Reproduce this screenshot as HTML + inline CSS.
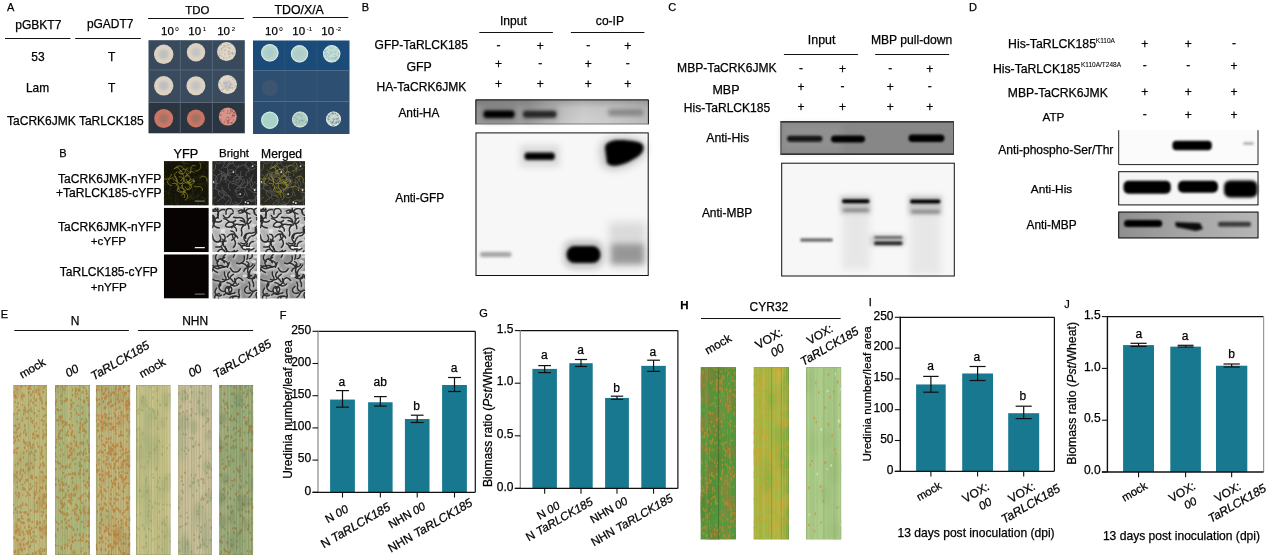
<!DOCTYPE html>
<html><head><meta charset="utf-8"><style>
html,body{margin:0;padding:0;background:#fff;width:1269px;height:557px;overflow:hidden}
svg{display:block;font-family:"Liberation Sans",sans-serif;will-change:transform} text{stroke:#000;stroke-width:0.25px}
</style></head><body>
<svg width="1269" height="557" viewBox="0 0 1269 557">
<defs><filter id="b05" x="-50%" y="-50%" width="200%" height="200%"><feGaussianBlur stdDeviation="0.5"/></filter><filter id="b1" x="-50%" y="-50%" width="200%" height="200%"><feGaussianBlur stdDeviation="1"/></filter><filter id="b15" x="-50%" y="-50%" width="200%" height="200%"><feGaussianBlur stdDeviation="1.5"/></filter><filter id="b2" x="-50%" y="-50%" width="200%" height="200%"><feGaussianBlur stdDeviation="2"/></filter><filter id="b3" x="-50%" y="-50%" width="200%" height="200%"><feGaussianBlur stdDeviation="3"/></filter><filter id="b4" x="-50%" y="-50%" width="200%" height="200%"><feGaussianBlur stdDeviation="4"/></filter><linearGradient id="gHA" x1="0" x2="1" y1="0" y2="0">
<stop offset="0" stop-color="#9a9a9a"/><stop offset="0.3" stop-color="#a2a2a2"/><stop offset="0.42" stop-color="#bcbcbc"/>
<stop offset="0.62" stop-color="#d2d2d2"/><stop offset="0.75" stop-color="#cdcdcd"/><stop offset="1" stop-color="#bababa"/></linearGradient><linearGradient id="gHAv" x1="0" x2="0" y1="0" y2="1">
<stop offset="0" stop-color="#000" stop-opacity="0.22"/><stop offset="0.35" stop-color="#000" stop-opacity="0.05"/><stop offset="1" stop-color="#000" stop-opacity="0"/></linearGradient><clipPath id="c00"><rect x="163.8" y="161.1" width="45.0" height="44.5"/></clipPath><clipPath id="c01"><rect x="212.2" y="161.1" width="45.0" height="44.5"/></clipPath><clipPath id="c02"><rect x="260.1" y="161.1" width="45.0" height="44.5"/></clipPath><clipPath id="c10"><rect x="163.8" y="207.7" width="45.0" height="44.5"/></clipPath><clipPath id="c11"><rect x="212.2" y="207.7" width="45.0" height="44.5"/></clipPath><clipPath id="c12"><rect x="260.1" y="207.7" width="45.0" height="44.5"/></clipPath><clipPath id="c20"><rect x="163.8" y="254.3" width="45.0" height="44.30000000000001"/></clipPath><clipPath id="c21"><rect x="212.2" y="254.3" width="45.0" height="44.30000000000001"/></clipPath><clipPath id="c22"><rect x="260.1" y="254.3" width="45.0" height="44.30000000000001"/></clipPath><linearGradient id="gMBP" x1="0" x2="1" y1="0" y2="0">
<stop offset="0" stop-color="#8e8e8e"/><stop offset="0.45" stop-color="#a4a4a4"/><stop offset="1" stop-color="#b6b6b6"/></linearGradient><clipPath id="lf1"><rect x="13.3" y="385" width="33.7" height="170"/></clipPath><clipPath id="lf2"><rect x="55" y="385" width="34.900000000000006" height="170"/></clipPath><clipPath id="lf3"><rect x="95.9" y="385" width="34.29999999999998" height="170"/></clipPath><clipPath id="lf4"><rect x="136" y="385" width="34.599999999999994" height="170"/></clipPath><clipPath id="lf5"><rect x="177.9" y="385" width="34.0" height="170"/></clipPath><clipPath id="lf6"><rect x="219.2" y="385" width="34.0" height="170"/></clipPath><clipPath id="lf21"><rect x="700.6" y="367.1" width="35.39999999999998" height="172.5"/></clipPath><clipPath id="lf22"><rect x="753.6" y="367.1" width="35.39999999999998" height="172.5"/></clipPath><linearGradient id="lg22" x1="0" x2="1" y1="0" y2="0"><stop offset="0" stop-color="#6a9a38" stop-opacity="0"/><stop offset="0.7" stop-color="#6a9a38" stop-opacity="0"/><stop offset="1" stop-color="#5a9a38" stop-opacity="0.6"/></linearGradient><clipPath id="lf23"><rect x="806" y="367.1" width="35.299999999999955" height="172.5"/></clipPath></defs>
<rect width="1269" height="557" fill="#fff"/>
<text x="7.1" y="10.7" font-size="11" text-anchor="start" fill="#000" id="A">A</text>
<text x="15.19" y="28.73" font-size="12.047" text-anchor="start" fill="#000" id="pGBKT7">pGBKT7</text>
<text x="86.92" y="27.83" font-size="11.982" text-anchor="start" fill="#000" id="pGADT7">pGADT7</text>
<line x1="5" y1="38.5" x2="70.5" y2="38.5" stroke="#111" stroke-width="1"/>
<line x1="75.2" y1="38.5" x2="140.8" y2="38.5" stroke="#111" stroke-width="1"/>
<text x="31.23" y="61.3" font-size="12" text-anchor="start" fill="#000" id="53">53</text>
<text x="107.91" y="61.3" font-size="12" text-anchor="start" fill="#000" id="T1">T</text>
<text x="26.0" y="91.86" font-size="11.898" text-anchor="start" fill="#000" id="Lam">Lam</text>
<text x="107.91" y="91.86" font-size="12" text-anchor="start" fill="#000" id="T2">T</text>
<text x="7.03" y="125.32" font-size="12.035" text-anchor="start" fill="#000" id="A_pair">TaCRK6JMK TaRLCK185</text>
<text x="185.36" y="13.61" font-size="11.454" text-anchor="start" fill="#000" id="TDO">TDO</text>
<line x1="148.1" y1="18.5" x2="243.9" y2="18.5" stroke="#111" stroke-width="1"/>
<text x="274.49" y="14.2" font-size="12.337" text-anchor="start" fill="#000" id="TDOXA">TDO/X/A</text>
<line x1="252.7" y1="17.5" x2="348.3" y2="17.5" stroke="#111" stroke-width="1"/>
<text x="161" y="34.8" font-size="11.5" text-anchor="start" fill="#000">10</text>
<text x="175.3" y="30.699999999999996" font-size="6.2" text-anchor="start" fill="#000" style="stroke-width:0.08px">0</text>
<text x="188.3" y="34.8" font-size="11.5" text-anchor="start" fill="#000">10</text>
<text x="202.8" y="30.699999999999996" font-size="6.2" text-anchor="start" fill="#000" style="stroke-width:0.08px">1</text>
<text x="217.2" y="34.8" font-size="11.5" text-anchor="start" fill="#000">10</text>
<text x="231.7" y="30.699999999999996" font-size="6.2" text-anchor="start" fill="#000" style="stroke-width:0.08px">2</text>
<text x="265" y="34.8" font-size="11.5" text-anchor="start" fill="#000">10</text>
<text x="279.3" y="30.699999999999996" font-size="6.2" text-anchor="start" fill="#000" style="stroke-width:0.08px">0</text>
<text x="292.3" y="34.8" font-size="11.5" text-anchor="start" fill="#000">10</text>
<text x="306.8" y="30.699999999999996" font-size="6.2" text-anchor="start" fill="#000" style="stroke-width:0.08px">-1</text>
<text x="321.3" y="34.8" font-size="11.5" text-anchor="start" fill="#000">10</text>
<text x="335.8" y="30.699999999999996" font-size="6.2" text-anchor="start" fill="#000" style="stroke-width:0.08px">-2</text>
<rect x="148.5" y="40.2" width="96.30000000000001" height="29.799999999999997" fill="#394a5d"/>
<rect x="148.5" y="70" width="96.30000000000001" height="32.3" fill="#3a4b5e"/>
<rect x="148.5" y="102.3" width="96.30000000000001" height="31.000000000000014" fill="#2b3540"/>
<line x1="180.3" y1="40.2" x2="180.3" y2="133.3" stroke="#5b6c80" stroke-width="0.8" opacity="1"/>
<line x1="212.4" y1="40.2" x2="212.4" y2="133.3" stroke="#5b6c80" stroke-width="0.8" opacity="1"/>
<line x1="148.5" y1="70" x2="244.8" y2="70" stroke="#5b6c80" stroke-width="0.8"/>
<line x1="148.5" y1="102.3" x2="244.8" y2="102.3" stroke="#5b6c80" stroke-width="0.8"/>
<circle cx="163.7" cy="54.3" r="9.7" fill="#ddd2c2" filter="url(#b05)"/>
<circle cx="163.7" cy="54.3" r="4.85" fill="#aab4c0" opacity="0.6" filter="url(#b1)"/>
<circle cx="196" cy="52.2" r="9.2" fill="#ddd2c2" filter="url(#b05)"/>
<circle cx="196" cy="52.2" r="4.6" fill="#b4bcc4" opacity="0.6" filter="url(#b1)"/>
<circle cx="226.5" cy="51.6" r="9.5" fill="#e0d6c6" filter="url(#b05)"/>
<circle cx="225.0" cy="54.6" r="0.75" fill="#9a9a98" opacity="0.45"/>
<circle cx="225.2" cy="49.7" r="0.75" fill="#9a9a98" opacity="0.45"/>
<circle cx="221.5" cy="50.4" r="0.75" fill="#9a9a98" opacity="0.45"/>
<circle cx="232.2" cy="53.8" r="0.75" fill="#9a9a98" opacity="0.45"/>
<circle cx="232.0" cy="52.9" r="0.75" fill="#9a9a98" opacity="0.45"/>
<circle cx="228.8" cy="52.7" r="0.75" fill="#9a9a98" opacity="0.45"/>
<circle cx="219.6" cy="55.2" r="0.75" fill="#9a9a98" opacity="0.45"/>
<circle cx="229.4" cy="54.4" r="0.75" fill="#9a9a98" opacity="0.45"/>
<circle cx="220.7" cy="45.6" r="0.75" fill="#9a9a98" opacity="0.45"/>
<circle cx="221.7" cy="49.1" r="0.75" fill="#9a9a98" opacity="0.45"/>
<circle cx="228.3" cy="51.3" r="0.75" fill="#9a9a98" opacity="0.45"/>
<circle cx="229.4" cy="48.0" r="0.75" fill="#9a9a98" opacity="0.45"/>
<circle cx="228.3" cy="53.9" r="0.75" fill="#9a9a98" opacity="0.45"/>
<circle cx="223.7" cy="58.8" r="0.75" fill="#9a9a98" opacity="0.45"/>
<circle cx="229.2" cy="57.5" r="0.75" fill="#9a9a98" opacity="0.45"/>
<circle cx="223.1" cy="47.6" r="0.75" fill="#9a9a98" opacity="0.45"/>
<circle cx="224.5" cy="51.0" r="0.75" fill="#9a9a98" opacity="0.45"/>
<circle cx="230.1" cy="53.0" r="0.75" fill="#9a9a98" opacity="0.45"/>
<circle cx="224.1" cy="46.5" r="0.75" fill="#9a9a98" opacity="0.45"/>
<circle cx="223.9" cy="57.6" r="0.75" fill="#9a9a98" opacity="0.45"/>
<circle cx="222.0" cy="53.0" r="0.75" fill="#9a9a98" opacity="0.45"/>
<circle cx="228.5" cy="44.7" r="0.75" fill="#9a9a98" opacity="0.45"/>
<circle cx="226.7" cy="58.1" r="0.75" fill="#9a9a98" opacity="0.45"/>
<circle cx="218.6" cy="50.3" r="0.75" fill="#9a9a98" opacity="0.45"/>
<circle cx="225.9" cy="47.1" r="0.75" fill="#9a9a98" opacity="0.45"/>
<circle cx="229.4" cy="51.2" r="0.75" fill="#9a9a98" opacity="0.45"/>
<circle cx="220.0" cy="55.3" r="0.75" fill="#9a9a98" opacity="0.45"/>
<circle cx="230.0" cy="56.5" r="0.75" fill="#9a9a98" opacity="0.45"/>
<circle cx="233.3" cy="53.3" r="0.75" fill="#9a9a98" opacity="0.45"/>
<circle cx="227.1" cy="45.2" r="0.75" fill="#9a9a98" opacity="0.45"/>
<circle cx="229.9" cy="48.2" r="0.75" fill="#9a9a98" opacity="0.45"/>
<circle cx="224.3" cy="45.4" r="0.75" fill="#9a9a98" opacity="0.45"/>
<circle cx="221.4" cy="48.8" r="0.75" fill="#9a9a98" opacity="0.45"/>
<circle cx="231.0" cy="44.6" r="0.75" fill="#9a9a98" opacity="0.45"/>
<circle cx="219.6" cy="52.7" r="0.75" fill="#9a9a98" opacity="0.45"/>
<circle cx="233.1" cy="54.3" r="0.75" fill="#9a9a98" opacity="0.45"/>
<circle cx="221.4" cy="44.8" r="0.75" fill="#9a9a98" opacity="0.45"/>
<circle cx="228.5" cy="47.5" r="0.75" fill="#9a9a98" opacity="0.45"/>
<circle cx="221.2" cy="56.2" r="0.75" fill="#9a9a98" opacity="0.45"/>
<circle cx="232.3" cy="52.4" r="0.75" fill="#9a9a98" opacity="0.45"/>
<circle cx="163.7" cy="85.8" r="9.7" fill="#ddd2c2" filter="url(#b05)"/>
<circle cx="163.7" cy="85.8" r="4.85" fill="#aab4c0" opacity="0.6" filter="url(#b1)"/>
<circle cx="195.9" cy="85.8" r="9.5" fill="#ddd2c2" filter="url(#b05)"/>
<circle cx="195.9" cy="85.8" r="4.75" fill="#b4bcc4" opacity="0.6" filter="url(#b1)"/>
<circle cx="227.5" cy="84.6" r="9.5" fill="#e2d8c8" filter="url(#b05)"/>
<circle cx="227.5" cy="84.6" r="4.75" fill="#b8bcc0" opacity="0.6" filter="url(#b1)"/>
<circle cx="228.9" cy="87.1" r="0.75" fill="#a0a0a0" opacity="0.45"/>
<circle cx="234.5" cy="87.3" r="0.75" fill="#a0a0a0" opacity="0.45"/>
<circle cx="230.4" cy="87.7" r="0.75" fill="#a0a0a0" opacity="0.45"/>
<circle cx="221.3" cy="89.7" r="0.75" fill="#a0a0a0" opacity="0.45"/>
<circle cx="232.5" cy="87.4" r="0.75" fill="#a0a0a0" opacity="0.45"/>
<circle cx="219.8" cy="82.1" r="0.75" fill="#a0a0a0" opacity="0.45"/>
<circle cx="230.9" cy="77.4" r="0.75" fill="#a0a0a0" opacity="0.45"/>
<circle cx="226.5" cy="90.0" r="0.75" fill="#a0a0a0" opacity="0.45"/>
<circle cx="222.4" cy="90.8" r="0.75" fill="#a0a0a0" opacity="0.45"/>
<circle cx="230.7" cy="83.7" r="0.75" fill="#a0a0a0" opacity="0.45"/>
<circle cx="229.3" cy="88.3" r="0.75" fill="#a0a0a0" opacity="0.45"/>
<circle cx="228.1" cy="90.5" r="0.75" fill="#a0a0a0" opacity="0.45"/>
<circle cx="223.8" cy="82.3" r="0.75" fill="#a0a0a0" opacity="0.45"/>
<circle cx="233.0" cy="84.7" r="0.75" fill="#a0a0a0" opacity="0.45"/>
<circle cx="223.1" cy="89.3" r="0.75" fill="#a0a0a0" opacity="0.45"/>
<circle cx="234.3" cy="82.5" r="0.75" fill="#a0a0a0" opacity="0.45"/>
<circle cx="220.8" cy="83.9" r="0.75" fill="#a0a0a0" opacity="0.45"/>
<circle cx="226.6" cy="82.8" r="0.75" fill="#a0a0a0" opacity="0.45"/>
<circle cx="233.6" cy="80.1" r="0.75" fill="#a0a0a0" opacity="0.45"/>
<circle cx="232.9" cy="79.2" r="0.75" fill="#a0a0a0" opacity="0.45"/>
<circle cx="223.3" cy="88.0" r="0.75" fill="#a0a0a0" opacity="0.45"/>
<circle cx="232.9" cy="88.7" r="0.75" fill="#a0a0a0" opacity="0.45"/>
<circle cx="229.6" cy="85.4" r="0.75" fill="#a0a0a0" opacity="0.45"/>
<circle cx="228.4" cy="87.9" r="0.75" fill="#a0a0a0" opacity="0.45"/>
<circle cx="226.4" cy="86.3" r="0.75" fill="#a0a0a0" opacity="0.45"/>
<circle cx="230.8" cy="84.6" r="0.75" fill="#a0a0a0" opacity="0.45"/>
<circle cx="231.6" cy="87.7" r="0.75" fill="#a0a0a0" opacity="0.45"/>
<circle cx="235.4" cy="85.9" r="0.75" fill="#a0a0a0" opacity="0.45"/>
<circle cx="225.0" cy="82.4" r="0.75" fill="#a0a0a0" opacity="0.45"/>
<circle cx="227.4" cy="89.6" r="0.75" fill="#a0a0a0" opacity="0.45"/>
<circle cx="225.5" cy="86.9" r="0.75" fill="#a0a0a0" opacity="0.45"/>
<circle cx="232.5" cy="77.7" r="0.75" fill="#a0a0a0" opacity="0.45"/>
<circle cx="221.7" cy="85.9" r="0.75" fill="#a0a0a0" opacity="0.45"/>
<circle cx="229.8" cy="86.0" r="0.75" fill="#a0a0a0" opacity="0.45"/>
<circle cx="225.1" cy="88.3" r="0.75" fill="#a0a0a0" opacity="0.45"/>
<circle cx="229.1" cy="81.6" r="0.75" fill="#a0a0a0" opacity="0.45"/>
<circle cx="235.8" cy="85.8" r="0.75" fill="#a0a0a0" opacity="0.45"/>
<circle cx="224.3" cy="84.0" r="0.75" fill="#a0a0a0" opacity="0.45"/>
<circle cx="226.1" cy="84.2" r="0.75" fill="#a0a0a0" opacity="0.45"/>
<circle cx="219.2" cy="83.1" r="0.75" fill="#a0a0a0" opacity="0.45"/>
<circle cx="163.7" cy="118.5" r="9.5" fill="#cc7666" filter="url(#b05)"/>
<circle cx="163.7" cy="118.5" r="4.75" fill="#8a7068" opacity="0.6" filter="url(#b1)"/>
<circle cx="195.9" cy="118.5" r="9" fill="#c87464" filter="url(#b05)"/>
<circle cx="195.9" cy="118.5" r="4.5" fill="#8a7068" opacity="0.6" filter="url(#b1)"/>
<circle cx="227.8" cy="116.6" r="9" fill="#d8948a" filter="url(#b05)"/>
<circle cx="232.2" cy="111.5" r="0.75" fill="#7a3434" opacity="0.45"/>
<circle cx="227.5" cy="121.5" r="0.75" fill="#7a3434" opacity="0.45"/>
<circle cx="231.3" cy="122.8" r="0.75" fill="#7a3434" opacity="0.45"/>
<circle cx="220.8" cy="115.1" r="0.75" fill="#7a3434" opacity="0.45"/>
<circle cx="226.0" cy="120.0" r="0.75" fill="#7a3434" opacity="0.45"/>
<circle cx="230.8" cy="109.2" r="0.75" fill="#7a3434" opacity="0.45"/>
<circle cx="232.2" cy="110.8" r="0.75" fill="#7a3434" opacity="0.45"/>
<circle cx="230.7" cy="110.3" r="0.75" fill="#7a3434" opacity="0.45"/>
<circle cx="228.6" cy="122.4" r="0.75" fill="#7a3434" opacity="0.45"/>
<circle cx="227.0" cy="117.7" r="0.75" fill="#7a3434" opacity="0.45"/>
<circle cx="232.0" cy="117.3" r="0.75" fill="#7a3434" opacity="0.45"/>
<circle cx="227.4" cy="123.3" r="0.75" fill="#7a3434" opacity="0.45"/>
<circle cx="233.0" cy="115.1" r="0.75" fill="#7a3434" opacity="0.45"/>
<circle cx="235.2" cy="113.5" r="0.75" fill="#7a3434" opacity="0.45"/>
<circle cx="232.5" cy="115.2" r="0.75" fill="#7a3434" opacity="0.45"/>
<circle cx="228.5" cy="120.4" r="0.75" fill="#7a3434" opacity="0.45"/>
<circle cx="229.0" cy="120.1" r="0.75" fill="#7a3434" opacity="0.45"/>
<circle cx="222.3" cy="111.2" r="0.75" fill="#7a3434" opacity="0.45"/>
<circle cx="230.8" cy="111.9" r="0.75" fill="#7a3434" opacity="0.45"/>
<circle cx="223.7" cy="110.7" r="0.75" fill="#7a3434" opacity="0.45"/>
<circle cx="233.5" cy="119.9" r="0.75" fill="#7a3434" opacity="0.45"/>
<circle cx="233.8" cy="112.8" r="0.75" fill="#7a3434" opacity="0.45"/>
<circle cx="227.8" cy="111.0" r="0.75" fill="#7a3434" opacity="0.45"/>
<circle cx="230.9" cy="123.1" r="0.75" fill="#7a3434" opacity="0.45"/>
<circle cx="224.2" cy="122.9" r="0.75" fill="#7a3434" opacity="0.45"/>
<circle cx="232.8" cy="115.7" r="0.75" fill="#7a3434" opacity="0.45"/>
<circle cx="221.4" cy="121.2" r="0.75" fill="#7a3434" opacity="0.45"/>
<circle cx="227.3" cy="113.3" r="0.75" fill="#7a3434" opacity="0.45"/>
<circle cx="230.0" cy="118.9" r="0.75" fill="#7a3434" opacity="0.45"/>
<circle cx="233.8" cy="112.5" r="0.75" fill="#7a3434" opacity="0.45"/>
<circle cx="232.3" cy="122.5" r="0.75" fill="#7a3434" opacity="0.45"/>
<circle cx="234.3" cy="115.8" r="0.75" fill="#7a3434" opacity="0.45"/>
<circle cx="224.3" cy="121.4" r="0.75" fill="#7a3434" opacity="0.45"/>
<circle cx="228.5" cy="117.3" r="0.75" fill="#7a3434" opacity="0.45"/>
<circle cx="234.2" cy="115.4" r="0.75" fill="#7a3434" opacity="0.45"/>
<circle cx="220.1" cy="115.3" r="0.75" fill="#7a3434" opacity="0.45"/>
<circle cx="220.9" cy="119.7" r="0.75" fill="#7a3434" opacity="0.45"/>
<circle cx="229.5" cy="113.3" r="0.75" fill="#7a3434" opacity="0.45"/>
<circle cx="227.7" cy="121.0" r="0.75" fill="#7a3434" opacity="0.45"/>
<circle cx="228.2" cy="122.8" r="0.75" fill="#7a3434" opacity="0.45"/>
<rect x="253" y="40.5" width="96.5" height="30.099999999999994" fill="#1b4b78"/>
<rect x="253" y="70.6" width="96.5" height="31.0" fill="#2d4f71"/>
<rect x="253" y="101.6" width="96.5" height="32.400000000000006" fill="#2c4d6f"/>
<line x1="284.7" y1="40.5" x2="284.7" y2="134" stroke="#4d6784" stroke-width="0.8" opacity="0.35"/>
<line x1="316.8" y1="40.5" x2="316.8" y2="134" stroke="#4d6784" stroke-width="0.8" opacity="0.35"/>
<line x1="253" y1="70.6" x2="349.5" y2="70.6" stroke="#4d6784" stroke-width="0.8"/>
<line x1="253" y1="101.6" x2="349.5" y2="101.6" stroke="#4d6784" stroke-width="0.8"/>
<circle cx="269.8" cy="52.8" r="8.8" fill="#b6d2ca" filter="url(#b05)"/>
<circle cx="269.8" cy="52.8" r="4.4" fill="#9fc9c6" opacity="0.6" filter="url(#b1)"/>
<circle cx="269.8" cy="52.8" r="8.200000000000001" fill="none" stroke="#eef8f6" stroke-width="1" opacity="0.7" filter="url(#b05)"/>
<circle cx="299.5" cy="53.8" r="8.7" fill="#b6d2ca" filter="url(#b05)"/>
<circle cx="299.5" cy="53.8" r="4.35" fill="#a5cbc9" opacity="0.6" filter="url(#b1)"/>
<circle cx="299.5" cy="53.8" r="8.1" fill="none" stroke="#eef8f6" stroke-width="1" opacity="0.7" filter="url(#b05)"/>
<circle cx="331.7" cy="53.8" r="8.7" fill="#c2ddd5" filter="url(#b05)"/>
<circle cx="331.7" cy="53.8" r="8.1" fill="none" stroke="#eef8f6" stroke-width="1" opacity="0.7" filter="url(#b05)"/>
<circle cx="331.4" cy="58.9" r="0.75" fill="#7fa8b0" opacity="0.45"/>
<circle cx="336.8" cy="59.3" r="0.75" fill="#7fa8b0" opacity="0.45"/>
<circle cx="328.5" cy="58.0" r="0.75" fill="#7fa8b0" opacity="0.45"/>
<circle cx="325.3" cy="50.1" r="0.75" fill="#7fa8b0" opacity="0.45"/>
<circle cx="325.1" cy="57.4" r="0.75" fill="#7fa8b0" opacity="0.45"/>
<circle cx="326.0" cy="53.7" r="0.75" fill="#7fa8b0" opacity="0.45"/>
<circle cx="330.6" cy="53.6" r="0.75" fill="#7fa8b0" opacity="0.45"/>
<circle cx="328.6" cy="55.0" r="0.75" fill="#7fa8b0" opacity="0.45"/>
<circle cx="338.7" cy="54.0" r="0.75" fill="#7fa8b0" opacity="0.45"/>
<circle cx="334.2" cy="58.6" r="0.75" fill="#7fa8b0" opacity="0.45"/>
<circle cx="330.8" cy="48.0" r="0.75" fill="#7fa8b0" opacity="0.45"/>
<circle cx="329.1" cy="58.8" r="0.75" fill="#7fa8b0" opacity="0.45"/>
<circle cx="325.2" cy="51.4" r="0.75" fill="#7fa8b0" opacity="0.45"/>
<circle cx="336.3" cy="57.4" r="0.75" fill="#7fa8b0" opacity="0.45"/>
<circle cx="331.7" cy="57.9" r="0.75" fill="#7fa8b0" opacity="0.45"/>
<circle cx="332.5" cy="48.3" r="0.75" fill="#7fa8b0" opacity="0.45"/>
<circle cx="325.4" cy="51.2" r="0.75" fill="#7fa8b0" opacity="0.45"/>
<circle cx="336.1" cy="51.1" r="0.75" fill="#7fa8b0" opacity="0.45"/>
<circle cx="327.5" cy="50.2" r="0.75" fill="#7fa8b0" opacity="0.45"/>
<circle cx="325.2" cy="53.3" r="0.75" fill="#7fa8b0" opacity="0.45"/>
<circle cx="326.2" cy="55.5" r="0.75" fill="#7fa8b0" opacity="0.45"/>
<circle cx="324.2" cy="54.8" r="0.75" fill="#7fa8b0" opacity="0.45"/>
<circle cx="329.4" cy="46.8" r="0.75" fill="#7fa8b0" opacity="0.45"/>
<circle cx="335.4" cy="52.4" r="0.75" fill="#7fa8b0" opacity="0.45"/>
<circle cx="324.6" cy="51.0" r="0.75" fill="#7fa8b0" opacity="0.45"/>
<circle cx="333.3" cy="51.4" r="0.75" fill="#7fa8b0" opacity="0.45"/>
<circle cx="335.5" cy="57.4" r="0.75" fill="#7fa8b0" opacity="0.45"/>
<circle cx="335.1" cy="55.5" r="0.75" fill="#7fa8b0" opacity="0.45"/>
<circle cx="337.4" cy="56.6" r="0.75" fill="#7fa8b0" opacity="0.45"/>
<circle cx="333.3" cy="46.6" r="0.75" fill="#7fa8b0" opacity="0.45"/>
<circle cx="335.4" cy="59.3" r="0.75" fill="#7fa8b0" opacity="0.45"/>
<circle cx="330.1" cy="51.3" r="0.75" fill="#7fa8b0" opacity="0.45"/>
<circle cx="337.4" cy="48.6" r="0.75" fill="#7fa8b0" opacity="0.45"/>
<circle cx="333.2" cy="61.3" r="0.75" fill="#7fa8b0" opacity="0.45"/>
<circle cx="327.3" cy="57.1" r="0.75" fill="#7fa8b0" opacity="0.45"/>
<circle cx="338.8" cy="53.3" r="0.75" fill="#7fa8b0" opacity="0.45"/>
<circle cx="334.4" cy="58.2" r="0.75" fill="#7fa8b0" opacity="0.45"/>
<circle cx="327.2" cy="53.4" r="0.75" fill="#7fa8b0" opacity="0.45"/>
<circle cx="333.2" cy="58.0" r="0.75" fill="#7fa8b0" opacity="0.45"/>
<circle cx="331.5" cy="52.7" r="0.75" fill="#7fa8b0" opacity="0.45"/>
<circle cx="269.8" cy="88" r="8" fill="#3d5470" filter="url(#b05)"/>
<circle cx="269.8" cy="120.2" r="8.7" fill="#a9d2c8" filter="url(#b05)"/>
<circle cx="269.8" cy="120.2" r="8.1" fill="none" stroke="#eef8f6" stroke-width="1" opacity="0.7" filter="url(#b05)"/>
<circle cx="300" cy="119.5" r="8" fill="#b3cfc3" filter="url(#b05)"/>
<circle cx="300" cy="119.5" r="7.4" fill="none" stroke="#eef8f6" stroke-width="1" opacity="0.7" filter="url(#b05)"/>
<circle cx="295.5" cy="117.9" r="0.75" fill="#7f9f9f" opacity="0.45"/>
<circle cx="304.1" cy="120.0" r="0.75" fill="#7f9f9f" opacity="0.45"/>
<circle cx="296.3" cy="115.9" r="0.75" fill="#7f9f9f" opacity="0.45"/>
<circle cx="306.6" cy="122.3" r="0.75" fill="#7f9f9f" opacity="0.45"/>
<circle cx="301.7" cy="112.6" r="0.75" fill="#7f9f9f" opacity="0.45"/>
<circle cx="302.9" cy="121.8" r="0.75" fill="#7f9f9f" opacity="0.45"/>
<circle cx="306.2" cy="121.1" r="0.75" fill="#7f9f9f" opacity="0.45"/>
<circle cx="299.7" cy="122.1" r="0.75" fill="#7f9f9f" opacity="0.45"/>
<circle cx="293.9" cy="122.7" r="0.75" fill="#7f9f9f" opacity="0.45"/>
<circle cx="301.5" cy="116.2" r="0.75" fill="#7f9f9f" opacity="0.45"/>
<circle cx="304.1" cy="125.1" r="0.75" fill="#7f9f9f" opacity="0.45"/>
<circle cx="294.6" cy="116.9" r="0.75" fill="#7f9f9f" opacity="0.45"/>
<circle cx="301.5" cy="120.4" r="0.75" fill="#7f9f9f" opacity="0.45"/>
<circle cx="298.2" cy="115.2" r="0.75" fill="#7f9f9f" opacity="0.45"/>
<circle cx="306.3" cy="122.6" r="0.75" fill="#7f9f9f" opacity="0.45"/>
<circle cx="295.7" cy="114.7" r="0.75" fill="#7f9f9f" opacity="0.45"/>
<circle cx="305.8" cy="122.8" r="0.75" fill="#7f9f9f" opacity="0.45"/>
<circle cx="306.1" cy="122.2" r="0.75" fill="#7f9f9f" opacity="0.45"/>
<circle cx="296.0" cy="120.7" r="0.75" fill="#7f9f9f" opacity="0.45"/>
<circle cx="293.5" cy="117.2" r="0.75" fill="#7f9f9f" opacity="0.45"/>
<circle cx="299.7" cy="122.1" r="0.75" fill="#7f9f9f" opacity="0.45"/>
<circle cx="296.5" cy="118.9" r="0.75" fill="#7f9f9f" opacity="0.45"/>
<circle cx="302.2" cy="121.3" r="0.75" fill="#7f9f9f" opacity="0.45"/>
<circle cx="303.1" cy="120.5" r="0.75" fill="#7f9f9f" opacity="0.45"/>
<circle cx="298.5" cy="123.2" r="0.75" fill="#7f9f9f" opacity="0.45"/>
<circle cx="300.2" cy="115.6" r="0.75" fill="#7f9f9f" opacity="0.45"/>
<circle cx="297.0" cy="119.5" r="0.75" fill="#7f9f9f" opacity="0.45"/>
<circle cx="299.4" cy="120.3" r="0.75" fill="#7f9f9f" opacity="0.45"/>
<circle cx="300.0" cy="120.4" r="0.75" fill="#7f9f9f" opacity="0.45"/>
<circle cx="299.4" cy="114.2" r="0.75" fill="#7f9f9f" opacity="0.45"/>
<circle cx="301.8" cy="124.1" r="0.75" fill="#7f9f9f" opacity="0.45"/>
<circle cx="302.2" cy="118.6" r="0.75" fill="#7f9f9f" opacity="0.45"/>
<circle cx="302.0" cy="115.2" r="0.75" fill="#7f9f9f" opacity="0.45"/>
<circle cx="293.4" cy="119.7" r="0.75" fill="#7f9f9f" opacity="0.45"/>
<circle cx="296.0" cy="122.7" r="0.75" fill="#7f9f9f" opacity="0.45"/>
<circle cx="297.3" cy="112.9" r="0.75" fill="#7f9f9f" opacity="0.45"/>
<circle cx="296.4" cy="125.0" r="0.75" fill="#7f9f9f" opacity="0.45"/>
<circle cx="298.5" cy="114.0" r="0.75" fill="#7f9f9f" opacity="0.45"/>
<circle cx="296.5" cy="121.9" r="0.75" fill="#7f9f9f" opacity="0.45"/>
<circle cx="302.4" cy="120.4" r="0.75" fill="#7f9f9f" opacity="0.45"/>
<circle cx="333.5" cy="119" r="7.5" fill="#c8d8cf" filter="url(#b05)"/>
<circle cx="333.5" cy="119" r="6.9" fill="none" stroke="#eef8f6" stroke-width="1" opacity="0.7" filter="url(#b05)"/>
<circle cx="338.7" cy="121.5" r="0.75" fill="#4a6a80" opacity="0.45"/>
<circle cx="333.4" cy="121.7" r="0.75" fill="#4a6a80" opacity="0.45"/>
<circle cx="338.8" cy="122.1" r="0.75" fill="#4a6a80" opacity="0.45"/>
<circle cx="337.3" cy="115.0" r="0.75" fill="#4a6a80" opacity="0.45"/>
<circle cx="332.8" cy="122.3" r="0.75" fill="#4a6a80" opacity="0.45"/>
<circle cx="332.3" cy="123.4" r="0.75" fill="#4a6a80" opacity="0.45"/>
<circle cx="336.0" cy="122.8" r="0.75" fill="#4a6a80" opacity="0.45"/>
<circle cx="333.0" cy="125.6" r="0.75" fill="#4a6a80" opacity="0.45"/>
<circle cx="338.4" cy="118.1" r="0.75" fill="#4a6a80" opacity="0.45"/>
<circle cx="333.7" cy="125.6" r="0.75" fill="#4a6a80" opacity="0.45"/>
<circle cx="332.0" cy="122.8" r="0.75" fill="#4a6a80" opacity="0.45"/>
<circle cx="337.7" cy="119.0" r="0.75" fill="#4a6a80" opacity="0.45"/>
<circle cx="328.8" cy="119.8" r="0.75" fill="#4a6a80" opacity="0.45"/>
<circle cx="335.0" cy="123.6" r="0.75" fill="#4a6a80" opacity="0.45"/>
<circle cx="337.0" cy="119.1" r="0.75" fill="#4a6a80" opacity="0.45"/>
<circle cx="337.1" cy="121.3" r="0.75" fill="#4a6a80" opacity="0.45"/>
<circle cx="334.5" cy="119.3" r="0.75" fill="#4a6a80" opacity="0.45"/>
<circle cx="332.4" cy="122.1" r="0.75" fill="#4a6a80" opacity="0.45"/>
<circle cx="329.3" cy="116.5" r="0.75" fill="#4a6a80" opacity="0.45"/>
<circle cx="333.5" cy="113.5" r="0.75" fill="#4a6a80" opacity="0.45"/>
<circle cx="332.2" cy="112.8" r="0.75" fill="#4a6a80" opacity="0.45"/>
<circle cx="330.5" cy="121.5" r="0.75" fill="#4a6a80" opacity="0.45"/>
<circle cx="336.1" cy="118.7" r="0.75" fill="#4a6a80" opacity="0.45"/>
<circle cx="332.6" cy="113.7" r="0.75" fill="#4a6a80" opacity="0.45"/>
<circle cx="339.4" cy="120.7" r="0.75" fill="#4a6a80" opacity="0.45"/>
<circle cx="337.7" cy="115.6" r="0.75" fill="#4a6a80" opacity="0.45"/>
<circle cx="332.9" cy="112.9" r="0.75" fill="#4a6a80" opacity="0.45"/>
<circle cx="336.6" cy="122.8" r="0.75" fill="#4a6a80" opacity="0.45"/>
<circle cx="327.3" cy="118.8" r="0.75" fill="#4a6a80" opacity="0.45"/>
<circle cx="335.6" cy="113.2" r="0.75" fill="#4a6a80" opacity="0.45"/>
<circle cx="328.0" cy="115.8" r="0.75" fill="#4a6a80" opacity="0.45"/>
<circle cx="331.2" cy="113.9" r="0.75" fill="#4a6a80" opacity="0.45"/>
<circle cx="333.6" cy="120.2" r="0.75" fill="#4a6a80" opacity="0.45"/>
<circle cx="336.2" cy="122.0" r="0.75" fill="#4a6a80" opacity="0.45"/>
<circle cx="338.4" cy="122.8" r="0.75" fill="#4a6a80" opacity="0.45"/>
<circle cx="328.5" cy="117.1" r="0.75" fill="#4a6a80" opacity="0.45"/>
<circle cx="329.6" cy="115.0" r="0.75" fill="#4a6a80" opacity="0.45"/>
<circle cx="333.1" cy="119.0" r="0.75" fill="#4a6a80" opacity="0.45"/>
<circle cx="335.2" cy="113.4" r="0.75" fill="#4a6a80" opacity="0.45"/>
<circle cx="328.6" cy="118.9" r="0.75" fill="#4a6a80" opacity="0.45"/>
<text x="361.87" y="11.36" font-size="11" text-anchor="start" fill="#000" id="B1">B</text>
<text x="500.02" y="24.64" font-size="12.047" text-anchor="start" fill="#000" id="B_input">Input</text>
<line x1="479.3" y1="32.5" x2="552.9" y2="32.5" stroke="#111" stroke-width="1"/>
<text x="595.86" y="24.64" font-size="12.079" text-anchor="start" fill="#000" id="coIP">co-IP</text>
<line x1="570.9" y1="32.5" x2="644.4" y2="32.5" stroke="#111" stroke-width="1"/>
<text x="374.58" y="49.22" font-size="12.012" text-anchor="start" fill="#000" id="GFP-Ta">GFP-TaRLCK185</text>
<text x="406.47" y="70.54" font-size="12.347" text-anchor="start" fill="#000" id="GFP">GFP</text>
<text x="376.59" y="90.75" font-size="12.058" text-anchor="start" fill="#000" id="HA-Ta">HA-TaCRK6JMK</text>
<text x="498.4" y="48.699999999999996" font-size="12" text-anchor="middle" fill="#000" stroke="#111" stroke-width="0.3">-</text>
<text x="540.3" y="49.599999999999994" font-size="12" text-anchor="middle" fill="#000" stroke="#111" stroke-width="0.3">+</text>
<text x="588.3" y="48.699999999999996" font-size="12" text-anchor="middle" fill="#000" stroke="#111" stroke-width="0.3">-</text>
<text x="627.8" y="49.599999999999994" font-size="12" text-anchor="middle" fill="#000" stroke="#111" stroke-width="0.3">+</text>
<text x="498.4" y="67.5" font-size="12" text-anchor="middle" fill="#000" stroke="#111" stroke-width="0.3">+</text>
<text x="540.3" y="66.60000000000001" font-size="12" text-anchor="middle" fill="#000" stroke="#111" stroke-width="0.3">-</text>
<text x="588.3" y="67.5" font-size="12" text-anchor="middle" fill="#000" stroke="#111" stroke-width="0.3">+</text>
<text x="627.8" y="66.60000000000001" font-size="12" text-anchor="middle" fill="#000" stroke="#111" stroke-width="0.3">-</text>
<text x="498.4" y="87.7" font-size="12" text-anchor="middle" fill="#000" stroke="#111" stroke-width="0.3">+</text>
<text x="540.3" y="87.7" font-size="12" text-anchor="middle" fill="#000" stroke="#111" stroke-width="0.3">+</text>
<text x="588.3" y="87.7" font-size="12" text-anchor="middle" fill="#000" stroke="#111" stroke-width="0.3">+</text>
<text x="627.8" y="87.7" font-size="12" text-anchor="middle" fill="#000" stroke="#111" stroke-width="0.3">+</text>
<text x="398.46" y="117.3" font-size="11.897" text-anchor="start" fill="#000" id="AntiHA">Anti-HA</text>
<text x="395.22" y="201.55" font-size="11.922" text-anchor="start" fill="#000" id="AntiGFP">Anti-GFP</text>
<rect x="475.4" y="99.4" width="173.4" height="24.8" fill="url(#gHA)"/>
<rect x="475.4" y="99.4" width="173.4" height="24.8" fill="url(#gHAv)"/>
<rect x="482" y="106" width="34" height="16" fill="#555" opacity="0.35" filter="url(#b3)"/>
<rect x="522" y="106" width="36" height="16" fill="#666" opacity="0.3" filter="url(#b3)"/>
<rect x="483.5" y="110.55" width="31.0" height="7.5" rx="3" fill="#000" opacity="1" filter="url(#b15)"/>
<rect x="523" y="110.8" width="33.5" height="7" rx="3" fill="#202020" opacity="0.95" filter="url(#b15)"/>
<rect x="608" y="109.25" width="35.5" height="6.5" rx="3" fill="#777" opacity="0.8" filter="url(#b2)"/>
<path d="M475.9,124.2 V99.9 H648.4 V124.2" fill="none" stroke="#111" stroke-width="1"/>
<line x1="475.4" y1="124" x2="648.9" y2="124" stroke="#666" stroke-width="0.8"/>
<rect x="475.5" y="132.4" width="173.2" height="143.6" fill="#f7f7f7"/>
<rect x="520" y="145" width="40" height="22" fill="#aaa" opacity="0.35" filter="url(#b3)"/>
<rect x="524.5" y="152.45" width="30.299999999999955" height="7.5" rx="3" fill="#000" opacity="1" filter="url(#b15)"/>
<path d="M600,150 C600,138 618,136 630,138 C640,140 646,142 646,148 C646,156 640,160 632,164 C622,170 606,172 602,164 Z" fill="#777" opacity="0.45" filter="url(#b4)"/>
<path d="M605,148 C605,140 618,139.5 628,140.5 C637,141.5 643,142 643.5,147 C644,152 640,156 632,160 C624,165 612,168.5 607,163 Z" fill="#000" filter="url(#b15)"/>
<rect x="480" y="251.9" width="31.5" height="5" rx="2" fill="#888" opacity="0.75" filter="url(#b15)"/>
<rect x="563" y="240" width="41" height="29" rx="10" fill="#666" opacity="0.35" filter="url(#b3)"/>
<rect x="566.5" y="246.1" width="34.0" height="17" rx="8" fill="#000" opacity="1" filter="url(#b15)"/>
<rect x="609" y="222" width="37" height="45" fill="#999" opacity="0.3" filter="url(#b4)"/>
<rect x="611" y="244" width="33" height="20" fill="#555" opacity="0.5" filter="url(#b3)"/>
<rect x="476" y="132.9" width="172.2" height="142.6" fill="none" stroke="#111" stroke-width="1"/>
<text x="59.32" y="156.89" font-size="11" text-anchor="start" fill="#000" id="B2">B</text>
<text x="173.54" y="157.96" font-size="12.671" text-anchor="start" fill="#000" id="YFP">YFP</text>
<text x="219.03" y="157.06" font-size="11.512" text-anchor="start" fill="#000" id="Bright">Bright</text>
<text x="261.08" y="157.96" font-size="12.104" text-anchor="start" fill="#000" id="Merged">Merged</text>
<text x="58.03" y="183.16" font-size="12.073" text-anchor="start" fill="#000" id="bf1a">TaCRK6JMK-nYFP</text>
<text x="55.95" y="197.47" font-size="12.092" text-anchor="start" fill="#000" id="bf1b">+TaRLCK185-cYFP</text>
<text x="58.03" y="230.52" font-size="12.073" text-anchor="start" fill="#000" id="bf2a">TaCRK6JMK-nYFP</text>
<text x="90.78" y="244.85" font-size="11.656" text-anchor="start" fill="#000" id="bf2b">+cYFP</text>
<text x="59.84" y="276.42" font-size="12.0" text-anchor="start" fill="#000" id="bf3a">TaRLCK185-cYFP</text>
<text x="90.78" y="290.85" font-size="11.656" text-anchor="start" fill="#000" id="bf3b">+nYFP</text>
<g clip-path="url(#c00)">
<rect x="163.8" y="161.1" width="45.0" height="44.5" fill="#141408"/>
<g filter="url(#b05)" opacity="0.8"><path d="M184.0,169.5 Q182.7,167.2 181.6,166.6 Q180.5,165.9 179.2,165.9 Q177.9,166.0 176.8,166.7 Q175.7,167.4 175.1,168.5 M187.5,167.9 Q185.6,169.6 185.4,170.9 Q185.2,172.2 184.2,173.1 Q183.2,174.0 181.9,174.1 Q180.6,174.2 179.5,173.5 M171.4,174.2 Q170.7,176.7 169.8,177.6 Q168.9,178.5 167.7,178.9 Q166.4,179.3 165.2,179.0 Q163.9,178.7 162.9,177.9 M178.4,172.2 Q180.9,171.6 181.7,170.6 Q182.5,169.5 183.7,169.2 Q185.0,168.9 186.1,169.5 Q187.3,170.1 187.8,171.3 M182.3,172.2 Q180.0,170.9 179.6,169.7 Q179.3,168.4 178.1,167.8 Q177.0,167.2 175.7,167.6 Q174.5,168.0 173.9,169.1 M186.2,173.0 Q187.2,175.4 188.4,175.9 Q189.6,176.4 190.1,177.6 Q190.6,178.8 190.1,180.0 Q189.7,181.2 188.5,181.7 M190.1,173.4 Q191.3,171.0 190.9,169.8 Q190.6,168.5 191.1,167.4 Q191.7,166.2 192.9,165.7 Q194.1,165.3 195.3,165.7 M195.7,171.2 Q198.2,170.7 199.2,169.8 Q200.2,169.0 200.6,167.7 Q201.0,166.5 200.8,165.2 Q200.5,163.9 199.7,162.9 M172.2,177.6 Q173.6,179.8 174.9,180.1 Q176.2,180.4 176.9,181.5 Q177.6,182.5 177.3,183.8 Q177.1,185.1 176.0,185.9 M175.4,176.4 Q177.0,178.5 177.0,179.8 Q177.0,181.1 177.8,182.1 Q178.6,183.1 179.9,183.5 Q181.1,183.9 182.3,183.5 M179.1,176.8 Q181.7,176.9 182.6,177.8 Q183.6,178.7 183.7,180.0 Q183.7,181.3 182.9,182.3 Q182.1,183.3 180.9,183.6 M185.2,176.0 Q187.5,174.9 188.1,173.8 Q188.7,172.6 189.8,172.0 Q191.0,171.5 192.3,171.8 Q193.6,172.0 194.4,173.0 M188.9,175.7 Q186.3,175.8 185.3,176.7 Q184.3,177.5 184.1,178.8 Q183.9,180.1 184.5,181.2 Q185.1,182.4 186.3,182.9 M193.5,178.8 Q194.4,181.3 193.9,182.4 Q193.3,183.6 192.1,184.1 Q190.9,184.6 189.7,184.2 Q188.5,183.7 187.9,182.5 M199.5,177.9 Q201.5,176.2 202.8,176.2 Q204.1,176.1 205.2,176.8 Q206.3,177.5 206.8,178.7 Q207.2,179.9 206.9,181.2 M172.6,183.4 Q175.2,183.1 176.3,183.7 Q177.4,184.4 178.0,185.6 Q178.5,186.7 178.2,188.0 Q177.9,189.3 176.9,190.1 M177.0,181.6 Q176.7,179.0 175.7,178.1 Q174.8,177.2 174.6,175.9 Q174.5,174.7 175.1,173.5 Q175.8,172.4 177.1,172.0 M180.7,180.5 Q183.0,179.1 183.4,177.9 Q183.9,176.7 183.5,175.5 Q183.1,174.2 182.0,173.5 Q180.9,172.8 179.6,172.9 M187.3,181.0 Q189.4,182.5 189.9,183.7 Q190.4,184.9 190.2,186.2 Q190.0,187.5 189.2,188.5 Q188.4,189.5 187.1,189.9 M190.6,182.6 Q188.1,183.4 186.9,183.0 Q185.7,182.5 184.5,182.9 Q183.2,183.3 182.5,184.4 Q181.8,185.5 181.9,186.8 M194.8,181.0 Q192.2,180.9 191.3,181.8 Q190.4,182.7 189.1,182.7 Q187.8,182.6 186.9,181.7 Q186.0,180.7 186.1,179.4 M171.6,185.5 Q169.1,185.0 168.3,183.9 Q167.5,182.9 167.6,181.6 Q167.8,180.3 168.7,179.4 Q169.7,178.5 171.0,178.5 M178.0,186.8 Q178.4,189.4 179.3,190.3 Q180.2,191.3 181.5,191.6 Q182.8,191.8 184.0,191.4 Q185.2,190.9 185.9,189.8 M182.1,185.7 Q182.3,188.3 183.2,189.2 Q184.1,190.1 184.2,191.4 Q184.3,192.7 183.5,193.7 Q182.7,194.8 181.5,195.0 M185.1,187.3 Q186.8,189.3 188.1,189.4 Q189.3,189.6 190.4,188.8 Q191.4,188.0 191.6,186.7 Q191.7,185.4 190.9,184.4 M189.5,185.1 Q188.2,182.9 188.6,181.6 Q189.0,180.4 190.2,179.9 Q191.4,179.4 192.6,179.9 Q193.8,180.4 194.2,181.7 M194.4,186.3 Q196.8,187.2 198.0,186.7 Q199.2,186.2 200.4,186.7 Q201.6,187.1 202.2,188.3 Q202.8,189.5 202.3,190.7 M177.2,190.8 Q179.4,192.3 180.7,192.3 Q182.0,192.2 183.0,193.0 Q184.1,193.7 184.5,195.0 Q185.0,196.2 184.6,197.4 M183.4,192.0 Q185.9,192.6 186.8,193.6 Q187.6,194.6 187.7,195.9 Q187.8,197.2 187.1,198.3 Q186.5,199.5 185.3,200.0 M185.5,192.2 Q184.8,189.7 183.8,188.8 Q182.9,188.0 181.6,187.8 Q180.3,187.6 179.1,188.1 Q177.9,188.6 177.2,189.7" fill="none" stroke="#a49c2a" stroke-width="0.8" stroke-linecap="round"/></g>
<g opacity="0.3"><path d="M162.7,158.4 Q165.7,158.6 166.8,157.5 Q167.8,156.4 169.3,156.5 Q170.8,156.5 171.7,157.7 Q172.7,158.9 172.4,160.4 M169.7,157.4 Q169.7,154.4 168.8,153.2 Q167.9,152.1 166.4,151.8 Q164.9,151.5 163.6,152.2 Q162.3,152.9 161.7,154.3 M174.2,157.3 Q176.9,158.7 178.4,158.7 Q179.9,158.7 181.1,157.9 Q182.4,157.1 183.2,155.8 Q183.9,154.5 183.9,153.0 M180.9,158.5 Q178.0,159.2 176.7,158.5 Q175.4,157.7 173.9,158.1 Q172.5,158.4 171.7,159.7 Q170.9,161.0 171.3,162.5 M192.0,159.2 Q189.4,157.8 187.9,157.8 Q186.4,157.9 185.1,158.7 Q183.9,159.5 183.2,160.9 Q182.5,162.2 182.6,163.7 M199.1,155.7 Q198.0,158.5 198.4,159.9 Q198.8,161.3 200.1,162.2 Q201.3,163.0 202.8,162.9 Q204.3,162.7 205.4,161.7 M204.2,159.9 Q204.8,157.0 204.0,155.7 Q203.3,154.4 203.6,152.9 Q203.8,151.4 205.0,150.4 Q206.1,149.4 207.6,149.4 M211.5,158.4 Q208.9,157.0 208.3,155.6 Q207.7,154.2 208.2,152.8 Q208.6,151.3 209.9,150.5 Q211.2,149.7 212.6,149.9 M159.1,166.0 Q156.8,167.9 155.3,167.8 Q153.8,167.6 152.6,168.6 Q151.5,169.5 151.4,171.0 Q151.3,172.5 152.3,173.6 M166.7,163.4 Q163.8,164.4 162.4,164.0 Q161.0,163.5 160.2,162.2 Q159.4,161.0 159.5,159.5 Q159.7,158.0 160.8,156.9 M174.6,162.3 Q177.1,160.6 178.6,160.4 Q180.0,160.3 181.3,159.5 Q182.5,158.6 183.2,157.3 Q183.8,155.9 183.8,154.4 M182.5,162.4 Q185.1,163.9 186.5,163.5 Q188.0,163.1 189.3,163.9 Q190.6,164.6 191.0,166.1 Q191.4,167.5 190.7,168.8 M186.5,163.5 Q183.6,162.9 182.6,161.8 Q181.5,160.7 181.4,159.2 Q181.2,157.7 181.9,156.4 Q182.6,155.1 183.9,154.4 M193.4,164.4 Q192.2,167.2 190.9,167.9 Q189.6,168.6 188.1,168.4 Q186.6,168.2 185.6,167.1 Q184.6,166.0 184.4,164.5 M204.3,163.3 Q206.5,165.4 206.5,166.9 Q206.5,168.4 207.6,169.4 Q208.7,170.4 210.2,170.3 Q211.7,170.2 212.6,169.0 M208.1,165.8 Q208.6,162.9 207.7,161.7 Q206.8,160.5 205.3,160.3 Q203.8,160.2 202.7,161.2 Q201.6,162.2 201.6,163.7 M161.5,173.0 Q159.3,175.0 159.0,176.5 Q158.8,178.0 159.6,179.2 Q160.4,180.5 161.9,180.9 Q163.3,181.3 164.7,180.7 M172.5,171.6 Q174.3,174.1 174.0,175.5 Q173.7,177.0 172.4,177.8 Q171.2,178.6 169.7,178.3 Q168.2,177.9 167.5,176.6 M176.0,169.7 Q178.3,167.8 179.8,167.8 Q181.3,167.8 182.5,166.8 Q183.7,165.9 184.0,164.4 Q184.3,163.0 183.6,161.6 M185.0,171.3 Q186.5,168.7 187.9,168.1 Q189.2,167.5 190.7,167.7 Q192.2,168.0 193.3,169.0 Q194.4,170.0 194.7,171.5 M190.0,173.8 Q188.0,171.5 188.0,170.0 Q188.1,168.5 187.1,167.4 Q186.1,166.3 184.6,166.2 Q183.1,166.0 181.9,166.9 M197.1,170.4 Q194.6,168.7 193.1,168.6 Q191.6,168.5 190.3,169.2 Q188.9,169.9 188.2,171.2 Q187.4,172.5 187.4,174.0 M204.7,170.3 Q203.4,173.0 203.7,174.5 Q204.0,175.9 205.2,176.8 Q206.4,177.7 207.9,177.7 Q209.4,177.6 210.5,176.6 M214.2,173.9 Q216.1,171.6 217.6,171.3 Q219.1,171.0 220.1,169.9 Q221.0,168.7 221.1,167.2 Q221.2,165.7 220.4,164.5 M160.2,178.9 Q162.8,180.5 163.2,181.9 Q163.7,183.4 164.9,184.2 Q166.2,185.0 167.7,184.8 Q169.2,184.6 170.2,183.5 M169.7,180.6 Q168.3,178.0 166.8,177.6 Q165.3,177.3 164.6,176.0 Q163.9,174.7 164.3,173.2 Q164.7,171.8 166.1,171.2 M177.1,178.0 Q178.3,180.8 178.0,182.3 Q177.7,183.7 178.3,185.1 Q178.9,186.5 180.1,187.4 Q181.3,188.3 182.8,188.3 M184.2,179.5 Q181.7,181.3 181.2,182.7 Q180.6,184.1 179.4,184.9 Q178.2,185.8 176.7,185.9 Q175.2,186.0 173.9,185.2 M190.6,179.0 Q192.1,181.6 191.9,183.1 Q191.7,184.6 190.7,185.7 Q189.8,186.9 188.3,187.2 Q186.8,187.6 185.4,187.0 M195.0,176.6 Q196.1,179.4 197.4,180.0 Q198.8,180.6 200.2,180.1 Q201.6,179.7 202.3,178.3 Q203.0,177.0 202.5,175.5 M205.8,177.9 Q207.7,180.3 207.6,181.8 Q207.5,183.3 208.5,184.5 Q209.4,185.7 210.9,185.9 Q212.3,186.2 213.6,185.5 M208.5,179.1 Q205.6,178.3 204.6,177.2 Q203.6,176.1 202.1,175.7 Q200.7,175.4 199.2,175.8 Q197.8,176.2 196.7,177.2 M163.0,187.3 Q163.6,184.4 164.6,183.3 Q165.7,182.2 167.1,181.9 Q168.6,181.5 170.0,182.0 Q171.4,182.6 172.3,183.8 M170.7,186.6 Q170.4,189.6 169.4,190.7 Q168.4,191.8 168.3,193.3 Q168.2,194.8 169.0,196.1 Q169.8,197.4 171.1,197.9 M178.7,185.4 Q177.1,182.9 175.6,182.6 Q174.1,182.2 173.3,181.0 Q172.5,179.7 172.9,178.3 Q173.2,176.8 174.5,176.0 M184.9,186.9 Q181.9,186.7 180.8,185.6 Q179.8,184.5 179.7,183.0 Q179.7,181.5 180.7,180.3 Q181.6,179.2 183.1,179.0 M191.9,186.5 Q191.9,189.5 192.7,190.7 Q193.6,192.0 193.5,193.5 Q193.5,195.0 192.6,196.2 Q191.8,197.4 190.3,197.9 M198.0,184.7 Q201.0,184.9 202.1,183.9 Q203.3,182.9 204.8,183.0 Q206.3,183.1 207.2,184.3 Q208.2,185.4 208.1,186.9 M205.6,185.3 Q202.6,185.3 201.6,184.2 Q200.6,183.2 199.1,183.2 Q197.6,183.2 196.6,184.3 Q195.6,185.5 195.7,187.0 M212.1,187.4 Q215.1,187.1 216.5,187.8 Q217.8,188.5 219.3,188.3 Q220.8,188.2 222.0,187.3 Q223.2,186.4 223.7,185.0 M161.2,194.1 Q158.2,194.2 157.0,193.3 Q155.8,192.3 154.3,192.4 Q152.8,192.5 151.8,193.5 Q150.7,194.6 150.5,196.0 M167.0,192.0 Q164.0,191.8 163.0,190.7 Q162.0,189.6 160.5,189.5 Q159.0,189.4 157.9,190.4 Q156.7,191.4 156.6,192.9 M175.8,194.2 Q176.4,197.2 175.7,198.5 Q175.0,199.8 175.3,201.3 Q175.6,202.8 176.8,203.7 Q177.9,204.7 179.4,204.7 M183.1,194.4 Q185.9,193.6 187.2,194.4 Q188.5,195.2 188.7,196.7 Q189.0,198.2 188.0,199.3 Q187.1,200.5 185.6,200.6 M189.7,194.4 Q190.9,197.1 192.2,197.8 Q193.6,198.4 195.0,197.9 Q196.4,197.4 197.1,196.1 Q197.8,194.8 197.4,193.3 M195.7,190.4 Q195.2,187.4 194.1,186.3 Q193.1,185.2 191.7,184.8 Q190.3,184.4 188.8,184.8 Q187.4,185.2 186.4,186.3 M201.4,191.1 Q200.6,194.0 199.4,194.8 Q198.1,195.7 197.7,197.1 Q197.3,198.6 197.9,199.9 Q198.5,201.3 199.9,202.0 M211.4,191.9 Q209.1,193.8 208.7,195.3 Q208.3,196.7 207.2,197.6 Q206.0,198.6 204.5,198.6 Q203.0,198.6 201.8,197.7 M164.1,199.6 Q163.8,196.6 164.5,195.3 Q165.3,194.1 166.7,193.4 Q168.0,192.8 169.5,193.1 Q171.0,193.5 172.0,194.6 M171.3,201.5 Q173.6,203.4 174.2,204.8 Q174.7,206.2 175.9,207.2 Q177.1,208.1 178.5,208.4 Q180.0,208.6 181.4,208.1 M177.8,198.9 Q178.5,201.9 177.9,203.2 Q177.2,204.6 175.8,205.2 Q174.5,205.8 173.0,205.4 Q171.6,205.0 170.7,203.7 M183.0,197.5 Q186.0,197.5 187.3,198.2 Q188.6,199.0 190.1,199.0 Q191.6,199.0 192.9,198.2 Q194.2,197.5 194.9,196.2 M188.5,197.4 Q191.2,196.1 192.1,194.9 Q192.9,193.6 193.1,192.1 Q193.2,190.6 192.6,189.3 Q192.0,187.9 190.8,187.0 M197.9,201.7 Q195.6,199.7 194.1,199.7 Q192.6,199.7 191.5,198.7 Q190.3,197.8 190.1,196.3 Q189.9,194.8 190.7,193.5 M206.1,200.2 Q203.3,199.1 202.6,197.8 Q201.8,196.5 200.4,195.9 Q199.1,195.3 197.6,195.6 Q196.1,196.0 195.2,197.2 M210.7,198.3 Q211.2,201.3 210.3,202.5 Q209.4,203.7 207.9,203.8 Q206.5,204.0 205.3,202.9 Q204.2,201.9 204.2,200.4 M165.1,205.9 Q162.6,207.5 161.1,207.3 Q159.6,207.1 158.6,205.9 Q157.6,204.8 157.6,203.3 Q157.6,201.8 158.6,200.6 M167.6,205.3 Q165.3,203.4 165.1,201.9 Q164.9,200.4 165.9,199.2 Q166.8,198.1 168.3,197.9 Q169.8,197.8 171.0,198.8 M176.2,206.0 Q179.1,205.3 180.5,205.8 Q181.9,206.4 182.7,207.6 Q183.5,208.9 183.5,210.4 Q183.4,211.9 182.5,213.1 M184.6,207.2 Q186.2,209.8 186.0,211.3 Q185.9,212.8 184.8,213.9 Q183.8,215.0 182.4,215.3 Q180.9,215.6 179.5,214.9 M189.1,206.8 Q192.0,207.7 193.0,208.8 Q193.9,210.0 195.4,210.4 Q196.8,210.8 198.3,210.4 Q199.7,209.9 200.6,208.8 M196.0,207.8 Q193.1,207.2 191.7,207.8 Q190.4,208.4 188.9,208.1 Q187.4,207.8 186.4,206.7 Q185.4,205.6 185.2,204.1 M205.6,205.5 Q202.8,206.7 201.4,206.4 Q199.9,206.1 198.9,204.9 Q197.9,203.8 197.7,202.3 Q197.6,200.8 198.3,199.5 M211.1,206.6 Q209.5,209.1 209.6,210.6 Q209.8,212.1 210.9,213.1 Q212.0,214.1 213.5,214.1 Q215.0,214.1 216.2,213.2" fill="none" stroke="#5a5a20" stroke-width="0.8" stroke-linecap="round"/></g>
<line x1="194.8" y1="201.1" x2="204.8" y2="201.1" stroke="#6a6a6a" stroke-width="1.3"/>
</g>
<g clip-path="url(#c01)">
<rect x="212.2" y="161.1" width="45.0" height="44.5" fill="#272727"/>
<g opacity="0.9" filter="url(#b05)"><path d="M209.4,159.2 Q210.4,156.4 211.7,155.6 Q213.0,154.8 214.5,155.0 Q216.0,155.1 217.1,156.2 Q218.2,157.2 218.4,158.7 M215.9,156.2 Q214.3,158.7 214.5,160.2 Q214.8,161.7 216.0,162.6 Q217.1,163.5 218.6,163.5 Q220.1,163.4 221.2,162.3 M220.7,156.8 Q219.8,153.9 218.5,153.3 Q217.2,152.6 216.7,151.2 Q216.3,149.7 217.1,148.5 Q217.9,147.2 219.4,146.9 M229.9,157.4 Q228.8,160.2 229.2,161.7 Q229.6,163.1 229.1,164.5 Q228.6,165.9 227.3,166.7 Q226.0,167.5 224.5,167.4 M233.4,159.3 Q232.7,162.2 233.2,163.6 Q233.7,165.0 234.9,166.0 Q236.1,166.9 237.6,167.0 Q239.1,167.2 240.4,166.5 M239.0,159.5 Q241.9,160.2 243.2,159.4 Q244.5,158.6 244.8,157.1 Q245.1,155.7 244.3,154.4 Q243.4,153.2 242.0,152.9 M245.6,157.8 Q245.1,154.8 245.7,153.4 Q246.3,152.0 246.0,150.6 Q245.8,149.1 244.8,147.9 Q243.8,146.8 242.4,146.3 M255.0,158.5 Q256.5,155.9 258.0,155.5 Q259.4,155.0 260.2,153.7 Q260.9,152.4 260.6,151.0 Q260.3,149.5 259.1,148.6 M259.9,158.2 Q262.8,159.0 263.7,160.2 Q264.6,161.4 266.1,161.8 Q267.5,162.3 268.9,161.7 Q270.3,161.2 271.1,160.0 M208.5,163.9 Q206.6,166.2 205.1,166.3 Q203.6,166.5 202.6,167.6 Q201.7,168.8 201.8,170.3 Q201.9,171.8 203.0,172.8 M215.6,164.6 Q215.9,167.5 215.2,168.9 Q214.5,170.2 213.2,171.0 Q211.9,171.8 210.4,171.8 Q208.9,171.7 207.7,170.9 M222.7,162.6 Q225.4,161.1 225.8,159.7 Q226.2,158.2 227.5,157.5 Q228.8,156.8 230.2,157.3 Q231.6,157.8 232.3,159.1 M226.8,165.5 Q228.2,162.9 229.5,162.2 Q230.8,161.5 231.5,160.1 Q232.2,158.8 232.0,157.3 Q231.8,155.8 230.7,154.7 M232.5,162.9 Q229.7,163.9 228.8,165.1 Q227.8,166.2 227.5,167.7 Q227.3,169.2 227.7,170.6 Q228.2,172.0 229.4,173.0 M238.7,165.0 Q238.1,167.9 236.8,168.7 Q235.5,169.4 235.2,170.9 Q234.9,172.4 235.7,173.6 Q236.6,174.8 238.1,175.0 M246.4,162.2 Q244.8,164.8 245.2,166.2 Q245.6,167.7 247.0,168.3 Q248.4,168.9 249.7,168.3 Q251.1,167.7 251.6,166.3 M251.3,162.2 Q253.4,164.3 254.9,164.7 Q256.4,165.0 257.4,166.1 Q258.5,167.2 258.8,168.6 Q259.2,170.1 258.7,171.5 M260.9,163.8 Q259.1,161.4 259.1,159.9 Q259.1,158.4 260.0,157.2 Q260.9,156.0 262.4,155.6 Q263.8,155.3 265.2,155.9 M211.2,171.9 Q210.4,174.8 211.2,176.1 Q211.9,177.4 211.5,178.9 Q211.1,180.3 209.8,181.1 Q208.5,181.8 207.1,181.4 M219.1,169.4 Q221.3,171.4 221.4,172.9 Q221.5,174.4 222.6,175.4 Q223.7,176.4 225.2,176.3 Q226.7,176.2 227.7,175.0 M221.9,168.4 Q223.8,166.1 224.0,164.6 Q224.1,163.1 225.1,162.0 Q226.0,160.8 227.5,160.4 Q228.9,160.0 230.3,160.4 M231.2,172.5 Q228.3,173.3 227.4,174.5 Q226.5,175.7 226.5,177.2 Q226.5,178.7 227.3,179.9 Q228.2,181.2 229.6,181.6 M234.3,171.0 Q231.9,169.3 230.4,169.6 Q228.9,169.8 228.1,171.1 Q227.2,172.3 227.5,173.8 Q227.9,175.3 229.1,176.1 M241.1,171.2 Q239.9,173.9 240.5,175.3 Q241.1,176.7 240.5,178.0 Q239.9,179.4 238.5,179.9 Q237.1,180.4 235.8,179.8 M248.8,171.9 Q248.9,168.9 248.2,167.6 Q247.4,166.3 246.1,165.6 Q244.8,164.9 243.3,164.9 Q241.8,165.0 240.6,165.9 M254.9,168.3 Q252.4,169.9 250.9,169.9 Q249.4,169.9 248.1,170.8 Q246.9,171.6 246.2,172.9 Q245.6,174.3 245.8,175.8 M260.1,169.2 Q260.2,172.2 259.5,173.5 Q258.8,174.8 258.8,176.3 Q258.9,177.8 259.7,179.1 Q260.5,180.3 261.8,181.0 M211.1,178.1 Q208.6,176.5 208.0,175.2 Q207.3,173.8 206.0,173.0 Q204.8,172.2 203.3,172.2 Q201.8,172.1 200.5,172.9 M218.1,174.6 Q220.8,173.2 222.2,173.6 Q223.7,174.0 224.5,175.3 Q225.3,176.5 225.0,178.0 Q224.7,179.5 223.5,180.4 M222.0,174.6 Q220.6,177.3 220.9,178.7 Q221.1,180.2 220.4,181.5 Q219.7,182.8 218.3,183.4 Q216.9,183.9 215.5,183.4 M230.8,175.7 Q228.3,174.2 226.8,174.2 Q225.3,174.2 224.0,175.0 Q222.7,175.8 222.0,177.1 Q221.4,178.5 221.5,180.0 M236.6,175.2 Q239.3,176.4 239.9,177.8 Q240.4,179.2 239.9,180.6 Q239.4,182.0 238.0,182.7 Q236.7,183.3 235.2,182.9 M243.0,176.5 Q240.2,177.4 238.9,176.6 Q237.6,175.9 236.1,176.3 Q234.7,176.7 234.0,178.1 Q233.4,179.4 233.9,180.8 M249.6,177.8 Q250.3,180.8 251.5,181.5 Q252.8,182.3 253.1,183.8 Q253.4,185.3 252.5,186.5 Q251.7,187.7 250.2,187.9 M253.1,174.8 Q251.4,177.3 251.6,178.7 Q251.8,180.2 250.9,181.4 Q250.1,182.7 248.6,183.0 Q247.1,183.2 245.8,182.4 M260.9,176.6 Q263.8,177.2 264.9,178.3 Q266.1,179.3 267.5,179.6 Q269.0,180.0 270.4,179.5 Q271.9,179.1 272.9,178.1 M213.2,183.6 Q216.0,182.4 216.7,181.1 Q217.4,179.8 217.2,178.3 Q216.9,176.8 215.8,175.8 Q214.7,174.8 213.2,174.7 M216.6,182.2 Q214.1,183.9 212.6,184.0 Q211.1,184.0 209.9,184.9 Q208.6,185.7 208.0,187.1 Q207.3,188.4 207.5,189.9 M226.1,182.5 Q225.2,179.6 225.6,178.2 Q226.0,176.7 225.6,175.3 Q225.1,173.9 224.1,172.8 Q223.0,171.8 221.5,171.5 M231.8,183.3 Q234.8,183.7 236.0,184.6 Q237.2,185.5 238.7,185.7 Q240.2,185.9 241.6,185.3 Q242.9,184.7 243.8,183.5 M235.6,181.8 Q236.5,178.9 237.8,178.3 Q239.2,177.6 240.6,178.2 Q242.0,178.8 242.5,180.2 Q243.0,181.6 242.4,182.9 M241.8,182.9 Q240.1,185.4 240.4,186.8 Q240.7,188.3 239.8,189.5 Q238.9,190.8 237.5,191.0 Q236.0,191.3 234.8,190.4 M248.6,181.0 Q250.4,183.4 250.5,184.9 Q250.7,186.4 251.5,187.6 Q252.4,188.8 253.8,189.4 Q255.2,189.9 256.7,189.7 M254.2,181.7 Q256.8,183.2 257.2,184.7 Q257.5,186.1 256.7,187.4 Q255.9,188.6 254.4,188.9 Q252.9,189.2 251.7,188.3 M260.6,180.7 Q261.9,183.5 263.1,184.4 Q264.3,185.3 264.9,186.6 Q265.5,188.0 265.3,189.5 Q265.2,191.0 264.3,192.2 M209.7,190.2 Q207.9,192.7 208.1,194.2 Q208.4,195.6 207.5,196.9 Q206.6,198.1 205.1,198.3 Q203.6,198.6 202.4,197.8 M217.1,186.9 Q217.0,183.9 216.1,182.7 Q215.2,181.5 215.2,180.0 Q215.1,178.5 215.9,177.2 Q216.7,176.0 218.1,175.3 M221.8,187.2 Q223.3,189.7 223.0,191.2 Q222.6,192.6 223.4,193.9 Q224.2,195.2 225.6,195.6 Q227.1,196.0 228.4,195.3 M230.4,190.5 Q228.4,188.3 228.2,186.8 Q228.0,185.3 228.7,184.0 Q229.4,182.6 230.7,182.0 Q232.1,181.3 233.6,181.5 M237.2,188.3 Q239.2,186.1 240.6,185.7 Q242.1,185.3 243.1,184.2 Q244.1,183.1 244.3,181.6 Q244.5,180.2 243.9,178.8 M240.6,187.7 Q243.6,187.7 244.9,186.9 Q246.2,186.2 246.9,184.9 Q247.7,183.6 247.7,182.1 Q247.8,180.6 247.1,179.3 M247.6,188.9 Q250.5,189.8 251.4,191.0 Q252.3,192.2 253.7,192.6 Q255.1,193.0 256.5,192.5 Q258.0,191.9 258.8,190.7 M253.7,188.3 Q254.0,191.3 255.1,192.4 Q256.1,193.5 257.6,193.6 Q259.1,193.8 260.4,193.0 Q261.6,192.2 262.1,190.8 M262.0,188.5 Q264.6,189.9 265.2,191.3 Q265.8,192.7 267.1,193.5 Q268.4,194.2 269.9,194.0 Q271.3,193.8 272.4,192.7 M208.1,196.1 Q210.0,193.8 209.8,192.3 Q209.6,190.8 210.5,189.6 Q211.4,188.4 212.9,188.3 Q214.4,188.1 215.6,189.0 M215.8,197.1 Q213.1,198.4 212.5,199.8 Q211.9,201.1 212.2,202.6 Q212.6,204.1 213.8,205.0 Q215.0,205.9 216.5,205.9 M221.5,193.4 Q219.8,190.9 218.4,190.5 Q217.0,190.1 216.1,188.8 Q215.3,187.6 215.4,186.1 Q215.5,184.6 216.6,183.5 M229.4,197.3 Q227.1,195.5 226.6,194.1 Q226.2,192.6 225.0,191.7 Q223.8,190.8 222.3,190.7 Q220.8,190.7 219.6,191.5 M236.1,194.9 Q237.9,197.3 239.4,197.6 Q240.9,198.0 242.2,197.4 Q243.6,196.8 244.3,195.4 Q245.0,194.1 244.8,192.6 M238.8,194.9 Q236.1,193.5 235.6,192.1 Q235.2,190.6 235.9,189.3 Q236.5,188.0 238.0,187.5 Q239.4,187.0 240.7,187.7 M247.1,196.1 Q246.9,193.1 245.9,192.0 Q244.9,190.9 244.8,189.4 Q244.8,187.9 245.6,186.7 Q246.5,185.4 247.9,185.0 M254.0,194.7 Q255.7,197.2 255.3,198.7 Q255.0,200.1 253.8,200.9 Q252.5,201.7 251.0,201.3 Q249.6,200.9 248.9,199.6 M261.6,196.4 Q258.6,196.6 257.4,197.5 Q256.2,198.4 255.6,199.7 Q255.0,201.1 255.2,202.6 Q255.4,204.1 256.4,205.2 M210.3,201.3 Q210.0,204.3 209.0,205.4 Q208.0,206.5 206.5,206.9 Q205.1,207.2 203.7,206.7 Q202.3,206.2 201.4,204.9 M217.2,201.7 Q219.1,199.5 220.6,199.0 Q222.0,198.5 223.0,197.4 Q224.0,196.3 224.2,194.8 Q224.5,193.3 224.0,191.9 M225.1,199.4 Q223.1,197.1 221.7,196.8 Q220.2,196.5 219.2,195.3 Q218.3,194.2 218.2,192.7 Q218.2,191.2 219.1,190.0 M228.9,199.7 Q227.6,202.5 226.3,203.2 Q225.1,204.0 224.4,205.4 Q223.8,206.8 224.1,208.2 Q224.3,209.7 225.4,210.8 M234.8,201.9 Q237.6,202.9 238.4,204.2 Q239.1,205.5 240.5,206.0 Q242.0,206.4 243.3,205.8 Q244.7,205.2 245.3,203.9 M242.1,199.6 Q240.9,202.3 239.8,203.3 Q238.6,204.2 237.1,204.5 Q235.7,204.8 234.2,204.3 Q232.8,203.8 231.8,202.7 M246.6,200.8 Q249.4,199.7 250.9,200.1 Q252.3,200.5 253.7,199.9 Q255.1,199.4 255.9,198.1 Q256.7,196.8 256.5,195.3 M257.0,201.4 Q258.8,199.0 260.3,198.6 Q261.7,198.1 262.6,197.0 Q263.5,195.8 263.6,194.3 Q263.8,192.8 263.0,191.5 M259.4,202.7 Q260.1,199.8 259.6,198.4 Q259.1,197.0 259.4,195.5 Q259.8,194.0 260.9,193.0 Q262.0,192.0 263.5,191.8 M210.7,208.4 Q213.3,210.0 213.6,211.5 Q214.0,212.9 213.2,214.2 Q212.4,215.5 211.0,215.9 Q209.5,216.2 208.2,215.5 M217.4,209.0 Q220.4,209.1 221.5,210.2 Q222.6,211.2 222.7,212.7 Q222.9,214.2 222.0,215.4 Q221.2,216.7 219.7,217.1 M220.5,208.3 Q221.0,211.2 222.2,212.2 Q223.4,213.1 223.7,214.6 Q223.9,216.1 223.2,217.4 Q222.5,218.7 221.0,219.2 M229.9,206.7 Q229.7,203.7 230.4,202.4 Q231.2,201.1 231.1,199.6 Q231.0,198.1 230.0,196.9 Q229.1,195.7 227.7,195.3 M233.4,207.3 Q230.8,208.9 230.1,210.2 Q229.5,211.6 228.2,212.3 Q226.9,213.1 225.4,213.0 Q223.9,213.0 222.7,212.1 M239.9,207.5 Q239.3,210.4 240.1,211.7 Q240.9,213.0 240.6,214.4 Q240.3,215.9 239.0,216.8 Q237.8,217.6 236.3,217.4 M248.3,208.5 Q246.1,210.6 244.6,210.8 Q243.1,211.0 242.0,212.0 Q240.9,213.1 240.6,214.5 Q240.3,216.0 240.9,217.4 M253.2,207.9 Q250.3,208.8 248.9,208.2 Q247.6,207.6 246.1,208.0 Q244.7,208.5 243.9,209.7 Q243.1,211.0 243.4,212.5 M258.9,206.7 Q258.2,209.6 258.9,210.9 Q259.6,212.2 261.1,212.7 Q262.5,213.1 263.8,212.5 Q265.2,211.9 265.8,210.5" fill="none" stroke="#5a5a5a" stroke-width="1.0" stroke-linecap="round"/></g>
<circle cx="240.2" cy="194.1" r="0.9" fill="#ddd"/>
<circle cx="248.0" cy="203.0" r="0.9" fill="#ddd"/>
<circle cx="245.5" cy="202.1" r="0.9" fill="#ddd"/>
<circle cx="213.5" cy="181.8" r="0.9" fill="#ddd"/>
<circle cx="254.7" cy="190.0" r="0.9" fill="#ddd"/>
<circle cx="252.7" cy="166.1" r="0.9" fill="#ddd"/>
<circle cx="233.3" cy="172.1" r="0.9" fill="#ddd"/>
</g>
<g clip-path="url(#c02)">
<rect x="260.1" y="161.1" width="45.0" height="44.5" fill="#2b2b1f"/>
<g opacity="0.9" filter="url(#b05)"><path d="M257.3,159.2 Q258.3,156.4 259.6,155.6 Q260.9,154.8 262.4,155.0 Q263.9,155.1 265.0,156.2 Q266.1,157.2 266.3,158.7 M263.8,156.2 Q262.2,158.7 262.4,160.2 Q262.7,161.7 263.9,162.6 Q265.0,163.5 266.5,163.5 Q268.0,163.4 269.1,162.3 M268.6,156.8 Q267.7,153.9 266.4,153.3 Q265.1,152.6 264.6,151.2 Q264.2,149.7 265.0,148.5 Q265.8,147.2 267.3,146.9 M277.8,157.4 Q276.7,160.2 277.1,161.7 Q277.5,163.1 277.0,164.5 Q276.5,165.9 275.2,166.7 Q273.9,167.5 272.4,167.4 M281.3,159.3 Q280.6,162.2 281.1,163.6 Q281.6,165.0 282.8,166.0 Q284.0,166.9 285.5,167.0 Q287.0,167.2 288.3,166.5 M286.9,159.5 Q289.8,160.2 291.1,159.4 Q292.4,158.6 292.7,157.1 Q293.0,155.7 292.2,154.4 Q291.3,153.2 289.9,152.9 M293.5,157.8 Q293.0,154.8 293.6,153.4 Q294.2,152.0 293.9,150.6 Q293.7,149.1 292.7,147.9 Q291.7,146.8 290.3,146.3 M302.9,158.5 Q304.4,155.9 305.9,155.5 Q307.3,155.0 308.1,153.7 Q308.8,152.4 308.5,151.0 Q308.2,149.5 307.0,148.6 M307.8,158.2 Q310.7,159.0 311.6,160.2 Q312.5,161.4 314.0,161.8 Q315.4,162.3 316.8,161.7 Q318.2,161.2 319.0,160.0 M256.4,163.9 Q254.5,166.2 253.0,166.3 Q251.5,166.5 250.5,167.6 Q249.6,168.8 249.7,170.3 Q249.8,171.8 250.9,172.8 M263.5,164.6 Q263.8,167.5 263.1,168.9 Q262.4,170.2 261.1,171.0 Q259.8,171.8 258.3,171.8 Q256.8,171.7 255.6,170.9 M270.6,162.6 Q273.3,161.1 273.7,159.7 Q274.1,158.2 275.4,157.5 Q276.7,156.8 278.1,157.3 Q279.5,157.8 280.2,159.1 M274.7,165.5 Q276.1,162.9 277.4,162.2 Q278.7,161.5 279.4,160.1 Q280.1,158.8 279.9,157.3 Q279.7,155.8 278.6,154.7 M280.4,162.9 Q277.6,163.9 276.7,165.1 Q275.7,166.2 275.4,167.7 Q275.2,169.2 275.6,170.6 Q276.1,172.0 277.3,173.0 M286.6,165.0 Q286.0,167.9 284.7,168.7 Q283.4,169.4 283.1,170.9 Q282.8,172.4 283.6,173.6 Q284.5,174.8 286.0,175.0 M294.3,162.2 Q292.7,164.8 293.1,166.2 Q293.5,167.7 294.9,168.3 Q296.3,168.9 297.6,168.3 Q299.0,167.7 299.5,166.3 M299.2,162.2 Q301.3,164.3 302.8,164.7 Q304.3,165.0 305.3,166.1 Q306.4,167.2 306.7,168.6 Q307.1,170.1 306.6,171.5 M308.8,163.8 Q307.0,161.4 307.0,159.9 Q307.0,158.4 307.9,157.2 Q308.8,156.0 310.3,155.6 Q311.7,155.3 313.1,155.9 M259.1,171.9 Q258.3,174.8 259.1,176.1 Q259.8,177.4 259.4,178.9 Q259.0,180.3 257.7,181.1 Q256.4,181.8 255.0,181.4 M267.0,169.4 Q269.2,171.4 269.3,172.9 Q269.4,174.4 270.5,175.4 Q271.6,176.4 273.1,176.3 Q274.6,176.2 275.6,175.0 M269.8,168.4 Q271.7,166.1 271.9,164.6 Q272.0,163.1 273.0,162.0 Q273.9,160.8 275.4,160.4 Q276.8,160.0 278.2,160.4 M279.1,172.5 Q276.2,173.3 275.3,174.5 Q274.4,175.7 274.4,177.2 Q274.4,178.7 275.2,179.9 Q276.1,181.2 277.5,181.6 M282.2,171.0 Q279.8,169.3 278.3,169.6 Q276.8,169.8 276.0,171.1 Q275.1,172.3 275.4,173.8 Q275.8,175.3 277.0,176.1 M289.0,171.2 Q287.8,173.9 288.4,175.3 Q289.0,176.7 288.4,178.0 Q287.8,179.4 286.4,179.9 Q285.0,180.4 283.7,179.8 M296.7,171.9 Q296.8,168.9 296.1,167.6 Q295.3,166.3 294.0,165.6 Q292.7,164.9 291.2,164.9 Q289.7,165.0 288.5,165.9 M302.8,168.3 Q300.3,169.9 298.8,169.9 Q297.3,169.9 296.0,170.8 Q294.8,171.6 294.1,172.9 Q293.5,174.3 293.7,175.8 M308.0,169.2 Q308.1,172.2 307.4,173.5 Q306.7,174.8 306.7,176.3 Q306.8,177.8 307.6,179.1 Q308.4,180.3 309.7,181.0 M259.0,178.1 Q256.5,176.5 255.9,175.2 Q255.2,173.8 253.9,173.0 Q252.7,172.2 251.2,172.2 Q249.7,172.1 248.4,172.9 M266.0,174.6 Q268.7,173.2 270.1,173.6 Q271.6,174.0 272.4,175.3 Q273.2,176.5 272.9,178.0 Q272.6,179.5 271.4,180.4 M269.9,174.6 Q268.5,177.3 268.8,178.7 Q269.0,180.2 268.3,181.5 Q267.6,182.8 266.2,183.4 Q264.8,183.9 263.4,183.4 M278.7,175.7 Q276.2,174.2 274.7,174.2 Q273.2,174.2 271.9,175.0 Q270.6,175.8 269.9,177.1 Q269.3,178.5 269.4,180.0 M284.5,175.2 Q287.2,176.4 287.8,177.8 Q288.3,179.2 287.8,180.6 Q287.3,182.0 285.9,182.7 Q284.6,183.3 283.1,182.9 M290.9,176.5 Q288.1,177.4 286.8,176.6 Q285.5,175.9 284.0,176.3 Q282.6,176.7 281.9,178.1 Q281.3,179.4 281.8,180.8 M297.5,177.8 Q298.2,180.8 299.4,181.5 Q300.7,182.3 301.0,183.8 Q301.3,185.3 300.4,186.5 Q299.6,187.7 298.1,187.9 M301.0,174.8 Q299.3,177.3 299.5,178.7 Q299.7,180.2 298.8,181.4 Q298.0,182.7 296.5,183.0 Q295.0,183.2 293.7,182.4 M308.8,176.6 Q311.7,177.2 312.8,178.3 Q314.0,179.3 315.4,179.6 Q316.9,180.0 318.3,179.5 Q319.8,179.1 320.8,178.1 M261.1,183.6 Q263.9,182.4 264.6,181.1 Q265.3,179.8 265.1,178.3 Q264.8,176.8 263.7,175.8 Q262.6,174.8 261.1,174.7 M264.5,182.2 Q262.0,183.9 260.5,184.0 Q259.0,184.0 257.8,184.9 Q256.5,185.7 255.9,187.1 Q255.2,188.4 255.4,189.9 M274.0,182.5 Q273.1,179.6 273.5,178.2 Q273.9,176.7 273.5,175.3 Q273.0,173.9 272.0,172.8 Q270.9,171.8 269.4,171.5 M279.7,183.3 Q282.7,183.7 283.9,184.6 Q285.1,185.5 286.6,185.7 Q288.1,185.9 289.5,185.3 Q290.8,184.7 291.7,183.5 M283.5,181.8 Q284.4,178.9 285.7,178.3 Q287.1,177.6 288.5,178.2 Q289.9,178.8 290.4,180.2 Q290.9,181.6 290.3,182.9 M289.7,182.9 Q288.0,185.4 288.3,186.8 Q288.6,188.3 287.7,189.5 Q286.8,190.8 285.4,191.0 Q283.9,191.3 282.7,190.4 M296.5,181.0 Q298.3,183.4 298.4,184.9 Q298.6,186.4 299.4,187.6 Q300.3,188.8 301.7,189.4 Q303.1,189.9 304.6,189.7 M302.1,181.7 Q304.7,183.2 305.1,184.7 Q305.4,186.1 304.6,187.4 Q303.8,188.6 302.3,188.9 Q300.8,189.2 299.6,188.3 M308.5,180.7 Q309.8,183.5 311.0,184.4 Q312.2,185.3 312.8,186.6 Q313.4,188.0 313.2,189.5 Q313.1,191.0 312.2,192.2 M257.6,190.2 Q255.8,192.7 256.0,194.2 Q256.3,195.6 255.4,196.9 Q254.5,198.1 253.0,198.3 Q251.5,198.6 250.3,197.8 M265.0,186.9 Q264.9,183.9 264.0,182.7 Q263.1,181.5 263.1,180.0 Q263.0,178.5 263.8,177.2 Q264.6,176.0 266.0,175.3 M269.7,187.2 Q271.2,189.7 270.9,191.2 Q270.5,192.6 271.3,193.9 Q272.1,195.2 273.5,195.6 Q275.0,196.0 276.3,195.3 M278.3,190.5 Q276.3,188.3 276.1,186.8 Q275.9,185.3 276.6,184.0 Q277.3,182.6 278.6,182.0 Q280.0,181.3 281.5,181.5 M285.1,188.3 Q287.1,186.1 288.5,185.7 Q290.0,185.3 291.0,184.2 Q292.0,183.1 292.2,181.6 Q292.4,180.2 291.8,178.8 M288.5,187.7 Q291.5,187.7 292.8,186.9 Q294.1,186.2 294.8,184.9 Q295.6,183.6 295.6,182.1 Q295.7,180.6 295.0,179.3 M295.5,188.9 Q298.4,189.8 299.3,191.0 Q300.2,192.2 301.6,192.6 Q303.0,193.0 304.4,192.5 Q305.9,191.9 306.7,190.7 M301.6,188.3 Q301.9,191.3 303.0,192.4 Q304.0,193.5 305.5,193.6 Q307.0,193.8 308.3,193.0 Q309.5,192.2 310.0,190.8 M309.9,188.5 Q312.5,189.9 313.1,191.3 Q313.7,192.7 315.0,193.5 Q316.3,194.2 317.8,194.0 Q319.2,193.8 320.3,192.7 M256.0,196.1 Q257.9,193.8 257.7,192.3 Q257.5,190.8 258.4,189.6 Q259.3,188.4 260.8,188.3 Q262.3,188.1 263.5,189.0 M263.7,197.1 Q261.0,198.4 260.4,199.8 Q259.8,201.1 260.1,202.6 Q260.5,204.1 261.7,205.0 Q262.9,205.9 264.4,205.9 M269.4,193.4 Q267.7,190.9 266.3,190.5 Q264.9,190.1 264.0,188.8 Q263.2,187.6 263.3,186.1 Q263.4,184.6 264.5,183.5 M277.3,197.3 Q275.0,195.5 274.5,194.1 Q274.1,192.6 272.9,191.7 Q271.7,190.8 270.2,190.7 Q268.7,190.7 267.5,191.5 M284.0,194.9 Q285.8,197.3 287.3,197.6 Q288.8,198.0 290.1,197.4 Q291.5,196.8 292.2,195.4 Q292.9,194.1 292.7,192.6 M286.7,194.9 Q284.0,193.5 283.5,192.1 Q283.1,190.6 283.8,189.3 Q284.4,188.0 285.9,187.5 Q287.3,187.0 288.6,187.7 M295.0,196.1 Q294.8,193.1 293.8,192.0 Q292.8,190.9 292.7,189.4 Q292.7,187.9 293.5,186.7 Q294.4,185.4 295.8,185.0 M301.9,194.7 Q303.6,197.2 303.2,198.7 Q302.9,200.1 301.7,200.9 Q300.4,201.7 298.9,201.3 Q297.5,200.9 296.8,199.6 M309.5,196.4 Q306.5,196.6 305.3,197.5 Q304.1,198.4 303.5,199.7 Q302.9,201.1 303.1,202.6 Q303.3,204.1 304.3,205.2 M258.2,201.3 Q257.9,204.3 256.9,205.4 Q255.9,206.5 254.4,206.9 Q253.0,207.2 251.6,206.7 Q250.2,206.2 249.3,204.9 M265.1,201.7 Q267.0,199.5 268.5,199.0 Q269.9,198.5 270.9,197.4 Q271.9,196.3 272.1,194.8 Q272.4,193.3 271.9,191.9 M273.0,199.4 Q271.0,197.1 269.6,196.8 Q268.1,196.5 267.1,195.3 Q266.2,194.2 266.1,192.7 Q266.1,191.2 267.0,190.0 M276.8,199.7 Q275.5,202.5 274.2,203.2 Q273.0,204.0 272.3,205.4 Q271.7,206.8 272.0,208.2 Q272.2,209.7 273.3,210.8 M282.7,201.9 Q285.5,202.9 286.3,204.2 Q287.0,205.5 288.4,206.0 Q289.9,206.4 291.2,205.8 Q292.6,205.2 293.2,203.9 M290.0,199.6 Q288.8,202.3 287.7,203.3 Q286.5,204.2 285.0,204.5 Q283.6,204.8 282.1,204.3 Q280.7,203.8 279.7,202.7 M294.5,200.8 Q297.3,199.7 298.8,200.1 Q300.2,200.5 301.6,199.9 Q303.0,199.4 303.8,198.1 Q304.6,196.8 304.4,195.3 M304.9,201.4 Q306.7,199.0 308.2,198.6 Q309.6,198.1 310.5,197.0 Q311.4,195.8 311.5,194.3 Q311.7,192.8 310.9,191.5 M307.3,202.7 Q308.0,199.8 307.5,198.4 Q307.0,197.0 307.3,195.5 Q307.7,194.0 308.8,193.0 Q309.9,192.0 311.4,191.8 M258.6,208.4 Q261.2,210.0 261.5,211.5 Q261.9,212.9 261.1,214.2 Q260.3,215.5 258.9,215.9 Q257.4,216.2 256.1,215.5 M265.3,209.0 Q268.3,209.1 269.4,210.2 Q270.5,211.2 270.6,212.7 Q270.8,214.2 269.9,215.4 Q269.1,216.7 267.6,217.1 M268.4,208.3 Q268.9,211.2 270.1,212.2 Q271.3,213.1 271.6,214.6 Q271.8,216.1 271.1,217.4 Q270.4,218.7 268.9,219.2 M277.8,206.7 Q277.6,203.7 278.3,202.4 Q279.1,201.1 279.0,199.6 Q278.9,198.1 277.9,196.9 Q277.0,195.7 275.6,195.3 M281.3,207.3 Q278.7,208.9 278.0,210.2 Q277.4,211.6 276.1,212.3 Q274.8,213.1 273.3,213.0 Q271.8,213.0 270.6,212.1 M287.8,207.5 Q287.2,210.4 288.0,211.7 Q288.8,213.0 288.5,214.4 Q288.2,215.9 286.9,216.8 Q285.7,217.6 284.2,217.4 M296.2,208.5 Q294.0,210.6 292.5,210.8 Q291.0,211.0 289.9,212.0 Q288.8,213.1 288.5,214.5 Q288.2,216.0 288.8,217.4 M301.1,207.9 Q298.2,208.8 296.8,208.2 Q295.5,207.6 294.0,208.0 Q292.6,208.5 291.8,209.7 Q291.0,211.0 291.3,212.5 M306.8,206.7 Q306.1,209.6 306.8,210.9 Q307.5,212.2 309.0,212.7 Q310.4,213.1 311.7,212.5 Q313.1,211.9 313.7,210.5" fill="none" stroke="#5a5a5a" stroke-width="1.0" stroke-linecap="round"/></g>
<g opacity="0.75" filter="url(#b05)"><path d="M280.3,169.5 Q279.0,167.2 277.9,166.6 Q276.8,165.9 275.5,165.9 Q274.2,166.0 273.1,166.7 Q272.0,167.4 271.4,168.5 M283.8,167.9 Q281.9,169.6 281.7,170.9 Q281.5,172.2 280.5,173.1 Q279.5,174.0 278.2,174.1 Q276.9,174.2 275.8,173.5 M267.7,174.2 Q267.0,176.7 266.1,177.6 Q265.2,178.5 264.0,178.9 Q262.7,179.3 261.5,179.0 Q260.2,178.7 259.2,177.9 M274.7,172.2 Q277.2,171.6 278.0,170.6 Q278.8,169.5 280.0,169.2 Q281.3,168.9 282.4,169.5 Q283.6,170.1 284.1,171.3 M278.6,172.2 Q276.3,170.9 275.9,169.7 Q275.6,168.4 274.4,167.8 Q273.3,167.2 272.0,167.6 Q270.8,168.0 270.2,169.1 M282.5,173.0 Q283.5,175.4 284.7,175.9 Q285.9,176.4 286.4,177.6 Q286.9,178.8 286.4,180.0 Q286.0,181.2 284.8,181.7 M286.4,173.4 Q287.6,171.0 287.2,169.8 Q286.9,168.5 287.4,167.4 Q288.0,166.2 289.2,165.7 Q290.4,165.3 291.6,165.7 M292.0,171.2 Q294.5,170.7 295.5,169.8 Q296.5,169.0 296.9,167.7 Q297.3,166.5 297.1,165.2 Q296.8,163.9 296.0,162.9 M268.5,177.6 Q269.9,179.8 271.2,180.1 Q272.5,180.4 273.2,181.5 Q273.9,182.5 273.6,183.8 Q273.4,185.1 272.3,185.9 M271.7,176.4 Q273.3,178.5 273.3,179.8 Q273.3,181.1 274.1,182.1 Q274.9,183.1 276.2,183.5 Q277.4,183.9 278.6,183.5 M275.4,176.8 Q278.0,176.9 278.9,177.8 Q279.9,178.7 280.0,180.0 Q280.0,181.3 279.2,182.3 Q278.4,183.3 277.2,183.6 M281.5,176.0 Q283.8,174.9 284.4,173.8 Q285.0,172.6 286.1,172.0 Q287.3,171.5 288.6,171.8 Q289.9,172.0 290.7,173.0 M285.2,175.7 Q282.6,175.8 281.6,176.7 Q280.6,177.5 280.4,178.8 Q280.2,180.1 280.8,181.2 Q281.4,182.4 282.6,182.9 M289.8,178.8 Q290.7,181.3 290.2,182.4 Q289.6,183.6 288.4,184.1 Q287.2,184.6 286.0,184.2 Q284.8,183.7 284.2,182.5 M295.8,177.9 Q297.8,176.2 299.1,176.2 Q300.4,176.1 301.5,176.8 Q302.6,177.5 303.1,178.7 Q303.5,179.9 303.2,181.2 M268.9,183.4 Q271.5,183.1 272.6,183.7 Q273.7,184.4 274.3,185.6 Q274.8,186.7 274.5,188.0 Q274.2,189.3 273.2,190.1 M273.3,181.6 Q273.0,179.0 272.0,178.1 Q271.1,177.2 270.9,175.9 Q270.8,174.7 271.4,173.5 Q272.1,172.4 273.4,172.0 M277.0,180.5 Q279.3,179.1 279.7,177.9 Q280.2,176.7 279.8,175.5 Q279.4,174.2 278.3,173.5 Q277.2,172.8 275.9,172.9 M283.6,181.0 Q285.7,182.5 286.2,183.7 Q286.7,184.9 286.5,186.2 Q286.3,187.5 285.5,188.5 Q284.7,189.5 283.4,189.9 M286.9,182.6 Q284.4,183.4 283.2,183.0 Q282.0,182.5 280.8,182.9 Q279.5,183.3 278.8,184.4 Q278.1,185.5 278.2,186.8 M291.1,181.0 Q288.5,180.9 287.6,181.8 Q286.7,182.7 285.4,182.7 Q284.1,182.6 283.2,181.7 Q282.3,180.7 282.4,179.4 M267.9,185.5 Q265.4,185.0 264.6,183.9 Q263.8,182.9 263.9,181.6 Q264.1,180.3 265.0,179.4 Q266.0,178.5 267.3,178.5 M274.3,186.8 Q274.7,189.4 275.6,190.3 Q276.5,191.3 277.8,191.6 Q279.1,191.8 280.3,191.4 Q281.5,190.9 282.2,189.8 M278.4,185.7 Q278.6,188.3 279.5,189.2 Q280.4,190.1 280.5,191.4 Q280.6,192.7 279.8,193.7 Q279.0,194.8 277.8,195.0 M281.4,187.3 Q283.1,189.3 284.4,189.4 Q285.6,189.6 286.7,188.8 Q287.7,188.0 287.9,186.7 Q288.0,185.4 287.2,184.4 M285.8,185.1 Q284.5,182.9 284.9,181.6 Q285.3,180.4 286.5,179.9 Q287.7,179.4 288.9,179.9 Q290.1,180.4 290.5,181.7 M290.7,186.3 Q293.1,187.2 294.3,186.7 Q295.5,186.2 296.7,186.7 Q297.9,187.1 298.5,188.3 Q299.1,189.5 298.6,190.7 M273.5,190.8 Q275.7,192.3 277.0,192.3 Q278.3,192.2 279.3,193.0 Q280.4,193.7 280.8,195.0 Q281.3,196.2 280.9,197.4 M279.7,192.0 Q282.2,192.6 283.1,193.6 Q283.9,194.6 284.0,195.9 Q284.1,197.2 283.4,198.3 Q282.8,199.5 281.6,200.0 M281.8,192.2 Q281.1,189.7 280.1,188.8 Q279.2,188.0 277.9,187.8 Q276.6,187.6 275.4,188.1 Q274.2,188.6 273.5,189.7" fill="none" stroke="#a8a030" stroke-width="0.8" stroke-linecap="round"/></g>
<circle cx="288.1" cy="194.1" r="0.9" fill="#ddd"/>
<circle cx="295.9" cy="203.0" r="0.9" fill="#ddd"/>
<circle cx="293.4" cy="202.1" r="0.9" fill="#ddd"/>
<circle cx="261.4" cy="181.8" r="0.9" fill="#ddd"/>
<circle cx="302.6" cy="190.0" r="0.9" fill="#ddd"/>
<circle cx="300.6" cy="166.1" r="0.9" fill="#ddd"/>
<circle cx="281.2" cy="172.1" r="0.9" fill="#ddd"/>
</g>
<g clip-path="url(#c10)">
<rect x="163.8" y="207.7" width="45.0" height="44.5" fill="#070303"/>
<line x1="194.8" y1="247.7" x2="204.8" y2="247.7" stroke="#f0f0f0" stroke-width="1.3"/>
</g>
<g clip-path="url(#c11)">
<rect x="212.2" y="207.7" width="45.0" height="44.5" fill="#b0b0b0"/>
<rect x="221.2" y="216.6" width="27.0" height="22.25" fill="#cfcfcf" opacity="0.6" filter="url(#b4)"/>
<g filter="url(#b1)" transform="translate(0.9,1.0)" opacity="0.7"><path d="M210.8,205.1 Q210.1,208.0 210.9,209.3 Q211.6,210.6 213.0,211.1 Q214.4,211.6 215.8,211.0 Q217.2,210.4 217.8,209.0 M216.0,204.6 Q216.3,207.6 215.3,208.8 Q214.4,209.9 212.9,210.1 Q211.4,210.3 210.2,209.5 Q209.0,208.6 208.7,207.1 M225.2,203.6 Q222.4,202.6 221.0,203.0 Q219.5,203.4 218.6,204.5 Q217.6,205.7 217.5,207.2 Q217.4,208.7 218.2,209.9 M230.3,201.6 Q229.3,198.8 229.7,197.4 Q230.1,195.9 231.3,195.0 Q232.5,194.0 234.0,193.9 Q235.5,193.8 236.7,194.6 M242.1,202.8 Q243.0,205.7 244.3,206.4 Q245.6,207.2 247.0,206.9 Q248.5,206.6 249.4,205.4 Q250.3,204.2 250.2,202.7 M246.6,202.4 Q245.4,199.7 244.0,199.1 Q242.6,198.6 242.0,197.2 Q241.4,195.8 241.9,194.4 Q242.4,193.0 243.7,192.3 M258.0,204.8 Q257.2,207.7 255.9,208.4 Q254.6,209.2 254.1,210.6 Q253.7,212.0 254.4,213.4 Q255.1,214.7 256.5,215.2 M265.5,206.0 Q264.0,203.5 262.5,203.0 Q261.1,202.6 260.3,201.3 Q259.5,200.0 259.9,198.6 Q260.2,197.1 261.4,196.2 M209.9,210.9 Q210.6,213.9 211.7,214.8 Q212.9,215.7 213.2,217.2 Q213.6,218.7 212.9,220.0 Q212.3,221.4 210.9,222.0 M215.9,209.4 Q218.0,211.5 218.3,213.0 Q218.6,214.5 218.1,215.9 Q217.6,217.3 216.4,218.2 Q215.2,219.1 213.7,219.3 M226.1,214.1 Q225.7,211.2 226.5,210.0 Q227.4,208.7 228.9,208.5 Q230.4,208.2 231.6,209.0 Q232.9,209.9 233.2,211.3 M233.3,213.0 Q230.5,214.2 230.0,215.6 Q229.4,217.0 228.0,217.6 Q226.6,218.2 225.3,217.6 Q223.9,217.0 223.4,215.5 M239.0,212.9 Q242.0,213.3 243.2,212.4 Q244.4,211.5 244.5,210.0 Q244.7,208.5 243.7,207.3 Q242.7,206.2 241.2,206.1 M249.9,214.1 Q247.1,213.1 246.2,211.9 Q245.2,210.8 243.8,210.3 Q242.4,209.7 240.9,210.0 Q239.5,210.3 238.4,211.3 M255.0,213.6 Q254.4,210.7 253.3,209.7 Q252.2,208.7 250.7,208.5 Q249.2,208.3 247.9,209.0 Q246.6,209.7 245.9,211.0 M263.6,213.6 Q265.0,211.0 266.5,210.5 Q267.9,210.0 269.3,210.5 Q270.7,211.1 271.4,212.4 Q272.1,213.7 271.8,215.2 M210.9,217.1 Q213.6,218.4 214.2,219.8 Q214.9,221.1 216.2,221.8 Q217.6,222.4 219.1,222.1 Q220.5,221.8 221.5,220.7 M218.3,218.0 Q217.4,215.1 217.8,213.7 Q218.1,212.2 219.2,211.2 Q220.2,210.1 221.7,209.7 Q223.1,209.3 224.6,209.7 M223.9,218.6 Q226.8,219.4 227.8,220.6 Q228.8,221.7 230.2,222.1 Q231.7,222.5 233.1,222.0 Q234.5,221.6 235.5,220.4 M233.6,217.3 Q236.5,218.0 238.0,217.7 Q239.4,217.3 240.9,217.7 Q242.3,218.1 243.4,219.1 Q244.5,220.2 244.9,221.6 M240.2,220.4 Q243.2,221.0 244.1,222.1 Q245.0,223.3 246.5,223.6 Q248.0,223.9 249.3,223.1 Q250.6,222.3 251.1,220.9 M248.1,220.5 Q246.8,217.8 247.1,216.3 Q247.4,214.9 246.7,213.5 Q246.1,212.2 244.7,211.6 Q243.3,211.0 241.9,211.4 M256.6,219.7 Q258.4,217.3 259.8,216.8 Q261.2,216.4 262.1,215.2 Q263.0,214.0 263.1,212.5 Q263.2,211.0 262.5,209.7 M261.4,221.6 Q264.2,220.3 265.0,219.1 Q265.9,217.9 267.3,217.3 Q268.6,216.6 270.1,216.8 Q271.6,216.9 272.9,217.7 M212.6,227.6 Q213.1,224.7 214.0,223.5 Q214.9,222.3 215.1,220.8 Q215.3,219.3 214.8,217.9 Q214.3,216.5 213.1,215.5 M219.3,228.1 Q216.4,227.5 215.2,226.6 Q214.1,225.6 213.6,224.2 Q213.1,222.7 213.4,221.3 Q213.7,219.8 214.7,218.7 M226.5,226.8 Q229.4,227.5 230.7,226.8 Q232.1,226.1 233.5,226.5 Q235.0,226.9 235.8,228.2 Q236.6,229.4 236.4,230.9 M235.1,225.3 Q233.4,222.8 232.0,222.3 Q230.6,221.7 229.2,222.0 Q227.7,222.4 226.7,223.5 Q225.7,224.6 225.5,226.1 M243.3,224.6 Q240.3,225.1 238.9,224.5 Q237.5,224.0 236.0,224.2 Q234.6,224.5 233.4,225.4 Q232.3,226.4 231.8,227.8 M248.9,228.7 Q248.9,225.7 248.0,224.5 Q247.0,223.4 247.1,221.9 Q247.1,220.4 248.1,219.3 Q249.1,218.2 250.6,218.0 M254.7,226.1 Q256.5,228.5 256.7,230.0 Q256.8,231.5 256.2,232.8 Q255.6,234.2 254.4,235.1 Q253.1,235.9 251.6,236.0 M263.7,226.0 Q262.1,223.5 262.2,222.0 Q262.3,220.5 261.5,219.3 Q260.7,218.0 259.2,217.6 Q257.8,217.1 256.4,217.7 M211.2,233.1 Q212.8,235.6 212.8,237.1 Q212.8,238.6 213.6,239.9 Q214.4,241.1 215.8,241.7 Q217.2,242.3 218.6,242.0 M219.6,235.2 Q221.1,237.8 220.7,239.2 Q220.3,240.6 218.9,241.4 Q217.6,242.1 216.2,241.7 Q214.8,241.3 214.0,239.9 M227.1,236.9 Q229.2,234.7 230.7,234.3 Q232.1,233.9 233.6,234.2 Q235.0,234.6 236.2,235.6 Q237.3,236.6 237.8,238.0 M232.4,235.4 Q233.0,238.3 234.0,239.5 Q235.0,240.6 235.3,242.1 Q235.6,243.5 235.1,245.0 Q234.6,246.4 233.5,247.4 M241.5,235.8 Q242.2,232.9 241.7,231.5 Q241.2,230.1 241.6,228.6 Q242.0,227.1 243.0,226.1 Q244.1,225.1 245.6,224.8 M250.1,236.8 Q247.8,238.8 247.6,240.3 Q247.3,241.7 246.2,242.7 Q245.1,243.7 243.6,243.8 Q242.1,243.9 240.9,243.0 M254.7,232.2 Q252.1,233.5 250.6,233.1 Q249.1,232.8 247.8,233.4 Q246.5,234.1 245.9,235.5 Q245.3,236.9 245.7,238.3 M261.5,236.1 Q259.8,233.6 258.3,233.2 Q256.9,232.9 256.0,231.6 Q255.1,230.4 255.3,228.9 Q255.4,227.4 256.5,226.4 M207.6,240.9 Q204.8,241.8 204.0,243.0 Q203.2,244.3 201.8,244.8 Q200.3,245.2 199.0,244.6 Q197.6,244.0 197.0,242.6 M219.9,241.6 Q222.9,241.5 224.0,240.5 Q225.1,239.5 225.2,238.0 Q225.3,236.5 224.3,235.3 Q223.3,234.2 221.8,234.0 M223.0,243.7 Q223.8,246.6 225.1,247.4 Q226.3,248.2 226.7,249.6 Q227.1,251.1 226.4,252.4 Q225.7,253.7 224.3,254.2 M231.8,240.1 Q234.4,238.6 235.0,237.2 Q235.5,235.8 235.1,234.3 Q234.7,232.9 233.6,232.0 Q232.4,231.1 230.9,231.0 M238.5,243.4 Q240.9,245.1 241.4,246.5 Q241.8,248.0 243.0,248.9 Q244.2,249.7 245.7,249.7 Q247.2,249.6 248.4,248.7 M246.4,242.5 Q244.3,240.3 244.1,238.9 Q243.8,237.4 244.4,236.0 Q245.1,234.7 246.3,233.9 Q247.6,233.1 249.1,233.2 M256.9,239.4 Q254.7,241.5 253.2,241.6 Q251.7,241.8 250.6,242.8 Q249.5,243.8 249.2,245.3 Q249.0,246.8 249.7,248.1 M264.9,242.4 Q267.3,240.6 268.8,240.4 Q270.3,240.3 271.5,239.4 Q272.7,238.5 273.3,237.1 Q273.9,235.8 273.6,234.3 M211.1,249.8 Q208.7,251.7 208.6,253.2 Q208.5,254.7 207.3,255.6 Q206.1,256.5 204.6,256.3 Q203.1,256.0 202.3,254.8 M215.8,246.9 Q218.8,247.3 220.2,246.7 Q221.6,246.1 222.4,244.9 Q223.3,243.6 223.4,242.1 Q223.5,240.7 222.8,239.3 M223.9,250.8 Q221.8,248.7 221.5,247.2 Q221.1,245.8 221.6,244.4 Q222.1,242.9 223.3,242.0 Q224.5,241.1 226.0,240.9 M234.6,250.5 Q232.1,252.2 230.6,252.2 Q229.1,252.3 227.8,251.5 Q226.5,250.8 225.8,249.5 Q225.1,248.1 225.3,246.6 M237.6,250.6 Q235.1,252.3 233.6,252.0 Q232.2,251.8 230.9,252.6 Q229.7,253.4 229.4,254.9 Q229.0,256.4 229.8,257.7 M248.8,252.0 Q249.3,249.0 248.6,247.7 Q247.9,246.4 246.5,245.7 Q245.1,245.1 243.7,245.5 Q242.2,245.8 241.3,247.0 M253.9,248.4 Q251.5,250.2 250.0,250.1 Q248.6,250.0 247.5,248.9 Q246.5,247.8 246.5,246.3 Q246.5,244.8 247.5,243.6 M263.0,251.2 Q264.5,253.8 264.4,255.3 Q264.4,256.8 265.1,258.1 Q265.9,259.3 267.2,260.0 Q268.6,260.6 270.1,260.4 M208.5,255.5 Q206.8,258.0 206.9,259.5 Q207.0,261.0 208.1,262.0 Q209.2,263.1 210.7,263.2 Q212.2,263.3 213.4,262.4 M219.7,258.4 Q216.8,258.9 215.9,260.1 Q215.0,261.4 215.3,262.8 Q215.5,264.3 216.7,265.2 Q218.0,266.1 219.4,265.8 M225.0,255.2 Q225.5,252.3 224.7,251.0 Q223.9,249.7 222.5,249.4 Q221.0,249.0 219.7,249.7 Q218.4,250.4 217.9,251.8 M232.7,259.3 Q234.9,257.2 236.4,257.2 Q237.9,257.2 238.9,258.3 Q240.0,259.3 240.1,260.8 Q240.1,262.3 239.1,263.4 M240.7,259.6 Q240.1,262.6 241.1,263.8 Q242.0,265.0 243.5,265.1 Q244.9,265.3 246.1,264.3 Q247.2,263.3 247.2,261.8 M249.8,256.2 Q252.5,254.8 253.9,255.3 Q255.3,255.7 256.1,257.0 Q256.8,258.3 256.5,259.8 Q256.1,261.2 254.8,262.1 M255.7,258.1 Q257.2,260.7 257.2,262.2 Q257.2,263.7 258.0,264.9 Q258.8,266.2 260.1,266.9 Q261.4,267.6 262.9,267.5 M262.6,259.1 Q260.4,257.1 258.9,257.1 Q257.4,257.1 256.3,256.1 Q255.2,255.0 255.1,253.5 Q255.1,252.0 256.0,250.9" fill="none" stroke="#ececec" stroke-width="2.4" stroke-linecap="round"/></g>
<g filter="url(#b05)"><path d="M210.8,205.1 Q210.1,208.0 210.9,209.3 Q211.6,210.6 213.0,211.1 Q214.4,211.6 215.8,211.0 Q217.2,210.4 217.8,209.0 M216.0,204.6 Q216.3,207.6 215.3,208.8 Q214.4,209.9 212.9,210.1 Q211.4,210.3 210.2,209.5 Q209.0,208.6 208.7,207.1 M225.2,203.6 Q222.4,202.6 221.0,203.0 Q219.5,203.4 218.6,204.5 Q217.6,205.7 217.5,207.2 Q217.4,208.7 218.2,209.9 M230.3,201.6 Q229.3,198.8 229.7,197.4 Q230.1,195.9 231.3,195.0 Q232.5,194.0 234.0,193.9 Q235.5,193.8 236.7,194.6 M242.1,202.8 Q243.0,205.7 244.3,206.4 Q245.6,207.2 247.0,206.9 Q248.5,206.6 249.4,205.4 Q250.3,204.2 250.2,202.7 M246.6,202.4 Q245.4,199.7 244.0,199.1 Q242.6,198.6 242.0,197.2 Q241.4,195.8 241.9,194.4 Q242.4,193.0 243.7,192.3 M258.0,204.8 Q257.2,207.7 255.9,208.4 Q254.6,209.2 254.1,210.6 Q253.7,212.0 254.4,213.4 Q255.1,214.7 256.5,215.2 M265.5,206.0 Q264.0,203.5 262.5,203.0 Q261.1,202.6 260.3,201.3 Q259.5,200.0 259.9,198.6 Q260.2,197.1 261.4,196.2 M209.9,210.9 Q210.6,213.9 211.7,214.8 Q212.9,215.7 213.2,217.2 Q213.6,218.7 212.9,220.0 Q212.3,221.4 210.9,222.0 M215.9,209.4 Q218.0,211.5 218.3,213.0 Q218.6,214.5 218.1,215.9 Q217.6,217.3 216.4,218.2 Q215.2,219.1 213.7,219.3 M226.1,214.1 Q225.7,211.2 226.5,210.0 Q227.4,208.7 228.9,208.5 Q230.4,208.2 231.6,209.0 Q232.9,209.9 233.2,211.3 M233.3,213.0 Q230.5,214.2 230.0,215.6 Q229.4,217.0 228.0,217.6 Q226.6,218.2 225.3,217.6 Q223.9,217.0 223.4,215.5 M239.0,212.9 Q242.0,213.3 243.2,212.4 Q244.4,211.5 244.5,210.0 Q244.7,208.5 243.7,207.3 Q242.7,206.2 241.2,206.1 M249.9,214.1 Q247.1,213.1 246.2,211.9 Q245.2,210.8 243.8,210.3 Q242.4,209.7 240.9,210.0 Q239.5,210.3 238.4,211.3 M255.0,213.6 Q254.4,210.7 253.3,209.7 Q252.2,208.7 250.7,208.5 Q249.2,208.3 247.9,209.0 Q246.6,209.7 245.9,211.0 M263.6,213.6 Q265.0,211.0 266.5,210.5 Q267.9,210.0 269.3,210.5 Q270.7,211.1 271.4,212.4 Q272.1,213.7 271.8,215.2 M210.9,217.1 Q213.6,218.4 214.2,219.8 Q214.9,221.1 216.2,221.8 Q217.6,222.4 219.1,222.1 Q220.5,221.8 221.5,220.7 M218.3,218.0 Q217.4,215.1 217.8,213.7 Q218.1,212.2 219.2,211.2 Q220.2,210.1 221.7,209.7 Q223.1,209.3 224.6,209.7 M223.9,218.6 Q226.8,219.4 227.8,220.6 Q228.8,221.7 230.2,222.1 Q231.7,222.5 233.1,222.0 Q234.5,221.6 235.5,220.4 M233.6,217.3 Q236.5,218.0 238.0,217.7 Q239.4,217.3 240.9,217.7 Q242.3,218.1 243.4,219.1 Q244.5,220.2 244.9,221.6 M240.2,220.4 Q243.2,221.0 244.1,222.1 Q245.0,223.3 246.5,223.6 Q248.0,223.9 249.3,223.1 Q250.6,222.3 251.1,220.9 M248.1,220.5 Q246.8,217.8 247.1,216.3 Q247.4,214.9 246.7,213.5 Q246.1,212.2 244.7,211.6 Q243.3,211.0 241.9,211.4 M256.6,219.7 Q258.4,217.3 259.8,216.8 Q261.2,216.4 262.1,215.2 Q263.0,214.0 263.1,212.5 Q263.2,211.0 262.5,209.7 M261.4,221.6 Q264.2,220.3 265.0,219.1 Q265.9,217.9 267.3,217.3 Q268.6,216.6 270.1,216.8 Q271.6,216.9 272.9,217.7 M212.6,227.6 Q213.1,224.7 214.0,223.5 Q214.9,222.3 215.1,220.8 Q215.3,219.3 214.8,217.9 Q214.3,216.5 213.1,215.5 M219.3,228.1 Q216.4,227.5 215.2,226.6 Q214.1,225.6 213.6,224.2 Q213.1,222.7 213.4,221.3 Q213.7,219.8 214.7,218.7 M226.5,226.8 Q229.4,227.5 230.7,226.8 Q232.1,226.1 233.5,226.5 Q235.0,226.9 235.8,228.2 Q236.6,229.4 236.4,230.9 M235.1,225.3 Q233.4,222.8 232.0,222.3 Q230.6,221.7 229.2,222.0 Q227.7,222.4 226.7,223.5 Q225.7,224.6 225.5,226.1 M243.3,224.6 Q240.3,225.1 238.9,224.5 Q237.5,224.0 236.0,224.2 Q234.6,224.5 233.4,225.4 Q232.3,226.4 231.8,227.8 M248.9,228.7 Q248.9,225.7 248.0,224.5 Q247.0,223.4 247.1,221.9 Q247.1,220.4 248.1,219.3 Q249.1,218.2 250.6,218.0 M254.7,226.1 Q256.5,228.5 256.7,230.0 Q256.8,231.5 256.2,232.8 Q255.6,234.2 254.4,235.1 Q253.1,235.9 251.6,236.0 M263.7,226.0 Q262.1,223.5 262.2,222.0 Q262.3,220.5 261.5,219.3 Q260.7,218.0 259.2,217.6 Q257.8,217.1 256.4,217.7 M211.2,233.1 Q212.8,235.6 212.8,237.1 Q212.8,238.6 213.6,239.9 Q214.4,241.1 215.8,241.7 Q217.2,242.3 218.6,242.0 M219.6,235.2 Q221.1,237.8 220.7,239.2 Q220.3,240.6 218.9,241.4 Q217.6,242.1 216.2,241.7 Q214.8,241.3 214.0,239.9 M227.1,236.9 Q229.2,234.7 230.7,234.3 Q232.1,233.9 233.6,234.2 Q235.0,234.6 236.2,235.6 Q237.3,236.6 237.8,238.0 M232.4,235.4 Q233.0,238.3 234.0,239.5 Q235.0,240.6 235.3,242.1 Q235.6,243.5 235.1,245.0 Q234.6,246.4 233.5,247.4 M241.5,235.8 Q242.2,232.9 241.7,231.5 Q241.2,230.1 241.6,228.6 Q242.0,227.1 243.0,226.1 Q244.1,225.1 245.6,224.8 M250.1,236.8 Q247.8,238.8 247.6,240.3 Q247.3,241.7 246.2,242.7 Q245.1,243.7 243.6,243.8 Q242.1,243.9 240.9,243.0 M254.7,232.2 Q252.1,233.5 250.6,233.1 Q249.1,232.8 247.8,233.4 Q246.5,234.1 245.9,235.5 Q245.3,236.9 245.7,238.3 M261.5,236.1 Q259.8,233.6 258.3,233.2 Q256.9,232.9 256.0,231.6 Q255.1,230.4 255.3,228.9 Q255.4,227.4 256.5,226.4 M207.6,240.9 Q204.8,241.8 204.0,243.0 Q203.2,244.3 201.8,244.8 Q200.3,245.2 199.0,244.6 Q197.6,244.0 197.0,242.6 M219.9,241.6 Q222.9,241.5 224.0,240.5 Q225.1,239.5 225.2,238.0 Q225.3,236.5 224.3,235.3 Q223.3,234.2 221.8,234.0 M223.0,243.7 Q223.8,246.6 225.1,247.4 Q226.3,248.2 226.7,249.6 Q227.1,251.1 226.4,252.4 Q225.7,253.7 224.3,254.2 M231.8,240.1 Q234.4,238.6 235.0,237.2 Q235.5,235.8 235.1,234.3 Q234.7,232.9 233.6,232.0 Q232.4,231.1 230.9,231.0 M238.5,243.4 Q240.9,245.1 241.4,246.5 Q241.8,248.0 243.0,248.9 Q244.2,249.7 245.7,249.7 Q247.2,249.6 248.4,248.7 M246.4,242.5 Q244.3,240.3 244.1,238.9 Q243.8,237.4 244.4,236.0 Q245.1,234.7 246.3,233.9 Q247.6,233.1 249.1,233.2 M256.9,239.4 Q254.7,241.5 253.2,241.6 Q251.7,241.8 250.6,242.8 Q249.5,243.8 249.2,245.3 Q249.0,246.8 249.7,248.1 M264.9,242.4 Q267.3,240.6 268.8,240.4 Q270.3,240.3 271.5,239.4 Q272.7,238.5 273.3,237.1 Q273.9,235.8 273.6,234.3 M211.1,249.8 Q208.7,251.7 208.6,253.2 Q208.5,254.7 207.3,255.6 Q206.1,256.5 204.6,256.3 Q203.1,256.0 202.3,254.8 M215.8,246.9 Q218.8,247.3 220.2,246.7 Q221.6,246.1 222.4,244.9 Q223.3,243.6 223.4,242.1 Q223.5,240.7 222.8,239.3 M223.9,250.8 Q221.8,248.7 221.5,247.2 Q221.1,245.8 221.6,244.4 Q222.1,242.9 223.3,242.0 Q224.5,241.1 226.0,240.9 M234.6,250.5 Q232.1,252.2 230.6,252.2 Q229.1,252.3 227.8,251.5 Q226.5,250.8 225.8,249.5 Q225.1,248.1 225.3,246.6 M237.6,250.6 Q235.1,252.3 233.6,252.0 Q232.2,251.8 230.9,252.6 Q229.7,253.4 229.4,254.9 Q229.0,256.4 229.8,257.7 M248.8,252.0 Q249.3,249.0 248.6,247.7 Q247.9,246.4 246.5,245.7 Q245.1,245.1 243.7,245.5 Q242.2,245.8 241.3,247.0 M253.9,248.4 Q251.5,250.2 250.0,250.1 Q248.6,250.0 247.5,248.9 Q246.5,247.8 246.5,246.3 Q246.5,244.8 247.5,243.6 M263.0,251.2 Q264.5,253.8 264.4,255.3 Q264.4,256.8 265.1,258.1 Q265.9,259.3 267.2,260.0 Q268.6,260.6 270.1,260.4 M208.5,255.5 Q206.8,258.0 206.9,259.5 Q207.0,261.0 208.1,262.0 Q209.2,263.1 210.7,263.2 Q212.2,263.3 213.4,262.4 M219.7,258.4 Q216.8,258.9 215.9,260.1 Q215.0,261.4 215.3,262.8 Q215.5,264.3 216.7,265.2 Q218.0,266.1 219.4,265.8 M225.0,255.2 Q225.5,252.3 224.7,251.0 Q223.9,249.7 222.5,249.4 Q221.0,249.0 219.7,249.7 Q218.4,250.4 217.9,251.8 M232.7,259.3 Q234.9,257.2 236.4,257.2 Q237.9,257.2 238.9,258.3 Q240.0,259.3 240.1,260.8 Q240.1,262.3 239.1,263.4 M240.7,259.6 Q240.1,262.6 241.1,263.8 Q242.0,265.0 243.5,265.1 Q244.9,265.3 246.1,264.3 Q247.2,263.3 247.2,261.8 M249.8,256.2 Q252.5,254.8 253.9,255.3 Q255.3,255.7 256.1,257.0 Q256.8,258.3 256.5,259.8 Q256.1,261.2 254.8,262.1 M255.7,258.1 Q257.2,260.7 257.2,262.2 Q257.2,263.7 258.0,264.9 Q258.8,266.2 260.1,266.9 Q261.4,267.6 262.9,267.5 M262.6,259.1 Q260.4,257.1 258.9,257.1 Q257.4,257.1 256.3,256.1 Q255.2,255.0 255.1,253.5 Q255.1,252.0 256.0,250.9" fill="none" stroke="#2e2e2e" stroke-width="1.5" stroke-linecap="round"/></g>
<ellipse cx="223.2" cy="230.0" rx="2.5" ry="1.5" fill="#f0f0f0" opacity="0.7" filter="url(#b05)"/>
<ellipse cx="219.5" cy="244.2" rx="2.5" ry="1.5" fill="#f0f0f0" opacity="0.7" filter="url(#b05)"/>
<ellipse cx="222.6" cy="232.3" rx="2.5" ry="1.5" fill="#f0f0f0" opacity="0.7" filter="url(#b05)"/>
<ellipse cx="253.9" cy="225.4" rx="2.5" ry="1.5" fill="#f0f0f0" opacity="0.7" filter="url(#b05)"/>
<ellipse cx="255.8" cy="240.3" rx="2.5" ry="1.5" fill="#f0f0f0" opacity="0.7" filter="url(#b05)"/>
<line x1="243.2" y1="247.7" x2="253.2" y2="247.7" stroke="#f4f4f4" stroke-width="1.3"/>
</g>
<g clip-path="url(#c12)">
<rect x="260.1" y="207.7" width="45.0" height="44.5" fill="#b0b0b0"/>
<rect x="269.1" y="216.6" width="27.0" height="22.25" fill="#cfcfcf" opacity="0.6" filter="url(#b4)"/>
<g filter="url(#b1)" transform="translate(0.9,1.0)" opacity="0.7"><path d="M258.7,205.1 Q258.0,208.0 258.8,209.3 Q259.5,210.6 260.9,211.1 Q262.3,211.6 263.7,211.0 Q265.1,210.4 265.7,209.0 M263.9,204.6 Q264.2,207.6 263.2,208.8 Q262.3,209.9 260.8,210.1 Q259.3,210.3 258.1,209.5 Q256.9,208.6 256.6,207.1 M273.1,203.6 Q270.3,202.6 268.9,203.0 Q267.4,203.4 266.5,204.5 Q265.5,205.7 265.4,207.2 Q265.3,208.7 266.1,209.9 M278.2,201.6 Q277.2,198.8 277.6,197.4 Q278.0,195.9 279.2,195.0 Q280.4,194.0 281.9,193.9 Q283.4,193.8 284.6,194.6 M290.0,202.8 Q290.9,205.7 292.2,206.4 Q293.5,207.2 294.9,206.9 Q296.4,206.6 297.3,205.4 Q298.2,204.2 298.1,202.7 M294.5,202.4 Q293.3,199.7 291.9,199.1 Q290.5,198.6 289.9,197.2 Q289.3,195.8 289.8,194.4 Q290.3,193.0 291.6,192.3 M305.9,204.8 Q305.1,207.7 303.8,208.4 Q302.5,209.2 302.0,210.6 Q301.6,212.0 302.3,213.4 Q303.0,214.7 304.4,215.2 M313.4,206.0 Q311.9,203.5 310.4,203.0 Q309.0,202.6 308.2,201.3 Q307.4,200.0 307.8,198.6 Q308.1,197.1 309.3,196.2 M257.8,210.9 Q258.5,213.9 259.6,214.8 Q260.8,215.7 261.1,217.2 Q261.5,218.7 260.8,220.0 Q260.2,221.4 258.8,222.0 M263.8,209.4 Q265.9,211.5 266.2,213.0 Q266.5,214.5 266.0,215.9 Q265.5,217.3 264.3,218.2 Q263.1,219.1 261.6,219.3 M274.0,214.1 Q273.6,211.2 274.4,210.0 Q275.3,208.7 276.8,208.5 Q278.3,208.2 279.5,209.0 Q280.8,209.9 281.1,211.3 M281.2,213.0 Q278.4,214.2 277.9,215.6 Q277.3,217.0 275.9,217.6 Q274.5,218.2 273.2,217.6 Q271.8,217.0 271.3,215.5 M286.9,212.9 Q289.9,213.3 291.1,212.4 Q292.3,211.5 292.4,210.0 Q292.6,208.5 291.6,207.3 Q290.6,206.2 289.1,206.1 M297.8,214.1 Q295.0,213.1 294.1,211.9 Q293.1,210.8 291.7,210.3 Q290.3,209.7 288.8,210.0 Q287.4,210.3 286.3,211.3 M302.9,213.6 Q302.3,210.7 301.2,209.7 Q300.1,208.7 298.6,208.5 Q297.1,208.3 295.8,209.0 Q294.5,209.7 293.8,211.0 M311.5,213.6 Q312.9,211.0 314.4,210.5 Q315.8,210.0 317.2,210.5 Q318.6,211.1 319.3,212.4 Q320.0,213.7 319.7,215.2 M258.8,217.1 Q261.5,218.4 262.1,219.8 Q262.8,221.1 264.1,221.8 Q265.5,222.4 267.0,222.1 Q268.4,221.8 269.4,220.7 M266.2,218.0 Q265.3,215.1 265.7,213.7 Q266.0,212.2 267.1,211.2 Q268.1,210.1 269.6,209.7 Q271.0,209.3 272.5,209.7 M271.8,218.6 Q274.7,219.4 275.7,220.6 Q276.7,221.7 278.1,222.1 Q279.6,222.5 281.0,222.0 Q282.4,221.6 283.4,220.4 M281.5,217.3 Q284.4,218.0 285.9,217.7 Q287.3,217.3 288.8,217.7 Q290.2,218.1 291.3,219.1 Q292.4,220.2 292.8,221.6 M288.1,220.4 Q291.1,221.0 292.0,222.1 Q292.9,223.3 294.4,223.6 Q295.9,223.9 297.2,223.1 Q298.5,222.3 299.0,220.9 M296.0,220.5 Q294.7,217.8 295.0,216.3 Q295.3,214.9 294.6,213.5 Q294.0,212.2 292.6,211.6 Q291.2,211.0 289.8,211.4 M304.5,219.7 Q306.3,217.3 307.7,216.8 Q309.1,216.4 310.0,215.2 Q310.9,214.0 311.0,212.5 Q311.1,211.0 310.4,209.7 M309.3,221.6 Q312.1,220.3 312.9,219.1 Q313.8,217.9 315.2,217.3 Q316.5,216.6 318.0,216.8 Q319.5,216.9 320.8,217.7 M260.5,227.6 Q261.0,224.7 261.9,223.5 Q262.8,222.3 263.0,220.8 Q263.2,219.3 262.7,217.9 Q262.2,216.5 261.0,215.5 M267.2,228.1 Q264.3,227.5 263.1,226.6 Q262.0,225.6 261.5,224.2 Q261.0,222.7 261.3,221.3 Q261.6,219.8 262.6,218.7 M274.4,226.8 Q277.3,227.5 278.6,226.8 Q280.0,226.1 281.4,226.5 Q282.9,226.9 283.7,228.2 Q284.5,229.4 284.3,230.9 M283.0,225.3 Q281.3,222.8 279.9,222.3 Q278.5,221.7 277.1,222.0 Q275.6,222.4 274.6,223.5 Q273.6,224.6 273.4,226.1 M291.2,224.6 Q288.2,225.1 286.8,224.5 Q285.4,224.0 283.9,224.2 Q282.5,224.5 281.3,225.4 Q280.2,226.4 279.7,227.8 M296.8,228.7 Q296.8,225.7 295.9,224.5 Q294.9,223.4 295.0,221.9 Q295.0,220.4 296.0,219.3 Q297.0,218.2 298.5,218.0 M302.6,226.1 Q304.4,228.5 304.6,230.0 Q304.7,231.5 304.1,232.8 Q303.5,234.2 302.3,235.1 Q301.0,235.9 299.5,236.0 M311.6,226.0 Q310.0,223.5 310.1,222.0 Q310.2,220.5 309.4,219.3 Q308.6,218.0 307.1,217.6 Q305.7,217.1 304.3,217.7 M259.1,233.1 Q260.7,235.6 260.7,237.1 Q260.7,238.6 261.5,239.9 Q262.3,241.1 263.7,241.7 Q265.1,242.3 266.5,242.0 M267.5,235.2 Q269.0,237.8 268.6,239.2 Q268.2,240.6 266.8,241.4 Q265.5,242.1 264.1,241.7 Q262.7,241.3 261.9,239.9 M275.0,236.9 Q277.1,234.7 278.6,234.3 Q280.0,233.9 281.5,234.2 Q282.9,234.6 284.1,235.6 Q285.2,236.6 285.7,238.0 M280.3,235.4 Q280.9,238.3 281.9,239.5 Q282.9,240.6 283.2,242.1 Q283.5,243.5 283.0,245.0 Q282.5,246.4 281.4,247.4 M289.4,235.8 Q290.1,232.9 289.6,231.5 Q289.1,230.1 289.5,228.6 Q289.9,227.1 290.9,226.1 Q292.0,225.1 293.5,224.8 M298.0,236.8 Q295.7,238.8 295.5,240.3 Q295.2,241.7 294.1,242.7 Q293.0,243.7 291.5,243.8 Q290.0,243.9 288.8,243.0 M302.6,232.2 Q300.0,233.5 298.5,233.1 Q297.0,232.8 295.7,233.4 Q294.4,234.1 293.8,235.5 Q293.2,236.9 293.6,238.3 M309.4,236.1 Q307.7,233.6 306.2,233.2 Q304.8,232.9 303.9,231.6 Q303.0,230.4 303.2,228.9 Q303.3,227.4 304.4,226.4 M255.5,240.9 Q252.7,241.8 251.9,243.0 Q251.1,244.3 249.7,244.8 Q248.2,245.2 246.9,244.6 Q245.5,244.0 244.9,242.6 M267.8,241.6 Q270.8,241.5 271.9,240.5 Q273.0,239.5 273.1,238.0 Q273.2,236.5 272.2,235.3 Q271.2,234.2 269.7,234.0 M270.9,243.7 Q271.7,246.6 273.0,247.4 Q274.2,248.2 274.6,249.6 Q275.0,251.1 274.3,252.4 Q273.6,253.7 272.2,254.2 M279.7,240.1 Q282.3,238.6 282.9,237.2 Q283.4,235.8 283.0,234.3 Q282.6,232.9 281.5,232.0 Q280.3,231.1 278.8,231.0 M286.4,243.4 Q288.8,245.1 289.3,246.5 Q289.7,248.0 290.9,248.9 Q292.1,249.7 293.6,249.7 Q295.1,249.6 296.3,248.7 M294.3,242.5 Q292.2,240.3 292.0,238.9 Q291.7,237.4 292.3,236.0 Q293.0,234.7 294.2,233.9 Q295.5,233.1 297.0,233.2 M304.8,239.4 Q302.6,241.5 301.1,241.6 Q299.6,241.8 298.5,242.8 Q297.4,243.8 297.1,245.3 Q296.9,246.8 297.6,248.1 M312.8,242.4 Q315.2,240.6 316.7,240.4 Q318.2,240.3 319.4,239.4 Q320.6,238.5 321.2,237.1 Q321.8,235.8 321.5,234.3 M259.0,249.8 Q256.6,251.7 256.5,253.2 Q256.4,254.7 255.2,255.6 Q254.0,256.5 252.5,256.3 Q251.0,256.0 250.2,254.8 M263.7,246.9 Q266.7,247.3 268.1,246.7 Q269.5,246.1 270.3,244.9 Q271.2,243.6 271.3,242.1 Q271.4,240.7 270.7,239.3 M271.8,250.8 Q269.7,248.7 269.4,247.2 Q269.0,245.8 269.5,244.4 Q270.0,242.9 271.2,242.0 Q272.4,241.1 273.9,240.9 M282.5,250.5 Q280.0,252.2 278.5,252.2 Q277.0,252.3 275.7,251.5 Q274.4,250.8 273.7,249.5 Q273.0,248.1 273.2,246.6 M285.5,250.6 Q283.0,252.3 281.5,252.0 Q280.1,251.8 278.8,252.6 Q277.6,253.4 277.3,254.9 Q276.9,256.4 277.7,257.7 M296.7,252.0 Q297.2,249.0 296.5,247.7 Q295.8,246.4 294.4,245.7 Q293.0,245.1 291.6,245.5 Q290.1,245.8 289.2,247.0 M301.8,248.4 Q299.4,250.2 297.9,250.1 Q296.5,250.0 295.4,248.9 Q294.4,247.8 294.4,246.3 Q294.4,244.8 295.4,243.6 M310.9,251.2 Q312.4,253.8 312.3,255.3 Q312.3,256.8 313.0,258.1 Q313.8,259.3 315.1,260.0 Q316.5,260.6 318.0,260.4 M256.4,255.5 Q254.7,258.0 254.8,259.5 Q254.9,261.0 256.0,262.0 Q257.1,263.1 258.6,263.2 Q260.1,263.3 261.3,262.4 M267.6,258.4 Q264.7,258.9 263.8,260.1 Q262.9,261.4 263.2,262.8 Q263.4,264.3 264.6,265.2 Q265.9,266.1 267.3,265.8 M272.9,255.2 Q273.4,252.3 272.6,251.0 Q271.8,249.7 270.4,249.4 Q268.9,249.0 267.6,249.7 Q266.3,250.4 265.8,251.8 M280.6,259.3 Q282.8,257.2 284.3,257.2 Q285.8,257.2 286.8,258.3 Q287.9,259.3 288.0,260.8 Q288.0,262.3 287.0,263.4 M288.6,259.6 Q288.0,262.6 289.0,263.8 Q289.9,265.0 291.4,265.1 Q292.8,265.3 294.0,264.3 Q295.1,263.3 295.1,261.8 M297.7,256.2 Q300.4,254.8 301.8,255.3 Q303.2,255.7 304.0,257.0 Q304.7,258.3 304.4,259.8 Q304.0,261.2 302.7,262.1 M303.6,258.1 Q305.1,260.7 305.1,262.2 Q305.1,263.7 305.9,264.9 Q306.7,266.2 308.0,266.9 Q309.3,267.6 310.8,267.5 M310.5,259.1 Q308.3,257.1 306.8,257.1 Q305.3,257.1 304.2,256.1 Q303.1,255.0 303.0,253.5 Q303.0,252.0 303.9,250.9" fill="none" stroke="#ececec" stroke-width="2.4" stroke-linecap="round"/></g>
<g filter="url(#b05)"><path d="M258.7,205.1 Q258.0,208.0 258.8,209.3 Q259.5,210.6 260.9,211.1 Q262.3,211.6 263.7,211.0 Q265.1,210.4 265.7,209.0 M263.9,204.6 Q264.2,207.6 263.2,208.8 Q262.3,209.9 260.8,210.1 Q259.3,210.3 258.1,209.5 Q256.9,208.6 256.6,207.1 M273.1,203.6 Q270.3,202.6 268.9,203.0 Q267.4,203.4 266.5,204.5 Q265.5,205.7 265.4,207.2 Q265.3,208.7 266.1,209.9 M278.2,201.6 Q277.2,198.8 277.6,197.4 Q278.0,195.9 279.2,195.0 Q280.4,194.0 281.9,193.9 Q283.4,193.8 284.6,194.6 M290.0,202.8 Q290.9,205.7 292.2,206.4 Q293.5,207.2 294.9,206.9 Q296.4,206.6 297.3,205.4 Q298.2,204.2 298.1,202.7 M294.5,202.4 Q293.3,199.7 291.9,199.1 Q290.5,198.6 289.9,197.2 Q289.3,195.8 289.8,194.4 Q290.3,193.0 291.6,192.3 M305.9,204.8 Q305.1,207.7 303.8,208.4 Q302.5,209.2 302.0,210.6 Q301.6,212.0 302.3,213.4 Q303.0,214.7 304.4,215.2 M313.4,206.0 Q311.9,203.5 310.4,203.0 Q309.0,202.6 308.2,201.3 Q307.4,200.0 307.8,198.6 Q308.1,197.1 309.3,196.2 M257.8,210.9 Q258.5,213.9 259.6,214.8 Q260.8,215.7 261.1,217.2 Q261.5,218.7 260.8,220.0 Q260.2,221.4 258.8,222.0 M263.8,209.4 Q265.9,211.5 266.2,213.0 Q266.5,214.5 266.0,215.9 Q265.5,217.3 264.3,218.2 Q263.1,219.1 261.6,219.3 M274.0,214.1 Q273.6,211.2 274.4,210.0 Q275.3,208.7 276.8,208.5 Q278.3,208.2 279.5,209.0 Q280.8,209.9 281.1,211.3 M281.2,213.0 Q278.4,214.2 277.9,215.6 Q277.3,217.0 275.9,217.6 Q274.5,218.2 273.2,217.6 Q271.8,217.0 271.3,215.5 M286.9,212.9 Q289.9,213.3 291.1,212.4 Q292.3,211.5 292.4,210.0 Q292.6,208.5 291.6,207.3 Q290.6,206.2 289.1,206.1 M297.8,214.1 Q295.0,213.1 294.1,211.9 Q293.1,210.8 291.7,210.3 Q290.3,209.7 288.8,210.0 Q287.4,210.3 286.3,211.3 M302.9,213.6 Q302.3,210.7 301.2,209.7 Q300.1,208.7 298.6,208.5 Q297.1,208.3 295.8,209.0 Q294.5,209.7 293.8,211.0 M311.5,213.6 Q312.9,211.0 314.4,210.5 Q315.8,210.0 317.2,210.5 Q318.6,211.1 319.3,212.4 Q320.0,213.7 319.7,215.2 M258.8,217.1 Q261.5,218.4 262.1,219.8 Q262.8,221.1 264.1,221.8 Q265.5,222.4 267.0,222.1 Q268.4,221.8 269.4,220.7 M266.2,218.0 Q265.3,215.1 265.7,213.7 Q266.0,212.2 267.1,211.2 Q268.1,210.1 269.6,209.7 Q271.0,209.3 272.5,209.7 M271.8,218.6 Q274.7,219.4 275.7,220.6 Q276.7,221.7 278.1,222.1 Q279.6,222.5 281.0,222.0 Q282.4,221.6 283.4,220.4 M281.5,217.3 Q284.4,218.0 285.9,217.7 Q287.3,217.3 288.8,217.7 Q290.2,218.1 291.3,219.1 Q292.4,220.2 292.8,221.6 M288.1,220.4 Q291.1,221.0 292.0,222.1 Q292.9,223.3 294.4,223.6 Q295.9,223.9 297.2,223.1 Q298.5,222.3 299.0,220.9 M296.0,220.5 Q294.7,217.8 295.0,216.3 Q295.3,214.9 294.6,213.5 Q294.0,212.2 292.6,211.6 Q291.2,211.0 289.8,211.4 M304.5,219.7 Q306.3,217.3 307.7,216.8 Q309.1,216.4 310.0,215.2 Q310.9,214.0 311.0,212.5 Q311.1,211.0 310.4,209.7 M309.3,221.6 Q312.1,220.3 312.9,219.1 Q313.8,217.9 315.2,217.3 Q316.5,216.6 318.0,216.8 Q319.5,216.9 320.8,217.7 M260.5,227.6 Q261.0,224.7 261.9,223.5 Q262.8,222.3 263.0,220.8 Q263.2,219.3 262.7,217.9 Q262.2,216.5 261.0,215.5 M267.2,228.1 Q264.3,227.5 263.1,226.6 Q262.0,225.6 261.5,224.2 Q261.0,222.7 261.3,221.3 Q261.6,219.8 262.6,218.7 M274.4,226.8 Q277.3,227.5 278.6,226.8 Q280.0,226.1 281.4,226.5 Q282.9,226.9 283.7,228.2 Q284.5,229.4 284.3,230.9 M283.0,225.3 Q281.3,222.8 279.9,222.3 Q278.5,221.7 277.1,222.0 Q275.6,222.4 274.6,223.5 Q273.6,224.6 273.4,226.1 M291.2,224.6 Q288.2,225.1 286.8,224.5 Q285.4,224.0 283.9,224.2 Q282.5,224.5 281.3,225.4 Q280.2,226.4 279.7,227.8 M296.8,228.7 Q296.8,225.7 295.9,224.5 Q294.9,223.4 295.0,221.9 Q295.0,220.4 296.0,219.3 Q297.0,218.2 298.5,218.0 M302.6,226.1 Q304.4,228.5 304.6,230.0 Q304.7,231.5 304.1,232.8 Q303.5,234.2 302.3,235.1 Q301.0,235.9 299.5,236.0 M311.6,226.0 Q310.0,223.5 310.1,222.0 Q310.2,220.5 309.4,219.3 Q308.6,218.0 307.1,217.6 Q305.7,217.1 304.3,217.7 M259.1,233.1 Q260.7,235.6 260.7,237.1 Q260.7,238.6 261.5,239.9 Q262.3,241.1 263.7,241.7 Q265.1,242.3 266.5,242.0 M267.5,235.2 Q269.0,237.8 268.6,239.2 Q268.2,240.6 266.8,241.4 Q265.5,242.1 264.1,241.7 Q262.7,241.3 261.9,239.9 M275.0,236.9 Q277.1,234.7 278.6,234.3 Q280.0,233.9 281.5,234.2 Q282.9,234.6 284.1,235.6 Q285.2,236.6 285.7,238.0 M280.3,235.4 Q280.9,238.3 281.9,239.5 Q282.9,240.6 283.2,242.1 Q283.5,243.5 283.0,245.0 Q282.5,246.4 281.4,247.4 M289.4,235.8 Q290.1,232.9 289.6,231.5 Q289.1,230.1 289.5,228.6 Q289.9,227.1 290.9,226.1 Q292.0,225.1 293.5,224.8 M298.0,236.8 Q295.7,238.8 295.5,240.3 Q295.2,241.7 294.1,242.7 Q293.0,243.7 291.5,243.8 Q290.0,243.9 288.8,243.0 M302.6,232.2 Q300.0,233.5 298.5,233.1 Q297.0,232.8 295.7,233.4 Q294.4,234.1 293.8,235.5 Q293.2,236.9 293.6,238.3 M309.4,236.1 Q307.7,233.6 306.2,233.2 Q304.8,232.9 303.9,231.6 Q303.0,230.4 303.2,228.9 Q303.3,227.4 304.4,226.4 M255.5,240.9 Q252.7,241.8 251.9,243.0 Q251.1,244.3 249.7,244.8 Q248.2,245.2 246.9,244.6 Q245.5,244.0 244.9,242.6 M267.8,241.6 Q270.8,241.5 271.9,240.5 Q273.0,239.5 273.1,238.0 Q273.2,236.5 272.2,235.3 Q271.2,234.2 269.7,234.0 M270.9,243.7 Q271.7,246.6 273.0,247.4 Q274.2,248.2 274.6,249.6 Q275.0,251.1 274.3,252.4 Q273.6,253.7 272.2,254.2 M279.7,240.1 Q282.3,238.6 282.9,237.2 Q283.4,235.8 283.0,234.3 Q282.6,232.9 281.5,232.0 Q280.3,231.1 278.8,231.0 M286.4,243.4 Q288.8,245.1 289.3,246.5 Q289.7,248.0 290.9,248.9 Q292.1,249.7 293.6,249.7 Q295.1,249.6 296.3,248.7 M294.3,242.5 Q292.2,240.3 292.0,238.9 Q291.7,237.4 292.3,236.0 Q293.0,234.7 294.2,233.9 Q295.5,233.1 297.0,233.2 M304.8,239.4 Q302.6,241.5 301.1,241.6 Q299.6,241.8 298.5,242.8 Q297.4,243.8 297.1,245.3 Q296.9,246.8 297.6,248.1 M312.8,242.4 Q315.2,240.6 316.7,240.4 Q318.2,240.3 319.4,239.4 Q320.6,238.5 321.2,237.1 Q321.8,235.8 321.5,234.3 M259.0,249.8 Q256.6,251.7 256.5,253.2 Q256.4,254.7 255.2,255.6 Q254.0,256.5 252.5,256.3 Q251.0,256.0 250.2,254.8 M263.7,246.9 Q266.7,247.3 268.1,246.7 Q269.5,246.1 270.3,244.9 Q271.2,243.6 271.3,242.1 Q271.4,240.7 270.7,239.3 M271.8,250.8 Q269.7,248.7 269.4,247.2 Q269.0,245.8 269.5,244.4 Q270.0,242.9 271.2,242.0 Q272.4,241.1 273.9,240.9 M282.5,250.5 Q280.0,252.2 278.5,252.2 Q277.0,252.3 275.7,251.5 Q274.4,250.8 273.7,249.5 Q273.0,248.1 273.2,246.6 M285.5,250.6 Q283.0,252.3 281.5,252.0 Q280.1,251.8 278.8,252.6 Q277.6,253.4 277.3,254.9 Q276.9,256.4 277.7,257.7 M296.7,252.0 Q297.2,249.0 296.5,247.7 Q295.8,246.4 294.4,245.7 Q293.0,245.1 291.6,245.5 Q290.1,245.8 289.2,247.0 M301.8,248.4 Q299.4,250.2 297.9,250.1 Q296.5,250.0 295.4,248.9 Q294.4,247.8 294.4,246.3 Q294.4,244.8 295.4,243.6 M310.9,251.2 Q312.4,253.8 312.3,255.3 Q312.3,256.8 313.0,258.1 Q313.8,259.3 315.1,260.0 Q316.5,260.6 318.0,260.4 M256.4,255.5 Q254.7,258.0 254.8,259.5 Q254.9,261.0 256.0,262.0 Q257.1,263.1 258.6,263.2 Q260.1,263.3 261.3,262.4 M267.6,258.4 Q264.7,258.9 263.8,260.1 Q262.9,261.4 263.2,262.8 Q263.4,264.3 264.6,265.2 Q265.9,266.1 267.3,265.8 M272.9,255.2 Q273.4,252.3 272.6,251.0 Q271.8,249.7 270.4,249.4 Q268.9,249.0 267.6,249.7 Q266.3,250.4 265.8,251.8 M280.6,259.3 Q282.8,257.2 284.3,257.2 Q285.8,257.2 286.8,258.3 Q287.9,259.3 288.0,260.8 Q288.0,262.3 287.0,263.4 M288.6,259.6 Q288.0,262.6 289.0,263.8 Q289.9,265.0 291.4,265.1 Q292.8,265.3 294.0,264.3 Q295.1,263.3 295.1,261.8 M297.7,256.2 Q300.4,254.8 301.8,255.3 Q303.2,255.7 304.0,257.0 Q304.7,258.3 304.4,259.8 Q304.0,261.2 302.7,262.1 M303.6,258.1 Q305.1,260.7 305.1,262.2 Q305.1,263.7 305.9,264.9 Q306.7,266.2 308.0,266.9 Q309.3,267.6 310.8,267.5 M310.5,259.1 Q308.3,257.1 306.8,257.1 Q305.3,257.1 304.2,256.1 Q303.1,255.0 303.0,253.5 Q303.0,252.0 303.9,250.9" fill="none" stroke="#2e2e2e" stroke-width="1.5" stroke-linecap="round"/></g>
<ellipse cx="271.1" cy="230.0" rx="2.5" ry="1.5" fill="#f0f0f0" opacity="0.7" filter="url(#b05)"/>
<ellipse cx="267.4" cy="244.2" rx="2.5" ry="1.5" fill="#f0f0f0" opacity="0.7" filter="url(#b05)"/>
<ellipse cx="270.5" cy="232.3" rx="2.5" ry="1.5" fill="#f0f0f0" opacity="0.7" filter="url(#b05)"/>
<ellipse cx="301.8" cy="225.4" rx="2.5" ry="1.5" fill="#f0f0f0" opacity="0.7" filter="url(#b05)"/>
<ellipse cx="303.7" cy="240.3" rx="2.5" ry="1.5" fill="#f0f0f0" opacity="0.7" filter="url(#b05)"/>
<line x1="291.1" y1="247.7" x2="301.1" y2="247.7" stroke="#f4f4f4" stroke-width="1.3"/>
</g>
<g clip-path="url(#c20)">
<rect x="163.8" y="254.3" width="45.0" height="44.30000000000001" fill="#070303"/>
<line x1="194.8" y1="294.1" x2="204.8" y2="294.1" stroke="#6a6a6a" stroke-width="1.3"/>
</g>
<g clip-path="url(#c21)">
<rect x="212.2" y="254.3" width="45.0" height="44.30000000000001" fill="#8c8c8c"/>
<rect x="221.2" y="263.16" width="27.0" height="22.150000000000006" fill="#b0b0b0" opacity="0.6" filter="url(#b4)"/>
<g filter="url(#b1)" transform="translate(0.9,1.0)" opacity="0.7"><path d="M209.8,249.2 Q207.6,251.2 206.2,251.4 Q204.7,251.6 203.6,252.6 Q202.5,253.7 202.2,255.1 Q202.0,256.6 202.7,257.9 M217.9,250.4 Q217.6,253.4 216.6,254.5 Q215.6,255.6 215.5,257.1 Q215.4,258.6 216.1,259.9 Q216.9,261.2 218.3,261.8 M226.9,251.4 Q225.9,254.2 224.7,255.1 Q223.5,256.0 223.0,257.4 Q222.5,258.8 222.9,260.3 Q223.3,261.7 224.5,262.7 M231.8,251.9 Q234.0,249.8 234.0,248.3 Q234.0,246.8 233.0,245.7 Q232.0,244.6 230.5,244.5 Q229.0,244.5 227.8,245.5 M240.7,251.8 Q240.7,248.8 239.9,247.6 Q239.1,246.3 239.1,244.8 Q239.1,243.3 239.9,242.0 Q240.7,240.7 242.1,240.1 M246.6,252.6 Q249.5,251.7 250.8,252.5 Q252.0,253.3 252.3,254.8 Q252.5,256.3 251.6,257.5 Q250.7,258.6 249.2,258.7 M259.4,250.4 Q258.0,253.0 258.2,254.5 Q258.4,256.0 259.4,257.1 Q260.5,258.2 261.9,258.4 Q263.4,258.7 264.8,258.0 M265.0,249.3 Q262.8,247.2 262.6,245.7 Q262.4,244.2 263.2,242.9 Q264.0,241.7 265.4,241.1 Q266.8,240.6 268.2,241.1 M210.5,258.6 Q207.7,257.5 206.2,257.9 Q204.8,258.2 203.4,257.7 Q202.0,257.1 201.1,255.9 Q200.2,254.7 200.2,253.2 M220.3,258.6 Q222.5,260.7 224.0,260.8 Q225.5,261.0 226.6,262.0 Q227.7,263.0 228.0,264.5 Q228.2,266.0 227.6,267.3 M224.7,257.3 Q222.4,259.2 220.9,259.0 Q219.4,258.9 218.3,259.8 Q217.1,260.8 217.0,262.3 Q216.9,263.8 217.8,264.9 M233.3,257.3 Q235.0,254.8 234.7,253.4 Q234.4,251.9 233.1,251.1 Q231.9,250.3 230.4,250.6 Q229.0,251.0 228.2,252.3 M244.2,256.1 Q244.6,259.1 244.0,260.5 Q243.4,261.8 242.2,262.7 Q241.0,263.6 239.5,263.7 Q238.0,263.7 236.7,263.0 M246.9,259.3 Q248.0,256.5 247.7,255.0 Q247.5,253.5 248.0,252.1 Q248.6,250.8 249.8,249.9 Q251.0,249.0 252.5,248.9 M258.5,256.9 Q260.3,254.5 261.8,254.1 Q263.2,253.7 264.6,254.1 Q266.0,254.6 266.9,255.8 Q267.9,257.0 267.9,258.5 M266.4,256.9 Q269.3,256.3 270.1,255.0 Q270.8,253.7 270.4,252.2 Q269.9,250.8 268.6,250.2 Q267.2,249.5 265.8,250.1 M210.7,265.7 Q208.6,267.8 207.2,268.0 Q205.7,268.2 204.6,269.3 Q203.6,270.4 203.5,271.9 Q203.4,273.4 204.2,274.6 M218.8,265.8 Q221.7,265.3 223.0,266.1 Q224.3,266.9 225.8,266.7 Q227.3,266.4 228.2,265.3 Q229.2,264.1 229.2,262.6 M224.5,267.3 Q221.5,267.2 220.2,268.0 Q218.9,268.7 217.5,268.7 Q216.0,268.6 214.7,267.7 Q213.5,266.8 213.0,265.4 M230.3,268.1 Q231.7,270.7 233.0,271.5 Q234.4,272.2 235.9,272.1 Q237.3,272.0 238.5,271.1 Q239.7,270.2 240.3,268.8 M242.3,263.3 Q245.2,264.0 246.0,265.2 Q246.9,266.4 248.4,266.8 Q249.8,267.1 251.1,266.3 Q252.4,265.6 252.8,264.1 M247.7,264.9 Q248.4,267.8 247.9,269.2 Q247.4,270.6 247.8,272.1 Q248.1,273.6 249.2,274.6 Q250.4,275.6 251.8,275.8 M254.7,265.0 Q253.3,267.6 252.0,268.5 Q250.8,269.3 250.1,270.6 Q249.4,272.0 249.4,273.5 Q249.4,275.0 250.2,276.3 M264.5,264.6 Q263.1,267.3 263.3,268.8 Q263.5,270.3 264.5,271.4 Q265.5,272.5 266.9,272.9 Q268.4,273.3 269.8,272.7 M210.4,273.2 Q212.5,271.1 212.5,269.6 Q212.6,268.1 213.6,267.0 Q214.7,265.9 216.2,265.9 Q217.7,265.9 218.8,267.0 M217.6,272.5 Q214.8,271.4 213.9,270.2 Q213.0,269.0 211.6,268.5 Q210.2,268.0 208.8,268.3 Q207.3,268.7 206.3,269.8 M224.5,272.1 Q224.2,275.0 225.2,276.2 Q226.2,277.3 226.0,278.8 Q225.8,280.3 224.6,281.1 Q223.4,282.0 221.9,281.7 M233.4,274.4 Q230.8,275.9 230.1,277.3 Q229.4,278.6 228.2,279.4 Q226.9,280.1 225.4,280.1 Q223.9,280.2 222.6,279.4 M243.8,271.1 Q245.1,268.4 246.5,268.0 Q248.0,267.6 248.6,266.3 Q249.3,264.9 248.8,263.5 Q248.2,262.1 246.8,261.6 M249.7,271.1 Q248.0,273.6 248.2,275.1 Q248.3,276.6 249.4,277.6 Q250.5,278.7 251.9,278.8 Q253.4,279.0 254.7,278.2 M255.5,272.0 Q255.6,275.0 254.8,276.2 Q254.0,277.5 252.6,278.1 Q251.3,278.8 249.8,278.5 Q248.3,278.3 247.2,277.3 M263.6,272.4 Q264.5,269.5 265.7,268.6 Q266.9,267.7 268.4,267.5 Q269.9,267.4 271.2,268.1 Q272.5,268.8 273.2,270.2 M213.0,279.3 Q215.4,281.1 216.8,280.8 Q218.3,280.5 219.5,281.3 Q220.7,282.2 220.9,283.7 Q221.0,285.2 219.9,286.3 M221.0,282.1 Q219.1,284.4 218.9,285.9 Q218.8,287.4 219.5,288.8 Q220.2,290.1 221.5,290.8 Q222.8,291.5 224.3,291.4 M227.0,282.5 Q229.9,283.2 230.9,284.3 Q231.9,285.4 233.4,285.7 Q234.9,286.1 236.3,285.6 Q237.7,285.1 238.6,283.9 M233.1,281.7 Q231.7,279.0 230.3,278.5 Q228.8,278.1 228.2,276.7 Q227.5,275.4 227.9,274.0 Q228.4,272.5 229.7,271.8 M242.8,280.5 Q241.1,278.1 239.6,277.9 Q238.2,277.6 236.9,278.5 Q235.7,279.4 235.5,280.9 Q235.3,282.4 236.2,283.6 M248.9,282.2 Q250.2,284.9 249.7,286.3 Q249.2,287.8 249.8,289.1 Q250.4,290.5 251.8,291.0 Q253.2,291.6 254.6,291.0 M259.2,280.5 Q256.9,278.5 256.8,277.0 Q256.7,275.6 257.6,274.4 Q258.6,273.3 260.1,273.1 Q261.6,273.0 262.7,273.9 M264.6,279.5 Q261.7,280.4 260.5,279.6 Q259.2,278.8 258.9,277.3 Q258.7,275.8 259.6,274.6 Q260.5,273.5 262.0,273.4 M209.8,290.6 Q207.6,292.7 206.1,292.7 Q204.6,292.6 203.6,291.5 Q202.6,290.5 202.6,289.0 Q202.6,287.5 203.7,286.4 M216.6,288.1 Q214.9,290.6 215.0,292.1 Q215.2,293.6 216.2,294.6 Q217.3,295.7 218.7,295.9 Q220.2,296.1 221.5,295.2 M227.7,288.3 Q229.7,286.0 231.2,285.6 Q232.6,285.2 233.6,284.1 Q234.6,283.0 234.9,281.5 Q235.1,280.0 234.6,278.6 M230.6,286.0 Q228.7,288.3 228.7,289.8 Q228.8,291.3 229.8,292.4 Q230.9,293.5 232.3,293.6 Q233.8,293.7 235.0,292.7 M239.1,289.4 Q238.5,292.4 239.0,293.8 Q239.6,295.2 239.3,296.6 Q239.0,298.1 238.0,299.2 Q237.0,300.3 235.5,300.7 M247.1,286.4 Q244.7,288.2 244.6,289.7 Q244.4,291.2 245.4,292.3 Q246.4,293.5 247.9,293.6 Q249.3,293.7 250.5,292.7 M253.5,286.5 Q253.9,283.5 253.0,282.3 Q252.1,281.1 252.3,279.7 Q252.5,278.2 253.7,277.3 Q255.0,276.4 256.4,276.7 M261.3,286.5 Q259.1,288.5 259.0,290.0 Q259.0,291.5 260.0,292.6 Q261.0,293.7 262.5,293.8 Q264.0,293.8 265.1,292.8 M211.3,297.1 Q209.3,294.9 207.8,294.8 Q206.3,294.7 205.3,293.6 Q204.3,292.4 204.3,290.9 Q204.3,289.4 205.4,288.4 M218.6,298.3 Q218.2,301.3 219.0,302.5 Q219.8,303.8 219.6,305.3 Q219.4,306.7 218.3,307.7 Q217.1,308.7 215.6,308.7 M223.9,294.9 Q226.2,293.0 227.7,293.1 Q229.2,293.3 230.4,292.4 Q231.6,291.4 231.8,289.9 Q232.0,288.5 231.1,287.2 M230.7,294.4 Q227.7,294.4 226.6,293.4 Q225.4,292.4 225.2,290.9 Q225.0,289.4 225.8,288.2 Q226.5,286.9 228.0,286.4 M238.5,296.9 Q235.7,295.7 234.3,296.3 Q233.0,297.0 232.5,298.4 Q232.1,299.8 232.8,301.1 Q233.6,302.4 235.1,302.7 M249.1,297.3 Q251.3,295.4 251.8,293.9 Q252.4,292.5 253.5,291.6 Q254.6,290.6 256.1,290.3 Q257.6,290.0 259.0,290.4 M256.8,298.5 Q258.4,301.0 258.5,302.5 Q258.6,304.0 259.4,305.3 Q260.2,306.5 261.5,307.2 Q262.9,307.9 264.4,307.8 M263.7,296.3 Q261.6,298.5 260.1,298.6 Q258.6,298.7 257.5,297.7 Q256.3,296.8 256.1,295.3 Q255.9,293.8 256.7,292.6 M206.6,304.3 Q208.1,306.9 209.6,307.2 Q211.0,307.5 211.8,308.8 Q212.6,310.1 212.1,311.5 Q211.6,312.9 210.3,313.5 M218.0,301.8 Q215.3,300.4 214.8,299.0 Q214.3,297.6 214.9,296.2 Q215.5,294.8 216.9,294.2 Q218.2,293.6 219.7,294.0 M223.3,301.6 Q221.1,303.5 219.6,303.8 Q218.1,304.0 217.0,305.0 Q215.8,306.0 215.4,307.4 Q214.9,308.8 215.3,310.3 M231.4,304.3 Q229.3,302.1 229.2,300.6 Q229.1,299.1 230.0,297.9 Q230.9,296.7 232.3,296.3 Q233.8,295.9 235.1,296.5 M236.8,301.8 Q238.5,304.3 238.3,305.7 Q238.1,307.2 239.0,308.4 Q239.9,309.6 241.3,309.9 Q242.8,310.1 244.0,309.2 M249.5,304.7 Q252.3,303.7 253.2,302.5 Q254.0,301.3 255.5,300.8 Q256.9,300.3 258.3,300.8 Q259.7,301.3 260.6,302.5 M253.7,305.2 Q255.6,302.9 257.1,302.5 Q258.5,302.1 259.5,300.9 Q260.5,299.8 260.7,298.3 Q260.9,296.8 260.2,295.5 M261.6,304.7 Q258.6,305.1 257.3,304.4 Q255.9,303.8 254.5,304.0 Q253.0,304.1 251.8,305.1 Q250.7,306.1 250.3,307.6" fill="none" stroke="#ececec" stroke-width="2.4" stroke-linecap="round"/></g>
<g filter="url(#b05)"><path d="M209.8,249.2 Q207.6,251.2 206.2,251.4 Q204.7,251.6 203.6,252.6 Q202.5,253.7 202.2,255.1 Q202.0,256.6 202.7,257.9 M217.9,250.4 Q217.6,253.4 216.6,254.5 Q215.6,255.6 215.5,257.1 Q215.4,258.6 216.1,259.9 Q216.9,261.2 218.3,261.8 M226.9,251.4 Q225.9,254.2 224.7,255.1 Q223.5,256.0 223.0,257.4 Q222.5,258.8 222.9,260.3 Q223.3,261.7 224.5,262.7 M231.8,251.9 Q234.0,249.8 234.0,248.3 Q234.0,246.8 233.0,245.7 Q232.0,244.6 230.5,244.5 Q229.0,244.5 227.8,245.5 M240.7,251.8 Q240.7,248.8 239.9,247.6 Q239.1,246.3 239.1,244.8 Q239.1,243.3 239.9,242.0 Q240.7,240.7 242.1,240.1 M246.6,252.6 Q249.5,251.7 250.8,252.5 Q252.0,253.3 252.3,254.8 Q252.5,256.3 251.6,257.5 Q250.7,258.6 249.2,258.7 M259.4,250.4 Q258.0,253.0 258.2,254.5 Q258.4,256.0 259.4,257.1 Q260.5,258.2 261.9,258.4 Q263.4,258.7 264.8,258.0 M265.0,249.3 Q262.8,247.2 262.6,245.7 Q262.4,244.2 263.2,242.9 Q264.0,241.7 265.4,241.1 Q266.8,240.6 268.2,241.1 M210.5,258.6 Q207.7,257.5 206.2,257.9 Q204.8,258.2 203.4,257.7 Q202.0,257.1 201.1,255.9 Q200.2,254.7 200.2,253.2 M220.3,258.6 Q222.5,260.7 224.0,260.8 Q225.5,261.0 226.6,262.0 Q227.7,263.0 228.0,264.5 Q228.2,266.0 227.6,267.3 M224.7,257.3 Q222.4,259.2 220.9,259.0 Q219.4,258.9 218.3,259.8 Q217.1,260.8 217.0,262.3 Q216.9,263.8 217.8,264.9 M233.3,257.3 Q235.0,254.8 234.7,253.4 Q234.4,251.9 233.1,251.1 Q231.9,250.3 230.4,250.6 Q229.0,251.0 228.2,252.3 M244.2,256.1 Q244.6,259.1 244.0,260.5 Q243.4,261.8 242.2,262.7 Q241.0,263.6 239.5,263.7 Q238.0,263.7 236.7,263.0 M246.9,259.3 Q248.0,256.5 247.7,255.0 Q247.5,253.5 248.0,252.1 Q248.6,250.8 249.8,249.9 Q251.0,249.0 252.5,248.9 M258.5,256.9 Q260.3,254.5 261.8,254.1 Q263.2,253.7 264.6,254.1 Q266.0,254.6 266.9,255.8 Q267.9,257.0 267.9,258.5 M266.4,256.9 Q269.3,256.3 270.1,255.0 Q270.8,253.7 270.4,252.2 Q269.9,250.8 268.6,250.2 Q267.2,249.5 265.8,250.1 M210.7,265.7 Q208.6,267.8 207.2,268.0 Q205.7,268.2 204.6,269.3 Q203.6,270.4 203.5,271.9 Q203.4,273.4 204.2,274.6 M218.8,265.8 Q221.7,265.3 223.0,266.1 Q224.3,266.9 225.8,266.7 Q227.3,266.4 228.2,265.3 Q229.2,264.1 229.2,262.6 M224.5,267.3 Q221.5,267.2 220.2,268.0 Q218.9,268.7 217.5,268.7 Q216.0,268.6 214.7,267.7 Q213.5,266.8 213.0,265.4 M230.3,268.1 Q231.7,270.7 233.0,271.5 Q234.4,272.2 235.9,272.1 Q237.3,272.0 238.5,271.1 Q239.7,270.2 240.3,268.8 M242.3,263.3 Q245.2,264.0 246.0,265.2 Q246.9,266.4 248.4,266.8 Q249.8,267.1 251.1,266.3 Q252.4,265.6 252.8,264.1 M247.7,264.9 Q248.4,267.8 247.9,269.2 Q247.4,270.6 247.8,272.1 Q248.1,273.6 249.2,274.6 Q250.4,275.6 251.8,275.8 M254.7,265.0 Q253.3,267.6 252.0,268.5 Q250.8,269.3 250.1,270.6 Q249.4,272.0 249.4,273.5 Q249.4,275.0 250.2,276.3 M264.5,264.6 Q263.1,267.3 263.3,268.8 Q263.5,270.3 264.5,271.4 Q265.5,272.5 266.9,272.9 Q268.4,273.3 269.8,272.7 M210.4,273.2 Q212.5,271.1 212.5,269.6 Q212.6,268.1 213.6,267.0 Q214.7,265.9 216.2,265.9 Q217.7,265.9 218.8,267.0 M217.6,272.5 Q214.8,271.4 213.9,270.2 Q213.0,269.0 211.6,268.5 Q210.2,268.0 208.8,268.3 Q207.3,268.7 206.3,269.8 M224.5,272.1 Q224.2,275.0 225.2,276.2 Q226.2,277.3 226.0,278.8 Q225.8,280.3 224.6,281.1 Q223.4,282.0 221.9,281.7 M233.4,274.4 Q230.8,275.9 230.1,277.3 Q229.4,278.6 228.2,279.4 Q226.9,280.1 225.4,280.1 Q223.9,280.2 222.6,279.4 M243.8,271.1 Q245.1,268.4 246.5,268.0 Q248.0,267.6 248.6,266.3 Q249.3,264.9 248.8,263.5 Q248.2,262.1 246.8,261.6 M249.7,271.1 Q248.0,273.6 248.2,275.1 Q248.3,276.6 249.4,277.6 Q250.5,278.7 251.9,278.8 Q253.4,279.0 254.7,278.2 M255.5,272.0 Q255.6,275.0 254.8,276.2 Q254.0,277.5 252.6,278.1 Q251.3,278.8 249.8,278.5 Q248.3,278.3 247.2,277.3 M263.6,272.4 Q264.5,269.5 265.7,268.6 Q266.9,267.7 268.4,267.5 Q269.9,267.4 271.2,268.1 Q272.5,268.8 273.2,270.2 M213.0,279.3 Q215.4,281.1 216.8,280.8 Q218.3,280.5 219.5,281.3 Q220.7,282.2 220.9,283.7 Q221.0,285.2 219.9,286.3 M221.0,282.1 Q219.1,284.4 218.9,285.9 Q218.8,287.4 219.5,288.8 Q220.2,290.1 221.5,290.8 Q222.8,291.5 224.3,291.4 M227.0,282.5 Q229.9,283.2 230.9,284.3 Q231.9,285.4 233.4,285.7 Q234.9,286.1 236.3,285.6 Q237.7,285.1 238.6,283.9 M233.1,281.7 Q231.7,279.0 230.3,278.5 Q228.8,278.1 228.2,276.7 Q227.5,275.4 227.9,274.0 Q228.4,272.5 229.7,271.8 M242.8,280.5 Q241.1,278.1 239.6,277.9 Q238.2,277.6 236.9,278.5 Q235.7,279.4 235.5,280.9 Q235.3,282.4 236.2,283.6 M248.9,282.2 Q250.2,284.9 249.7,286.3 Q249.2,287.8 249.8,289.1 Q250.4,290.5 251.8,291.0 Q253.2,291.6 254.6,291.0 M259.2,280.5 Q256.9,278.5 256.8,277.0 Q256.7,275.6 257.6,274.4 Q258.6,273.3 260.1,273.1 Q261.6,273.0 262.7,273.9 M264.6,279.5 Q261.7,280.4 260.5,279.6 Q259.2,278.8 258.9,277.3 Q258.7,275.8 259.6,274.6 Q260.5,273.5 262.0,273.4 M209.8,290.6 Q207.6,292.7 206.1,292.7 Q204.6,292.6 203.6,291.5 Q202.6,290.5 202.6,289.0 Q202.6,287.5 203.7,286.4 M216.6,288.1 Q214.9,290.6 215.0,292.1 Q215.2,293.6 216.2,294.6 Q217.3,295.7 218.7,295.9 Q220.2,296.1 221.5,295.2 M227.7,288.3 Q229.7,286.0 231.2,285.6 Q232.6,285.2 233.6,284.1 Q234.6,283.0 234.9,281.5 Q235.1,280.0 234.6,278.6 M230.6,286.0 Q228.7,288.3 228.7,289.8 Q228.8,291.3 229.8,292.4 Q230.9,293.5 232.3,293.6 Q233.8,293.7 235.0,292.7 M239.1,289.4 Q238.5,292.4 239.0,293.8 Q239.6,295.2 239.3,296.6 Q239.0,298.1 238.0,299.2 Q237.0,300.3 235.5,300.7 M247.1,286.4 Q244.7,288.2 244.6,289.7 Q244.4,291.2 245.4,292.3 Q246.4,293.5 247.9,293.6 Q249.3,293.7 250.5,292.7 M253.5,286.5 Q253.9,283.5 253.0,282.3 Q252.1,281.1 252.3,279.7 Q252.5,278.2 253.7,277.3 Q255.0,276.4 256.4,276.7 M261.3,286.5 Q259.1,288.5 259.0,290.0 Q259.0,291.5 260.0,292.6 Q261.0,293.7 262.5,293.8 Q264.0,293.8 265.1,292.8 M211.3,297.1 Q209.3,294.9 207.8,294.8 Q206.3,294.7 205.3,293.6 Q204.3,292.4 204.3,290.9 Q204.3,289.4 205.4,288.4 M218.6,298.3 Q218.2,301.3 219.0,302.5 Q219.8,303.8 219.6,305.3 Q219.4,306.7 218.3,307.7 Q217.1,308.7 215.6,308.7 M223.9,294.9 Q226.2,293.0 227.7,293.1 Q229.2,293.3 230.4,292.4 Q231.6,291.4 231.8,289.9 Q232.0,288.5 231.1,287.2 M230.7,294.4 Q227.7,294.4 226.6,293.4 Q225.4,292.4 225.2,290.9 Q225.0,289.4 225.8,288.2 Q226.5,286.9 228.0,286.4 M238.5,296.9 Q235.7,295.7 234.3,296.3 Q233.0,297.0 232.5,298.4 Q232.1,299.8 232.8,301.1 Q233.6,302.4 235.1,302.7 M249.1,297.3 Q251.3,295.4 251.8,293.9 Q252.4,292.5 253.5,291.6 Q254.6,290.6 256.1,290.3 Q257.6,290.0 259.0,290.4 M256.8,298.5 Q258.4,301.0 258.5,302.5 Q258.6,304.0 259.4,305.3 Q260.2,306.5 261.5,307.2 Q262.9,307.9 264.4,307.8 M263.7,296.3 Q261.6,298.5 260.1,298.6 Q258.6,298.7 257.5,297.7 Q256.3,296.8 256.1,295.3 Q255.9,293.8 256.7,292.6 M206.6,304.3 Q208.1,306.9 209.6,307.2 Q211.0,307.5 211.8,308.8 Q212.6,310.1 212.1,311.5 Q211.6,312.9 210.3,313.5 M218.0,301.8 Q215.3,300.4 214.8,299.0 Q214.3,297.6 214.9,296.2 Q215.5,294.8 216.9,294.2 Q218.2,293.6 219.7,294.0 M223.3,301.6 Q221.1,303.5 219.6,303.8 Q218.1,304.0 217.0,305.0 Q215.8,306.0 215.4,307.4 Q214.9,308.8 215.3,310.3 M231.4,304.3 Q229.3,302.1 229.2,300.6 Q229.1,299.1 230.0,297.9 Q230.9,296.7 232.3,296.3 Q233.8,295.9 235.1,296.5 M236.8,301.8 Q238.5,304.3 238.3,305.7 Q238.1,307.2 239.0,308.4 Q239.9,309.6 241.3,309.9 Q242.8,310.1 244.0,309.2 M249.5,304.7 Q252.3,303.7 253.2,302.5 Q254.0,301.3 255.5,300.8 Q256.9,300.3 258.3,300.8 Q259.7,301.3 260.6,302.5 M253.7,305.2 Q255.6,302.9 257.1,302.5 Q258.5,302.1 259.5,300.9 Q260.5,299.8 260.7,298.3 Q260.9,296.8 260.2,295.5 M261.6,304.7 Q258.6,305.1 257.3,304.4 Q255.9,303.8 254.5,304.0 Q253.0,304.1 251.8,305.1 Q250.7,306.1 250.3,307.6" fill="none" stroke="#2e2e2e" stroke-width="1.5" stroke-linecap="round"/></g>
<ellipse cx="256.2" cy="256.7" rx="2.5" ry="1.5" fill="#f0f0f0" opacity="0.7" filter="url(#b05)"/>
<ellipse cx="244.9" cy="275.7" rx="2.5" ry="1.5" fill="#f0f0f0" opacity="0.7" filter="url(#b05)"/>
<ellipse cx="254.6" cy="272.3" rx="2.5" ry="1.5" fill="#f0f0f0" opacity="0.7" filter="url(#b05)"/>
<ellipse cx="253.6" cy="261.4" rx="2.5" ry="1.5" fill="#f0f0f0" opacity="0.7" filter="url(#b05)"/>
<ellipse cx="257.0" cy="272.6" rx="2.5" ry="1.5" fill="#f0f0f0" opacity="0.7" filter="url(#b05)"/>
</g>
<g clip-path="url(#c22)">
<rect x="260.1" y="254.3" width="45.0" height="44.30000000000001" fill="#8c8c8c"/>
<rect x="269.1" y="263.16" width="27.0" height="22.150000000000006" fill="#b0b0b0" opacity="0.6" filter="url(#b4)"/>
<g filter="url(#b1)" transform="translate(0.9,1.0)" opacity="0.7"><path d="M257.7,249.2 Q255.5,251.2 254.1,251.4 Q252.6,251.6 251.5,252.6 Q250.4,253.7 250.1,255.1 Q249.9,256.6 250.6,257.9 M265.8,250.4 Q265.5,253.4 264.5,254.5 Q263.5,255.6 263.4,257.1 Q263.3,258.6 264.0,259.9 Q264.8,261.2 266.2,261.8 M274.8,251.4 Q273.8,254.2 272.6,255.1 Q271.4,256.0 270.9,257.4 Q270.4,258.8 270.8,260.3 Q271.2,261.7 272.4,262.7 M279.7,251.9 Q281.9,249.8 281.9,248.3 Q281.9,246.8 280.9,245.7 Q279.9,244.6 278.4,244.5 Q276.9,244.5 275.7,245.5 M288.6,251.8 Q288.6,248.8 287.8,247.6 Q287.0,246.3 287.0,244.8 Q287.0,243.3 287.8,242.0 Q288.6,240.7 290.0,240.1 M294.5,252.6 Q297.4,251.7 298.7,252.5 Q299.9,253.3 300.2,254.8 Q300.4,256.3 299.5,257.5 Q298.6,258.6 297.1,258.7 M307.3,250.4 Q305.9,253.0 306.1,254.5 Q306.3,256.0 307.3,257.1 Q308.4,258.2 309.8,258.4 Q311.3,258.7 312.7,258.0 M312.9,249.3 Q310.7,247.2 310.5,245.7 Q310.3,244.2 311.1,242.9 Q311.9,241.7 313.3,241.1 Q314.7,240.6 316.1,241.1 M258.4,258.6 Q255.6,257.5 254.1,257.9 Q252.7,258.2 251.3,257.7 Q249.9,257.1 249.0,255.9 Q248.1,254.7 248.1,253.2 M268.2,258.6 Q270.4,260.7 271.9,260.8 Q273.4,261.0 274.5,262.0 Q275.6,263.0 275.9,264.5 Q276.1,266.0 275.5,267.3 M272.6,257.3 Q270.3,259.2 268.8,259.0 Q267.3,258.9 266.2,259.8 Q265.0,260.8 264.9,262.3 Q264.8,263.8 265.7,264.9 M281.2,257.3 Q282.9,254.8 282.6,253.4 Q282.3,251.9 281.0,251.1 Q279.8,250.3 278.3,250.6 Q276.9,251.0 276.1,252.3 M292.1,256.1 Q292.5,259.1 291.9,260.5 Q291.3,261.8 290.1,262.7 Q288.9,263.6 287.4,263.7 Q285.9,263.7 284.6,263.0 M294.8,259.3 Q295.9,256.5 295.6,255.0 Q295.4,253.5 295.9,252.1 Q296.5,250.8 297.7,249.9 Q298.9,249.0 300.4,248.9 M306.4,256.9 Q308.2,254.5 309.7,254.1 Q311.1,253.7 312.5,254.1 Q313.9,254.6 314.8,255.8 Q315.8,257.0 315.8,258.5 M314.3,256.9 Q317.2,256.3 318.0,255.0 Q318.7,253.7 318.3,252.2 Q317.8,250.8 316.5,250.2 Q315.1,249.5 313.7,250.1 M258.6,265.7 Q256.5,267.8 255.1,268.0 Q253.6,268.2 252.5,269.3 Q251.5,270.4 251.4,271.9 Q251.3,273.4 252.1,274.6 M266.7,265.8 Q269.6,265.3 270.9,266.1 Q272.2,266.9 273.7,266.7 Q275.2,266.4 276.1,265.3 Q277.1,264.1 277.1,262.6 M272.4,267.3 Q269.4,267.2 268.1,268.0 Q266.8,268.7 265.4,268.7 Q263.9,268.6 262.6,267.7 Q261.4,266.8 260.9,265.4 M278.2,268.1 Q279.6,270.7 280.9,271.5 Q282.3,272.2 283.8,272.1 Q285.2,272.0 286.4,271.1 Q287.6,270.2 288.2,268.8 M290.2,263.3 Q293.1,264.0 293.9,265.2 Q294.8,266.4 296.3,266.8 Q297.7,267.1 299.0,266.3 Q300.3,265.6 300.7,264.1 M295.6,264.9 Q296.3,267.8 295.8,269.2 Q295.3,270.6 295.7,272.1 Q296.0,273.6 297.1,274.6 Q298.3,275.6 299.7,275.8 M302.6,265.0 Q301.2,267.6 299.9,268.5 Q298.7,269.3 298.0,270.6 Q297.3,272.0 297.3,273.5 Q297.3,275.0 298.1,276.3 M312.4,264.6 Q311.0,267.3 311.2,268.8 Q311.4,270.3 312.4,271.4 Q313.4,272.5 314.8,272.9 Q316.3,273.3 317.7,272.7 M258.3,273.2 Q260.4,271.1 260.4,269.6 Q260.5,268.1 261.5,267.0 Q262.6,265.9 264.1,265.9 Q265.6,265.9 266.7,267.0 M265.5,272.5 Q262.7,271.4 261.8,270.2 Q260.9,269.0 259.5,268.5 Q258.1,268.0 256.7,268.3 Q255.2,268.7 254.2,269.8 M272.4,272.1 Q272.1,275.0 273.1,276.2 Q274.1,277.3 273.9,278.8 Q273.7,280.3 272.5,281.1 Q271.3,282.0 269.8,281.7 M281.3,274.4 Q278.7,275.9 278.0,277.3 Q277.3,278.6 276.1,279.4 Q274.8,280.1 273.3,280.1 Q271.8,280.2 270.5,279.4 M291.7,271.1 Q293.0,268.4 294.4,268.0 Q295.9,267.6 296.5,266.3 Q297.2,264.9 296.7,263.5 Q296.1,262.1 294.7,261.6 M297.6,271.1 Q295.9,273.6 296.1,275.1 Q296.2,276.6 297.3,277.6 Q298.4,278.7 299.8,278.8 Q301.3,279.0 302.6,278.2 M303.4,272.0 Q303.5,275.0 302.7,276.2 Q301.9,277.5 300.5,278.1 Q299.2,278.8 297.7,278.5 Q296.2,278.3 295.1,277.3 M311.5,272.4 Q312.4,269.5 313.6,268.6 Q314.8,267.7 316.3,267.5 Q317.8,267.4 319.1,268.1 Q320.4,268.8 321.1,270.2 M260.9,279.3 Q263.3,281.1 264.7,280.8 Q266.2,280.5 267.4,281.3 Q268.6,282.2 268.8,283.7 Q268.9,285.2 267.8,286.3 M268.9,282.1 Q267.0,284.4 266.8,285.9 Q266.7,287.4 267.4,288.8 Q268.1,290.1 269.4,290.8 Q270.7,291.5 272.2,291.4 M274.9,282.5 Q277.8,283.2 278.8,284.3 Q279.8,285.4 281.3,285.7 Q282.8,286.1 284.2,285.6 Q285.6,285.1 286.5,283.9 M281.0,281.7 Q279.6,279.0 278.2,278.5 Q276.7,278.1 276.1,276.7 Q275.4,275.4 275.8,274.0 Q276.3,272.5 277.6,271.8 M290.7,280.5 Q289.0,278.1 287.5,277.9 Q286.1,277.6 284.8,278.5 Q283.6,279.4 283.4,280.9 Q283.2,282.4 284.1,283.6 M296.8,282.2 Q298.1,284.9 297.6,286.3 Q297.1,287.8 297.7,289.1 Q298.3,290.5 299.7,291.0 Q301.1,291.6 302.5,291.0 M307.1,280.5 Q304.8,278.5 304.7,277.0 Q304.6,275.6 305.5,274.4 Q306.5,273.3 308.0,273.1 Q309.5,273.0 310.6,273.9 M312.5,279.5 Q309.6,280.4 308.4,279.6 Q307.1,278.8 306.8,277.3 Q306.6,275.8 307.5,274.6 Q308.4,273.5 309.9,273.4 M257.7,290.6 Q255.5,292.7 254.0,292.7 Q252.5,292.6 251.5,291.5 Q250.5,290.5 250.5,289.0 Q250.5,287.5 251.6,286.4 M264.5,288.1 Q262.8,290.6 262.9,292.1 Q263.1,293.6 264.1,294.6 Q265.2,295.7 266.6,295.9 Q268.1,296.1 269.4,295.2 M275.6,288.3 Q277.6,286.0 279.1,285.6 Q280.5,285.2 281.5,284.1 Q282.5,283.0 282.8,281.5 Q283.0,280.0 282.5,278.6 M278.5,286.0 Q276.6,288.3 276.6,289.8 Q276.7,291.3 277.7,292.4 Q278.8,293.5 280.2,293.6 Q281.7,293.7 282.9,292.7 M287.0,289.4 Q286.4,292.4 286.9,293.8 Q287.5,295.2 287.2,296.6 Q286.9,298.1 285.9,299.2 Q284.9,300.3 283.4,300.7 M295.0,286.4 Q292.6,288.2 292.5,289.7 Q292.3,291.2 293.3,292.3 Q294.3,293.5 295.8,293.6 Q297.2,293.7 298.4,292.7 M301.4,286.5 Q301.8,283.5 300.9,282.3 Q300.0,281.1 300.2,279.7 Q300.4,278.2 301.6,277.3 Q302.9,276.4 304.3,276.7 M309.2,286.5 Q307.0,288.5 306.9,290.0 Q306.9,291.5 307.9,292.6 Q308.9,293.7 310.4,293.8 Q311.9,293.8 313.0,292.8 M259.2,297.1 Q257.2,294.9 255.7,294.8 Q254.2,294.7 253.2,293.6 Q252.2,292.4 252.2,290.9 Q252.2,289.4 253.3,288.4 M266.5,298.3 Q266.1,301.3 266.9,302.5 Q267.7,303.8 267.5,305.3 Q267.3,306.7 266.2,307.7 Q265.0,308.7 263.5,308.7 M271.8,294.9 Q274.1,293.0 275.6,293.1 Q277.1,293.3 278.3,292.4 Q279.5,291.4 279.7,289.9 Q279.9,288.5 279.0,287.2 M278.6,294.4 Q275.6,294.4 274.5,293.4 Q273.3,292.4 273.1,290.9 Q272.9,289.4 273.7,288.2 Q274.4,286.9 275.9,286.4 M286.4,296.9 Q283.6,295.7 282.2,296.3 Q280.9,297.0 280.4,298.4 Q280.0,299.8 280.7,301.1 Q281.5,302.4 283.0,302.7 M297.0,297.3 Q299.2,295.4 299.7,293.9 Q300.3,292.5 301.4,291.6 Q302.5,290.6 304.0,290.3 Q305.5,290.0 306.9,290.4 M304.7,298.5 Q306.3,301.0 306.4,302.5 Q306.5,304.0 307.3,305.3 Q308.1,306.5 309.4,307.2 Q310.8,307.9 312.3,307.8 M311.6,296.3 Q309.5,298.5 308.0,298.6 Q306.5,298.7 305.4,297.7 Q304.2,296.8 304.0,295.3 Q303.8,293.8 304.6,292.6 M254.5,304.3 Q256.0,306.9 257.5,307.2 Q258.9,307.5 259.7,308.8 Q260.5,310.1 260.0,311.5 Q259.5,312.9 258.2,313.5 M265.9,301.8 Q263.2,300.4 262.7,299.0 Q262.2,297.6 262.8,296.2 Q263.4,294.8 264.8,294.2 Q266.1,293.6 267.6,294.0 M271.2,301.6 Q269.0,303.5 267.5,303.8 Q266.0,304.0 264.9,305.0 Q263.7,306.0 263.3,307.4 Q262.8,308.8 263.2,310.3 M279.3,304.3 Q277.2,302.1 277.1,300.6 Q277.0,299.1 277.9,297.9 Q278.8,296.7 280.2,296.3 Q281.7,295.9 283.0,296.5 M284.7,301.8 Q286.4,304.3 286.2,305.7 Q286.0,307.2 286.9,308.4 Q287.8,309.6 289.2,309.9 Q290.7,310.1 291.9,309.2 M297.4,304.7 Q300.2,303.7 301.1,302.5 Q301.9,301.3 303.4,300.8 Q304.8,300.3 306.2,300.8 Q307.6,301.3 308.5,302.5 M301.6,305.2 Q303.5,302.9 305.0,302.5 Q306.4,302.1 307.4,300.9 Q308.4,299.8 308.6,298.3 Q308.8,296.8 308.1,295.5 M309.5,304.7 Q306.5,305.1 305.2,304.4 Q303.8,303.8 302.4,304.0 Q300.9,304.1 299.7,305.1 Q298.6,306.1 298.2,307.6" fill="none" stroke="#ececec" stroke-width="2.4" stroke-linecap="round"/></g>
<g filter="url(#b05)"><path d="M257.7,249.2 Q255.5,251.2 254.1,251.4 Q252.6,251.6 251.5,252.6 Q250.4,253.7 250.1,255.1 Q249.9,256.6 250.6,257.9 M265.8,250.4 Q265.5,253.4 264.5,254.5 Q263.5,255.6 263.4,257.1 Q263.3,258.6 264.0,259.9 Q264.8,261.2 266.2,261.8 M274.8,251.4 Q273.8,254.2 272.6,255.1 Q271.4,256.0 270.9,257.4 Q270.4,258.8 270.8,260.3 Q271.2,261.7 272.4,262.7 M279.7,251.9 Q281.9,249.8 281.9,248.3 Q281.9,246.8 280.9,245.7 Q279.9,244.6 278.4,244.5 Q276.9,244.5 275.7,245.5 M288.6,251.8 Q288.6,248.8 287.8,247.6 Q287.0,246.3 287.0,244.8 Q287.0,243.3 287.8,242.0 Q288.6,240.7 290.0,240.1 M294.5,252.6 Q297.4,251.7 298.7,252.5 Q299.9,253.3 300.2,254.8 Q300.4,256.3 299.5,257.5 Q298.6,258.6 297.1,258.7 M307.3,250.4 Q305.9,253.0 306.1,254.5 Q306.3,256.0 307.3,257.1 Q308.4,258.2 309.8,258.4 Q311.3,258.7 312.7,258.0 M312.9,249.3 Q310.7,247.2 310.5,245.7 Q310.3,244.2 311.1,242.9 Q311.9,241.7 313.3,241.1 Q314.7,240.6 316.1,241.1 M258.4,258.6 Q255.6,257.5 254.1,257.9 Q252.7,258.2 251.3,257.7 Q249.9,257.1 249.0,255.9 Q248.1,254.7 248.1,253.2 M268.2,258.6 Q270.4,260.7 271.9,260.8 Q273.4,261.0 274.5,262.0 Q275.6,263.0 275.9,264.5 Q276.1,266.0 275.5,267.3 M272.6,257.3 Q270.3,259.2 268.8,259.0 Q267.3,258.9 266.2,259.8 Q265.0,260.8 264.9,262.3 Q264.8,263.8 265.7,264.9 M281.2,257.3 Q282.9,254.8 282.6,253.4 Q282.3,251.9 281.0,251.1 Q279.8,250.3 278.3,250.6 Q276.9,251.0 276.1,252.3 M292.1,256.1 Q292.5,259.1 291.9,260.5 Q291.3,261.8 290.1,262.7 Q288.9,263.6 287.4,263.7 Q285.9,263.7 284.6,263.0 M294.8,259.3 Q295.9,256.5 295.6,255.0 Q295.4,253.5 295.9,252.1 Q296.5,250.8 297.7,249.9 Q298.9,249.0 300.4,248.9 M306.4,256.9 Q308.2,254.5 309.7,254.1 Q311.1,253.7 312.5,254.1 Q313.9,254.6 314.8,255.8 Q315.8,257.0 315.8,258.5 M314.3,256.9 Q317.2,256.3 318.0,255.0 Q318.7,253.7 318.3,252.2 Q317.8,250.8 316.5,250.2 Q315.1,249.5 313.7,250.1 M258.6,265.7 Q256.5,267.8 255.1,268.0 Q253.6,268.2 252.5,269.3 Q251.5,270.4 251.4,271.9 Q251.3,273.4 252.1,274.6 M266.7,265.8 Q269.6,265.3 270.9,266.1 Q272.2,266.9 273.7,266.7 Q275.2,266.4 276.1,265.3 Q277.1,264.1 277.1,262.6 M272.4,267.3 Q269.4,267.2 268.1,268.0 Q266.8,268.7 265.4,268.7 Q263.9,268.6 262.6,267.7 Q261.4,266.8 260.9,265.4 M278.2,268.1 Q279.6,270.7 280.9,271.5 Q282.3,272.2 283.8,272.1 Q285.2,272.0 286.4,271.1 Q287.6,270.2 288.2,268.8 M290.2,263.3 Q293.1,264.0 293.9,265.2 Q294.8,266.4 296.3,266.8 Q297.7,267.1 299.0,266.3 Q300.3,265.6 300.7,264.1 M295.6,264.9 Q296.3,267.8 295.8,269.2 Q295.3,270.6 295.7,272.1 Q296.0,273.6 297.1,274.6 Q298.3,275.6 299.7,275.8 M302.6,265.0 Q301.2,267.6 299.9,268.5 Q298.7,269.3 298.0,270.6 Q297.3,272.0 297.3,273.5 Q297.3,275.0 298.1,276.3 M312.4,264.6 Q311.0,267.3 311.2,268.8 Q311.4,270.3 312.4,271.4 Q313.4,272.5 314.8,272.9 Q316.3,273.3 317.7,272.7 M258.3,273.2 Q260.4,271.1 260.4,269.6 Q260.5,268.1 261.5,267.0 Q262.6,265.9 264.1,265.9 Q265.6,265.9 266.7,267.0 M265.5,272.5 Q262.7,271.4 261.8,270.2 Q260.9,269.0 259.5,268.5 Q258.1,268.0 256.7,268.3 Q255.2,268.7 254.2,269.8 M272.4,272.1 Q272.1,275.0 273.1,276.2 Q274.1,277.3 273.9,278.8 Q273.7,280.3 272.5,281.1 Q271.3,282.0 269.8,281.7 M281.3,274.4 Q278.7,275.9 278.0,277.3 Q277.3,278.6 276.1,279.4 Q274.8,280.1 273.3,280.1 Q271.8,280.2 270.5,279.4 M291.7,271.1 Q293.0,268.4 294.4,268.0 Q295.9,267.6 296.5,266.3 Q297.2,264.9 296.7,263.5 Q296.1,262.1 294.7,261.6 M297.6,271.1 Q295.9,273.6 296.1,275.1 Q296.2,276.6 297.3,277.6 Q298.4,278.7 299.8,278.8 Q301.3,279.0 302.6,278.2 M303.4,272.0 Q303.5,275.0 302.7,276.2 Q301.9,277.5 300.5,278.1 Q299.2,278.8 297.7,278.5 Q296.2,278.3 295.1,277.3 M311.5,272.4 Q312.4,269.5 313.6,268.6 Q314.8,267.7 316.3,267.5 Q317.8,267.4 319.1,268.1 Q320.4,268.8 321.1,270.2 M260.9,279.3 Q263.3,281.1 264.7,280.8 Q266.2,280.5 267.4,281.3 Q268.6,282.2 268.8,283.7 Q268.9,285.2 267.8,286.3 M268.9,282.1 Q267.0,284.4 266.8,285.9 Q266.7,287.4 267.4,288.8 Q268.1,290.1 269.4,290.8 Q270.7,291.5 272.2,291.4 M274.9,282.5 Q277.8,283.2 278.8,284.3 Q279.8,285.4 281.3,285.7 Q282.8,286.1 284.2,285.6 Q285.6,285.1 286.5,283.9 M281.0,281.7 Q279.6,279.0 278.2,278.5 Q276.7,278.1 276.1,276.7 Q275.4,275.4 275.8,274.0 Q276.3,272.5 277.6,271.8 M290.7,280.5 Q289.0,278.1 287.5,277.9 Q286.1,277.6 284.8,278.5 Q283.6,279.4 283.4,280.9 Q283.2,282.4 284.1,283.6 M296.8,282.2 Q298.1,284.9 297.6,286.3 Q297.1,287.8 297.7,289.1 Q298.3,290.5 299.7,291.0 Q301.1,291.6 302.5,291.0 M307.1,280.5 Q304.8,278.5 304.7,277.0 Q304.6,275.6 305.5,274.4 Q306.5,273.3 308.0,273.1 Q309.5,273.0 310.6,273.9 M312.5,279.5 Q309.6,280.4 308.4,279.6 Q307.1,278.8 306.8,277.3 Q306.6,275.8 307.5,274.6 Q308.4,273.5 309.9,273.4 M257.7,290.6 Q255.5,292.7 254.0,292.7 Q252.5,292.6 251.5,291.5 Q250.5,290.5 250.5,289.0 Q250.5,287.5 251.6,286.4 M264.5,288.1 Q262.8,290.6 262.9,292.1 Q263.1,293.6 264.1,294.6 Q265.2,295.7 266.6,295.9 Q268.1,296.1 269.4,295.2 M275.6,288.3 Q277.6,286.0 279.1,285.6 Q280.5,285.2 281.5,284.1 Q282.5,283.0 282.8,281.5 Q283.0,280.0 282.5,278.6 M278.5,286.0 Q276.6,288.3 276.6,289.8 Q276.7,291.3 277.7,292.4 Q278.8,293.5 280.2,293.6 Q281.7,293.7 282.9,292.7 M287.0,289.4 Q286.4,292.4 286.9,293.8 Q287.5,295.2 287.2,296.6 Q286.9,298.1 285.9,299.2 Q284.9,300.3 283.4,300.7 M295.0,286.4 Q292.6,288.2 292.5,289.7 Q292.3,291.2 293.3,292.3 Q294.3,293.5 295.8,293.6 Q297.2,293.7 298.4,292.7 M301.4,286.5 Q301.8,283.5 300.9,282.3 Q300.0,281.1 300.2,279.7 Q300.4,278.2 301.6,277.3 Q302.9,276.4 304.3,276.7 M309.2,286.5 Q307.0,288.5 306.9,290.0 Q306.9,291.5 307.9,292.6 Q308.9,293.7 310.4,293.8 Q311.9,293.8 313.0,292.8 M259.2,297.1 Q257.2,294.9 255.7,294.8 Q254.2,294.7 253.2,293.6 Q252.2,292.4 252.2,290.9 Q252.2,289.4 253.3,288.4 M266.5,298.3 Q266.1,301.3 266.9,302.5 Q267.7,303.8 267.5,305.3 Q267.3,306.7 266.2,307.7 Q265.0,308.7 263.5,308.7 M271.8,294.9 Q274.1,293.0 275.6,293.1 Q277.1,293.3 278.3,292.4 Q279.5,291.4 279.7,289.9 Q279.9,288.5 279.0,287.2 M278.6,294.4 Q275.6,294.4 274.5,293.4 Q273.3,292.4 273.1,290.9 Q272.9,289.4 273.7,288.2 Q274.4,286.9 275.9,286.4 M286.4,296.9 Q283.6,295.7 282.2,296.3 Q280.9,297.0 280.4,298.4 Q280.0,299.8 280.7,301.1 Q281.5,302.4 283.0,302.7 M297.0,297.3 Q299.2,295.4 299.7,293.9 Q300.3,292.5 301.4,291.6 Q302.5,290.6 304.0,290.3 Q305.5,290.0 306.9,290.4 M304.7,298.5 Q306.3,301.0 306.4,302.5 Q306.5,304.0 307.3,305.3 Q308.1,306.5 309.4,307.2 Q310.8,307.9 312.3,307.8 M311.6,296.3 Q309.5,298.5 308.0,298.6 Q306.5,298.7 305.4,297.7 Q304.2,296.8 304.0,295.3 Q303.8,293.8 304.6,292.6 M254.5,304.3 Q256.0,306.9 257.5,307.2 Q258.9,307.5 259.7,308.8 Q260.5,310.1 260.0,311.5 Q259.5,312.9 258.2,313.5 M265.9,301.8 Q263.2,300.4 262.7,299.0 Q262.2,297.6 262.8,296.2 Q263.4,294.8 264.8,294.2 Q266.1,293.6 267.6,294.0 M271.2,301.6 Q269.0,303.5 267.5,303.8 Q266.0,304.0 264.9,305.0 Q263.7,306.0 263.3,307.4 Q262.8,308.8 263.2,310.3 M279.3,304.3 Q277.2,302.1 277.1,300.6 Q277.0,299.1 277.9,297.9 Q278.8,296.7 280.2,296.3 Q281.7,295.9 283.0,296.5 M284.7,301.8 Q286.4,304.3 286.2,305.7 Q286.0,307.2 286.9,308.4 Q287.8,309.6 289.2,309.9 Q290.7,310.1 291.9,309.2 M297.4,304.7 Q300.2,303.7 301.1,302.5 Q301.9,301.3 303.4,300.8 Q304.8,300.3 306.2,300.8 Q307.6,301.3 308.5,302.5 M301.6,305.2 Q303.5,302.9 305.0,302.5 Q306.4,302.1 307.4,300.9 Q308.4,299.8 308.6,298.3 Q308.8,296.8 308.1,295.5 M309.5,304.7 Q306.5,305.1 305.2,304.4 Q303.8,303.8 302.4,304.0 Q300.9,304.1 299.7,305.1 Q298.6,306.1 298.2,307.6" fill="none" stroke="#2e2e2e" stroke-width="1.5" stroke-linecap="round"/></g>
<ellipse cx="304.1" cy="256.7" rx="2.5" ry="1.5" fill="#f0f0f0" opacity="0.7" filter="url(#b05)"/>
<ellipse cx="292.8" cy="275.7" rx="2.5" ry="1.5" fill="#f0f0f0" opacity="0.7" filter="url(#b05)"/>
<ellipse cx="302.5" cy="272.3" rx="2.5" ry="1.5" fill="#f0f0f0" opacity="0.7" filter="url(#b05)"/>
<ellipse cx="301.5" cy="261.4" rx="2.5" ry="1.5" fill="#f0f0f0" opacity="0.7" filter="url(#b05)"/>
<ellipse cx="304.9" cy="272.6" rx="2.5" ry="1.5" fill="#f0f0f0" opacity="0.7" filter="url(#b05)"/>
</g>
<text x="668.36" y="10.52" font-size="11" text-anchor="start" fill="#000" id="C">C</text>
<text x="807.82" y="44.15" font-size="12.414" text-anchor="start" fill="#000" id="C_input">Input</text>
<text x="870.92" y="44.15" font-size="12.149" text-anchor="start" fill="#000" id="pulldown">MBP pull-down</text>
<line x1="783.9" y1="54.5" x2="857.9" y2="54.5" stroke="#111" stroke-width="1"/>
<line x1="875.2" y1="54.5" x2="949.1" y2="54.5" stroke="#111" stroke-width="1"/>
<text x="677.12" y="72.36" font-size="12.1" text-anchor="start" fill="#000" id="C_MBPTa">MBP-TaCRK6JMK</text>
<text x="712.49" y="93.98" font-size="12.469" text-anchor="start" fill="#000" id="C_MBP">MBP</text>
<text x="683.83" y="112.39" font-size="12.067" text-anchor="start" fill="#000" id="C_HisTa">His-TaRLCK185</text>
<text x="801" y="71.60000000000001" font-size="12" text-anchor="middle" fill="#000" stroke="#111" stroke-width="0.3">-</text>
<text x="842.5" y="72.5" font-size="12" text-anchor="middle" fill="#000" stroke="#111" stroke-width="0.3">+</text>
<text x="890.3" y="71.60000000000001" font-size="12" text-anchor="middle" fill="#000" stroke="#111" stroke-width="0.3">-</text>
<text x="929.7" y="72.5" font-size="12" text-anchor="middle" fill="#000" stroke="#111" stroke-width="0.3">+</text>
<text x="801" y="90.8" font-size="12" text-anchor="middle" fill="#000" stroke="#111" stroke-width="0.3">+</text>
<text x="842.5" y="89.9" font-size="12" text-anchor="middle" fill="#000" stroke="#111" stroke-width="0.3">-</text>
<text x="890.3" y="90.8" font-size="12" text-anchor="middle" fill="#000" stroke="#111" stroke-width="0.3">+</text>
<text x="929.7" y="89.9" font-size="12" text-anchor="middle" fill="#000" stroke="#111" stroke-width="0.3">-</text>
<text x="801" y="111.39999999999999" font-size="12" text-anchor="middle" fill="#000" stroke="#111" stroke-width="0.3">+</text>
<text x="842.5" y="111.39999999999999" font-size="12" text-anchor="middle" fill="#000" stroke="#111" stroke-width="0.3">+</text>
<text x="890.3" y="111.39999999999999" font-size="12" text-anchor="middle" fill="#000" stroke="#111" stroke-width="0.3">+</text>
<text x="929.7" y="111.39999999999999" font-size="12" text-anchor="middle" fill="#000" stroke="#111" stroke-width="0.3">+</text>
<text x="706.21" y="141.58" font-size="12.278" text-anchor="start" fill="#000" id="C_AntiHis">Anti-His</text>
<text x="701.9" y="216.7" font-size="11.945" text-anchor="start" fill="#000" id="C_AntiMBP">Anti-MBP</text>
<rect x="780.5" y="121.3" width="173.5" height="33.4" fill="#878787"/>
<rect x="782" y="124" width="60" height="28" fill="#999" opacity="0.5" filter="url(#b3)"/>
<rect x="787" y="135.8" width="35.39999999999998" height="6" rx="3.0" fill="#151515" opacity="1" filter="url(#b1)"/>
<rect x="831" y="135.5" width="34" height="7" rx="3.5" fill="#050505" opacity="1" filter="url(#b1)"/>
<rect x="908.5" y="134.45" width="35.89999999999998" height="7.5" rx="3.75" fill="#050505" opacity="1" filter="url(#b1)"/>
<line x1="780.5" y1="121.8" x2="954" y2="121.8" stroke="#111" stroke-width="1.2"/>
<line x1="780.5" y1="154.2" x2="954" y2="154.2" stroke="#111" stroke-width="1.2"/>
<line x1="781" y1="121.3" x2="781" y2="154.7" stroke="#444" stroke-width="1"/>
<line x1="953.5" y1="121.3" x2="953.5" y2="154.7" stroke="#444" stroke-width="1"/>
<rect x="781.2" y="162.7" width="173.6" height="113.8" fill="#f7f7f7"/>
<rect x="842" y="195" width="28" height="75" fill="#ccc" opacity="0.35" filter="url(#b3)"/>
<rect x="910" y="195" width="31" height="80" fill="#ccc" opacity="0.35" filter="url(#b3)"/>
<rect x="840" y="196" width="31" height="18" fill="#888" opacity="0.35" filter="url(#b2)"/>
<rect x="908" y="196" width="34" height="19" fill="#888" opacity="0.35" filter="url(#b2)"/>
<rect x="842" y="199.2" width="27.5" height="4" rx="2" fill="#000" opacity="1" filter="url(#b1)"/>
<rect x="843" y="208.45" width="26" height="3.5" rx="1.75" fill="#666" opacity="0.6" filter="url(#b15)"/>
<rect x="910" y="199.5" width="30.5" height="4" rx="2" fill="#000" opacity="1" filter="url(#b1)"/>
<rect x="911" y="210.05" width="29" height="3.5" rx="1.75" fill="#666" opacity="0.6" filter="url(#b15)"/>
<rect x="870" y="234.5" width="35" height="12" rx="4" fill="#999" opacity="0.4" filter="url(#b2)"/>
<rect x="800" y="238.25" width="33" height="3.5" rx="1.75" fill="#555" opacity="0.85" filter="url(#b1)"/>
<rect x="874" y="236.1" width="28.5" height="3" rx="1.5" fill="#555" opacity="0.8" filter="url(#b1)"/>
<rect x="874" y="241.2" width="28.5" height="4" rx="2.0" fill="#222" opacity="0.95" filter="url(#b1)"/>
<rect x="781.7" y="163.2" width="172.6" height="112.8" fill="none" stroke="#111" stroke-width="1"/>
<text x="968.91" y="10.57" font-size="11" text-anchor="start" fill="#000" id="D">D</text>
<text x="1008.07" y="48.3" font-size="12.27" text-anchor="start" fill="#000" id="D_His1">His-TaRLCK185</text>
<text x="1095.8" y="42.5" font-size="6.5" text-anchor="start" fill="#000" style="stroke-width:0.08px">K110A</text>
<text x="993.0" y="72.7" font-size="12.192" text-anchor="start" fill="#000" id="D_His2">His-TaRLCK185</text>
<text x="1081" y="66.9" font-size="6.5" text-anchor="start" fill="#000" style="stroke-width:0.08px">K110A/T248A</text>
<text x="1007.8" y="96.67" font-size="12.178" text-anchor="start" fill="#000" id="D_MBPTa">MBP-TaCRK6JMK</text>
<text x="1042.46" y="120.74" font-size="11.698" text-anchor="start" fill="#000" id="ATP">ATP</text>
<text x="1144.8" y="47.5" font-size="12" text-anchor="middle" fill="#000" stroke="#111" stroke-width="0.3">+</text>
<text x="1188.2" y="47.5" font-size="12" text-anchor="middle" fill="#000" stroke="#111" stroke-width="0.3">+</text>
<text x="1233.9" y="46.6" font-size="12" text-anchor="middle" fill="#000" stroke="#111" stroke-width="0.3">-</text>
<text x="1144.8" y="69.30000000000001" font-size="12" text-anchor="middle" fill="#000" stroke="#111" stroke-width="0.3">-</text>
<text x="1188.2" y="69.30000000000001" font-size="12" text-anchor="middle" fill="#000" stroke="#111" stroke-width="0.3">-</text>
<text x="1233.9" y="70.2" font-size="12" text-anchor="middle" fill="#000" stroke="#111" stroke-width="0.3">+</text>
<text x="1144.8" y="95.8" font-size="12" text-anchor="middle" fill="#000" stroke="#111" stroke-width="0.3">+</text>
<text x="1188.2" y="95.8" font-size="12" text-anchor="middle" fill="#000" stroke="#111" stroke-width="0.3">+</text>
<text x="1233.9" y="95.8" font-size="12" text-anchor="middle" fill="#000" stroke="#111" stroke-width="0.3">+</text>
<text x="1144.8" y="118.10000000000001" font-size="12" text-anchor="middle" fill="#000" stroke="#111" stroke-width="0.3">-</text>
<text x="1188.2" y="119.0" font-size="12" text-anchor="middle" fill="#000" stroke="#111" stroke-width="0.3">+</text>
<text x="1233.9" y="119.0" font-size="12" text-anchor="middle" fill="#000" stroke="#111" stroke-width="0.3">+</text>
<text x="998.2" y="154.2" font-size="12.067" text-anchor="start" fill="#000" id="phospho">Anti-phospho-Ser/Thr</text>
<text x="1030.82" y="192.69" font-size="11.82" text-anchor="start" fill="#000" id="D_AntiHis">Anti-His</text>
<text x="1026.6" y="229.26" font-size="11.854" text-anchor="start" fill="#000" id="D_AntiMBP">Anti-MBP</text>
<rect x="1118.2" y="130.2" width="140.3" height="34.9" fill="#fbfbfb"/>
<rect x="1172.4" y="140.75" width="39.399999999999864" height="9.5" rx="4" fill="#000" opacity="1" filter="url(#b1)"/>
<rect x="1243" y="142.0" width="11" height="3" rx="1.5" fill="#888" opacity="0.6" filter="url(#b1)"/>
<path d="M1118.7,130.2 V164.6 H1258 V130.2" fill="none" stroke="#222" stroke-width="1"/>
<rect x="1118.2" y="171.2" width="140.3" height="34.2" fill="#f6f6f6"/>
<rect x="1123.5" y="180.7" width="47.299999999999955" height="13" rx="5" fill="#000" opacity="1" filter="url(#b1)"/>
<rect x="1178" y="180.8" width="40" height="12" rx="5" fill="#000" opacity="1" filter="url(#b1)"/>
<rect x="1224" y="180.5" width="33.5" height="17" rx="6" fill="#000" opacity="1" filter="url(#b15)"/>
<rect x="1118.7" y="171.7" width="139.3" height="33.2" fill="none" stroke="#111" stroke-width="1"/>
<rect x="1118.2" y="211.6" width="140.3" height="26.8" fill="url(#gMBP)"/>
<rect x="1124" y="220.1" width="38.200000000000045" height="7" rx="3.5" fill="#050505" opacity="1" filter="url(#b1)"/>
<path d="M1175,222 L1200,223 L1203,229 L1196,231 L1176,227 Z" fill="#111" filter="url(#b1)"/>
<rect x="1218" y="221.7" width="33" height="5" rx="2.5" fill="#333" opacity="0.9" filter="url(#b1)"/>
<rect x="1118.7" y="212.1" width="139.3" height="25.8" fill="none" stroke="#111" stroke-width="1"/>
<text x="0.78" y="317.97" font-size="11" text-anchor="start" fill="#000" id="E">E</text>
<text x="70.77" y="324.97" font-size="12" text-anchor="start" fill="#000" id="E_N">N</text>
<text x="182.2" y="324.97" font-size="11.972" text-anchor="start" fill="#000" id="E_NHN">NHN</text>
<line x1="14.3" y1="330.5" x2="128.9" y2="330.5" stroke="#111" stroke-width="1"/>
<line x1="138.1" y1="330.5" x2="253.1" y2="330.5" stroke="#111" stroke-width="1"/>
<text x="22.19" y="378.65" font-size="11.69" text-anchor="start" fill="#000" transform="rotate(-30 22.19 378.65)" id="E_mock1">mock</text>
<text x="68.28" y="377.54" font-size="11.845" text-anchor="start" fill="#000" font-style="italic" transform="rotate(-30 68.28 377.54)" id="E_001">00</text>
<text x="93.69" y="380.44" font-size="12.124" text-anchor="start" fill="#000" font-style="italic" transform="rotate(-30 93.69 380.44)" id="E_Ta1">TaRLCK185</text>
<text x="142.06" y="378.36" font-size="11.768" text-anchor="start" fill="#000" transform="rotate(-30 142.06 378.36)" id="E_mock2">mock</text>
<text x="191.2" y="377.54" font-size="11.997" text-anchor="start" fill="#000" font-style="italic" transform="rotate(-30 191.2 377.54)" id="E_002">00</text>
<text x="216.01" y="378.62" font-size="12.029" text-anchor="start" fill="#000" font-style="italic" transform="rotate(-30 216.01 378.62)" id="E_Ta2">TaRLCK185</text>
<g clip-path="url(#lf1)">
<rect x="13.3" y="385" width="33.7" height="170" fill="#bcb67a"/>
<ellipse cx="17.8" cy="529.1" rx="4.3" ry="5.5" fill="#b08040" opacity="0.35" filter="url(#b15)"/>
<ellipse cx="30.0" cy="461.4" rx="4.0" ry="8.7" fill="#b08040" opacity="0.35" filter="url(#b15)"/>
<ellipse cx="16.5" cy="389.8" rx="4.5" ry="6.6" fill="#b08040" opacity="0.35" filter="url(#b15)"/>
<ellipse cx="39.0" cy="385.4" rx="3.3" ry="8.3" fill="#b08040" opacity="0.35" filter="url(#b15)"/>
<ellipse cx="21.0" cy="545.7" rx="4.7" ry="4.2" fill="#b08040" opacity="0.35" filter="url(#b15)"/>
<ellipse cx="14.2" cy="477.0" rx="4.8" ry="6.3" fill="#b08040" opacity="0.35" filter="url(#b15)"/>
<ellipse cx="20.6" cy="456.8" rx="2.1" ry="5.3" fill="#b08040" opacity="0.35" filter="url(#b15)"/>
<ellipse cx="28.1" cy="469.3" rx="2.7" ry="5.4" fill="#b08040" opacity="0.35" filter="url(#b15)"/>
<ellipse cx="20.7" cy="463.1" rx="2.9" ry="4.1" fill="#b08040" opacity="0.35" filter="url(#b15)"/>
<ellipse cx="41.5" cy="479.6" rx="3.9" ry="5.1" fill="#b08040" opacity="0.35" filter="url(#b15)"/>
<ellipse cx="46.7" cy="531.2" rx="2.4" ry="6.0" fill="#b08040" opacity="0.35" filter="url(#b15)"/>
<ellipse cx="37.6" cy="505.9" rx="4.8" ry="6.5" fill="#b08040" opacity="0.35" filter="url(#b15)"/>
<ellipse cx="41.3" cy="499.0" rx="2.9" ry="7.5" fill="#b08040" opacity="0.35" filter="url(#b15)"/>
<ellipse cx="43.0" cy="528.9" rx="3.5" ry="7.5" fill="#b08040" opacity="0.35" filter="url(#b15)"/>
<ellipse cx="14.5" cy="426.3" rx="7.0" ry="13.0" fill="#a5b47e" opacity="0.5" filter="url(#b3)"/>
<ellipse cx="19.1" cy="478.3" rx="6.5" ry="16.1" fill="#a5b47e" opacity="0.5" filter="url(#b3)"/>
<ellipse cx="25.9" cy="459.6" rx="5.5" ry="17.3" fill="#a5b47e" opacity="0.5" filter="url(#b3)"/>
<ellipse cx="30.9" cy="451.9" rx="5.4" ry="8.4" fill="#a5b47e" opacity="0.5" filter="url(#b3)"/>
<ellipse cx="14.8" cy="504.6" rx="7.9" ry="15.1" fill="#a5b47e" opacity="0.5" filter="url(#b3)"/>
<ellipse cx="26.6" cy="414.0" rx="5.5" ry="19.8" fill="#a5b47e" opacity="0.5" filter="url(#b3)"/>
<g filter="url(#b05)"><rect x="14.8" y="385" width="1.3" height="170" fill="#d8d098" opacity="0.26"/><rect x="17.2" y="385" width="1.1" height="170" fill="#d8d098" opacity="0.31"/><rect x="19.1" y="385" width="1.4" height="170" fill="#d8d098" opacity="0.20"/><rect x="21.8" y="385" width="1.3" height="170" fill="#d8d098" opacity="0.39"/><rect x="24.6" y="385" width="1.1" height="170" fill="#d8d098" opacity="0.31"/><rect x="26.2" y="385" width="1.1" height="170" fill="#d8d098" opacity="0.25"/><rect x="28.6" y="385" width="0.9" height="170" fill="#a8bc88" opacity="0.29"/><rect x="30.9" y="385" width="1.1" height="170" fill="#d8d098" opacity="0.31"/><rect x="32.5" y="385" width="0.8" height="170" fill="#a8bc88" opacity="0.35"/><rect x="35.4" y="385" width="1.3" height="170" fill="#d8d098" opacity="0.40"/><rect x="37.3" y="385" width="1.2" height="170" fill="#d8d098" opacity="0.22"/><rect x="38.9" y="385" width="1.2" height="170" fill="#a8bc88" opacity="0.26"/><rect x="40.7" y="385" width="0.9" height="170" fill="#d8d098" opacity="0.22"/><rect x="42.5" y="385" width="0.8" height="170" fill="#d8d098" opacity="0.27"/><rect x="45.1" y="385" width="0.9" height="170" fill="#a8bc88" opacity="0.32"/><rect x="46.7" y="385" width="1.0" height="170" fill="#a8bc88" opacity="0.25"/></g>
<g fill="#7a7a48"><rect x="15.1" y="385" width="0.6" height="170" opacity="0.28"/><rect x="17.2" y="385" width="0.6" height="170" opacity="0.30"/><rect x="20.3" y="385" width="0.6" height="170" opacity="0.16"/><rect x="22.2" y="385" width="0.6" height="170" opacity="0.19"/><rect x="25.1" y="385" width="0.6" height="170" opacity="0.19"/><rect x="28.0" y="385" width="0.6" height="170" opacity="0.32"/><rect x="30.7" y="385" width="0.6" height="170" opacity="0.21"/><rect x="34.1" y="385" width="0.6" height="170" opacity="0.35"/><rect x="36.7" y="385" width="0.6" height="170" opacity="0.21"/><rect x="39.5" y="385" width="0.6" height="170" opacity="0.25"/><rect x="42.3" y="385" width="0.6" height="170" opacity="0.23"/><rect x="45.1" y="385" width="0.6" height="170" opacity="0.16"/></g>
<g fill="#b87c34" opacity="0.72" filter="url(#b05)"><ellipse cx="45.9" cy="533.8" rx="0.7" ry="1.8"/><ellipse cx="23.8" cy="544.7" rx="0.9" ry="1.4"/><ellipse cx="21.8" cy="386.4" rx="1.0" ry="1.0"/><ellipse cx="40.9" cy="548.6" rx="0.9" ry="1.2"/><ellipse cx="42.5" cy="550.5" rx="0.9" ry="1.5"/><ellipse cx="26.0" cy="444.0" rx="0.7" ry="1.6"/><ellipse cx="27.9" cy="418.0" rx="0.6" ry="1.6"/><ellipse cx="23.3" cy="470.0" rx="0.7" ry="1.8"/><ellipse cx="43.6" cy="388.1" rx="0.7" ry="1.3"/><ellipse cx="46.6" cy="518.1" rx="0.8" ry="1.2"/><ellipse cx="36.0" cy="527.4" rx="1.0" ry="1.3"/><ellipse cx="43.0" cy="501.8" rx="0.8" ry="1.9"/><ellipse cx="21.2" cy="508.3" rx="0.6" ry="1.2"/><ellipse cx="44.0" cy="421.2" rx="0.9" ry="1.5"/><ellipse cx="41.6" cy="447.6" rx="0.8" ry="1.3"/><ellipse cx="42.5" cy="487.7" rx="1.0" ry="1.8"/><ellipse cx="17.9" cy="478.7" rx="0.6" ry="1.0"/><ellipse cx="15.8" cy="532.2" rx="1.0" ry="1.7"/><ellipse cx="24.8" cy="489.6" rx="1.0" ry="1.3"/><ellipse cx="32.5" cy="423.0" rx="0.6" ry="1.2"/><ellipse cx="43.3" cy="481.0" rx="1.0" ry="1.4"/><ellipse cx="22.6" cy="518.8" rx="1.0" ry="1.0"/><ellipse cx="35.9" cy="400.6" rx="0.7" ry="1.8"/><ellipse cx="14.6" cy="425.7" rx="1.0" ry="1.4"/><ellipse cx="17.2" cy="413.5" rx="0.7" ry="1.7"/><ellipse cx="16.8" cy="539.8" rx="0.8" ry="1.9"/><ellipse cx="43.9" cy="435.0" rx="0.7" ry="1.4"/><ellipse cx="16.7" cy="495.8" rx="0.6" ry="1.0"/><ellipse cx="46.4" cy="435.2" rx="0.9" ry="1.4"/><ellipse cx="23.9" cy="395.7" rx="1.0" ry="1.9"/><ellipse cx="46.0" cy="403.9" rx="0.7" ry="1.6"/><ellipse cx="46.3" cy="477.3" rx="0.9" ry="1.6"/><ellipse cx="22.0" cy="477.1" rx="0.7" ry="1.2"/><ellipse cx="16.0" cy="432.7" rx="1.0" ry="1.4"/><ellipse cx="35.3" cy="494.4" rx="1.0" ry="1.4"/><ellipse cx="23.6" cy="440.6" rx="0.7" ry="1.8"/><ellipse cx="43.4" cy="436.5" rx="0.8" ry="1.5"/><ellipse cx="32.8" cy="486.3" rx="0.7" ry="1.0"/><ellipse cx="21.5" cy="397.3" rx="0.8" ry="1.1"/><ellipse cx="15.8" cy="493.0" rx="0.7" ry="1.7"/><ellipse cx="29.9" cy="531.7" rx="0.7" ry="1.5"/><ellipse cx="40.1" cy="398.1" rx="1.0" ry="1.2"/><ellipse cx="39.5" cy="552.4" rx="1.0" ry="1.3"/><ellipse cx="16.9" cy="472.4" rx="1.0" ry="1.3"/><ellipse cx="43.4" cy="409.1" rx="1.0" ry="1.0"/><ellipse cx="24.0" cy="538.5" rx="1.0" ry="1.8"/><ellipse cx="41.6" cy="511.9" rx="0.9" ry="1.2"/><ellipse cx="27.9" cy="411.8" rx="0.9" ry="1.6"/><ellipse cx="21.8" cy="396.0" rx="1.0" ry="1.7"/><ellipse cx="31.8" cy="477.0" rx="1.0" ry="1.4"/><ellipse cx="26.6" cy="442.6" rx="0.7" ry="1.0"/><ellipse cx="35.1" cy="455.8" rx="0.9" ry="1.1"/><ellipse cx="25.3" cy="408.5" rx="0.7" ry="1.2"/><ellipse cx="41.2" cy="452.6" rx="0.8" ry="1.6"/><ellipse cx="21.2" cy="386.3" rx="0.8" ry="1.5"/><ellipse cx="35.2" cy="459.5" rx="0.9" ry="1.7"/><ellipse cx="21.3" cy="469.2" rx="0.8" ry="1.2"/><ellipse cx="27.2" cy="480.3" rx="1.0" ry="1.8"/><ellipse cx="22.6" cy="494.9" rx="0.6" ry="1.1"/><ellipse cx="30.5" cy="534.2" rx="0.7" ry="1.7"/><ellipse cx="43.1" cy="438.0" rx="0.9" ry="1.8"/><ellipse cx="25.8" cy="504.2" rx="0.9" ry="1.5"/><ellipse cx="42.2" cy="537.4" rx="1.0" ry="1.5"/><ellipse cx="19.2" cy="427.6" rx="0.7" ry="1.5"/><ellipse cx="38.8" cy="393.9" rx="0.9" ry="1.6"/><ellipse cx="25.0" cy="472.6" rx="0.7" ry="1.7"/><ellipse cx="14.7" cy="551.8" rx="1.0" ry="1.6"/><ellipse cx="22.3" cy="540.2" rx="1.0" ry="1.1"/><ellipse cx="39.4" cy="528.1" rx="0.9" ry="1.6"/><ellipse cx="28.3" cy="542.1" rx="1.0" ry="1.3"/><ellipse cx="40.4" cy="458.6" rx="0.7" ry="1.3"/><ellipse cx="17.6" cy="539.5" rx="1.0" ry="1.1"/><ellipse cx="33.5" cy="454.4" rx="0.7" ry="1.3"/><ellipse cx="21.7" cy="512.4" rx="0.6" ry="1.2"/><ellipse cx="28.1" cy="388.6" rx="0.9" ry="1.5"/><ellipse cx="41.5" cy="420.1" rx="0.7" ry="1.5"/><ellipse cx="22.5" cy="484.6" rx="0.7" ry="1.6"/><ellipse cx="40.0" cy="522.5" rx="1.0" ry="1.5"/><ellipse cx="29.8" cy="530.5" rx="0.9" ry="1.5"/><ellipse cx="26.2" cy="433.3" rx="0.6" ry="1.7"/><ellipse cx="17.3" cy="512.0" rx="0.8" ry="1.9"/><ellipse cx="38.9" cy="550.5" rx="0.7" ry="1.5"/><ellipse cx="32.6" cy="437.9" rx="0.8" ry="1.3"/><ellipse cx="31.1" cy="385.1" rx="0.8" ry="1.4"/><ellipse cx="23.6" cy="452.9" rx="1.0" ry="1.6"/><ellipse cx="29.9" cy="495.1" rx="0.8" ry="1.2"/><ellipse cx="13.4" cy="432.2" rx="0.9" ry="1.8"/><ellipse cx="41.3" cy="471.9" rx="1.0" ry="1.4"/><ellipse cx="41.4" cy="454.5" rx="0.9" ry="1.9"/><ellipse cx="23.6" cy="414.0" rx="0.9" ry="1.5"/><ellipse cx="25.4" cy="385.6" rx="0.8" ry="1.4"/><ellipse cx="27.0" cy="531.4" rx="0.9" ry="1.7"/><ellipse cx="43.6" cy="512.3" rx="0.8" ry="1.7"/><ellipse cx="34.9" cy="495.3" rx="0.9" ry="1.4"/><ellipse cx="34.5" cy="492.7" rx="1.0" ry="1.7"/><ellipse cx="41.8" cy="515.5" rx="1.0" ry="1.5"/><ellipse cx="25.1" cy="430.0" rx="0.9" ry="1.8"/><ellipse cx="31.6" cy="410.9" rx="1.0" ry="1.4"/><ellipse cx="29.0" cy="392.7" rx="0.8" ry="1.7"/><ellipse cx="27.5" cy="445.4" rx="0.9" ry="1.0"/><ellipse cx="30.4" cy="545.8" rx="0.9" ry="1.4"/><ellipse cx="36.5" cy="487.8" rx="0.7" ry="1.2"/><ellipse cx="43.2" cy="430.7" rx="0.6" ry="1.7"/><ellipse cx="30.9" cy="447.6" rx="0.8" ry="1.7"/><ellipse cx="19.0" cy="496.0" rx="0.9" ry="1.7"/><ellipse cx="22.4" cy="488.6" rx="0.7" ry="1.5"/><ellipse cx="19.1" cy="519.3" rx="1.0" ry="1.3"/><ellipse cx="20.8" cy="548.8" rx="0.9" ry="1.8"/><ellipse cx="14.3" cy="537.9" rx="0.9" ry="1.3"/><ellipse cx="27.9" cy="514.5" rx="1.0" ry="1.2"/><ellipse cx="34.4" cy="413.2" rx="1.0" ry="1.4"/><ellipse cx="44.1" cy="508.8" rx="0.9" ry="1.2"/><ellipse cx="31.0" cy="408.6" rx="0.7" ry="1.6"/><ellipse cx="25.5" cy="512.7" rx="0.7" ry="1.6"/><ellipse cx="37.5" cy="436.9" rx="0.6" ry="1.4"/><ellipse cx="29.9" cy="402.0" rx="0.7" ry="1.0"/><ellipse cx="33.4" cy="536.1" rx="0.7" ry="1.0"/><ellipse cx="37.0" cy="523.5" rx="1.0" ry="1.6"/><ellipse cx="24.8" cy="527.4" rx="0.7" ry="1.6"/><ellipse cx="16.5" cy="452.9" rx="0.8" ry="1.3"/><ellipse cx="19.0" cy="424.4" rx="1.0" ry="1.4"/><ellipse cx="32.8" cy="421.0" rx="0.9" ry="1.3"/><ellipse cx="33.3" cy="539.6" rx="1.0" ry="1.0"/><ellipse cx="40.2" cy="530.8" rx="0.7" ry="1.3"/><ellipse cx="32.9" cy="541.2" rx="0.8" ry="1.8"/><ellipse cx="38.9" cy="410.9" rx="1.0" ry="1.0"/><ellipse cx="18.2" cy="498.0" rx="0.6" ry="1.3"/><ellipse cx="17.7" cy="463.7" rx="1.0" ry="1.8"/><ellipse cx="14.5" cy="395.3" rx="1.0" ry="1.0"/><ellipse cx="22.5" cy="405.0" rx="0.6" ry="1.0"/><ellipse cx="34.8" cy="511.6" rx="0.9" ry="1.8"/><ellipse cx="35.6" cy="451.2" rx="0.9" ry="1.9"/><ellipse cx="34.9" cy="426.3" rx="0.6" ry="1.8"/><ellipse cx="33.2" cy="444.4" rx="0.9" ry="1.5"/><ellipse cx="30.9" cy="395.3" rx="0.8" ry="1.4"/><ellipse cx="20.0" cy="534.6" rx="0.8" ry="1.6"/><ellipse cx="37.3" cy="511.4" rx="0.9" ry="1.7"/><ellipse cx="21.8" cy="551.0" rx="0.7" ry="1.8"/><ellipse cx="42.1" cy="529.9" rx="0.6" ry="1.1"/><ellipse cx="40.7" cy="464.8" rx="0.8" ry="1.9"/><ellipse cx="14.7" cy="475.3" rx="0.8" ry="1.1"/><ellipse cx="26.6" cy="505.3" rx="1.0" ry="1.0"/><ellipse cx="31.0" cy="400.4" rx="1.0" ry="1.1"/><ellipse cx="14.5" cy="450.3" rx="0.9" ry="1.3"/><ellipse cx="17.7" cy="520.1" rx="1.0" ry="1.8"/><ellipse cx="23.5" cy="457.2" rx="0.7" ry="1.5"/><ellipse cx="24.4" cy="442.6" rx="1.0" ry="1.9"/><ellipse cx="33.0" cy="402.8" rx="0.9" ry="1.4"/><ellipse cx="46.6" cy="507.3" rx="1.0" ry="1.6"/><ellipse cx="31.4" cy="537.5" rx="1.0" ry="1.3"/><ellipse cx="18.6" cy="448.0" rx="0.8" ry="1.1"/><ellipse cx="24.9" cy="482.7" rx="0.6" ry="1.7"/><ellipse cx="35.2" cy="438.3" rx="0.7" ry="1.3"/><ellipse cx="24.3" cy="512.2" rx="0.8" ry="1.5"/><ellipse cx="18.3" cy="540.5" rx="0.7" ry="1.3"/><ellipse cx="15.6" cy="551.5" rx="0.8" ry="1.8"/><ellipse cx="44.6" cy="549.9" rx="1.0" ry="1.8"/><ellipse cx="44.4" cy="521.2" rx="0.7" ry="1.5"/><ellipse cx="32.7" cy="553.7" rx="1.0" ry="1.6"/><ellipse cx="38.5" cy="446.5" rx="1.0" ry="1.6"/><ellipse cx="26.9" cy="464.0" rx="1.0" ry="1.5"/><ellipse cx="19.0" cy="410.2" rx="0.9" ry="1.5"/><ellipse cx="43.9" cy="416.4" rx="0.8" ry="1.7"/><ellipse cx="15.0" cy="401.9" rx="0.8" ry="1.2"/><ellipse cx="16.9" cy="429.5" rx="0.9" ry="1.5"/><ellipse cx="15.9" cy="397.4" rx="1.0" ry="1.6"/><ellipse cx="19.1" cy="531.5" rx="0.6" ry="1.3"/><ellipse cx="41.9" cy="505.7" rx="0.7" ry="1.8"/><ellipse cx="33.5" cy="532.1" rx="1.0" ry="1.4"/><ellipse cx="36.1" cy="477.6" rx="1.0" ry="1.7"/><ellipse cx="37.8" cy="523.4" rx="1.0" ry="1.2"/><ellipse cx="20.1" cy="512.0" rx="0.9" ry="1.5"/><ellipse cx="29.7" cy="453.6" rx="1.0" ry="1.7"/><ellipse cx="33.0" cy="391.8" rx="1.0" ry="1.4"/><ellipse cx="19.7" cy="435.9" rx="0.9" ry="1.0"/><ellipse cx="17.3" cy="436.5" rx="1.0" ry="1.7"/><ellipse cx="46.0" cy="477.3" rx="0.9" ry="1.5"/><ellipse cx="31.0" cy="477.1" rx="1.0" ry="1.9"/><ellipse cx="27.1" cy="492.1" rx="0.7" ry="1.3"/><ellipse cx="30.4" cy="484.7" rx="0.8" ry="1.9"/><ellipse cx="18.8" cy="493.2" rx="1.0" ry="1.7"/><ellipse cx="32.4" cy="447.6" rx="0.8" ry="1.8"/><ellipse cx="43.5" cy="498.8" rx="1.0" ry="1.8"/><ellipse cx="41.8" cy="450.2" rx="0.8" ry="1.7"/><ellipse cx="25.9" cy="512.4" rx="0.8" ry="1.3"/><ellipse cx="28.7" cy="404.8" rx="0.8" ry="1.4"/><ellipse cx="13.9" cy="414.3" rx="0.7" ry="1.8"/><ellipse cx="33.2" cy="433.8" rx="1.0" ry="1.2"/><ellipse cx="30.6" cy="510.7" rx="0.9" ry="1.4"/><ellipse cx="39.5" cy="467.6" rx="0.9" ry="1.4"/><ellipse cx="46.0" cy="506.8" rx="0.6" ry="1.1"/><ellipse cx="45.9" cy="424.0" rx="0.6" ry="1.2"/><ellipse cx="29.5" cy="546.9" rx="0.8" ry="1.7"/><ellipse cx="41.4" cy="400.2" rx="0.9" ry="1.9"/><ellipse cx="31.8" cy="475.9" rx="0.8" ry="1.9"/><ellipse cx="46.0" cy="402.5" rx="0.8" ry="1.4"/><ellipse cx="35.9" cy="405.2" rx="0.7" ry="1.3"/><ellipse cx="29.5" cy="519.9" rx="1.0" ry="1.7"/><ellipse cx="36.1" cy="399.8" rx="0.8" ry="1.6"/><ellipse cx="23.2" cy="471.3" rx="1.0" ry="1.1"/><ellipse cx="42.1" cy="403.0" rx="0.8" ry="1.8"/><ellipse cx="20.1" cy="473.5" rx="0.8" ry="1.8"/><ellipse cx="46.7" cy="434.1" rx="0.8" ry="1.8"/><ellipse cx="31.7" cy="421.5" rx="0.9" ry="1.3"/><ellipse cx="29.7" cy="386.5" rx="1.0" ry="1.6"/><ellipse cx="44.5" cy="549.7" rx="0.7" ry="1.5"/><ellipse cx="28.1" cy="514.2" rx="1.0" ry="1.2"/><ellipse cx="22.6" cy="505.1" rx="0.8" ry="1.1"/><ellipse cx="19.9" cy="480.3" rx="0.9" ry="1.9"/><ellipse cx="31.3" cy="488.5" rx="0.7" ry="1.4"/><ellipse cx="22.7" cy="503.2" rx="0.7" ry="1.2"/><ellipse cx="25.7" cy="465.0" rx="0.8" ry="1.5"/><ellipse cx="19.4" cy="534.6" rx="0.9" ry="1.5"/><ellipse cx="15.3" cy="440.4" rx="0.9" ry="1.6"/><ellipse cx="40.7" cy="536.6" rx="0.7" ry="1.4"/><ellipse cx="24.4" cy="406.7" rx="0.7" ry="1.2"/><ellipse cx="16.3" cy="476.6" rx="0.9" ry="1.5"/><ellipse cx="36.4" cy="423.5" rx="0.7" ry="1.5"/><ellipse cx="43.1" cy="456.8" rx="0.6" ry="1.0"/><ellipse cx="23.6" cy="489.6" rx="0.6" ry="1.2"/><ellipse cx="36.2" cy="552.4" rx="0.8" ry="1.5"/><ellipse cx="30.8" cy="388.9" rx="0.7" ry="1.1"/><ellipse cx="21.8" cy="515.9" rx="0.9" ry="1.0"/><ellipse cx="15.9" cy="508.2" rx="0.6" ry="1.3"/><ellipse cx="22.4" cy="393.5" rx="0.6" ry="1.1"/><ellipse cx="26.8" cy="543.7" rx="0.9" ry="1.2"/><ellipse cx="36.2" cy="431.5" rx="0.8" ry="1.3"/><ellipse cx="45.3" cy="444.9" rx="1.0" ry="1.6"/><ellipse cx="41.7" cy="488.0" rx="1.0" ry="1.4"/><ellipse cx="36.2" cy="490.5" rx="0.8" ry="1.5"/><ellipse cx="31.4" cy="451.9" rx="1.0" ry="1.6"/><ellipse cx="31.8" cy="394.2" rx="0.8" ry="1.2"/><ellipse cx="20.5" cy="458.9" rx="0.8" ry="1.2"/><ellipse cx="22.4" cy="475.1" rx="0.8" ry="1.4"/><ellipse cx="16.8" cy="448.5" rx="0.9" ry="1.5"/><ellipse cx="31.7" cy="528.4" rx="0.9" ry="1.6"/><ellipse cx="14.3" cy="437.4" rx="0.9" ry="1.1"/><ellipse cx="44.1" cy="409.1" rx="1.0" ry="1.2"/><ellipse cx="41.7" cy="529.2" rx="0.8" ry="1.8"/><ellipse cx="18.7" cy="529.3" rx="0.8" ry="1.4"/><ellipse cx="17.3" cy="487.2" rx="0.7" ry="1.6"/><ellipse cx="40.2" cy="487.6" rx="0.6" ry="1.9"/><ellipse cx="44.3" cy="494.3" rx="0.8" ry="1.5"/><ellipse cx="43.1" cy="463.1" rx="1.0" ry="1.5"/><ellipse cx="27.5" cy="543.7" rx="0.8" ry="1.5"/><ellipse cx="15.1" cy="465.0" rx="0.6" ry="1.6"/><ellipse cx="13.3" cy="392.2" rx="0.7" ry="1.1"/><ellipse cx="30.4" cy="445.6" rx="0.7" ry="1.9"/><ellipse cx="43.9" cy="496.3" rx="1.0" ry="1.7"/><ellipse cx="21.6" cy="522.4" rx="0.7" ry="1.5"/><ellipse cx="25.4" cy="412.0" rx="0.9" ry="1.8"/><ellipse cx="23.9" cy="534.6" rx="0.8" ry="1.6"/><ellipse cx="46.9" cy="516.3" rx="0.6" ry="1.4"/><ellipse cx="26.0" cy="435.0" rx="1.0" ry="1.4"/><ellipse cx="36.9" cy="492.9" rx="0.8" ry="1.1"/><ellipse cx="36.0" cy="536.5" rx="0.7" ry="1.6"/><ellipse cx="29.7" cy="443.0" rx="0.9" ry="1.9"/><ellipse cx="14.0" cy="537.5" rx="0.8" ry="1.8"/><ellipse cx="19.2" cy="506.8" rx="0.6" ry="1.3"/><ellipse cx="46.0" cy="496.6" rx="1.0" ry="1.4"/><ellipse cx="29.2" cy="468.7" rx="0.9" ry="1.7"/><ellipse cx="19.8" cy="459.9" rx="0.8" ry="1.5"/><ellipse cx="44.5" cy="527.8" rx="0.7" ry="1.3"/><ellipse cx="17.0" cy="389.5" rx="0.6" ry="1.2"/><ellipse cx="39.1" cy="498.4" rx="1.0" ry="1.3"/><ellipse cx="18.5" cy="550.3" rx="1.0" ry="1.9"/><ellipse cx="13.9" cy="452.4" rx="0.9" ry="1.7"/><ellipse cx="44.1" cy="476.4" rx="0.8" ry="1.0"/><ellipse cx="40.4" cy="552.0" rx="1.0" ry="1.6"/><ellipse cx="24.8" cy="425.7" rx="0.9" ry="1.8"/><ellipse cx="45.7" cy="414.9" rx="0.9" ry="1.5"/><ellipse cx="27.7" cy="520.0" rx="1.0" ry="1.7"/><ellipse cx="36.9" cy="502.4" rx="0.9" ry="1.5"/><ellipse cx="21.7" cy="517.5" rx="0.7" ry="1.6"/><ellipse cx="26.3" cy="480.2" rx="0.9" ry="1.4"/><ellipse cx="46.3" cy="425.7" rx="0.6" ry="1.9"/><ellipse cx="23.8" cy="432.3" rx="0.8" ry="1.5"/><ellipse cx="46.5" cy="505.3" rx="0.7" ry="1.5"/><ellipse cx="28.4" cy="470.3" rx="0.8" ry="1.2"/><ellipse cx="26.6" cy="451.1" rx="0.7" ry="1.7"/><ellipse cx="25.4" cy="410.8" rx="0.9" ry="1.8"/><ellipse cx="39.6" cy="490.7" rx="0.9" ry="1.3"/><ellipse cx="18.1" cy="428.4" rx="0.8" ry="1.3"/><ellipse cx="29.1" cy="410.3" rx="0.7" ry="1.2"/><ellipse cx="19.9" cy="521.3" rx="0.8" ry="1.2"/><ellipse cx="27.8" cy="533.2" rx="0.9" ry="1.5"/><ellipse cx="26.5" cy="418.3" rx="0.9" ry="1.1"/><ellipse cx="39.8" cy="394.8" rx="0.9" ry="1.3"/><ellipse cx="36.3" cy="485.5" rx="0.7" ry="1.5"/><ellipse cx="15.8" cy="426.0" rx="0.8" ry="1.3"/><ellipse cx="35.6" cy="552.8" rx="0.8" ry="1.8"/><ellipse cx="20.9" cy="505.6" rx="0.8" ry="1.5"/><ellipse cx="16.3" cy="525.7" rx="0.7" ry="1.4"/><ellipse cx="23.1" cy="522.7" rx="0.9" ry="1.6"/><ellipse cx="38.7" cy="428.3" rx="0.6" ry="1.7"/><ellipse cx="23.9" cy="523.1" rx="1.0" ry="1.6"/><ellipse cx="16.8" cy="530.2" rx="0.9" ry="1.2"/><ellipse cx="20.3" cy="471.3" rx="0.7" ry="1.8"/><ellipse cx="37.2" cy="524.3" rx="0.8" ry="1.8"/><ellipse cx="17.8" cy="506.8" rx="0.7" ry="1.0"/><ellipse cx="17.4" cy="419.3" rx="0.9" ry="1.3"/><ellipse cx="29.5" cy="489.3" rx="0.7" ry="1.6"/><ellipse cx="35.9" cy="541.6" rx="0.8" ry="1.8"/><ellipse cx="45.9" cy="515.7" rx="0.8" ry="1.2"/><ellipse cx="16.6" cy="526.3" rx="0.7" ry="1.5"/><ellipse cx="28.6" cy="392.6" rx="0.7" ry="1.7"/><ellipse cx="31.5" cy="542.1" rx="1.0" ry="1.1"/><ellipse cx="36.2" cy="392.3" rx="0.8" ry="1.4"/><ellipse cx="45.5" cy="486.2" rx="0.7" ry="1.5"/><ellipse cx="30.9" cy="418.5" rx="0.8" ry="1.8"/><ellipse cx="46.4" cy="517.1" rx="0.6" ry="1.8"/><ellipse cx="28.8" cy="526.8" rx="0.7" ry="1.1"/><ellipse cx="43.9" cy="433.5" rx="0.6" ry="1.5"/><ellipse cx="46.7" cy="527.0" rx="0.8" ry="1.9"/><ellipse cx="40.1" cy="528.2" rx="0.9" ry="1.4"/><ellipse cx="43.8" cy="465.0" rx="1.0" ry="1.5"/><ellipse cx="44.0" cy="466.1" rx="0.8" ry="1.5"/><ellipse cx="24.0" cy="410.4" rx="0.9" ry="1.8"/><ellipse cx="22.7" cy="532.1" rx="1.0" ry="1.7"/><ellipse cx="27.3" cy="554.8" rx="1.0" ry="1.5"/><ellipse cx="17.1" cy="482.5" rx="0.6" ry="1.8"/><ellipse cx="24.6" cy="447.6" rx="0.8" ry="1.6"/><ellipse cx="32.9" cy="467.4" rx="0.9" ry="1.8"/><ellipse cx="28.3" cy="470.0" rx="1.0" ry="1.0"/><ellipse cx="18.7" cy="440.3" rx="0.7" ry="1.8"/><ellipse cx="18.3" cy="403.3" rx="0.7" ry="1.5"/><ellipse cx="41.0" cy="554.3" rx="1.0" ry="1.5"/><ellipse cx="14.6" cy="395.8" rx="0.9" ry="1.7"/><ellipse cx="22.2" cy="549.8" rx="0.8" ry="1.5"/><ellipse cx="34.1" cy="397.7" rx="0.7" ry="1.8"/><ellipse cx="22.3" cy="399.2" rx="0.7" ry="1.7"/><ellipse cx="22.2" cy="420.8" rx="0.7" ry="1.4"/><ellipse cx="38.2" cy="436.2" rx="1.0" ry="1.9"/><ellipse cx="41.0" cy="397.8" rx="0.7" ry="1.8"/><ellipse cx="42.3" cy="407.7" rx="0.8" ry="1.3"/><ellipse cx="38.5" cy="389.9" rx="0.7" ry="1.7"/><ellipse cx="43.2" cy="391.9" rx="0.9" ry="1.6"/><ellipse cx="42.7" cy="457.2" rx="1.0" ry="1.2"/><ellipse cx="17.2" cy="407.1" rx="0.9" ry="1.1"/><ellipse cx="22.3" cy="418.4" rx="0.6" ry="1.9"/><ellipse cx="24.6" cy="548.9" rx="0.9" ry="1.2"/><ellipse cx="44.7" cy="386.6" rx="1.0" ry="1.0"/><ellipse cx="21.8" cy="478.8" rx="0.6" ry="1.7"/><ellipse cx="16.2" cy="523.9" rx="0.6" ry="1.5"/><ellipse cx="20.4" cy="434.1" rx="0.8" ry="1.3"/><ellipse cx="26.5" cy="496.1" rx="0.7" ry="1.2"/><ellipse cx="36.4" cy="435.5" rx="1.0" ry="1.4"/><ellipse cx="29.3" cy="388.9" rx="0.6" ry="1.1"/><ellipse cx="34.4" cy="498.0" rx="1.0" ry="1.4"/><ellipse cx="37.1" cy="443.4" rx="0.6" ry="1.4"/><ellipse cx="36.9" cy="521.7" rx="1.0" ry="1.7"/><ellipse cx="32.3" cy="478.6" rx="0.8" ry="1.4"/><ellipse cx="36.2" cy="482.9" rx="1.0" ry="1.4"/><ellipse cx="29.2" cy="526.5" rx="0.9" ry="1.5"/><ellipse cx="32.3" cy="522.0" rx="0.9" ry="1.2"/><ellipse cx="23.8" cy="487.8" rx="0.6" ry="1.4"/><ellipse cx="43.4" cy="424.5" rx="0.8" ry="1.6"/><ellipse cx="44.5" cy="503.4" rx="0.9" ry="1.3"/><ellipse cx="28.0" cy="494.1" rx="0.8" ry="1.7"/><ellipse cx="13.6" cy="512.7" rx="0.9" ry="1.3"/><ellipse cx="13.8" cy="442.5" rx="0.9" ry="1.7"/><ellipse cx="42.6" cy="420.5" rx="0.6" ry="1.1"/><ellipse cx="46.6" cy="494.7" rx="0.7" ry="1.6"/><ellipse cx="45.6" cy="488.3" rx="0.7" ry="1.9"/><ellipse cx="36.9" cy="416.1" rx="0.9" ry="1.5"/><ellipse cx="32.6" cy="447.2" rx="0.7" ry="1.4"/><ellipse cx="31.0" cy="463.4" rx="1.0" ry="1.1"/><ellipse cx="20.0" cy="544.4" rx="0.9" ry="1.6"/><ellipse cx="34.5" cy="426.4" rx="0.8" ry="1.2"/><ellipse cx="18.4" cy="553.2" rx="0.9" ry="1.8"/><ellipse cx="13.3" cy="504.8" rx="0.7" ry="1.4"/><ellipse cx="36.1" cy="390.3" rx="0.8" ry="1.5"/><ellipse cx="42.8" cy="472.2" rx="0.7" ry="1.5"/><ellipse cx="33.0" cy="434.7" rx="0.8" ry="1.2"/><ellipse cx="13.7" cy="437.8" rx="0.6" ry="1.4"/><ellipse cx="30.2" cy="532.9" rx="0.9" ry="1.7"/><ellipse cx="46.7" cy="430.0" rx="0.8" ry="1.2"/><ellipse cx="16.8" cy="472.6" rx="0.8" ry="1.1"/><ellipse cx="44.4" cy="551.3" rx="0.6" ry="1.0"/><ellipse cx="15.4" cy="509.4" rx="1.0" ry="1.1"/></g>
<rect x="13.3" y="385" width="33.7" height="170" fill="none" stroke="#6e7a50" stroke-width="1.2" opacity="0.35"/>
</g>
<g clip-path="url(#lf2)">
<rect x="55" y="385" width="34.900000000000006" height="170" fill="#b4b67a"/>
<ellipse cx="88.4" cy="546.1" rx="2.2" ry="4.5" fill="#b08040" opacity="0.3" filter="url(#b15)"/>
<ellipse cx="84.2" cy="510.1" rx="4.0" ry="5.8" fill="#b08040" opacity="0.3" filter="url(#b15)"/>
<ellipse cx="76.1" cy="488.2" rx="3.7" ry="5.0" fill="#b08040" opacity="0.3" filter="url(#b15)"/>
<ellipse cx="70.0" cy="451.9" rx="4.2" ry="10.0" fill="#b08040" opacity="0.3" filter="url(#b15)"/>
<ellipse cx="88.1" cy="477.5" rx="3.3" ry="5.6" fill="#b08040" opacity="0.3" filter="url(#b15)"/>
<ellipse cx="56.3" cy="389.7" rx="3.4" ry="5.9" fill="#b08040" opacity="0.3" filter="url(#b15)"/>
<ellipse cx="68.3" cy="536.6" rx="3.6" ry="7.4" fill="#b08040" opacity="0.3" filter="url(#b15)"/>
<ellipse cx="63.2" cy="389.1" rx="3.0" ry="4.8" fill="#b08040" opacity="0.3" filter="url(#b15)"/>
<ellipse cx="72.8" cy="554.8" rx="4.0" ry="5.1" fill="#b08040" opacity="0.3" filter="url(#b15)"/>
<ellipse cx="86.2" cy="520.4" rx="4.2" ry="9.4" fill="#b08040" opacity="0.3" filter="url(#b15)"/>
<ellipse cx="81.6" cy="519.3" rx="4.8" ry="19.8" fill="#9db47e" opacity="0.5" filter="url(#b3)"/>
<ellipse cx="88.6" cy="412.4" rx="6.8" ry="16.6" fill="#9db47e" opacity="0.5" filter="url(#b3)"/>
<ellipse cx="71.1" cy="475.2" rx="5.5" ry="19.1" fill="#9db47e" opacity="0.5" filter="url(#b3)"/>
<ellipse cx="72.5" cy="526.4" rx="4.8" ry="18.6" fill="#9db47e" opacity="0.5" filter="url(#b3)"/>
<ellipse cx="86.4" cy="463.4" rx="5.8" ry="19.0" fill="#9db47e" opacity="0.5" filter="url(#b3)"/>
<ellipse cx="80.3" cy="467.7" rx="4.1" ry="11.9" fill="#9db47e" opacity="0.5" filter="url(#b3)"/>
<ellipse cx="79.4" cy="413.2" rx="7.5" ry="11.2" fill="#9db47e" opacity="0.5" filter="url(#b3)"/>
<ellipse cx="86.8" cy="437.6" rx="7.8" ry="16.5" fill="#9db47e" opacity="0.5" filter="url(#b3)"/>
<g filter="url(#b05)"><rect x="56.0" y="385" width="1.2" height="170" fill="#d8d098" opacity="0.35"/><rect x="58.0" y="385" width="1.1" height="170" fill="#a0bc88" opacity="0.43"/><rect x="60.5" y="385" width="1.3" height="170" fill="#a0bc88" opacity="0.38"/><rect x="63.4" y="385" width="1.2" height="170" fill="#a0bc88" opacity="0.21"/><rect x="65.9" y="385" width="0.9" height="170" fill="#a0bc88" opacity="0.42"/><rect x="67.7" y="385" width="1.3" height="170" fill="#d8d098" opacity="0.26"/><rect x="69.5" y="385" width="1.0" height="170" fill="#d8d098" opacity="0.38"/><rect x="71.2" y="385" width="0.8" height="170" fill="#a0bc88" opacity="0.37"/><rect x="72.9" y="385" width="0.7" height="170" fill="#d8d098" opacity="0.38"/><rect x="74.5" y="385" width="1.3" height="170" fill="#a0bc88" opacity="0.24"/><rect x="76.4" y="385" width="1.0" height="170" fill="#d8d098" opacity="0.21"/><rect x="79.4" y="385" width="0.7" height="170" fill="#a0bc88" opacity="0.29"/><rect x="81.8" y="385" width="0.8" height="170" fill="#d8d098" opacity="0.28"/><rect x="83.5" y="385" width="1.2" height="170" fill="#a0bc88" opacity="0.38"/><rect x="86.3" y="385" width="1.3" height="170" fill="#d8d098" opacity="0.38"/><rect x="88.6" y="385" width="1.2" height="170" fill="#a0bc88" opacity="0.28"/></g>
<g fill="#6a7a48"><rect x="55.9" y="385" width="0.6" height="170" opacity="0.37"/><rect x="57.9" y="385" width="0.6" height="170" opacity="0.30"/><rect x="60.3" y="385" width="0.6" height="170" opacity="0.28"/><rect x="62.4" y="385" width="0.6" height="170" opacity="0.39"/><rect x="64.6" y="385" width="0.6" height="170" opacity="0.30"/><rect x="67.0" y="385" width="0.6" height="170" opacity="0.15"/><rect x="69.7" y="385" width="0.6" height="170" opacity="0.19"/><rect x="71.6" y="385" width="0.6" height="170" opacity="0.16"/><rect x="73.7" y="385" width="0.6" height="170" opacity="0.17"/><rect x="76.5" y="385" width="0.6" height="170" opacity="0.28"/><rect x="79.9" y="385" width="0.6" height="170" opacity="0.38"/><rect x="83.3" y="385" width="0.6" height="170" opacity="0.21"/><rect x="85.8" y="385" width="0.6" height="170" opacity="0.21"/><rect x="88.5" y="385" width="0.6" height="170" opacity="0.31"/></g>
<g fill="#b67a34" opacity="0.72" filter="url(#b05)"><ellipse cx="79.8" cy="428.6" rx="0.8" ry="1.5"/><ellipse cx="55.2" cy="391.0" rx="0.8" ry="1.1"/><ellipse cx="80.3" cy="425.9" rx="0.6" ry="1.2"/><ellipse cx="63.1" cy="422.0" rx="0.8" ry="1.4"/><ellipse cx="65.8" cy="494.1" rx="0.7" ry="1.8"/><ellipse cx="88.6" cy="508.9" rx="0.8" ry="1.5"/><ellipse cx="75.3" cy="393.7" rx="0.8" ry="1.5"/><ellipse cx="61.3" cy="400.9" rx="1.0" ry="1.3"/><ellipse cx="73.1" cy="541.6" rx="0.9" ry="1.3"/><ellipse cx="89.3" cy="448.3" rx="0.6" ry="1.6"/><ellipse cx="58.5" cy="437.0" rx="1.0" ry="1.6"/><ellipse cx="55.5" cy="461.7" rx="0.8" ry="1.4"/><ellipse cx="62.3" cy="485.1" rx="0.6" ry="1.3"/><ellipse cx="68.0" cy="544.0" rx="0.6" ry="1.7"/><ellipse cx="61.7" cy="482.2" rx="0.8" ry="1.4"/><ellipse cx="81.3" cy="452.2" rx="0.7" ry="1.1"/><ellipse cx="57.8" cy="529.5" rx="0.9" ry="1.9"/><ellipse cx="79.2" cy="389.2" rx="0.9" ry="1.7"/><ellipse cx="80.3" cy="469.7" rx="0.8" ry="1.4"/><ellipse cx="82.9" cy="430.7" rx="0.8" ry="1.4"/><ellipse cx="88.3" cy="521.7" rx="1.0" ry="1.8"/><ellipse cx="65.4" cy="424.4" rx="0.8" ry="1.2"/><ellipse cx="69.9" cy="500.5" rx="1.0" ry="1.5"/><ellipse cx="83.5" cy="401.3" rx="0.8" ry="1.9"/><ellipse cx="60.1" cy="455.9" rx="0.6" ry="1.1"/><ellipse cx="86.3" cy="553.1" rx="0.9" ry="1.1"/><ellipse cx="65.3" cy="424.4" rx="0.9" ry="1.6"/><ellipse cx="70.3" cy="474.1" rx="0.7" ry="1.5"/><ellipse cx="88.2" cy="513.5" rx="0.6" ry="1.5"/><ellipse cx="80.0" cy="428.7" rx="1.0" ry="1.4"/><ellipse cx="79.5" cy="453.7" rx="1.0" ry="1.7"/><ellipse cx="75.0" cy="409.6" rx="0.8" ry="1.0"/><ellipse cx="75.8" cy="534.9" rx="0.7" ry="1.5"/><ellipse cx="71.8" cy="453.8" rx="0.9" ry="1.8"/><ellipse cx="79.6" cy="465.3" rx="1.0" ry="1.3"/><ellipse cx="81.0" cy="496.9" rx="0.9" ry="1.8"/><ellipse cx="62.9" cy="490.6" rx="0.8" ry="1.6"/><ellipse cx="89.1" cy="492.9" rx="0.6" ry="1.4"/><ellipse cx="79.8" cy="535.1" rx="0.9" ry="1.7"/><ellipse cx="55.6" cy="545.3" rx="0.9" ry="1.5"/><ellipse cx="86.6" cy="535.4" rx="0.6" ry="1.7"/><ellipse cx="81.8" cy="418.9" rx="0.9" ry="1.5"/><ellipse cx="61.7" cy="521.7" rx="0.7" ry="1.6"/><ellipse cx="70.2" cy="428.1" rx="0.9" ry="1.4"/><ellipse cx="62.2" cy="549.4" rx="0.6" ry="1.0"/><ellipse cx="71.9" cy="527.3" rx="0.9" ry="1.7"/><ellipse cx="71.9" cy="499.7" rx="0.8" ry="1.2"/><ellipse cx="72.6" cy="389.7" rx="0.6" ry="1.7"/><ellipse cx="61.1" cy="512.5" rx="1.0" ry="1.4"/><ellipse cx="78.6" cy="518.9" rx="1.0" ry="1.1"/><ellipse cx="60.7" cy="449.9" rx="0.8" ry="1.3"/><ellipse cx="55.4" cy="479.8" rx="1.0" ry="1.3"/><ellipse cx="73.8" cy="450.0" rx="0.8" ry="1.8"/><ellipse cx="65.8" cy="495.3" rx="0.8" ry="1.5"/><ellipse cx="86.9" cy="398.0" rx="1.0" ry="1.3"/><ellipse cx="77.6" cy="520.3" rx="0.9" ry="1.4"/><ellipse cx="84.3" cy="400.8" rx="0.9" ry="1.4"/><ellipse cx="73.5" cy="529.7" rx="1.0" ry="1.6"/><ellipse cx="65.8" cy="424.6" rx="0.8" ry="1.2"/><ellipse cx="64.7" cy="547.8" rx="0.7" ry="1.7"/><ellipse cx="68.2" cy="447.0" rx="0.7" ry="1.1"/><ellipse cx="71.0" cy="413.3" rx="0.8" ry="1.3"/><ellipse cx="86.2" cy="541.7" rx="0.8" ry="1.6"/><ellipse cx="87.4" cy="440.5" rx="0.6" ry="1.2"/><ellipse cx="61.6" cy="500.3" rx="0.8" ry="1.3"/><ellipse cx="82.7" cy="424.6" rx="1.0" ry="1.6"/><ellipse cx="69.0" cy="525.0" rx="0.8" ry="1.8"/><ellipse cx="87.3" cy="470.4" rx="0.9" ry="1.9"/><ellipse cx="80.9" cy="512.7" rx="1.0" ry="1.8"/><ellipse cx="81.3" cy="551.4" rx="0.7" ry="1.6"/><ellipse cx="78.4" cy="447.5" rx="0.8" ry="1.2"/><ellipse cx="88.4" cy="445.2" rx="0.8" ry="1.8"/><ellipse cx="61.5" cy="548.3" rx="0.7" ry="1.0"/><ellipse cx="67.2" cy="446.1" rx="1.0" ry="1.8"/><ellipse cx="81.6" cy="459.2" rx="0.8" ry="1.2"/><ellipse cx="84.1" cy="451.3" rx="0.7" ry="1.6"/><ellipse cx="60.3" cy="438.8" rx="1.0" ry="1.1"/><ellipse cx="60.0" cy="419.7" rx="0.7" ry="1.4"/><ellipse cx="63.7" cy="443.3" rx="0.7" ry="1.2"/><ellipse cx="76.3" cy="442.2" rx="0.8" ry="1.7"/><ellipse cx="57.2" cy="409.5" rx="1.0" ry="1.4"/><ellipse cx="82.2" cy="407.6" rx="0.8" ry="1.8"/><ellipse cx="66.8" cy="515.6" rx="0.9" ry="1.4"/><ellipse cx="89.8" cy="451.7" rx="0.8" ry="1.6"/><ellipse cx="66.1" cy="527.4" rx="0.9" ry="1.5"/><ellipse cx="73.8" cy="552.4" rx="1.0" ry="1.8"/><ellipse cx="70.9" cy="455.0" rx="0.8" ry="1.0"/><ellipse cx="58.8" cy="554.2" rx="0.7" ry="1.8"/><ellipse cx="78.7" cy="540.6" rx="0.6" ry="1.3"/><ellipse cx="82.8" cy="386.5" rx="0.6" ry="1.3"/><ellipse cx="61.0" cy="410.0" rx="0.9" ry="1.1"/><ellipse cx="88.9" cy="495.4" rx="0.6" ry="1.8"/><ellipse cx="63.4" cy="466.8" rx="0.9" ry="1.1"/><ellipse cx="72.5" cy="395.3" rx="0.7" ry="1.8"/><ellipse cx="83.7" cy="473.9" rx="0.9" ry="1.8"/><ellipse cx="59.9" cy="468.7" rx="0.7" ry="1.1"/><ellipse cx="58.8" cy="421.0" rx="0.6" ry="1.2"/><ellipse cx="68.2" cy="490.9" rx="1.0" ry="1.8"/><ellipse cx="80.0" cy="471.2" rx="1.0" ry="1.1"/><ellipse cx="58.7" cy="524.0" rx="0.9" ry="1.2"/><ellipse cx="68.2" cy="435.6" rx="0.8" ry="1.4"/><ellipse cx="68.9" cy="520.6" rx="1.0" ry="1.5"/><ellipse cx="71.5" cy="433.4" rx="0.9" ry="1.9"/><ellipse cx="63.0" cy="504.5" rx="0.9" ry="1.6"/><ellipse cx="56.1" cy="478.8" rx="0.7" ry="1.2"/><ellipse cx="75.2" cy="494.7" rx="0.9" ry="1.7"/><ellipse cx="79.5" cy="465.8" rx="0.6" ry="1.7"/><ellipse cx="83.7" cy="527.0" rx="0.9" ry="1.0"/><ellipse cx="61.8" cy="403.4" rx="0.9" ry="1.5"/><ellipse cx="61.5" cy="547.5" rx="1.0" ry="1.8"/><ellipse cx="71.2" cy="434.6" rx="0.7" ry="1.7"/><ellipse cx="79.5" cy="432.1" rx="1.0" ry="1.5"/><ellipse cx="69.4" cy="455.6" rx="0.9" ry="1.4"/><ellipse cx="78.0" cy="405.7" rx="0.9" ry="1.2"/><ellipse cx="86.8" cy="421.4" rx="0.7" ry="1.5"/><ellipse cx="68.7" cy="474.3" rx="1.0" ry="1.2"/><ellipse cx="81.9" cy="502.9" rx="1.0" ry="1.4"/><ellipse cx="70.9" cy="443.8" rx="0.8" ry="1.2"/><ellipse cx="61.7" cy="465.9" rx="0.7" ry="1.4"/><ellipse cx="75.0" cy="437.6" rx="0.7" ry="1.5"/><ellipse cx="85.0" cy="422.8" rx="0.9" ry="1.6"/><ellipse cx="85.9" cy="501.0" rx="0.7" ry="1.2"/><ellipse cx="84.2" cy="435.9" rx="0.6" ry="1.8"/><ellipse cx="61.9" cy="438.2" rx="0.7" ry="1.2"/><ellipse cx="80.3" cy="443.3" rx="0.8" ry="1.4"/><ellipse cx="84.1" cy="388.1" rx="0.9" ry="1.1"/><ellipse cx="60.3" cy="488.2" rx="0.8" ry="1.1"/><ellipse cx="75.5" cy="540.4" rx="0.9" ry="1.4"/><ellipse cx="82.9" cy="540.7" rx="0.7" ry="1.3"/><ellipse cx="88.7" cy="542.4" rx="0.7" ry="1.6"/><ellipse cx="85.5" cy="485.5" rx="0.9" ry="1.5"/><ellipse cx="63.2" cy="421.2" rx="0.6" ry="1.6"/><ellipse cx="59.8" cy="490.6" rx="0.8" ry="1.4"/><ellipse cx="88.9" cy="451.6" rx="0.8" ry="1.3"/><ellipse cx="62.5" cy="423.1" rx="0.8" ry="1.7"/><ellipse cx="58.2" cy="545.8" rx="0.9" ry="1.0"/><ellipse cx="79.7" cy="453.3" rx="0.8" ry="1.1"/><ellipse cx="72.8" cy="473.4" rx="1.0" ry="1.5"/><ellipse cx="79.6" cy="509.9" rx="0.7" ry="1.0"/><ellipse cx="71.7" cy="407.0" rx="0.7" ry="1.3"/><ellipse cx="73.8" cy="489.7" rx="0.9" ry="1.8"/><ellipse cx="58.6" cy="479.9" rx="0.6" ry="1.6"/><ellipse cx="70.3" cy="408.8" rx="0.7" ry="1.6"/><ellipse cx="71.5" cy="545.5" rx="0.8" ry="1.3"/><ellipse cx="87.2" cy="488.0" rx="0.6" ry="1.7"/><ellipse cx="67.7" cy="546.1" rx="0.9" ry="1.7"/><ellipse cx="86.3" cy="471.6" rx="1.0" ry="1.0"/><ellipse cx="66.9" cy="527.4" rx="0.6" ry="1.6"/><ellipse cx="89.9" cy="506.6" rx="1.0" ry="1.1"/><ellipse cx="73.9" cy="488.6" rx="0.8" ry="1.4"/><ellipse cx="82.6" cy="412.6" rx="0.6" ry="1.5"/><ellipse cx="88.7" cy="525.6" rx="0.9" ry="1.3"/><ellipse cx="86.6" cy="391.8" rx="0.7" ry="1.7"/><ellipse cx="86.2" cy="453.5" rx="1.0" ry="1.1"/><ellipse cx="75.8" cy="396.5" rx="0.7" ry="1.2"/><ellipse cx="55.2" cy="453.9" rx="0.8" ry="1.3"/><ellipse cx="77.7" cy="393.9" rx="0.8" ry="1.5"/><ellipse cx="69.1" cy="540.5" rx="0.7" ry="1.4"/><ellipse cx="71.0" cy="448.4" rx="1.0" ry="1.5"/><ellipse cx="73.0" cy="459.8" rx="0.8" ry="1.9"/><ellipse cx="82.9" cy="495.1" rx="0.7" ry="1.5"/><ellipse cx="59.5" cy="444.7" rx="0.6" ry="1.6"/><ellipse cx="89.1" cy="493.4" rx="0.9" ry="1.2"/><ellipse cx="70.4" cy="464.0" rx="0.8" ry="1.2"/><ellipse cx="62.7" cy="512.6" rx="1.0" ry="1.7"/><ellipse cx="76.7" cy="389.7" rx="0.7" ry="1.8"/><ellipse cx="88.9" cy="478.1" rx="0.9" ry="1.6"/><ellipse cx="63.6" cy="506.1" rx="0.8" ry="1.8"/><ellipse cx="71.1" cy="497.8" rx="0.9" ry="1.5"/><ellipse cx="71.1" cy="546.9" rx="0.9" ry="1.4"/><ellipse cx="72.6" cy="537.6" rx="0.9" ry="1.6"/><ellipse cx="88.5" cy="404.9" rx="0.9" ry="1.6"/><ellipse cx="70.9" cy="548.7" rx="1.0" ry="1.4"/><ellipse cx="76.5" cy="515.2" rx="0.9" ry="1.3"/><ellipse cx="82.9" cy="444.3" rx="0.7" ry="1.6"/><ellipse cx="77.7" cy="454.4" rx="0.8" ry="1.9"/><ellipse cx="83.2" cy="454.2" rx="1.0" ry="1.5"/><ellipse cx="69.1" cy="495.0" rx="1.0" ry="1.8"/><ellipse cx="78.4" cy="498.5" rx="0.8" ry="1.0"/><ellipse cx="70.9" cy="404.4" rx="1.0" ry="1.3"/><ellipse cx="76.1" cy="509.6" rx="0.7" ry="1.8"/><ellipse cx="66.4" cy="398.7" rx="0.9" ry="1.4"/><ellipse cx="87.1" cy="460.6" rx="0.6" ry="1.0"/><ellipse cx="56.1" cy="468.9" rx="0.9" ry="1.0"/><ellipse cx="66.5" cy="466.3" rx="1.0" ry="1.9"/><ellipse cx="85.5" cy="493.6" rx="0.9" ry="1.2"/><ellipse cx="76.4" cy="413.2" rx="0.7" ry="1.7"/><ellipse cx="74.8" cy="508.5" rx="0.8" ry="1.3"/><ellipse cx="72.6" cy="482.4" rx="0.7" ry="1.8"/><ellipse cx="89.2" cy="415.8" rx="0.7" ry="1.7"/><ellipse cx="80.2" cy="423.2" rx="0.9" ry="1.2"/><ellipse cx="85.1" cy="484.9" rx="0.8" ry="1.1"/><ellipse cx="69.2" cy="465.4" rx="0.8" ry="1.2"/><ellipse cx="61.9" cy="504.0" rx="1.0" ry="1.8"/><ellipse cx="76.5" cy="519.5" rx="0.7" ry="1.2"/><ellipse cx="79.6" cy="385.2" rx="0.6" ry="1.7"/><ellipse cx="61.9" cy="416.4" rx="0.8" ry="1.8"/><ellipse cx="55.4" cy="534.2" rx="0.7" ry="1.5"/><ellipse cx="71.5" cy="405.7" rx="1.0" ry="1.2"/><ellipse cx="83.1" cy="534.4" rx="0.8" ry="1.9"/><ellipse cx="57.2" cy="410.1" rx="0.8" ry="1.1"/><ellipse cx="83.2" cy="474.5" rx="1.0" ry="1.3"/><ellipse cx="55.9" cy="536.4" rx="0.7" ry="1.4"/><ellipse cx="59.4" cy="484.8" rx="0.8" ry="1.2"/><ellipse cx="56.4" cy="442.4" rx="1.0" ry="1.1"/><ellipse cx="63.0" cy="490.2" rx="0.9" ry="1.7"/><ellipse cx="77.5" cy="529.5" rx="0.7" ry="1.8"/><ellipse cx="56.0" cy="405.2" rx="0.6" ry="1.7"/><ellipse cx="72.6" cy="541.6" rx="1.0" ry="1.9"/><ellipse cx="76.4" cy="444.7" rx="1.0" ry="1.7"/><ellipse cx="61.8" cy="479.0" rx="0.6" ry="1.0"/><ellipse cx="77.3" cy="507.3" rx="1.0" ry="1.7"/><ellipse cx="59.8" cy="510.5" rx="1.0" ry="1.6"/><ellipse cx="71.8" cy="435.1" rx="0.6" ry="1.6"/><ellipse cx="88.6" cy="404.5" rx="1.0" ry="1.8"/><ellipse cx="67.3" cy="528.8" rx="0.7" ry="1.3"/><ellipse cx="74.8" cy="534.5" rx="0.8" ry="1.1"/><ellipse cx="87.5" cy="482.2" rx="1.0" ry="1.2"/><ellipse cx="66.7" cy="400.3" rx="0.7" ry="1.4"/><ellipse cx="69.3" cy="496.7" rx="1.0" ry="1.3"/><ellipse cx="87.3" cy="496.0" rx="0.8" ry="1.2"/><ellipse cx="88.4" cy="496.7" rx="0.6" ry="1.6"/><ellipse cx="68.2" cy="456.6" rx="0.9" ry="1.2"/><ellipse cx="64.4" cy="476.8" rx="1.0" ry="1.1"/><ellipse cx="84.1" cy="507.5" rx="0.7" ry="1.6"/><ellipse cx="76.7" cy="505.6" rx="0.8" ry="1.3"/><ellipse cx="72.5" cy="425.4" rx="0.8" ry="1.4"/><ellipse cx="58.7" cy="424.5" rx="0.8" ry="1.4"/><ellipse cx="74.7" cy="511.9" rx="0.7" ry="1.5"/><ellipse cx="66.8" cy="423.5" rx="0.7" ry="1.9"/><ellipse cx="87.5" cy="526.2" rx="0.7" ry="1.1"/><ellipse cx="58.6" cy="436.1" rx="0.8" ry="1.0"/><ellipse cx="69.7" cy="502.2" rx="1.0" ry="1.2"/><ellipse cx="55.1" cy="520.1" rx="0.8" ry="1.3"/><ellipse cx="60.4" cy="430.6" rx="0.7" ry="1.2"/><ellipse cx="63.1" cy="473.0" rx="1.0" ry="1.3"/><ellipse cx="69.5" cy="467.2" rx="1.0" ry="1.7"/><ellipse cx="89.4" cy="414.4" rx="1.0" ry="1.3"/><ellipse cx="75.1" cy="474.6" rx="0.9" ry="1.3"/><ellipse cx="57.5" cy="386.3" rx="1.0" ry="1.8"/><ellipse cx="71.1" cy="400.3" rx="1.0" ry="1.5"/><ellipse cx="71.4" cy="493.6" rx="0.7" ry="1.2"/><ellipse cx="83.4" cy="509.9" rx="1.0" ry="1.4"/><ellipse cx="88.9" cy="536.1" rx="0.8" ry="1.8"/><ellipse cx="60.7" cy="397.0" rx="1.0" ry="1.1"/><ellipse cx="73.0" cy="510.3" rx="0.9" ry="1.2"/><ellipse cx="82.5" cy="392.2" rx="0.9" ry="1.8"/><ellipse cx="74.1" cy="436.4" rx="1.0" ry="1.7"/><ellipse cx="82.6" cy="537.3" rx="1.0" ry="1.5"/><ellipse cx="83.8" cy="470.3" rx="0.7" ry="1.3"/><ellipse cx="64.1" cy="389.3" rx="0.9" ry="1.4"/><ellipse cx="86.8" cy="393.7" rx="1.0" ry="1.2"/><ellipse cx="66.3" cy="434.7" rx="1.0" ry="1.6"/><ellipse cx="71.3" cy="416.3" rx="0.6" ry="1.3"/><ellipse cx="89.0" cy="460.6" rx="0.9" ry="1.8"/><ellipse cx="56.7" cy="439.6" rx="0.8" ry="1.2"/><ellipse cx="68.4" cy="500.9" rx="0.7" ry="1.6"/><ellipse cx="65.4" cy="496.7" rx="0.7" ry="1.7"/><ellipse cx="69.6" cy="526.5" rx="1.0" ry="1.5"/><ellipse cx="55.7" cy="447.2" rx="1.0" ry="1.6"/><ellipse cx="81.5" cy="466.0" rx="1.0" ry="1.8"/><ellipse cx="76.4" cy="485.3" rx="0.6" ry="1.0"/><ellipse cx="62.2" cy="507.5" rx="1.0" ry="1.7"/><ellipse cx="86.0" cy="390.2" rx="0.6" ry="1.2"/><ellipse cx="55.6" cy="484.6" rx="1.0" ry="1.8"/><ellipse cx="58.7" cy="497.9" rx="0.9" ry="1.6"/><ellipse cx="69.4" cy="425.2" rx="1.0" ry="1.8"/><ellipse cx="80.0" cy="477.4" rx="0.6" ry="1.2"/><ellipse cx="63.4" cy="426.3" rx="0.7" ry="1.6"/><ellipse cx="78.7" cy="414.9" rx="1.0" ry="1.0"/><ellipse cx="88.4" cy="484.1" rx="0.9" ry="1.3"/><ellipse cx="79.1" cy="534.0" rx="0.7" ry="1.1"/><ellipse cx="82.5" cy="427.4" rx="0.6" ry="1.4"/><ellipse cx="61.5" cy="421.3" rx="0.7" ry="1.1"/><ellipse cx="83.6" cy="481.1" rx="0.9" ry="1.3"/><ellipse cx="82.1" cy="548.4" rx="1.0" ry="1.0"/><ellipse cx="65.8" cy="400.2" rx="0.8" ry="1.6"/><ellipse cx="76.2" cy="445.3" rx="1.0" ry="1.6"/><ellipse cx="89.8" cy="457.3" rx="0.9" ry="1.1"/><ellipse cx="73.7" cy="494.9" rx="0.7" ry="1.6"/><ellipse cx="59.6" cy="463.5" rx="0.9" ry="1.4"/><ellipse cx="60.3" cy="417.3" rx="0.8" ry="1.6"/><ellipse cx="70.1" cy="419.1" rx="0.8" ry="1.3"/><ellipse cx="59.8" cy="485.1" rx="0.8" ry="1.3"/><ellipse cx="55.1" cy="540.4" rx="0.6" ry="1.1"/><ellipse cx="65.3" cy="519.2" rx="1.0" ry="1.7"/><ellipse cx="62.2" cy="527.7" rx="0.6" ry="1.1"/><ellipse cx="58.9" cy="480.8" rx="0.9" ry="1.6"/><ellipse cx="88.1" cy="512.9" rx="0.9" ry="1.2"/><ellipse cx="86.8" cy="541.2" rx="1.0" ry="1.1"/><ellipse cx="79.9" cy="473.3" rx="0.8" ry="1.2"/><ellipse cx="82.0" cy="522.1" rx="0.9" ry="1.3"/><ellipse cx="80.7" cy="399.7" rx="0.9" ry="1.0"/><ellipse cx="55.2" cy="402.7" rx="0.9" ry="1.9"/><ellipse cx="71.3" cy="494.6" rx="0.9" ry="1.8"/><ellipse cx="88.8" cy="524.0" rx="0.7" ry="1.1"/><ellipse cx="86.2" cy="432.4" rx="0.9" ry="1.8"/><ellipse cx="60.9" cy="418.0" rx="0.8" ry="1.8"/><ellipse cx="84.7" cy="553.8" rx="0.7" ry="1.6"/><ellipse cx="85.5" cy="449.0" rx="0.9" ry="1.2"/><ellipse cx="84.9" cy="460.3" rx="0.8" ry="1.6"/><ellipse cx="66.1" cy="523.2" rx="0.8" ry="1.4"/><ellipse cx="80.3" cy="498.4" rx="0.9" ry="1.8"/><ellipse cx="83.2" cy="454.3" rx="0.9" ry="1.8"/><ellipse cx="56.9" cy="497.1" rx="0.8" ry="1.4"/><ellipse cx="59.2" cy="434.0" rx="0.9" ry="1.8"/><ellipse cx="89.4" cy="513.3" rx="1.0" ry="1.7"/><ellipse cx="60.8" cy="502.4" rx="1.0" ry="1.7"/><ellipse cx="64.6" cy="504.0" rx="0.8" ry="1.4"/><ellipse cx="80.5" cy="499.9" rx="0.7" ry="1.6"/><ellipse cx="57.1" cy="420.2" rx="1.0" ry="1.8"/><ellipse cx="63.9" cy="514.9" rx="0.7" ry="1.4"/><ellipse cx="67.2" cy="399.3" rx="0.8" ry="1.5"/><ellipse cx="84.7" cy="402.5" rx="0.7" ry="1.0"/><ellipse cx="62.3" cy="430.3" rx="1.0" ry="1.8"/><ellipse cx="62.5" cy="467.0" rx="0.8" ry="1.4"/><ellipse cx="88.5" cy="546.5" rx="0.6" ry="1.4"/><ellipse cx="73.4" cy="495.5" rx="0.8" ry="1.7"/><ellipse cx="58.4" cy="463.4" rx="1.0" ry="1.2"/><ellipse cx="61.1" cy="489.8" rx="0.7" ry="1.5"/><ellipse cx="59.3" cy="416.8" rx="0.8" ry="1.7"/><ellipse cx="76.3" cy="488.4" rx="0.9" ry="1.4"/><ellipse cx="89.1" cy="486.2" rx="0.9" ry="1.1"/><ellipse cx="63.7" cy="484.6" rx="1.0" ry="1.6"/><ellipse cx="56.9" cy="522.3" rx="0.7" ry="1.5"/><ellipse cx="61.7" cy="395.4" rx="0.9" ry="1.4"/><ellipse cx="76.1" cy="504.8" rx="0.9" ry="1.4"/><ellipse cx="66.2" cy="475.1" rx="0.7" ry="1.2"/><ellipse cx="83.3" cy="443.2" rx="0.9" ry="1.6"/><ellipse cx="71.2" cy="518.5" rx="0.7" ry="1.0"/><ellipse cx="84.6" cy="512.4" rx="0.9" ry="1.8"/><ellipse cx="69.2" cy="457.5" rx="0.9" ry="1.8"/><ellipse cx="64.8" cy="513.9" rx="1.0" ry="1.2"/><ellipse cx="55.6" cy="412.6" rx="0.9" ry="1.2"/><ellipse cx="88.1" cy="400.7" rx="1.0" ry="1.3"/><ellipse cx="87.1" cy="442.6" rx="0.6" ry="1.6"/><ellipse cx="65.4" cy="544.8" rx="1.0" ry="1.2"/><ellipse cx="72.1" cy="478.6" rx="0.9" ry="1.2"/><ellipse cx="74.8" cy="473.2" rx="0.9" ry="1.5"/><ellipse cx="70.1" cy="450.8" rx="0.8" ry="1.9"/><ellipse cx="73.2" cy="403.1" rx="0.8" ry="1.7"/><ellipse cx="78.8" cy="398.7" rx="0.8" ry="1.4"/><ellipse cx="84.5" cy="430.5" rx="1.0" ry="1.7"/><ellipse cx="55.7" cy="469.6" rx="0.8" ry="1.6"/><ellipse cx="86.0" cy="419.3" rx="1.0" ry="1.0"/><ellipse cx="84.1" cy="429.5" rx="0.6" ry="1.7"/><ellipse cx="88.9" cy="496.8" rx="1.0" ry="1.4"/><ellipse cx="63.6" cy="498.0" rx="1.0" ry="1.2"/><ellipse cx="68.1" cy="431.0" rx="0.7" ry="1.8"/><ellipse cx="55.2" cy="388.7" rx="0.7" ry="1.7"/><ellipse cx="74.9" cy="513.7" rx="0.9" ry="1.8"/><ellipse cx="75.5" cy="388.7" rx="0.6" ry="1.4"/><ellipse cx="59.1" cy="437.7" rx="0.7" ry="1.9"/><ellipse cx="88.7" cy="499.4" rx="0.8" ry="1.4"/><ellipse cx="57.5" cy="462.0" rx="0.7" ry="1.5"/><ellipse cx="83.5" cy="453.1" rx="0.9" ry="1.7"/><ellipse cx="86.9" cy="457.6" rx="0.7" ry="1.8"/><ellipse cx="72.4" cy="431.4" rx="0.9" ry="1.8"/><ellipse cx="89.3" cy="449.0" rx="0.7" ry="1.2"/><ellipse cx="65.4" cy="422.0" rx="1.0" ry="1.6"/><ellipse cx="56.8" cy="401.0" rx="0.7" ry="1.9"/><ellipse cx="66.9" cy="522.1" rx="0.7" ry="1.2"/><ellipse cx="87.9" cy="397.8" rx="0.8" ry="1.5"/><ellipse cx="66.8" cy="513.5" rx="1.0" ry="1.2"/><ellipse cx="65.5" cy="467.7" rx="0.8" ry="1.6"/><ellipse cx="82.0" cy="442.7" rx="1.0" ry="1.4"/><ellipse cx="56.0" cy="456.7" rx="0.8" ry="1.2"/><ellipse cx="85.7" cy="486.4" rx="0.8" ry="1.3"/><ellipse cx="59.6" cy="431.9" rx="0.9" ry="1.6"/><ellipse cx="78.9" cy="390.4" rx="1.0" ry="1.6"/><ellipse cx="78.8" cy="473.9" rx="1.0" ry="1.9"/><ellipse cx="75.4" cy="458.5" rx="0.8" ry="1.7"/><ellipse cx="78.6" cy="516.9" rx="0.7" ry="1.5"/><ellipse cx="63.2" cy="483.1" rx="0.6" ry="1.5"/><ellipse cx="80.4" cy="539.8" rx="0.8" ry="1.8"/><ellipse cx="62.0" cy="387.0" rx="0.8" ry="1.3"/><ellipse cx="68.8" cy="486.8" rx="0.9" ry="1.8"/><ellipse cx="66.3" cy="484.0" rx="0.9" ry="1.6"/><ellipse cx="75.4" cy="464.1" rx="1.0" ry="1.0"/><ellipse cx="82.4" cy="413.4" rx="0.7" ry="1.6"/><ellipse cx="70.9" cy="443.2" rx="0.6" ry="1.0"/><ellipse cx="64.3" cy="401.4" rx="0.9" ry="1.2"/><ellipse cx="68.3" cy="456.6" rx="0.9" ry="1.7"/><ellipse cx="77.0" cy="421.9" rx="0.7" ry="1.5"/><ellipse cx="67.8" cy="508.2" rx="0.7" ry="1.6"/><ellipse cx="67.5" cy="432.6" rx="0.7" ry="1.7"/><ellipse cx="72.6" cy="477.5" rx="1.0" ry="1.0"/><ellipse cx="74.0" cy="440.9" rx="0.7" ry="1.7"/><ellipse cx="63.5" cy="454.6" rx="0.8" ry="1.1"/><ellipse cx="65.8" cy="385.6" rx="0.8" ry="1.6"/><ellipse cx="89.9" cy="548.1" rx="0.7" ry="1.9"/><ellipse cx="58.6" cy="410.3" rx="0.8" ry="1.6"/><ellipse cx="75.7" cy="391.2" rx="0.8" ry="1.4"/><ellipse cx="68.5" cy="514.4" rx="0.9" ry="1.1"/><ellipse cx="71.2" cy="503.4" rx="1.0" ry="1.6"/><ellipse cx="89.1" cy="510.8" rx="0.8" ry="1.8"/><ellipse cx="76.4" cy="486.6" rx="0.9" ry="1.7"/><ellipse cx="79.7" cy="462.9" rx="1.0" ry="1.4"/><ellipse cx="80.9" cy="540.4" rx="0.8" ry="1.1"/><ellipse cx="86.6" cy="421.2" rx="0.7" ry="1.0"/></g>
<rect x="55" y="385" width="34.900000000000006" height="170" fill="none" stroke="#6e7a50" stroke-width="1.2" opacity="0.35"/>
</g>
<g clip-path="url(#lf3)">
<rect x="95.9" y="385" width="34.29999999999998" height="170" fill="#beb47a"/>
<ellipse cx="104.1" cy="477.5" rx="3.1" ry="7.6" fill="#b88040" opacity="0.35" filter="url(#b15)"/>
<ellipse cx="117.4" cy="396.1" rx="2.0" ry="9.0" fill="#b88040" opacity="0.35" filter="url(#b15)"/>
<ellipse cx="104.8" cy="424.8" rx="5.0" ry="6.8" fill="#b88040" opacity="0.35" filter="url(#b15)"/>
<ellipse cx="124.6" cy="466.0" rx="3.9" ry="4.9" fill="#b88040" opacity="0.35" filter="url(#b15)"/>
<ellipse cx="117.7" cy="532.6" rx="3.6" ry="8.4" fill="#b88040" opacity="0.35" filter="url(#b15)"/>
<ellipse cx="118.9" cy="395.9" rx="4.3" ry="7.5" fill="#b88040" opacity="0.35" filter="url(#b15)"/>
<ellipse cx="106.2" cy="390.3" rx="4.6" ry="6.8" fill="#b88040" opacity="0.35" filter="url(#b15)"/>
<ellipse cx="120.6" cy="534.4" rx="4.1" ry="9.5" fill="#b88040" opacity="0.35" filter="url(#b15)"/>
<ellipse cx="109.4" cy="521.2" rx="3.3" ry="9.6" fill="#b88040" opacity="0.35" filter="url(#b15)"/>
<ellipse cx="126.0" cy="401.6" rx="2.4" ry="5.3" fill="#b88040" opacity="0.35" filter="url(#b15)"/>
<ellipse cx="129.0" cy="459.1" rx="3.9" ry="5.8" fill="#b88040" opacity="0.35" filter="url(#b15)"/>
<ellipse cx="113.3" cy="450.6" rx="3.1" ry="7.5" fill="#b88040" opacity="0.35" filter="url(#b15)"/>
<ellipse cx="115.9" cy="538.7" rx="4.0" ry="9.6" fill="#b88040" opacity="0.35" filter="url(#b15)"/>
<ellipse cx="125.3" cy="553.5" rx="4.0" ry="5.0" fill="#b88040" opacity="0.35" filter="url(#b15)"/>
<ellipse cx="125.4" cy="549.0" rx="4.7" ry="7.4" fill="#b88040" opacity="0.35" filter="url(#b15)"/>
<ellipse cx="120.4" cy="420.9" rx="4.5" ry="7.4" fill="#b88040" opacity="0.35" filter="url(#b15)"/>
<ellipse cx="105.7" cy="395.8" rx="7.3" ry="19.9" fill="#a9b27e" opacity="0.5" filter="url(#b3)"/>
<ellipse cx="98.9" cy="521.1" rx="5.1" ry="9.8" fill="#a9b27e" opacity="0.5" filter="url(#b3)"/>
<ellipse cx="106.0" cy="515.7" rx="7.4" ry="8.5" fill="#a9b27e" opacity="0.5" filter="url(#b3)"/>
<ellipse cx="117.0" cy="392.6" rx="6.6" ry="12.0" fill="#a9b27e" opacity="0.5" filter="url(#b3)"/>
<ellipse cx="126.1" cy="551.7" rx="5.5" ry="20.0" fill="#a9b27e" opacity="0.5" filter="url(#b3)"/>
<ellipse cx="106.5" cy="398.1" rx="6.0" ry="8.4" fill="#a9b27e" opacity="0.5" filter="url(#b3)"/>
<g filter="url(#b05)"><rect x="96.3" y="385" width="1.1" height="170" fill="#a8b888" opacity="0.24"/><rect x="98.0" y="385" width="0.9" height="170" fill="#d8d098" opacity="0.44"/><rect x="100.8" y="385" width="1.0" height="170" fill="#a8b888" opacity="0.33"/><rect x="103.3" y="385" width="1.1" height="170" fill="#d8d098" opacity="0.36"/><rect x="106.2" y="385" width="1.0" height="170" fill="#d8d098" opacity="0.38"/><rect x="108.2" y="385" width="1.4" height="170" fill="#a8b888" opacity="0.33"/><rect x="110.5" y="385" width="1.0" height="170" fill="#a8b888" opacity="0.34"/><rect x="112.2" y="385" width="1.1" height="170" fill="#d8d098" opacity="0.22"/><rect x="114.6" y="385" width="1.2" height="170" fill="#a8b888" opacity="0.29"/><rect x="117.2" y="385" width="0.7" height="170" fill="#d8d098" opacity="0.22"/><rect x="119.8" y="385" width="0.9" height="170" fill="#d8d098" opacity="0.31"/><rect x="122.2" y="385" width="1.0" height="170" fill="#a8b888" opacity="0.28"/><rect x="124.3" y="385" width="0.9" height="170" fill="#d8d098" opacity="0.29"/><rect x="127.0" y="385" width="1.1" height="170" fill="#a8b888" opacity="0.38"/><rect x="129.0" y="385" width="1.3" height="170" fill="#a8b888" opacity="0.26"/></g>
<g fill="#7a7048"><rect x="96.8" y="385" width="0.6" height="170" opacity="0.32"/><rect x="98.7" y="385" width="0.6" height="170" opacity="0.23"/><rect x="101.1" y="385" width="0.6" height="170" opacity="0.36"/><rect x="103.6" y="385" width="0.6" height="170" opacity="0.36"/><rect x="105.6" y="385" width="0.6" height="170" opacity="0.23"/><rect x="108.5" y="385" width="0.6" height="170" opacity="0.37"/><rect x="111.0" y="385" width="0.6" height="170" opacity="0.21"/><rect x="113.0" y="385" width="0.6" height="170" opacity="0.28"/><rect x="115.1" y="385" width="0.6" height="170" opacity="0.35"/><rect x="118.2" y="385" width="0.6" height="170" opacity="0.20"/><rect x="120.5" y="385" width="0.6" height="170" opacity="0.35"/><rect x="123.3" y="385" width="0.6" height="170" opacity="0.35"/><rect x="125.7" y="385" width="0.6" height="170" opacity="0.18"/><rect x="127.9" y="385" width="0.6" height="170" opacity="0.35"/><rect x="130.2" y="385" width="0.6" height="170" opacity="0.24"/></g>
<g fill="#bc7832" opacity="0.74" filter="url(#b05)"><ellipse cx="110.3" cy="454.6" rx="1.0" ry="1.1"/><ellipse cx="96.1" cy="545.4" rx="1.0" ry="1.9"/><ellipse cx="110.8" cy="546.5" rx="1.0" ry="1.2"/><ellipse cx="121.5" cy="527.2" rx="0.9" ry="1.5"/><ellipse cx="105.8" cy="443.0" rx="0.7" ry="1.1"/><ellipse cx="116.1" cy="433.8" rx="1.0" ry="1.0"/><ellipse cx="126.9" cy="502.9" rx="1.0" ry="1.8"/><ellipse cx="126.8" cy="483.1" rx="0.6" ry="1.7"/><ellipse cx="101.8" cy="436.0" rx="0.9" ry="1.5"/><ellipse cx="110.1" cy="544.6" rx="0.9" ry="1.3"/><ellipse cx="104.6" cy="531.5" rx="0.8" ry="1.7"/><ellipse cx="108.0" cy="418.5" rx="0.8" ry="1.7"/><ellipse cx="101.8" cy="519.6" rx="1.0" ry="1.7"/><ellipse cx="124.1" cy="386.3" rx="0.9" ry="1.8"/><ellipse cx="97.6" cy="431.1" rx="0.7" ry="1.5"/><ellipse cx="110.4" cy="465.4" rx="0.9" ry="1.0"/><ellipse cx="97.8" cy="406.6" rx="0.7" ry="1.1"/><ellipse cx="129.3" cy="530.3" rx="0.6" ry="1.5"/><ellipse cx="106.7" cy="438.5" rx="0.8" ry="1.6"/><ellipse cx="116.0" cy="446.3" rx="0.7" ry="1.3"/><ellipse cx="100.1" cy="479.4" rx="0.9" ry="1.3"/><ellipse cx="98.6" cy="415.4" rx="0.8" ry="1.5"/><ellipse cx="122.7" cy="449.6" rx="1.0" ry="1.6"/><ellipse cx="110.7" cy="448.3" rx="0.8" ry="1.6"/><ellipse cx="110.3" cy="503.0" rx="0.8" ry="1.2"/><ellipse cx="114.3" cy="503.2" rx="0.6" ry="1.4"/><ellipse cx="110.5" cy="534.5" rx="1.0" ry="1.3"/><ellipse cx="126.7" cy="519.5" rx="0.7" ry="1.4"/><ellipse cx="100.1" cy="523.2" rx="0.9" ry="1.8"/><ellipse cx="123.1" cy="498.5" rx="0.9" ry="1.5"/><ellipse cx="99.4" cy="484.9" rx="0.6" ry="1.1"/><ellipse cx="122.5" cy="392.5" rx="0.6" ry="1.1"/><ellipse cx="126.1" cy="415.5" rx="0.6" ry="1.8"/><ellipse cx="100.1" cy="528.5" rx="0.9" ry="1.8"/><ellipse cx="128.6" cy="483.4" rx="1.0" ry="1.0"/><ellipse cx="122.2" cy="471.9" rx="0.9" ry="1.1"/><ellipse cx="121.6" cy="543.9" rx="0.6" ry="1.3"/><ellipse cx="115.2" cy="525.8" rx="0.7" ry="1.2"/><ellipse cx="104.5" cy="489.7" rx="0.9" ry="1.4"/><ellipse cx="108.5" cy="452.4" rx="0.8" ry="1.4"/><ellipse cx="98.8" cy="470.1" rx="1.0" ry="1.4"/><ellipse cx="121.5" cy="412.3" rx="0.9" ry="1.7"/><ellipse cx="119.0" cy="472.9" rx="0.8" ry="1.6"/><ellipse cx="126.7" cy="410.4" rx="0.6" ry="1.7"/><ellipse cx="127.3" cy="472.9" rx="0.8" ry="1.6"/><ellipse cx="102.3" cy="430.5" rx="0.7" ry="1.5"/><ellipse cx="106.7" cy="424.5" rx="0.9" ry="1.9"/><ellipse cx="106.0" cy="504.9" rx="0.8" ry="1.8"/><ellipse cx="116.0" cy="430.4" rx="0.7" ry="1.0"/><ellipse cx="112.3" cy="450.1" rx="0.7" ry="1.3"/><ellipse cx="106.9" cy="516.6" rx="0.7" ry="1.9"/><ellipse cx="112.3" cy="486.8" rx="0.8" ry="1.8"/><ellipse cx="124.1" cy="479.7" rx="0.8" ry="1.6"/><ellipse cx="125.3" cy="453.0" rx="0.9" ry="1.9"/><ellipse cx="111.9" cy="424.0" rx="0.7" ry="1.6"/><ellipse cx="119.1" cy="548.0" rx="1.0" ry="1.2"/><ellipse cx="102.4" cy="429.0" rx="0.7" ry="1.6"/><ellipse cx="125.3" cy="538.0" rx="0.7" ry="1.8"/><ellipse cx="106.7" cy="457.0" rx="0.9" ry="1.1"/><ellipse cx="99.1" cy="526.8" rx="0.7" ry="1.3"/><ellipse cx="115.8" cy="499.8" rx="0.6" ry="1.3"/><ellipse cx="110.9" cy="467.6" rx="0.7" ry="1.5"/><ellipse cx="128.7" cy="451.5" rx="0.8" ry="1.1"/><ellipse cx="105.3" cy="498.1" rx="0.7" ry="1.8"/><ellipse cx="127.1" cy="401.5" rx="1.0" ry="1.3"/><ellipse cx="122.4" cy="513.7" rx="0.7" ry="1.6"/><ellipse cx="118.3" cy="522.0" rx="0.7" ry="1.7"/><ellipse cx="128.9" cy="499.4" rx="0.8" ry="1.1"/><ellipse cx="112.8" cy="444.9" rx="0.9" ry="1.6"/><ellipse cx="115.3" cy="415.9" rx="0.9" ry="1.6"/><ellipse cx="102.0" cy="536.3" rx="0.9" ry="1.1"/><ellipse cx="127.9" cy="409.0" rx="0.7" ry="1.6"/><ellipse cx="116.4" cy="479.3" rx="0.9" ry="1.4"/><ellipse cx="106.6" cy="415.0" rx="0.6" ry="1.6"/><ellipse cx="121.8" cy="477.3" rx="0.9" ry="1.3"/><ellipse cx="105.0" cy="450.2" rx="1.0" ry="1.0"/><ellipse cx="113.2" cy="427.0" rx="0.9" ry="1.3"/><ellipse cx="107.3" cy="453.6" rx="0.8" ry="1.7"/><ellipse cx="108.0" cy="529.0" rx="0.7" ry="1.2"/><ellipse cx="99.3" cy="404.2" rx="1.0" ry="1.7"/><ellipse cx="102.2" cy="417.2" rx="0.8" ry="1.7"/><ellipse cx="123.9" cy="512.3" rx="0.9" ry="1.1"/><ellipse cx="109.6" cy="417.9" rx="0.8" ry="1.5"/><ellipse cx="102.8" cy="427.5" rx="1.0" ry="1.0"/><ellipse cx="123.4" cy="536.5" rx="1.0" ry="1.3"/><ellipse cx="114.9" cy="484.1" rx="0.9" ry="1.9"/><ellipse cx="119.5" cy="435.9" rx="1.0" ry="1.4"/><ellipse cx="116.5" cy="508.6" rx="0.6" ry="1.7"/><ellipse cx="118.6" cy="468.6" rx="0.8" ry="1.4"/><ellipse cx="102.5" cy="475.0" rx="0.6" ry="1.5"/><ellipse cx="118.1" cy="460.5" rx="0.9" ry="1.9"/><ellipse cx="126.5" cy="408.0" rx="1.0" ry="1.6"/><ellipse cx="97.6" cy="446.2" rx="0.7" ry="1.1"/><ellipse cx="114.4" cy="543.1" rx="0.7" ry="1.8"/><ellipse cx="119.7" cy="407.8" rx="1.0" ry="1.5"/><ellipse cx="127.7" cy="506.7" rx="0.9" ry="1.3"/><ellipse cx="123.6" cy="543.4" rx="1.0" ry="1.4"/><ellipse cx="121.9" cy="467.5" rx="0.6" ry="1.0"/><ellipse cx="98.6" cy="419.1" rx="0.7" ry="1.4"/><ellipse cx="119.9" cy="476.4" rx="0.8" ry="1.6"/><ellipse cx="106.3" cy="463.9" rx="0.9" ry="1.4"/><ellipse cx="102.1" cy="537.9" rx="0.9" ry="1.3"/><ellipse cx="108.6" cy="475.0" rx="0.9" ry="1.2"/><ellipse cx="96.0" cy="420.5" rx="1.0" ry="1.1"/><ellipse cx="111.7" cy="418.2" rx="0.7" ry="1.2"/><ellipse cx="109.7" cy="413.6" rx="0.6" ry="1.1"/><ellipse cx="101.7" cy="468.3" rx="0.6" ry="1.0"/><ellipse cx="111.3" cy="454.3" rx="0.9" ry="1.0"/><ellipse cx="109.7" cy="452.4" rx="0.6" ry="1.9"/><ellipse cx="103.4" cy="401.0" rx="0.8" ry="1.1"/><ellipse cx="117.3" cy="443.9" rx="0.7" ry="1.0"/><ellipse cx="120.9" cy="431.8" rx="1.0" ry="1.4"/><ellipse cx="127.9" cy="436.1" rx="0.7" ry="1.2"/><ellipse cx="123.8" cy="491.9" rx="0.8" ry="1.1"/><ellipse cx="119.3" cy="549.8" rx="0.9" ry="1.0"/><ellipse cx="96.9" cy="400.4" rx="0.7" ry="1.0"/><ellipse cx="97.8" cy="496.2" rx="1.0" ry="1.2"/><ellipse cx="129.3" cy="466.1" rx="1.0" ry="1.8"/><ellipse cx="128.1" cy="390.8" rx="0.7" ry="1.5"/><ellipse cx="128.4" cy="399.9" rx="0.7" ry="1.8"/><ellipse cx="99.8" cy="451.3" rx="0.8" ry="1.6"/><ellipse cx="127.7" cy="414.7" rx="0.9" ry="1.7"/><ellipse cx="124.6" cy="479.1" rx="1.0" ry="1.3"/><ellipse cx="110.1" cy="424.0" rx="1.0" ry="1.4"/><ellipse cx="105.1" cy="413.9" rx="0.9" ry="1.5"/><ellipse cx="120.3" cy="450.8" rx="0.8" ry="1.1"/><ellipse cx="120.3" cy="388.9" rx="0.8" ry="1.7"/><ellipse cx="119.1" cy="401.5" rx="0.7" ry="1.8"/><ellipse cx="117.9" cy="534.4" rx="1.0" ry="1.4"/><ellipse cx="126.7" cy="509.6" rx="0.8" ry="1.3"/><ellipse cx="98.4" cy="452.9" rx="1.0" ry="1.1"/><ellipse cx="115.4" cy="403.7" rx="0.6" ry="1.6"/><ellipse cx="104.2" cy="393.3" rx="0.7" ry="1.6"/><ellipse cx="116.0" cy="387.0" rx="0.7" ry="1.9"/><ellipse cx="103.4" cy="480.6" rx="0.8" ry="1.7"/><ellipse cx="116.6" cy="519.1" rx="0.8" ry="1.2"/><ellipse cx="102.0" cy="398.5" rx="1.0" ry="1.1"/><ellipse cx="96.7" cy="549.3" rx="0.7" ry="1.8"/><ellipse cx="98.8" cy="464.1" rx="0.7" ry="1.7"/><ellipse cx="117.0" cy="494.1" rx="0.9" ry="1.8"/><ellipse cx="107.8" cy="487.5" rx="0.8" ry="1.1"/><ellipse cx="124.6" cy="486.0" rx="1.0" ry="1.2"/><ellipse cx="114.4" cy="463.9" rx="0.9" ry="1.1"/><ellipse cx="107.8" cy="467.4" rx="0.6" ry="1.5"/><ellipse cx="121.1" cy="456.9" rx="0.9" ry="1.5"/><ellipse cx="103.2" cy="444.6" rx="1.0" ry="1.3"/><ellipse cx="110.7" cy="399.3" rx="0.7" ry="1.1"/><ellipse cx="127.8" cy="508.5" rx="1.0" ry="1.9"/><ellipse cx="116.9" cy="543.3" rx="0.8" ry="1.4"/><ellipse cx="128.4" cy="538.5" rx="1.0" ry="1.4"/><ellipse cx="122.4" cy="454.2" rx="1.0" ry="1.8"/><ellipse cx="105.9" cy="543.8" rx="0.7" ry="1.1"/><ellipse cx="120.7" cy="435.0" rx="0.8" ry="1.6"/><ellipse cx="97.3" cy="511.7" rx="0.7" ry="1.4"/><ellipse cx="107.7" cy="511.2" rx="0.9" ry="1.3"/><ellipse cx="99.4" cy="435.9" rx="0.8" ry="1.1"/><ellipse cx="101.2" cy="514.7" rx="0.9" ry="1.9"/><ellipse cx="129.5" cy="533.9" rx="0.8" ry="1.1"/><ellipse cx="106.6" cy="463.7" rx="0.8" ry="1.5"/><ellipse cx="108.2" cy="530.0" rx="0.7" ry="1.4"/><ellipse cx="126.3" cy="522.2" rx="0.7" ry="1.2"/><ellipse cx="123.6" cy="386.7" rx="0.7" ry="1.5"/><ellipse cx="114.3" cy="413.2" rx="0.6" ry="1.2"/><ellipse cx="122.3" cy="464.2" rx="1.0" ry="1.7"/><ellipse cx="129.5" cy="391.0" rx="0.7" ry="1.0"/><ellipse cx="110.7" cy="442.5" rx="0.6" ry="1.5"/><ellipse cx="99.1" cy="438.0" rx="0.7" ry="1.7"/><ellipse cx="110.2" cy="429.3" rx="0.6" ry="1.4"/><ellipse cx="117.4" cy="499.8" rx="1.0" ry="1.7"/><ellipse cx="104.4" cy="408.1" rx="0.9" ry="1.7"/><ellipse cx="113.4" cy="526.3" rx="0.8" ry="1.3"/><ellipse cx="101.7" cy="387.9" rx="0.9" ry="1.8"/><ellipse cx="127.0" cy="464.5" rx="0.9" ry="1.8"/><ellipse cx="123.8" cy="487.5" rx="0.8" ry="1.5"/><ellipse cx="101.8" cy="416.1" rx="0.9" ry="1.9"/><ellipse cx="114.7" cy="454.4" rx="0.8" ry="1.4"/><ellipse cx="123.4" cy="461.9" rx="1.0" ry="1.1"/><ellipse cx="106.7" cy="473.7" rx="0.8" ry="1.8"/><ellipse cx="124.3" cy="543.3" rx="0.9" ry="1.0"/><ellipse cx="115.6" cy="478.5" rx="0.8" ry="1.3"/><ellipse cx="120.2" cy="540.0" rx="0.6" ry="1.6"/><ellipse cx="108.6" cy="472.5" rx="1.0" ry="1.9"/><ellipse cx="118.0" cy="418.2" rx="1.0" ry="1.2"/><ellipse cx="109.0" cy="525.8" rx="0.7" ry="1.2"/><ellipse cx="128.5" cy="545.4" rx="0.7" ry="1.4"/><ellipse cx="105.6" cy="407.4" rx="0.7" ry="1.9"/><ellipse cx="98.6" cy="424.1" rx="0.7" ry="1.1"/><ellipse cx="114.0" cy="511.3" rx="1.0" ry="1.6"/><ellipse cx="124.0" cy="385.9" rx="0.7" ry="1.9"/><ellipse cx="98.3" cy="430.5" rx="0.8" ry="1.2"/><ellipse cx="114.6" cy="393.0" rx="0.7" ry="1.9"/><ellipse cx="100.8" cy="538.9" rx="0.7" ry="1.9"/><ellipse cx="119.0" cy="495.0" rx="0.7" ry="1.0"/><ellipse cx="121.9" cy="414.9" rx="0.7" ry="1.7"/><ellipse cx="125.9" cy="393.3" rx="1.0" ry="1.5"/><ellipse cx="109.0" cy="403.2" rx="0.8" ry="1.9"/><ellipse cx="105.5" cy="407.3" rx="0.7" ry="1.1"/><ellipse cx="108.0" cy="540.5" rx="0.6" ry="1.2"/><ellipse cx="128.1" cy="554.5" rx="1.0" ry="1.2"/><ellipse cx="108.1" cy="546.6" rx="0.8" ry="1.6"/><ellipse cx="106.6" cy="388.6" rx="0.8" ry="1.7"/><ellipse cx="122.7" cy="481.7" rx="0.8" ry="1.5"/><ellipse cx="111.1" cy="475.9" rx="1.0" ry="1.2"/><ellipse cx="116.3" cy="543.6" rx="1.0" ry="1.2"/><ellipse cx="128.9" cy="527.8" rx="0.7" ry="1.2"/><ellipse cx="102.8" cy="394.0" rx="1.0" ry="1.4"/><ellipse cx="125.8" cy="404.5" rx="0.6" ry="1.8"/><ellipse cx="123.1" cy="553.6" rx="0.9" ry="1.5"/><ellipse cx="122.2" cy="400.7" rx="0.8" ry="1.4"/><ellipse cx="100.9" cy="487.1" rx="0.7" ry="1.5"/><ellipse cx="108.7" cy="439.1" rx="0.8" ry="1.5"/><ellipse cx="129.5" cy="544.1" rx="1.0" ry="1.8"/><ellipse cx="105.7" cy="551.0" rx="0.7" ry="1.1"/><ellipse cx="113.1" cy="509.5" rx="0.8" ry="1.6"/><ellipse cx="105.6" cy="549.4" rx="0.8" ry="1.4"/><ellipse cx="114.1" cy="533.7" rx="1.0" ry="1.5"/><ellipse cx="111.0" cy="490.0" rx="0.6" ry="1.4"/><ellipse cx="125.0" cy="517.2" rx="0.6" ry="1.8"/><ellipse cx="109.1" cy="551.8" rx="0.8" ry="1.2"/><ellipse cx="114.7" cy="535.3" rx="0.8" ry="1.8"/><ellipse cx="120.3" cy="446.5" rx="0.7" ry="1.5"/><ellipse cx="109.6" cy="448.3" rx="0.9" ry="1.8"/><ellipse cx="115.9" cy="409.9" rx="0.7" ry="1.3"/><ellipse cx="117.0" cy="408.7" rx="0.6" ry="1.3"/><ellipse cx="105.6" cy="390.0" rx="0.8" ry="1.8"/><ellipse cx="114.2" cy="510.4" rx="1.0" ry="1.8"/><ellipse cx="127.2" cy="460.0" rx="0.9" ry="1.1"/><ellipse cx="126.1" cy="449.3" rx="0.8" ry="1.8"/><ellipse cx="105.7" cy="417.3" rx="1.0" ry="1.5"/><ellipse cx="98.8" cy="389.8" rx="0.8" ry="1.0"/><ellipse cx="124.5" cy="416.2" rx="0.7" ry="1.3"/><ellipse cx="113.5" cy="458.5" rx="0.9" ry="1.6"/><ellipse cx="110.9" cy="401.5" rx="1.0" ry="1.6"/><ellipse cx="98.8" cy="460.1" rx="0.9" ry="1.9"/><ellipse cx="98.2" cy="386.6" rx="0.8" ry="1.4"/><ellipse cx="126.6" cy="525.5" rx="0.7" ry="1.4"/><ellipse cx="115.9" cy="535.3" rx="0.7" ry="1.4"/><ellipse cx="98.9" cy="494.0" rx="0.6" ry="1.8"/><ellipse cx="113.9" cy="482.6" rx="0.6" ry="1.2"/><ellipse cx="112.0" cy="530.8" rx="0.8" ry="1.3"/><ellipse cx="129.6" cy="497.4" rx="0.8" ry="1.2"/><ellipse cx="106.1" cy="538.0" rx="0.7" ry="1.5"/><ellipse cx="117.2" cy="445.3" rx="0.9" ry="1.8"/><ellipse cx="125.3" cy="510.5" rx="0.7" ry="1.1"/><ellipse cx="110.7" cy="438.1" rx="0.7" ry="1.8"/><ellipse cx="103.3" cy="524.9" rx="1.0" ry="1.1"/><ellipse cx="127.2" cy="452.5" rx="0.7" ry="1.2"/><ellipse cx="97.2" cy="469.8" rx="0.8" ry="1.8"/><ellipse cx="124.5" cy="394.7" rx="0.8" ry="1.4"/><ellipse cx="102.0" cy="427.6" rx="0.7" ry="1.6"/><ellipse cx="107.6" cy="403.9" rx="0.7" ry="1.4"/><ellipse cx="115.3" cy="426.7" rx="0.9" ry="1.2"/><ellipse cx="118.9" cy="488.6" rx="0.7" ry="1.7"/><ellipse cx="109.4" cy="476.7" rx="0.9" ry="1.6"/><ellipse cx="111.1" cy="394.5" rx="1.0" ry="1.8"/><ellipse cx="112.7" cy="483.4" rx="0.7" ry="1.8"/><ellipse cx="119.4" cy="422.7" rx="1.0" ry="1.9"/><ellipse cx="107.8" cy="554.2" rx="0.8" ry="1.2"/><ellipse cx="120.5" cy="442.6" rx="0.9" ry="1.5"/><ellipse cx="99.6" cy="474.8" rx="1.0" ry="1.4"/><ellipse cx="114.4" cy="531.7" rx="0.8" ry="1.4"/><ellipse cx="115.9" cy="525.1" rx="0.7" ry="1.1"/><ellipse cx="122.0" cy="478.9" rx="0.7" ry="1.8"/><ellipse cx="126.2" cy="477.1" rx="1.0" ry="1.8"/><ellipse cx="121.6" cy="434.5" rx="0.6" ry="1.6"/><ellipse cx="121.1" cy="444.6" rx="0.8" ry="1.5"/><ellipse cx="104.5" cy="503.6" rx="0.9" ry="1.3"/><ellipse cx="99.7" cy="479.2" rx="0.7" ry="1.7"/><ellipse cx="101.8" cy="452.0" rx="0.7" ry="1.4"/><ellipse cx="115.7" cy="403.2" rx="0.6" ry="1.4"/><ellipse cx="102.8" cy="470.9" rx="0.7" ry="1.1"/><ellipse cx="114.3" cy="541.9" rx="1.0" ry="1.5"/><ellipse cx="109.5" cy="396.2" rx="0.7" ry="1.3"/><ellipse cx="128.2" cy="404.9" rx="1.0" ry="1.4"/><ellipse cx="110.8" cy="429.6" rx="1.0" ry="1.2"/><ellipse cx="115.5" cy="471.8" rx="0.7" ry="1.2"/><ellipse cx="129.7" cy="519.4" rx="0.9" ry="1.8"/><ellipse cx="99.3" cy="504.6" rx="0.9" ry="1.2"/><ellipse cx="111.6" cy="550.7" rx="0.7" ry="1.7"/><ellipse cx="101.6" cy="498.4" rx="0.7" ry="1.5"/><ellipse cx="108.7" cy="533.0" rx="0.9" ry="1.5"/><ellipse cx="119.5" cy="457.7" rx="1.0" ry="1.2"/><ellipse cx="114.6" cy="484.6" rx="0.8" ry="1.0"/><ellipse cx="101.7" cy="493.9" rx="0.7" ry="1.7"/><ellipse cx="113.2" cy="547.0" rx="1.0" ry="1.7"/><ellipse cx="108.7" cy="392.4" rx="0.9" ry="1.7"/><ellipse cx="127.5" cy="419.5" rx="0.7" ry="1.9"/><ellipse cx="121.3" cy="467.4" rx="0.9" ry="1.1"/><ellipse cx="114.6" cy="498.7" rx="0.9" ry="1.1"/><ellipse cx="100.6" cy="491.2" rx="1.0" ry="1.1"/><ellipse cx="96.1" cy="399.1" rx="1.0" ry="1.4"/><ellipse cx="111.5" cy="554.0" rx="0.9" ry="1.2"/><ellipse cx="119.9" cy="385.3" rx="0.7" ry="1.6"/><ellipse cx="101.8" cy="390.6" rx="0.8" ry="1.3"/><ellipse cx="129.2" cy="402.3" rx="1.0" ry="1.3"/><ellipse cx="123.5" cy="460.7" rx="0.9" ry="1.3"/><ellipse cx="103.6" cy="461.9" rx="1.0" ry="1.3"/><ellipse cx="103.8" cy="455.7" rx="0.6" ry="1.3"/><ellipse cx="115.5" cy="477.7" rx="0.9" ry="1.3"/><ellipse cx="96.8" cy="389.5" rx="0.8" ry="1.2"/><ellipse cx="115.4" cy="430.1" rx="0.9" ry="1.5"/><ellipse cx="118.6" cy="510.0" rx="0.8" ry="1.4"/><ellipse cx="106.5" cy="395.7" rx="1.0" ry="1.5"/><ellipse cx="99.3" cy="542.5" rx="0.9" ry="1.6"/><ellipse cx="110.9" cy="406.4" rx="1.0" ry="1.2"/><ellipse cx="108.5" cy="554.9" rx="0.7" ry="1.4"/><ellipse cx="112.4" cy="427.1" rx="1.0" ry="1.4"/><ellipse cx="96.3" cy="465.5" rx="0.6" ry="1.6"/><ellipse cx="125.7" cy="539.0" rx="0.6" ry="1.6"/><ellipse cx="106.4" cy="465.3" rx="0.7" ry="1.3"/><ellipse cx="100.5" cy="491.4" rx="0.6" ry="1.9"/><ellipse cx="97.4" cy="548.9" rx="0.7" ry="1.1"/><ellipse cx="121.4" cy="475.3" rx="0.9" ry="1.5"/><ellipse cx="117.5" cy="399.1" rx="0.9" ry="1.5"/><ellipse cx="128.9" cy="386.1" rx="0.6" ry="1.6"/><ellipse cx="127.7" cy="456.7" rx="0.9" ry="1.5"/><ellipse cx="109.3" cy="464.1" rx="0.9" ry="1.0"/><ellipse cx="106.4" cy="510.5" rx="0.7" ry="1.4"/><ellipse cx="104.7" cy="445.8" rx="0.9" ry="1.7"/><ellipse cx="128.7" cy="466.1" rx="0.7" ry="1.3"/><ellipse cx="97.9" cy="425.7" rx="0.9" ry="1.5"/><ellipse cx="104.2" cy="415.9" rx="0.6" ry="1.2"/><ellipse cx="113.1" cy="428.4" rx="1.0" ry="1.5"/><ellipse cx="107.6" cy="458.3" rx="0.6" ry="1.7"/><ellipse cx="121.7" cy="446.8" rx="0.9" ry="1.2"/><ellipse cx="103.4" cy="423.8" rx="0.7" ry="1.5"/><ellipse cx="117.9" cy="508.7" rx="0.6" ry="1.7"/><ellipse cx="112.3" cy="449.3" rx="0.8" ry="1.4"/><ellipse cx="102.8" cy="452.2" rx="0.9" ry="1.6"/><ellipse cx="127.3" cy="418.0" rx="1.0" ry="1.7"/><ellipse cx="120.4" cy="551.5" rx="0.7" ry="1.7"/><ellipse cx="126.7" cy="405.7" rx="0.9" ry="1.9"/><ellipse cx="106.0" cy="530.4" rx="1.0" ry="1.4"/><ellipse cx="100.9" cy="421.6" rx="1.0" ry="1.4"/><ellipse cx="106.7" cy="460.3" rx="1.0" ry="1.2"/><ellipse cx="96.5" cy="546.4" rx="0.7" ry="1.3"/><ellipse cx="129.4" cy="432.9" rx="0.6" ry="1.8"/><ellipse cx="104.3" cy="422.7" rx="1.0" ry="1.2"/><ellipse cx="126.8" cy="441.6" rx="0.7" ry="1.2"/><ellipse cx="114.5" cy="480.2" rx="0.8" ry="1.5"/><ellipse cx="106.1" cy="527.4" rx="1.0" ry="1.7"/><ellipse cx="124.0" cy="397.0" rx="0.7" ry="1.2"/><ellipse cx="101.2" cy="549.6" rx="1.0" ry="1.8"/><ellipse cx="115.0" cy="404.8" rx="0.8" ry="1.1"/><ellipse cx="126.9" cy="430.1" rx="0.7" ry="1.9"/><ellipse cx="102.8" cy="541.8" rx="0.7" ry="1.6"/><ellipse cx="99.6" cy="537.7" rx="0.8" ry="1.3"/><ellipse cx="118.3" cy="485.9" rx="0.7" ry="1.1"/><ellipse cx="115.6" cy="389.2" rx="1.0" ry="1.3"/><ellipse cx="101.7" cy="440.7" rx="0.7" ry="1.3"/><ellipse cx="114.5" cy="454.2" rx="0.8" ry="1.3"/><ellipse cx="112.6" cy="517.4" rx="0.8" ry="1.7"/><ellipse cx="112.5" cy="405.5" rx="0.7" ry="1.8"/><ellipse cx="112.3" cy="450.0" rx="0.8" ry="1.8"/><ellipse cx="108.8" cy="446.5" rx="0.8" ry="1.0"/><ellipse cx="114.6" cy="466.5" rx="0.8" ry="1.4"/><ellipse cx="112.1" cy="506.6" rx="0.7" ry="1.9"/><ellipse cx="99.8" cy="532.3" rx="0.7" ry="1.7"/><ellipse cx="104.8" cy="398.3" rx="0.8" ry="1.8"/><ellipse cx="124.9" cy="534.1" rx="1.0" ry="1.0"/><ellipse cx="108.9" cy="403.2" rx="0.9" ry="1.4"/><ellipse cx="121.4" cy="520.3" rx="1.0" ry="1.6"/><ellipse cx="125.9" cy="478.2" rx="0.6" ry="1.8"/><ellipse cx="99.0" cy="399.6" rx="1.0" ry="1.3"/><ellipse cx="118.6" cy="389.9" rx="0.7" ry="1.6"/><ellipse cx="97.2" cy="471.8" rx="1.0" ry="1.2"/><ellipse cx="120.1" cy="511.5" rx="0.9" ry="1.7"/><ellipse cx="119.8" cy="387.4" rx="0.7" ry="1.5"/><ellipse cx="129.2" cy="421.9" rx="0.9" ry="1.1"/><ellipse cx="124.9" cy="460.7" rx="0.8" ry="1.6"/><ellipse cx="100.6" cy="508.9" rx="1.0" ry="1.8"/><ellipse cx="105.6" cy="424.8" rx="0.7" ry="1.8"/><ellipse cx="110.9" cy="451.3" rx="0.8" ry="1.6"/><ellipse cx="106.8" cy="442.2" rx="0.9" ry="1.7"/><ellipse cx="106.1" cy="397.5" rx="1.0" ry="1.7"/><ellipse cx="116.3" cy="453.8" rx="1.0" ry="1.4"/><ellipse cx="103.3" cy="402.1" rx="0.8" ry="1.5"/><ellipse cx="108.4" cy="546.0" rx="0.9" ry="1.4"/><ellipse cx="118.5" cy="487.3" rx="0.9" ry="1.4"/><ellipse cx="113.8" cy="468.5" rx="1.0" ry="1.2"/><ellipse cx="122.8" cy="435.7" rx="1.0" ry="1.1"/><ellipse cx="112.5" cy="460.3" rx="0.9" ry="1.2"/><ellipse cx="104.9" cy="407.6" rx="0.9" ry="1.5"/><ellipse cx="95.9" cy="415.2" rx="0.7" ry="1.9"/><ellipse cx="111.5" cy="481.1" rx="0.7" ry="1.6"/><ellipse cx="123.8" cy="499.1" rx="0.6" ry="1.4"/><ellipse cx="112.7" cy="392.6" rx="1.0" ry="1.3"/><ellipse cx="106.0" cy="491.3" rx="0.9" ry="1.4"/><ellipse cx="125.4" cy="473.2" rx="0.8" ry="1.1"/><ellipse cx="114.9" cy="446.8" rx="0.8" ry="1.3"/><ellipse cx="96.1" cy="391.4" rx="0.7" ry="1.1"/><ellipse cx="125.1" cy="483.7" rx="0.7" ry="1.6"/><ellipse cx="117.7" cy="395.5" rx="0.9" ry="1.2"/><ellipse cx="130.1" cy="409.1" rx="0.7" ry="1.2"/><ellipse cx="125.5" cy="524.2" rx="0.9" ry="1.1"/><ellipse cx="110.6" cy="504.3" rx="0.6" ry="1.8"/><ellipse cx="124.8" cy="543.4" rx="0.9" ry="1.6"/><ellipse cx="129.3" cy="430.4" rx="0.7" ry="1.1"/><ellipse cx="102.1" cy="520.7" rx="0.6" ry="1.7"/><ellipse cx="109.5" cy="534.2" rx="0.9" ry="1.6"/><ellipse cx="124.9" cy="392.2" rx="0.7" ry="1.3"/><ellipse cx="110.6" cy="499.0" rx="1.0" ry="1.7"/><ellipse cx="127.8" cy="503.3" rx="0.8" ry="1.5"/><ellipse cx="121.6" cy="523.5" rx="0.8" ry="1.3"/><ellipse cx="117.0" cy="423.8" rx="1.0" ry="1.0"/><ellipse cx="118.2" cy="467.6" rx="0.7" ry="1.5"/><ellipse cx="112.2" cy="548.6" rx="1.0" ry="1.5"/><ellipse cx="125.8" cy="535.2" rx="0.7" ry="1.7"/><ellipse cx="124.5" cy="553.4" rx="0.9" ry="1.4"/><ellipse cx="103.0" cy="496.0" rx="0.7" ry="1.7"/><ellipse cx="115.6" cy="525.4" rx="0.8" ry="1.3"/><ellipse cx="126.9" cy="497.6" rx="0.8" ry="1.5"/><ellipse cx="110.8" cy="494.3" rx="0.8" ry="1.3"/><ellipse cx="129.5" cy="535.5" rx="0.9" ry="1.3"/><ellipse cx="102.6" cy="509.3" rx="1.0" ry="1.6"/><ellipse cx="103.2" cy="507.5" rx="0.8" ry="1.3"/><ellipse cx="116.1" cy="461.3" rx="0.9" ry="1.7"/><ellipse cx="129.6" cy="403.9" rx="0.9" ry="1.9"/><ellipse cx="118.4" cy="483.5" rx="1.0" ry="1.0"/><ellipse cx="123.1" cy="490.9" rx="0.9" ry="1.3"/></g>
<rect x="95.9" y="385" width="34.29999999999998" height="170" fill="none" stroke="#6e7a50" stroke-width="1.2" opacity="0.35"/>
</g>
<g clip-path="url(#lf4)">
<rect x="136" y="385" width="34.599999999999994" height="170" fill="#c6c086"/>
<ellipse cx="144.2" cy="402.5" rx="3.2" ry="4.9" fill="#90a070" opacity="0.35" filter="url(#b15)"/>
<ellipse cx="138.3" cy="453.3" rx="4.8" ry="8.8" fill="#90a070" opacity="0.35" filter="url(#b15)"/>
<ellipse cx="162.5" cy="422.7" rx="3.6" ry="5.7" fill="#90a070" opacity="0.35" filter="url(#b15)"/>
<ellipse cx="142.0" cy="403.1" rx="2.6" ry="9.6" fill="#90a070" opacity="0.35" filter="url(#b15)"/>
<ellipse cx="164.7" cy="522.1" rx="4.4" ry="5.2" fill="#90a070" opacity="0.35" filter="url(#b15)"/>
<ellipse cx="146.7" cy="491.6" rx="4.2" ry="9.1" fill="#90a070" opacity="0.35" filter="url(#b15)"/>
<ellipse cx="166.4" cy="399.7" rx="3.8" ry="8.0" fill="#90a070" opacity="0.35" filter="url(#b15)"/>
<ellipse cx="153.5" cy="415.2" rx="3.4" ry="4.5" fill="#90a070" opacity="0.35" filter="url(#b15)"/>
<ellipse cx="168.3" cy="532.1" rx="3.6" ry="5.8" fill="#90a070" opacity="0.35" filter="url(#b15)"/>
<ellipse cx="167.4" cy="482.3" rx="4.6" ry="9.1" fill="#90a070" opacity="0.35" filter="url(#b15)"/>
<ellipse cx="153.6" cy="455.4" rx="6.0" ry="13.2" fill="#a0ac78" opacity="0.5" filter="url(#b3)"/>
<ellipse cx="141.6" cy="436.9" rx="7.1" ry="8.5" fill="#a0ac78" opacity="0.5" filter="url(#b3)"/>
<ellipse cx="137.6" cy="491.5" rx="4.4" ry="14.4" fill="#a0ac78" opacity="0.5" filter="url(#b3)"/>
<ellipse cx="152.3" cy="443.3" rx="8.0" ry="10.3" fill="#a0ac78" opacity="0.5" filter="url(#b3)"/>
<ellipse cx="150.3" cy="419.5" rx="6.2" ry="11.3" fill="#a0ac78" opacity="0.5" filter="url(#b3)"/>
<ellipse cx="148.3" cy="512.0" rx="4.6" ry="14.7" fill="#a0ac78" opacity="0.5" filter="url(#b3)"/>
<ellipse cx="167.3" cy="402.2" rx="3.3" ry="10.7" fill="#a0ac78" opacity="0.5" filter="url(#b3)"/>
<ellipse cx="162.5" cy="489.6" rx="4.2" ry="12.0" fill="#a0ac78" opacity="0.5" filter="url(#b3)"/>
<ellipse cx="142.1" cy="463.0" rx="3.2" ry="16.4" fill="#a0ac78" opacity="0.5" filter="url(#b3)"/>
<ellipse cx="167.0" cy="547.3" rx="6.7" ry="19.5" fill="#a0ac78" opacity="0.5" filter="url(#b3)"/>
<g filter="url(#b05)"><rect x="136.0" y="385" width="1.4" height="170" fill="#a8b884" opacity="0.39"/><rect x="138.2" y="385" width="1.1" height="170" fill="#e0d8a0" opacity="0.40"/><rect x="140.2" y="385" width="1.0" height="170" fill="#a8b884" opacity="0.23"/><rect x="142.4" y="385" width="0.9" height="170" fill="#e0d8a0" opacity="0.20"/><rect x="144.0" y="385" width="1.2" height="170" fill="#a8b884" opacity="0.29"/><rect x="146.0" y="385" width="1.4" height="170" fill="#a8b884" opacity="0.31"/><rect x="147.9" y="385" width="0.7" height="170" fill="#a8b884" opacity="0.24"/><rect x="150.5" y="385" width="0.7" height="170" fill="#a8b884" opacity="0.32"/><rect x="152.4" y="385" width="0.8" height="170" fill="#e0d8a0" opacity="0.33"/><rect x="155.1" y="385" width="1.4" height="170" fill="#a8b884" opacity="0.32"/><rect x="157.0" y="385" width="0.7" height="170" fill="#a8b884" opacity="0.31"/><rect x="159.0" y="385" width="1.3" height="170" fill="#e0d8a0" opacity="0.32"/><rect x="160.6" y="385" width="0.9" height="170" fill="#a8b884" opacity="0.25"/><rect x="162.6" y="385" width="0.8" height="170" fill="#e0d8a0" opacity="0.21"/><rect x="165.5" y="385" width="1.4" height="170" fill="#e0d8a0" opacity="0.30"/><rect x="168.3" y="385" width="1.3" height="170" fill="#e0d8a0" opacity="0.39"/></g>
<g fill="#8a8a58"><rect x="136.2" y="385" width="0.6" height="170" opacity="0.20"/><rect x="139.4" y="385" width="0.6" height="170" opacity="0.37"/><rect x="142.7" y="385" width="0.6" height="170" opacity="0.23"/><rect x="145.5" y="385" width="0.6" height="170" opacity="0.35"/><rect x="148.3" y="385" width="0.6" height="170" opacity="0.35"/><rect x="151.0" y="385" width="0.6" height="170" opacity="0.31"/><rect x="153.9" y="385" width="0.6" height="170" opacity="0.22"/><rect x="157.2" y="385" width="0.6" height="170" opacity="0.39"/><rect x="159.1" y="385" width="0.6" height="170" opacity="0.39"/><rect x="162.4" y="385" width="0.6" height="170" opacity="0.32"/><rect x="164.3" y="385" width="0.6" height="170" opacity="0.37"/><rect x="166.3" y="385" width="0.6" height="170" opacity="0.39"/><rect x="169.2" y="385" width="0.6" height="170" opacity="0.17"/></g>
<g fill="#8c9a68" opacity="0.5" filter="url(#b05)"><ellipse cx="158.0" cy="481.8" rx="0.9" ry="1.8"/><ellipse cx="143.6" cy="385.6" rx="1.0" ry="1.0"/><ellipse cx="166.3" cy="404.7" rx="1.0" ry="1.7"/><ellipse cx="166.4" cy="478.6" rx="1.0" ry="1.2"/><ellipse cx="159.2" cy="441.2" rx="1.0" ry="1.7"/><ellipse cx="152.3" cy="474.5" rx="0.6" ry="1.0"/><ellipse cx="156.6" cy="468.1" rx="1.0" ry="1.5"/><ellipse cx="140.8" cy="446.6" rx="0.9" ry="1.5"/><ellipse cx="136.4" cy="527.4" rx="1.0" ry="1.1"/><ellipse cx="154.8" cy="449.8" rx="1.0" ry="1.3"/><ellipse cx="144.1" cy="467.7" rx="1.0" ry="1.1"/><ellipse cx="140.0" cy="490.6" rx="1.0" ry="1.5"/><ellipse cx="151.0" cy="530.8" rx="0.9" ry="1.1"/><ellipse cx="166.5" cy="418.3" rx="0.7" ry="1.8"/><ellipse cx="150.6" cy="520.7" rx="0.7" ry="1.8"/><ellipse cx="142.1" cy="410.4" rx="0.8" ry="1.3"/><ellipse cx="154.7" cy="538.7" rx="0.9" ry="1.0"/><ellipse cx="146.8" cy="477.6" rx="0.8" ry="1.6"/><ellipse cx="152.8" cy="397.9" rx="0.7" ry="1.8"/><ellipse cx="148.3" cy="515.3" rx="1.0" ry="1.6"/><ellipse cx="159.4" cy="488.6" rx="0.7" ry="1.8"/><ellipse cx="152.2" cy="539.9" rx="0.7" ry="1.8"/><ellipse cx="163.2" cy="489.2" rx="0.8" ry="1.1"/><ellipse cx="162.7" cy="446.6" rx="0.9" ry="1.1"/><ellipse cx="138.9" cy="409.5" rx="1.0" ry="1.2"/><ellipse cx="167.2" cy="448.2" rx="0.9" ry="1.3"/><ellipse cx="157.5" cy="400.9" rx="0.8" ry="1.8"/><ellipse cx="142.2" cy="496.2" rx="0.7" ry="1.3"/><ellipse cx="136.8" cy="388.4" rx="1.0" ry="1.7"/><ellipse cx="163.7" cy="522.2" rx="1.0" ry="1.1"/><ellipse cx="156.2" cy="469.2" rx="0.9" ry="1.8"/><ellipse cx="162.3" cy="549.6" rx="0.7" ry="1.6"/><ellipse cx="159.4" cy="511.7" rx="0.9" ry="1.7"/><ellipse cx="146.5" cy="542.7" rx="0.8" ry="1.5"/><ellipse cx="167.0" cy="504.6" rx="0.7" ry="1.2"/><ellipse cx="147.3" cy="491.6" rx="1.0" ry="1.8"/><ellipse cx="149.8" cy="453.1" rx="1.0" ry="1.3"/><ellipse cx="150.2" cy="387.2" rx="0.7" ry="1.5"/><ellipse cx="160.0" cy="489.5" rx="0.8" ry="1.9"/><ellipse cx="157.6" cy="411.5" rx="0.6" ry="1.9"/><ellipse cx="170.2" cy="541.4" rx="0.9" ry="1.3"/><ellipse cx="139.2" cy="428.8" rx="0.7" ry="1.8"/><ellipse cx="166.9" cy="517.2" rx="0.7" ry="1.2"/><ellipse cx="146.4" cy="546.1" rx="0.7" ry="1.7"/><ellipse cx="159.6" cy="478.0" rx="1.0" ry="1.2"/><ellipse cx="154.1" cy="411.8" rx="0.6" ry="1.0"/><ellipse cx="147.0" cy="405.7" rx="0.6" ry="1.9"/><ellipse cx="146.0" cy="536.3" rx="0.9" ry="1.7"/><ellipse cx="158.7" cy="546.9" rx="1.0" ry="1.6"/><ellipse cx="155.4" cy="502.9" rx="0.9" ry="1.5"/><ellipse cx="153.4" cy="411.2" rx="1.0" ry="1.4"/><ellipse cx="138.3" cy="413.6" rx="1.0" ry="1.2"/><ellipse cx="149.5" cy="501.0" rx="1.0" ry="1.3"/><ellipse cx="149.4" cy="456.9" rx="0.6" ry="1.8"/><ellipse cx="136.7" cy="548.2" rx="0.7" ry="1.1"/><ellipse cx="165.4" cy="525.0" rx="0.7" ry="1.5"/><ellipse cx="152.5" cy="507.2" rx="0.7" ry="1.7"/><ellipse cx="170.5" cy="505.1" rx="1.0" ry="1.8"/><ellipse cx="149.1" cy="529.1" rx="1.0" ry="1.5"/><ellipse cx="139.7" cy="490.3" rx="1.0" ry="1.3"/><ellipse cx="158.4" cy="537.5" rx="0.9" ry="1.0"/><ellipse cx="157.9" cy="428.5" rx="1.0" ry="1.6"/><ellipse cx="146.6" cy="537.3" rx="0.9" ry="1.3"/><ellipse cx="164.9" cy="536.6" rx="1.0" ry="1.8"/><ellipse cx="158.8" cy="503.8" rx="0.9" ry="1.5"/><ellipse cx="170.2" cy="445.0" rx="0.6" ry="1.6"/><ellipse cx="153.2" cy="477.8" rx="0.9" ry="1.2"/><ellipse cx="142.9" cy="397.1" rx="1.0" ry="1.8"/><ellipse cx="160.1" cy="404.9" rx="1.0" ry="1.7"/><ellipse cx="153.6" cy="385.2" rx="1.0" ry="1.6"/><ellipse cx="157.5" cy="388.1" rx="0.9" ry="1.0"/><ellipse cx="152.5" cy="409.6" rx="0.8" ry="1.8"/><ellipse cx="161.9" cy="523.7" rx="0.7" ry="1.3"/><ellipse cx="156.9" cy="390.8" rx="0.8" ry="1.9"/><ellipse cx="162.1" cy="531.7" rx="0.7" ry="1.6"/><ellipse cx="163.3" cy="504.8" rx="0.8" ry="1.2"/><ellipse cx="136.6" cy="535.8" rx="1.0" ry="1.2"/><ellipse cx="162.2" cy="454.2" rx="0.9" ry="1.8"/><ellipse cx="147.1" cy="490.4" rx="0.7" ry="1.5"/><ellipse cx="137.0" cy="429.8" rx="0.7" ry="1.8"/><ellipse cx="140.6" cy="513.9" rx="0.6" ry="1.9"/><ellipse cx="141.7" cy="400.7" rx="0.7" ry="1.8"/><ellipse cx="159.1" cy="536.4" rx="0.8" ry="1.1"/><ellipse cx="147.8" cy="462.5" rx="1.0" ry="1.1"/><ellipse cx="144.4" cy="528.4" rx="0.7" ry="1.9"/><ellipse cx="146.3" cy="481.4" rx="0.9" ry="1.8"/><ellipse cx="138.6" cy="529.0" rx="0.7" ry="1.6"/><ellipse cx="136.9" cy="515.3" rx="0.7" ry="1.2"/><ellipse cx="137.2" cy="440.2" rx="0.7" ry="1.9"/><ellipse cx="157.0" cy="446.9" rx="1.0" ry="1.2"/><ellipse cx="143.4" cy="547.5" rx="1.0" ry="1.6"/><ellipse cx="169.9" cy="394.8" rx="1.0" ry="1.6"/><ellipse cx="159.1" cy="528.3" rx="0.6" ry="1.2"/><ellipse cx="140.8" cy="466.4" rx="0.8" ry="1.5"/><ellipse cx="148.5" cy="511.4" rx="1.0" ry="1.7"/><ellipse cx="137.3" cy="411.0" rx="0.7" ry="1.2"/><ellipse cx="155.9" cy="418.1" rx="0.9" ry="1.3"/><ellipse cx="148.6" cy="505.4" rx="1.0" ry="1.2"/><ellipse cx="148.0" cy="551.9" rx="0.7" ry="1.0"/><ellipse cx="142.6" cy="525.3" rx="0.9" ry="1.8"/><ellipse cx="153.2" cy="392.0" rx="0.7" ry="1.6"/><ellipse cx="149.6" cy="408.7" rx="0.8" ry="1.4"/><ellipse cx="148.3" cy="460.9" rx="0.7" ry="1.0"/><ellipse cx="163.1" cy="509.5" rx="0.8" ry="1.1"/><ellipse cx="146.2" cy="479.9" rx="1.0" ry="1.4"/><ellipse cx="169.7" cy="474.6" rx="0.7" ry="1.6"/><ellipse cx="156.8" cy="486.9" rx="0.9" ry="1.0"/><ellipse cx="151.1" cy="521.1" rx="0.7" ry="1.0"/><ellipse cx="142.3" cy="433.5" rx="0.8" ry="1.3"/><ellipse cx="158.0" cy="413.9" rx="0.8" ry="1.6"/></g>
<rect x="136" y="385" width="34.599999999999994" height="170" fill="none" stroke="#6e7a50" stroke-width="1.2" opacity="0.35"/>
</g>
<g clip-path="url(#lf5)">
<rect x="177.9" y="385" width="34.0" height="170" fill="#c6bc94"/>
<ellipse cx="199.1" cy="511.1" rx="4.4" ry="9.7" fill="#849870" opacity="0.4" filter="url(#b15)"/>
<ellipse cx="203.1" cy="541.8" rx="2.1" ry="6.8" fill="#849870" opacity="0.4" filter="url(#b15)"/>
<ellipse cx="210.0" cy="495.3" rx="4.7" ry="4.7" fill="#849870" opacity="0.4" filter="url(#b15)"/>
<ellipse cx="193.8" cy="426.9" rx="3.6" ry="7.4" fill="#849870" opacity="0.4" filter="url(#b15)"/>
<ellipse cx="178.3" cy="421.8" rx="2.8" ry="9.5" fill="#849870" opacity="0.4" filter="url(#b15)"/>
<ellipse cx="203.9" cy="412.1" rx="4.4" ry="4.8" fill="#849870" opacity="0.4" filter="url(#b15)"/>
<ellipse cx="198.9" cy="406.5" rx="2.0" ry="9.2" fill="#849870" opacity="0.4" filter="url(#b15)"/>
<ellipse cx="185.0" cy="421.6" rx="4.9" ry="9.2" fill="#849870" opacity="0.4" filter="url(#b15)"/>
<ellipse cx="187.7" cy="548.5" rx="3.6" ry="8.1" fill="#849870" opacity="0.4" filter="url(#b15)"/>
<ellipse cx="184.9" cy="545.0" rx="4.1" ry="9.8" fill="#849870" opacity="0.4" filter="url(#b15)"/>
<ellipse cx="208.3" cy="435.8" rx="3.1" ry="5.0" fill="#849870" opacity="0.4" filter="url(#b15)"/>
<ellipse cx="182.9" cy="396.1" rx="2.9" ry="7.6" fill="#849870" opacity="0.4" filter="url(#b15)"/>
<ellipse cx="178.0" cy="500.2" rx="3.0" ry="5.9" fill="#849870" opacity="0.4" filter="url(#b15)"/>
<ellipse cx="205.7" cy="466.7" rx="2.9" ry="6.9" fill="#849870" opacity="0.4" filter="url(#b15)"/>
<ellipse cx="201.9" cy="394.7" rx="7.9" ry="8.3" fill="#a0aa84" opacity="0.5" filter="url(#b3)"/>
<ellipse cx="203.4" cy="528.6" rx="3.1" ry="17.5" fill="#a0aa84" opacity="0.5" filter="url(#b3)"/>
<ellipse cx="190.4" cy="483.3" rx="3.0" ry="8.6" fill="#a0aa84" opacity="0.5" filter="url(#b3)"/>
<ellipse cx="184.1" cy="547.4" rx="4.0" ry="17.1" fill="#a0aa84" opacity="0.5" filter="url(#b3)"/>
<ellipse cx="209.5" cy="545.1" rx="4.7" ry="12.3" fill="#a0aa84" opacity="0.5" filter="url(#b3)"/>
<ellipse cx="195.7" cy="516.9" rx="3.5" ry="17.0" fill="#a0aa84" opacity="0.5" filter="url(#b3)"/>
<ellipse cx="205.0" cy="531.1" rx="3.2" ry="19.3" fill="#a0aa84" opacity="0.5" filter="url(#b3)"/>
<ellipse cx="181.0" cy="442.9" rx="6.1" ry="19.0" fill="#a0aa84" opacity="0.5" filter="url(#b3)"/>
<g filter="url(#b05)"><rect x="178.6" y="385" width="1.1" height="170" fill="#e0d8b4" opacity="0.28"/><rect x="180.6" y="385" width="0.8" height="170" fill="#a8b490" opacity="0.24"/><rect x="183.2" y="385" width="0.8" height="170" fill="#e0d8b4" opacity="0.21"/><rect x="186.2" y="385" width="1.0" height="170" fill="#e0d8b4" opacity="0.26"/><rect x="188.6" y="385" width="1.0" height="170" fill="#e0d8b4" opacity="0.31"/><rect x="190.3" y="385" width="0.7" height="170" fill="#e0d8b4" opacity="0.32"/><rect x="193.1" y="385" width="1.2" height="170" fill="#a8b490" opacity="0.44"/><rect x="195.5" y="385" width="0.8" height="170" fill="#e0d8b4" opacity="0.31"/><rect x="197.3" y="385" width="0.9" height="170" fill="#e0d8b4" opacity="0.31"/><rect x="200.3" y="385" width="1.4" height="170" fill="#e0d8b4" opacity="0.31"/><rect x="202.6" y="385" width="1.0" height="170" fill="#e0d8b4" opacity="0.27"/><rect x="204.8" y="385" width="1.0" height="170" fill="#a8b490" opacity="0.45"/><rect x="207.7" y="385" width="1.0" height="170" fill="#e0d8b4" opacity="0.28"/><rect x="209.5" y="385" width="1.2" height="170" fill="#a8b490" opacity="0.42"/><rect x="211.6" y="385" width="1.2" height="170" fill="#e0d8b4" opacity="0.37"/></g>
<g fill="#7a7458"><rect x="179.4" y="385" width="0.6" height="170" opacity="0.24"/><rect x="182.3" y="385" width="0.6" height="170" opacity="0.22"/><rect x="184.9" y="385" width="0.6" height="170" opacity="0.34"/><rect x="187.8" y="385" width="0.6" height="170" opacity="0.22"/><rect x="191.1" y="385" width="0.6" height="170" opacity="0.31"/><rect x="193.9" y="385" width="0.6" height="170" opacity="0.15"/><rect x="196.5" y="385" width="0.6" height="170" opacity="0.21"/><rect x="199.4" y="385" width="0.6" height="170" opacity="0.27"/><rect x="202.5" y="385" width="0.6" height="170" opacity="0.31"/><rect x="205.6" y="385" width="0.6" height="170" opacity="0.24"/><rect x="208.4" y="385" width="0.6" height="170" opacity="0.33"/><rect x="211.6" y="385" width="0.6" height="170" opacity="0.24"/></g>
<g fill="#7e8e68" opacity="0.55" filter="url(#b05)"><ellipse cx="207.5" cy="502.0" rx="1.0" ry="1.9"/><ellipse cx="195.5" cy="475.0" rx="0.7" ry="1.8"/><ellipse cx="209.8" cy="466.1" rx="0.9" ry="1.6"/><ellipse cx="202.7" cy="414.2" rx="1.0" ry="1.5"/><ellipse cx="200.5" cy="456.5" rx="0.9" ry="1.7"/><ellipse cx="199.6" cy="507.5" rx="0.6" ry="1.1"/><ellipse cx="192.9" cy="495.5" rx="0.7" ry="1.6"/><ellipse cx="199.3" cy="392.1" rx="0.8" ry="1.2"/><ellipse cx="179.7" cy="407.7" rx="0.7" ry="1.2"/><ellipse cx="184.5" cy="391.1" rx="0.8" ry="1.3"/><ellipse cx="198.7" cy="485.3" rx="0.7" ry="1.8"/><ellipse cx="177.9" cy="453.9" rx="0.7" ry="1.4"/><ellipse cx="181.8" cy="526.3" rx="0.8" ry="1.0"/><ellipse cx="198.8" cy="401.1" rx="0.8" ry="1.3"/><ellipse cx="197.7" cy="547.9" rx="1.0" ry="1.4"/><ellipse cx="205.5" cy="494.2" rx="0.8" ry="1.1"/><ellipse cx="198.2" cy="480.9" rx="1.0" ry="1.9"/><ellipse cx="198.6" cy="444.7" rx="1.0" ry="1.0"/><ellipse cx="181.6" cy="481.2" rx="0.9" ry="1.1"/><ellipse cx="199.3" cy="536.5" rx="0.8" ry="1.4"/><ellipse cx="185.6" cy="434.6" rx="1.0" ry="1.3"/><ellipse cx="210.6" cy="540.3" rx="0.9" ry="1.2"/><ellipse cx="211.3" cy="469.4" rx="0.8" ry="1.3"/><ellipse cx="211.4" cy="468.6" rx="0.7" ry="1.4"/><ellipse cx="182.0" cy="490.7" rx="0.8" ry="1.3"/><ellipse cx="204.5" cy="525.6" rx="0.6" ry="1.5"/><ellipse cx="187.2" cy="544.0" rx="1.0" ry="1.2"/><ellipse cx="187.0" cy="411.3" rx="1.0" ry="1.3"/><ellipse cx="198.6" cy="465.7" rx="0.9" ry="1.5"/><ellipse cx="203.2" cy="405.1" rx="0.9" ry="1.3"/><ellipse cx="196.0" cy="442.1" rx="0.7" ry="1.5"/><ellipse cx="193.7" cy="446.4" rx="0.9" ry="1.5"/><ellipse cx="179.1" cy="427.9" rx="0.8" ry="1.8"/><ellipse cx="208.1" cy="477.8" rx="0.6" ry="1.7"/><ellipse cx="192.4" cy="482.9" rx="0.9" ry="1.6"/><ellipse cx="194.3" cy="540.0" rx="0.8" ry="1.4"/><ellipse cx="206.9" cy="418.4" rx="0.7" ry="1.7"/><ellipse cx="180.1" cy="527.2" rx="0.9" ry="1.4"/><ellipse cx="187.6" cy="517.7" rx="1.0" ry="1.1"/><ellipse cx="194.2" cy="478.3" rx="0.8" ry="1.3"/><ellipse cx="183.1" cy="484.6" rx="1.0" ry="1.1"/><ellipse cx="185.7" cy="524.3" rx="1.0" ry="1.6"/><ellipse cx="178.8" cy="507.8" rx="1.0" ry="1.9"/><ellipse cx="201.7" cy="393.3" rx="1.0" ry="1.2"/><ellipse cx="199.9" cy="546.9" rx="0.9" ry="1.1"/><ellipse cx="187.8" cy="541.1" rx="0.7" ry="1.5"/><ellipse cx="192.0" cy="412.4" rx="0.9" ry="1.0"/><ellipse cx="181.6" cy="449.5" rx="0.6" ry="1.1"/><ellipse cx="197.5" cy="511.2" rx="1.0" ry="1.1"/><ellipse cx="192.6" cy="438.5" rx="0.9" ry="1.4"/><ellipse cx="209.8" cy="448.6" rx="0.6" ry="1.6"/><ellipse cx="183.0" cy="492.3" rx="0.8" ry="1.8"/><ellipse cx="196.8" cy="490.5" rx="0.7" ry="1.5"/><ellipse cx="186.5" cy="512.6" rx="0.8" ry="1.1"/><ellipse cx="185.9" cy="448.1" rx="0.9" ry="1.2"/><ellipse cx="202.2" cy="496.4" rx="0.6" ry="1.6"/><ellipse cx="181.0" cy="406.2" rx="0.9" ry="1.2"/><ellipse cx="207.7" cy="466.7" rx="0.7" ry="1.7"/><ellipse cx="178.9" cy="508.3" rx="0.6" ry="1.1"/><ellipse cx="210.3" cy="500.8" rx="0.7" ry="1.1"/><ellipse cx="211.0" cy="498.1" rx="1.0" ry="1.1"/><ellipse cx="199.1" cy="445.2" rx="0.7" ry="1.3"/><ellipse cx="198.8" cy="444.3" rx="0.8" ry="1.1"/><ellipse cx="206.2" cy="495.1" rx="1.0" ry="1.4"/><ellipse cx="206.9" cy="473.0" rx="0.9" ry="1.5"/><ellipse cx="203.1" cy="452.2" rx="0.6" ry="1.0"/><ellipse cx="184.8" cy="391.7" rx="1.0" ry="1.4"/><ellipse cx="203.8" cy="385.1" rx="0.8" ry="1.8"/><ellipse cx="199.0" cy="457.9" rx="0.8" ry="1.1"/><ellipse cx="183.2" cy="412.0" rx="0.8" ry="1.3"/><ellipse cx="207.8" cy="410.9" rx="0.7" ry="1.2"/><ellipse cx="183.4" cy="433.8" rx="0.7" ry="1.4"/><ellipse cx="179.0" cy="542.2" rx="0.8" ry="1.8"/><ellipse cx="201.3" cy="499.5" rx="0.8" ry="1.9"/><ellipse cx="181.9" cy="498.7" rx="0.7" ry="1.6"/><ellipse cx="202.7" cy="412.7" rx="0.7" ry="1.0"/><ellipse cx="185.7" cy="398.3" rx="0.8" ry="1.9"/><ellipse cx="190.3" cy="438.0" rx="0.8" ry="1.3"/><ellipse cx="202.8" cy="507.0" rx="0.7" ry="1.2"/><ellipse cx="200.8" cy="544.9" rx="0.9" ry="1.4"/><ellipse cx="211.1" cy="386.1" rx="0.6" ry="1.7"/><ellipse cx="191.8" cy="392.6" rx="0.8" ry="1.9"/><ellipse cx="195.5" cy="444.5" rx="0.6" ry="1.1"/><ellipse cx="208.5" cy="468.5" rx="1.0" ry="1.0"/><ellipse cx="186.2" cy="393.6" rx="0.8" ry="1.1"/><ellipse cx="186.6" cy="454.3" rx="0.7" ry="1.0"/><ellipse cx="179.2" cy="550.2" rx="0.7" ry="1.5"/><ellipse cx="191.6" cy="475.3" rx="0.6" ry="1.3"/><ellipse cx="181.6" cy="477.1" rx="1.0" ry="1.5"/><ellipse cx="207.0" cy="421.4" rx="0.6" ry="1.5"/><ellipse cx="194.4" cy="482.1" rx="0.8" ry="1.6"/><ellipse cx="202.6" cy="540.2" rx="0.7" ry="1.4"/><ellipse cx="206.0" cy="423.1" rx="0.7" ry="1.3"/><ellipse cx="180.9" cy="516.3" rx="1.0" ry="1.3"/><ellipse cx="182.3" cy="398.9" rx="0.7" ry="1.1"/><ellipse cx="192.5" cy="483.1" rx="0.7" ry="1.1"/><ellipse cx="201.7" cy="393.2" rx="0.7" ry="1.3"/><ellipse cx="190.6" cy="401.8" rx="0.8" ry="1.3"/><ellipse cx="203.5" cy="479.5" rx="1.0" ry="1.6"/><ellipse cx="203.7" cy="482.7" rx="0.8" ry="1.7"/><ellipse cx="200.2" cy="547.3" rx="0.9" ry="1.6"/><ellipse cx="187.0" cy="523.1" rx="0.8" ry="1.1"/><ellipse cx="180.1" cy="413.8" rx="0.7" ry="1.6"/><ellipse cx="187.6" cy="395.8" rx="0.9" ry="1.5"/><ellipse cx="178.8" cy="393.6" rx="0.7" ry="1.3"/><ellipse cx="207.1" cy="546.4" rx="0.9" ry="1.2"/><ellipse cx="192.5" cy="446.6" rx="0.7" ry="1.0"/><ellipse cx="197.8" cy="525.6" rx="0.9" ry="1.1"/><ellipse cx="195.9" cy="414.1" rx="0.9" ry="1.4"/><ellipse cx="209.8" cy="520.1" rx="0.7" ry="1.3"/><ellipse cx="209.0" cy="463.4" rx="0.8" ry="1.4"/><ellipse cx="204.0" cy="544.2" rx="0.8" ry="1.9"/><ellipse cx="198.2" cy="402.6" rx="1.0" ry="1.4"/><ellipse cx="179.7" cy="551.3" rx="0.6" ry="1.5"/><ellipse cx="194.3" cy="534.9" rx="0.8" ry="1.2"/><ellipse cx="187.3" cy="419.2" rx="0.9" ry="1.3"/><ellipse cx="203.4" cy="426.1" rx="0.8" ry="1.2"/><ellipse cx="211.3" cy="527.8" rx="1.0" ry="1.6"/><ellipse cx="191.5" cy="409.3" rx="1.0" ry="1.4"/><ellipse cx="179.2" cy="413.8" rx="0.6" ry="1.6"/><ellipse cx="208.5" cy="418.9" rx="1.0" ry="1.3"/><ellipse cx="201.1" cy="531.7" rx="0.9" ry="1.7"/><ellipse cx="190.7" cy="386.7" rx="0.8" ry="1.5"/><ellipse cx="184.2" cy="451.1" rx="0.7" ry="1.0"/><ellipse cx="188.5" cy="450.1" rx="0.8" ry="1.6"/><ellipse cx="191.5" cy="552.0" rx="1.0" ry="1.8"/><ellipse cx="201.5" cy="498.9" rx="0.8" ry="1.7"/><ellipse cx="190.2" cy="485.9" rx="0.9" ry="1.5"/><ellipse cx="187.6" cy="398.2" rx="0.6" ry="1.3"/><ellipse cx="197.6" cy="514.1" rx="0.9" ry="1.3"/></g>
<g fill="#b07a3a" opacity="0.6" filter="url(#b05)"><ellipse cx="209.5" cy="431.7" rx="0.9" ry="1.1"/><ellipse cx="203.5" cy="498.9" rx="1.0" ry="1.8"/><ellipse cx="201.3" cy="527.5" rx="0.9" ry="1.5"/><ellipse cx="185.0" cy="472.8" rx="1.0" ry="1.2"/><ellipse cx="211.0" cy="477.5" rx="0.8" ry="1.0"/><ellipse cx="191.2" cy="415.3" rx="0.9" ry="1.8"/><ellipse cx="208.8" cy="489.3" rx="0.8" ry="1.1"/><ellipse cx="201.3" cy="479.1" rx="0.9" ry="1.3"/><ellipse cx="208.1" cy="421.2" rx="0.7" ry="1.2"/><ellipse cx="199.1" cy="537.5" rx="0.7" ry="1.6"/></g>
<rect x="177.9" y="385" width="34.0" height="170" fill="none" stroke="#6e7a50" stroke-width="1.2" opacity="0.35"/>
</g>
<g clip-path="url(#lf6)">
<rect x="219.2" y="385" width="34.0" height="170" fill="#9cab78"/>
<ellipse cx="246.2" cy="524.7" rx="3.5" ry="5.6" fill="#6e8060" opacity="0.4" filter="url(#b15)"/>
<ellipse cx="219.2" cy="497.7" rx="3.4" ry="8.6" fill="#6e8060" opacity="0.4" filter="url(#b15)"/>
<ellipse cx="231.9" cy="515.9" rx="2.8" ry="8.8" fill="#6e8060" opacity="0.4" filter="url(#b15)"/>
<ellipse cx="244.0" cy="455.4" rx="3.6" ry="8.1" fill="#6e8060" opacity="0.4" filter="url(#b15)"/>
<ellipse cx="225.8" cy="479.1" rx="4.4" ry="5.6" fill="#6e8060" opacity="0.4" filter="url(#b15)"/>
<ellipse cx="246.5" cy="501.6" rx="4.5" ry="6.0" fill="#6e8060" opacity="0.4" filter="url(#b15)"/>
<ellipse cx="222.4" cy="521.0" rx="4.4" ry="6.7" fill="#6e8060" opacity="0.4" filter="url(#b15)"/>
<ellipse cx="222.4" cy="418.5" rx="3.9" ry="5.7" fill="#6e8060" opacity="0.4" filter="url(#b15)"/>
<ellipse cx="251.5" cy="485.1" rx="2.6" ry="7.9" fill="#6e8060" opacity="0.4" filter="url(#b15)"/>
<ellipse cx="231.5" cy="543.6" rx="4.7" ry="7.1" fill="#6e8060" opacity="0.4" filter="url(#b15)"/>
<ellipse cx="241.1" cy="503.6" rx="4.4" ry="9.9" fill="#6e8060" opacity="0.4" filter="url(#b15)"/>
<ellipse cx="220.2" cy="446.4" rx="3.8" ry="5.8" fill="#6e8060" opacity="0.4" filter="url(#b15)"/>
<ellipse cx="239.2" cy="400.2" rx="4.6" ry="7.2" fill="#6e8060" opacity="0.4" filter="url(#b15)"/>
<ellipse cx="223.2" cy="497.7" rx="2.9" ry="5.2" fill="#6e8060" opacity="0.4" filter="url(#b15)"/>
<ellipse cx="235.6" cy="408.5" rx="4.0" ry="18.4" fill="#88a070" opacity="0.5" filter="url(#b3)"/>
<ellipse cx="242.9" cy="387.1" rx="6.9" ry="8.2" fill="#88a070" opacity="0.5" filter="url(#b3)"/>
<ellipse cx="230.5" cy="538.8" rx="6.1" ry="11.7" fill="#88a070" opacity="0.5" filter="url(#b3)"/>
<ellipse cx="232.0" cy="451.2" rx="3.6" ry="20.0" fill="#88a070" opacity="0.5" filter="url(#b3)"/>
<ellipse cx="221.0" cy="456.9" rx="6.7" ry="12.8" fill="#88a070" opacity="0.5" filter="url(#b3)"/>
<ellipse cx="252.6" cy="426.7" rx="7.9" ry="18.7" fill="#88a070" opacity="0.5" filter="url(#b3)"/>
<ellipse cx="242.0" cy="536.2" rx="5.2" ry="18.0" fill="#88a070" opacity="0.5" filter="url(#b3)"/>
<ellipse cx="246.3" cy="472.8" rx="5.4" ry="16.5" fill="#88a070" opacity="0.5" filter="url(#b3)"/>
<g filter="url(#b05)"><rect x="220.0" y="385" width="1.2" height="170" fill="#90a878" opacity="0.27"/><rect x="222.3" y="385" width="0.8" height="170" fill="#c0c098" opacity="0.21"/><rect x="224.1" y="385" width="1.0" height="170" fill="#c0c098" opacity="0.26"/><rect x="226.3" y="385" width="0.9" height="170" fill="#c0c098" opacity="0.30"/><rect x="229.1" y="385" width="0.9" height="170" fill="#c0c098" opacity="0.32"/><rect x="231.4" y="385" width="1.0" height="170" fill="#90a878" opacity="0.28"/><rect x="234.1" y="385" width="1.2" height="170" fill="#90a878" opacity="0.44"/><rect x="237.0" y="385" width="1.1" height="170" fill="#90a878" opacity="0.28"/><rect x="239.2" y="385" width="1.3" height="170" fill="#90a878" opacity="0.43"/><rect x="241.2" y="385" width="1.0" height="170" fill="#90a878" opacity="0.21"/><rect x="242.8" y="385" width="0.8" height="170" fill="#c0c098" opacity="0.38"/><rect x="244.9" y="385" width="1.3" height="170" fill="#c0c098" opacity="0.22"/><rect x="246.8" y="385" width="1.1" height="170" fill="#c0c098" opacity="0.31"/><rect x="249.5" y="385" width="1.0" height="170" fill="#c0c098" opacity="0.32"/><rect x="251.2" y="385" width="0.8" height="170" fill="#90a878" opacity="0.36"/></g>
<g fill="#5a6a40"><rect x="219.5" y="385" width="0.6" height="170" opacity="0.31"/><rect x="221.4" y="385" width="0.6" height="170" opacity="0.18"/><rect x="224.3" y="385" width="0.6" height="170" opacity="0.27"/><rect x="227.5" y="385" width="0.6" height="170" opacity="0.31"/><rect x="230.4" y="385" width="0.6" height="170" opacity="0.18"/><rect x="233.6" y="385" width="0.6" height="170" opacity="0.17"/><rect x="236.4" y="385" width="0.6" height="170" opacity="0.38"/><rect x="239.6" y="385" width="0.6" height="170" opacity="0.37"/><rect x="242.1" y="385" width="0.6" height="170" opacity="0.32"/><rect x="245.2" y="385" width="0.6" height="170" opacity="0.18"/><rect x="248.5" y="385" width="0.6" height="170" opacity="0.38"/><rect x="251.0" y="385" width="0.6" height="170" opacity="0.34"/></g>
<g fill="#6e7e58" opacity="0.55" filter="url(#b05)"><ellipse cx="228.6" cy="506.1" rx="0.6" ry="1.7"/><ellipse cx="252.5" cy="433.6" rx="1.0" ry="1.1"/><ellipse cx="248.4" cy="432.6" rx="1.0" ry="1.4"/><ellipse cx="250.6" cy="390.4" rx="0.6" ry="1.7"/><ellipse cx="240.9" cy="476.0" rx="0.6" ry="1.2"/><ellipse cx="231.8" cy="393.9" rx="1.0" ry="1.7"/><ellipse cx="251.5" cy="504.1" rx="0.8" ry="1.1"/><ellipse cx="244.1" cy="404.4" rx="0.8" ry="1.4"/><ellipse cx="236.0" cy="397.8" rx="0.6" ry="1.5"/><ellipse cx="220.2" cy="474.3" rx="0.7" ry="1.3"/><ellipse cx="224.3" cy="481.6" rx="0.8" ry="1.2"/><ellipse cx="226.7" cy="480.9" rx="1.0" ry="1.4"/><ellipse cx="224.7" cy="438.8" rx="0.7" ry="1.5"/><ellipse cx="245.9" cy="481.7" rx="0.7" ry="1.3"/><ellipse cx="232.2" cy="460.0" rx="0.8" ry="1.9"/><ellipse cx="237.9" cy="497.6" rx="0.9" ry="1.6"/><ellipse cx="246.6" cy="448.3" rx="0.9" ry="1.9"/><ellipse cx="224.8" cy="491.3" rx="0.8" ry="1.1"/><ellipse cx="220.6" cy="514.0" rx="0.7" ry="1.6"/><ellipse cx="222.6" cy="447.5" rx="0.6" ry="1.5"/><ellipse cx="245.9" cy="423.3" rx="0.9" ry="1.8"/><ellipse cx="229.2" cy="465.1" rx="0.9" ry="1.8"/><ellipse cx="224.9" cy="497.4" rx="0.7" ry="1.1"/><ellipse cx="252.6" cy="393.5" rx="1.0" ry="1.7"/><ellipse cx="242.2" cy="509.0" rx="0.9" ry="1.3"/><ellipse cx="234.3" cy="419.4" rx="1.0" ry="1.7"/><ellipse cx="246.0" cy="421.4" rx="0.9" ry="1.2"/><ellipse cx="246.1" cy="511.6" rx="1.0" ry="1.6"/><ellipse cx="242.5" cy="517.1" rx="0.6" ry="1.5"/><ellipse cx="220.3" cy="447.4" rx="0.7" ry="1.9"/><ellipse cx="220.2" cy="541.6" rx="1.0" ry="1.4"/><ellipse cx="247.5" cy="393.8" rx="0.7" ry="1.0"/><ellipse cx="221.5" cy="385.4" rx="1.0" ry="1.1"/><ellipse cx="239.3" cy="431.4" rx="0.7" ry="1.4"/><ellipse cx="225.4" cy="551.1" rx="0.8" ry="1.5"/><ellipse cx="238.4" cy="491.6" rx="0.8" ry="1.2"/><ellipse cx="223.9" cy="536.0" rx="0.7" ry="1.4"/><ellipse cx="246.7" cy="482.9" rx="1.0" ry="1.7"/><ellipse cx="236.7" cy="405.4" rx="0.9" ry="1.4"/><ellipse cx="248.5" cy="475.2" rx="0.9" ry="1.7"/><ellipse cx="235.2" cy="528.1" rx="1.0" ry="1.1"/><ellipse cx="250.5" cy="532.9" rx="1.0" ry="1.3"/><ellipse cx="227.8" cy="407.6" rx="0.8" ry="1.8"/><ellipse cx="231.5" cy="385.9" rx="0.7" ry="1.1"/><ellipse cx="240.4" cy="515.6" rx="1.0" ry="1.1"/><ellipse cx="232.1" cy="406.4" rx="1.0" ry="1.8"/><ellipse cx="236.9" cy="547.2" rx="0.8" ry="1.7"/><ellipse cx="235.8" cy="446.9" rx="1.0" ry="1.8"/><ellipse cx="239.3" cy="532.4" rx="0.9" ry="1.7"/><ellipse cx="221.5" cy="407.4" rx="0.6" ry="1.5"/><ellipse cx="243.7" cy="411.4" rx="0.8" ry="1.1"/><ellipse cx="242.6" cy="517.4" rx="0.6" ry="1.9"/><ellipse cx="241.8" cy="406.2" rx="0.8" ry="1.1"/><ellipse cx="244.0" cy="540.8" rx="0.7" ry="1.2"/><ellipse cx="240.6" cy="531.1" rx="0.9" ry="1.4"/><ellipse cx="223.0" cy="489.4" rx="0.8" ry="1.7"/><ellipse cx="238.6" cy="509.8" rx="1.0" ry="1.6"/><ellipse cx="250.2" cy="431.6" rx="0.6" ry="1.8"/><ellipse cx="220.2" cy="553.9" rx="0.8" ry="1.1"/><ellipse cx="228.5" cy="507.6" rx="0.8" ry="1.6"/><ellipse cx="222.7" cy="527.1" rx="0.8" ry="1.7"/><ellipse cx="224.2" cy="498.4" rx="0.8" ry="1.4"/><ellipse cx="219.9" cy="475.4" rx="1.0" ry="1.1"/><ellipse cx="234.4" cy="387.1" rx="1.0" ry="1.9"/><ellipse cx="242.3" cy="466.6" rx="0.6" ry="1.1"/><ellipse cx="243.2" cy="520.1" rx="1.0" ry="1.8"/><ellipse cx="234.1" cy="428.4" rx="0.8" ry="1.3"/><ellipse cx="237.7" cy="535.3" rx="0.8" ry="1.9"/><ellipse cx="243.6" cy="392.8" rx="0.9" ry="1.6"/><ellipse cx="240.3" cy="385.6" rx="1.0" ry="1.4"/><ellipse cx="237.5" cy="413.9" rx="0.6" ry="1.0"/><ellipse cx="226.3" cy="436.7" rx="0.7" ry="1.1"/><ellipse cx="243.9" cy="504.4" rx="1.0" ry="1.2"/><ellipse cx="244.0" cy="486.1" rx="0.6" ry="1.8"/><ellipse cx="231.3" cy="416.4" rx="0.7" ry="1.8"/><ellipse cx="226.7" cy="450.3" rx="0.8" ry="1.3"/><ellipse cx="241.5" cy="399.9" rx="0.8" ry="1.5"/><ellipse cx="240.2" cy="488.5" rx="0.7" ry="1.6"/><ellipse cx="252.3" cy="467.0" rx="0.9" ry="1.8"/><ellipse cx="227.8" cy="430.2" rx="1.0" ry="1.3"/><ellipse cx="233.7" cy="448.1" rx="1.0" ry="1.5"/><ellipse cx="249.7" cy="412.6" rx="0.7" ry="1.6"/><ellipse cx="230.0" cy="497.8" rx="0.8" ry="1.1"/><ellipse cx="223.0" cy="459.6" rx="0.8" ry="1.2"/><ellipse cx="228.1" cy="385.2" rx="0.7" ry="1.3"/><ellipse cx="232.4" cy="485.8" rx="1.0" ry="1.6"/><ellipse cx="244.4" cy="433.1" rx="0.8" ry="1.7"/><ellipse cx="249.6" cy="425.9" rx="0.6" ry="1.0"/><ellipse cx="236.7" cy="533.3" rx="0.7" ry="1.7"/><ellipse cx="241.0" cy="531.9" rx="1.0" ry="1.1"/><ellipse cx="246.2" cy="408.0" rx="0.7" ry="1.4"/><ellipse cx="235.8" cy="396.9" rx="0.7" ry="1.2"/><ellipse cx="223.8" cy="401.8" rx="0.6" ry="1.2"/><ellipse cx="230.3" cy="456.4" rx="0.9" ry="1.6"/><ellipse cx="235.8" cy="439.9" rx="0.9" ry="1.2"/><ellipse cx="225.2" cy="404.2" rx="0.9" ry="1.1"/><ellipse cx="226.8" cy="444.8" rx="0.9" ry="1.6"/><ellipse cx="239.3" cy="486.3" rx="0.7" ry="1.8"/><ellipse cx="244.3" cy="454.2" rx="0.8" ry="1.5"/><ellipse cx="223.3" cy="494.5" rx="1.0" ry="1.3"/><ellipse cx="236.2" cy="428.0" rx="1.0" ry="1.3"/><ellipse cx="231.5" cy="506.2" rx="0.8" ry="1.8"/><ellipse cx="233.2" cy="485.1" rx="0.7" ry="1.5"/><ellipse cx="235.3" cy="402.7" rx="1.0" ry="1.1"/><ellipse cx="238.8" cy="500.1" rx="0.8" ry="1.3"/><ellipse cx="234.6" cy="554.9" rx="0.6" ry="1.8"/><ellipse cx="239.8" cy="466.8" rx="0.9" ry="1.6"/><ellipse cx="247.4" cy="551.0" rx="0.8" ry="1.3"/><ellipse cx="231.5" cy="539.8" rx="0.8" ry="1.1"/><ellipse cx="239.1" cy="404.5" rx="0.8" ry="1.6"/><ellipse cx="240.0" cy="476.2" rx="1.0" ry="1.5"/><ellipse cx="252.2" cy="523.0" rx="0.7" ry="1.7"/><ellipse cx="231.5" cy="545.7" rx="0.9" ry="1.4"/><ellipse cx="225.2" cy="529.1" rx="0.8" ry="1.0"/><ellipse cx="246.5" cy="386.1" rx="0.6" ry="1.0"/><ellipse cx="241.1" cy="480.6" rx="0.8" ry="1.8"/><ellipse cx="235.2" cy="420.0" rx="1.0" ry="1.1"/><ellipse cx="220.9" cy="422.9" rx="1.0" ry="1.4"/><ellipse cx="231.3" cy="447.8" rx="0.8" ry="1.7"/><ellipse cx="240.9" cy="432.5" rx="0.7" ry="1.7"/><ellipse cx="238.3" cy="470.3" rx="0.7" ry="1.9"/><ellipse cx="237.2" cy="541.1" rx="0.9" ry="1.6"/><ellipse cx="220.0" cy="540.4" rx="1.0" ry="1.1"/><ellipse cx="222.0" cy="499.8" rx="0.9" ry="1.2"/><ellipse cx="252.9" cy="401.8" rx="0.9" ry="1.4"/><ellipse cx="230.4" cy="498.7" rx="0.8" ry="1.7"/><ellipse cx="245.4" cy="386.6" rx="0.7" ry="1.5"/><ellipse cx="229.3" cy="487.0" rx="0.6" ry="1.1"/><ellipse cx="236.6" cy="421.6" rx="0.7" ry="1.4"/><ellipse cx="239.4" cy="496.2" rx="0.9" ry="1.4"/></g>
<g fill="#a86a30" opacity="0.65" filter="url(#b05)"><ellipse cx="233.9" cy="532.8" rx="1.0" ry="1.8"/><ellipse cx="251.3" cy="499.2" rx="0.7" ry="1.6"/><ellipse cx="228.8" cy="436.1" rx="0.8" ry="1.0"/><ellipse cx="234.1" cy="418.4" rx="0.7" ry="1.4"/><ellipse cx="244.9" cy="495.9" rx="0.7" ry="1.7"/><ellipse cx="233.0" cy="445.9" rx="0.8" ry="1.3"/><ellipse cx="224.4" cy="549.6" rx="0.9" ry="1.6"/><ellipse cx="239.9" cy="470.2" rx="0.9" ry="1.0"/><ellipse cx="221.4" cy="475.9" rx="0.8" ry="1.0"/><ellipse cx="226.4" cy="436.9" rx="1.0" ry="1.8"/><ellipse cx="220.6" cy="451.1" rx="0.8" ry="1.1"/><ellipse cx="229.1" cy="553.2" rx="1.0" ry="1.2"/><ellipse cx="245.7" cy="407.1" rx="0.9" ry="1.1"/><ellipse cx="241.0" cy="486.7" rx="1.0" ry="1.5"/><ellipse cx="250.2" cy="426.2" rx="0.9" ry="1.2"/><ellipse cx="221.5" cy="552.1" rx="0.6" ry="1.3"/><ellipse cx="230.0" cy="419.3" rx="1.0" ry="1.7"/><ellipse cx="232.2" cy="480.8" rx="1.0" ry="1.1"/><ellipse cx="241.5" cy="529.9" rx="0.9" ry="1.5"/><ellipse cx="227.6" cy="413.6" rx="0.7" ry="1.3"/><ellipse cx="228.9" cy="517.6" rx="0.7" ry="1.1"/><ellipse cx="246.3" cy="461.9" rx="0.7" ry="1.7"/><ellipse cx="220.6" cy="448.4" rx="0.8" ry="1.5"/><ellipse cx="227.3" cy="542.6" rx="0.9" ry="1.3"/><ellipse cx="240.9" cy="449.8" rx="0.9" ry="1.5"/><ellipse cx="227.6" cy="533.1" rx="0.6" ry="1.8"/><ellipse cx="233.6" cy="471.4" rx="0.6" ry="1.5"/><ellipse cx="230.5" cy="489.1" rx="0.9" ry="1.1"/><ellipse cx="221.7" cy="537.3" rx="0.7" ry="1.6"/><ellipse cx="244.0" cy="517.9" rx="0.6" ry="1.6"/><ellipse cx="247.8" cy="390.9" rx="0.6" ry="1.8"/><ellipse cx="242.8" cy="505.0" rx="0.9" ry="1.5"/><ellipse cx="226.0" cy="412.1" rx="0.6" ry="1.6"/><ellipse cx="241.8" cy="553.6" rx="0.7" ry="1.1"/><ellipse cx="232.1" cy="544.9" rx="0.7" ry="1.8"/><ellipse cx="240.9" cy="515.6" rx="0.7" ry="1.7"/><ellipse cx="232.8" cy="511.1" rx="0.6" ry="1.3"/><ellipse cx="238.4" cy="431.3" rx="0.8" ry="1.1"/><ellipse cx="227.9" cy="492.8" rx="0.7" ry="1.9"/><ellipse cx="231.6" cy="436.9" rx="0.8" ry="1.6"/><ellipse cx="229.9" cy="551.4" rx="0.7" ry="1.5"/><ellipse cx="248.8" cy="430.8" rx="0.7" ry="1.5"/><ellipse cx="248.1" cy="529.3" rx="1.0" ry="1.6"/><ellipse cx="221.9" cy="541.3" rx="0.7" ry="1.0"/><ellipse cx="236.4" cy="388.0" rx="0.6" ry="1.2"/><ellipse cx="252.6" cy="431.8" rx="1.0" ry="1.8"/><ellipse cx="226.8" cy="402.8" rx="0.7" ry="1.6"/><ellipse cx="242.7" cy="440.1" rx="1.0" ry="1.1"/><ellipse cx="220.0" cy="446.7" rx="0.9" ry="1.8"/><ellipse cx="251.4" cy="539.3" rx="1.0" ry="1.6"/><ellipse cx="234.0" cy="393.9" rx="0.9" ry="1.8"/><ellipse cx="246.0" cy="464.8" rx="0.9" ry="1.7"/><ellipse cx="253.0" cy="507.1" rx="0.9" ry="1.9"/><ellipse cx="252.1" cy="385.1" rx="1.0" ry="1.3"/><ellipse cx="219.2" cy="435.6" rx="0.7" ry="1.0"/><ellipse cx="246.5" cy="448.4" rx="0.7" ry="1.7"/><ellipse cx="226.0" cy="443.9" rx="0.8" ry="1.3"/><ellipse cx="244.2" cy="417.6" rx="1.0" ry="1.4"/><ellipse cx="233.8" cy="441.1" rx="1.0" ry="1.2"/><ellipse cx="233.3" cy="429.4" rx="0.7" ry="1.0"/><ellipse cx="242.4" cy="523.3" rx="0.7" ry="1.4"/><ellipse cx="247.0" cy="394.2" rx="0.7" ry="1.7"/><ellipse cx="227.6" cy="427.4" rx="0.8" ry="1.2"/><ellipse cx="224.5" cy="393.9" rx="1.0" ry="1.7"/><ellipse cx="227.4" cy="404.8" rx="0.8" ry="1.5"/><ellipse cx="251.0" cy="450.3" rx="0.7" ry="1.8"/><ellipse cx="224.2" cy="426.6" rx="0.7" ry="1.8"/><ellipse cx="252.0" cy="449.8" rx="0.9" ry="1.6"/><ellipse cx="234.6" cy="522.5" rx="0.7" ry="1.7"/><ellipse cx="224.8" cy="409.1" rx="0.7" ry="1.2"/><ellipse cx="251.9" cy="426.8" rx="0.9" ry="1.0"/><ellipse cx="248.7" cy="511.7" rx="0.9" ry="1.9"/><ellipse cx="220.3" cy="514.4" rx="0.7" ry="1.8"/><ellipse cx="219.5" cy="438.3" rx="0.8" ry="1.4"/><ellipse cx="246.4" cy="396.5" rx="1.0" ry="1.0"/><ellipse cx="251.6" cy="518.7" rx="0.6" ry="1.0"/><ellipse cx="223.2" cy="400.5" rx="0.7" ry="1.2"/><ellipse cx="237.0" cy="468.9" rx="0.7" ry="1.9"/><ellipse cx="239.4" cy="471.9" rx="1.0" ry="1.6"/><ellipse cx="248.9" cy="526.1" rx="0.8" ry="1.8"/><ellipse cx="240.3" cy="388.7" rx="0.7" ry="1.6"/><ellipse cx="242.9" cy="504.2" rx="0.9" ry="1.7"/><ellipse cx="250.0" cy="428.6" rx="1.0" ry="1.8"/><ellipse cx="246.8" cy="423.9" rx="0.9" ry="1.8"/><ellipse cx="248.0" cy="421.3" rx="0.6" ry="1.5"/><ellipse cx="222.0" cy="473.8" rx="0.7" ry="1.1"/><ellipse cx="249.0" cy="490.5" rx="0.6" ry="1.5"/><ellipse cx="229.1" cy="461.7" rx="0.9" ry="1.8"/><ellipse cx="220.1" cy="386.9" rx="1.0" ry="1.1"/><ellipse cx="247.4" cy="492.8" rx="0.9" ry="1.6"/><ellipse cx="233.0" cy="528.3" rx="1.0" ry="1.3"/><ellipse cx="227.4" cy="457.3" rx="0.8" ry="1.5"/><ellipse cx="251.1" cy="440.0" rx="1.0" ry="1.2"/><ellipse cx="231.8" cy="512.4" rx="0.9" ry="1.8"/><ellipse cx="240.1" cy="435.4" rx="1.0" ry="1.2"/><ellipse cx="219.9" cy="441.2" rx="1.0" ry="1.0"/><ellipse cx="248.4" cy="503.8" rx="0.9" ry="1.6"/><ellipse cx="226.0" cy="466.6" rx="1.0" ry="1.8"/><ellipse cx="233.6" cy="460.9" rx="0.8" ry="1.3"/><ellipse cx="231.8" cy="420.5" rx="1.0" ry="1.0"/><ellipse cx="224.2" cy="488.5" rx="1.0" ry="1.6"/><ellipse cx="224.0" cy="468.8" rx="1.0" ry="1.8"/><ellipse cx="227.1" cy="551.8" rx="1.0" ry="1.1"/><ellipse cx="248.2" cy="418.6" rx="0.6" ry="1.4"/><ellipse cx="252.5" cy="507.8" rx="0.7" ry="1.8"/><ellipse cx="229.5" cy="518.9" rx="0.8" ry="1.6"/><ellipse cx="236.1" cy="493.9" rx="0.9" ry="1.8"/><ellipse cx="236.1" cy="528.9" rx="0.8" ry="1.1"/><ellipse cx="240.0" cy="533.7" rx="0.8" ry="1.4"/><ellipse cx="240.5" cy="428.9" rx="0.7" ry="1.5"/><ellipse cx="222.8" cy="463.8" rx="0.8" ry="1.4"/><ellipse cx="234.6" cy="479.9" rx="0.9" ry="1.8"/><ellipse cx="233.9" cy="500.1" rx="0.7" ry="1.2"/><ellipse cx="235.5" cy="433.4" rx="0.7" ry="1.6"/><ellipse cx="237.9" cy="413.9" rx="0.9" ry="1.9"/><ellipse cx="227.6" cy="507.5" rx="0.8" ry="1.6"/><ellipse cx="250.6" cy="551.7" rx="1.0" ry="1.3"/><ellipse cx="248.0" cy="405.3" rx="1.0" ry="1.6"/><ellipse cx="252.3" cy="451.1" rx="1.0" ry="1.4"/><ellipse cx="222.1" cy="542.7" rx="0.7" ry="1.6"/></g>
<rect x="219.2" y="385" width="34.0" height="170" fill="none" stroke="#6e7a50" stroke-width="1.2" opacity="0.35"/>
</g>
<text x="279.76" y="318.84" font-size="11" text-anchor="start" fill="#000" id="F">F</text>
<rect x="330.1" y="399.564" width="24.799999999999955" height="92.73599999999999" fill="#17788f"/>
<rect x="368.1" y="402.2688" width="24.5" height="90.03120000000001" fill="#17788f"/>
<rect x="404.9" y="419.0128" width="24.600000000000023" height="73.28719999999998" fill="#17788f"/>
<rect x="442.1" y="385.0096" width="24.799999999999955" height="107.29040000000003" fill="#17788f"/>
<line x1="342.5" y1="390.6" x2="342.5" y2="407.2" stroke="#111" stroke-width="1.2"/>
<line x1="336.052" y1="390.6" x2="348.948" y2="390.6" stroke="#111" stroke-width="1.2"/>
<line x1="336.052" y1="407.2" x2="348.948" y2="407.2" stroke="#111" stroke-width="1.2"/>
<line x1="380.35" y1="396.6" x2="380.35" y2="406.1" stroke="#111" stroke-width="1.2"/>
<line x1="373.98" y1="396.6" x2="386.72" y2="396.6" stroke="#111" stroke-width="1.2"/>
<line x1="373.98" y1="406.1" x2="386.72" y2="406.1" stroke="#111" stroke-width="1.2"/>
<line x1="417.2" y1="415.2" x2="417.2" y2="422.5" stroke="#111" stroke-width="1.2"/>
<line x1="410.804" y1="415.2" x2="423.596" y2="415.2" stroke="#111" stroke-width="1.2"/>
<line x1="410.804" y1="422.5" x2="423.596" y2="422.5" stroke="#111" stroke-width="1.2"/>
<line x1="454.5" y1="377.5" x2="454.5" y2="391.5" stroke="#111" stroke-width="1.2"/>
<line x1="448.052" y1="377.5" x2="460.948" y2="377.5" stroke="#111" stroke-width="1.2"/>
<line x1="448.052" y1="391.5" x2="460.948" y2="391.5" stroke="#111" stroke-width="1.2"/>
<line x1="318" y1="331.3" x2="475.3" y2="331.3" stroke="#111" stroke-width="1.2"/>
<line x1="475.3" y1="331.3" x2="475.3" y2="492.3" stroke="#111" stroke-width="1.2"/>
<line x1="318" y1="330.7" x2="318" y2="492.3" stroke="#9a9a9a" stroke-width="1.4"/>
<line x1="312.5" y1="492.3" x2="475.3" y2="492.3" stroke="#111" stroke-width="1.3"/>
<line x1="312.5" y1="492.3" x2="318" y2="492.3" stroke="#111" stroke-width="1.1"/>
<text x="311.2" y="494.5" font-size="12" text-anchor="end" fill="#000">0</text>
<line x1="312.5" y1="460.1" x2="318" y2="460.1" stroke="#111" stroke-width="1.1"/>
<text x="311.2" y="462.3" font-size="12" text-anchor="end" fill="#000">50</text>
<line x1="312.5" y1="427.9" x2="318" y2="427.9" stroke="#111" stroke-width="1.1"/>
<text x="311.2" y="430.09999999999997" font-size="12" text-anchor="end" fill="#000">100</text>
<line x1="312.5" y1="395.7" x2="318" y2="395.7" stroke="#111" stroke-width="1.1"/>
<text x="311.2" y="397.9" font-size="12" text-anchor="end" fill="#000">150</text>
<line x1="312.5" y1="363.5" x2="318" y2="363.5" stroke="#111" stroke-width="1.1"/>
<text x="311.2" y="365.7" font-size="12" text-anchor="end" fill="#000">200</text>
<line x1="312.5" y1="331.3" x2="318" y2="331.3" stroke="#111" stroke-width="1.1"/>
<text x="311.2" y="333.5" font-size="12" text-anchor="end" fill="#000">250</text>
<line x1="342.5" y1="492.3" x2="342.5" y2="497.6" stroke="#111" stroke-width="1.1"/>
<line x1="380.35" y1="492.3" x2="380.35" y2="497.6" stroke="#111" stroke-width="1.1"/>
<line x1="417.2" y1="492.3" x2="417.2" y2="497.6" stroke="#111" stroke-width="1.1"/>
<line x1="454.5" y1="492.3" x2="454.5" y2="497.6" stroke="#111" stroke-width="1.1"/>
<text x="341.8" y="386.2" font-size="12" text-anchor="middle" fill="#000">a</text>
<text x="380.2" y="386.2" font-size="12" text-anchor="middle" fill="#000">ab</text>
<text x="416.6" y="409.8" font-size="12" text-anchor="middle" fill="#000">b</text>
<text x="454.1" y="372" font-size="12" text-anchor="middle" fill="#000">a</text>
<text x="291.78" y="409.46" font-size="12.013" text-anchor="middle" fill="#000" transform="rotate(-90 291.78 409.46)" id="F_ylab">Uredinia number/leaf area</text>
<text x="328.11" y="523.48" font-size="11.534" text-anchor="start" fill="#000" transform="rotate(-30 328.11 523.48)" id="F_x1">N <tspan font-style="italic">00</tspan></text>
<text x="323.7" y="548.52" font-size="12.205" text-anchor="start" fill="#000" transform="rotate(-30 323.7 548.52)" id="F_x2">N <tspan font-style="italic">TaRLCK185</tspan></text>
<text x="391.15" y="528.86" font-size="11.434" text-anchor="start" fill="#000" transform="rotate(-30 391.15 528.86)" id="F_x3">NHN <tspan font-style="italic">00</tspan></text>
<text x="391.03" y="552.64" font-size="12.112" text-anchor="start" fill="#000" transform="rotate(-30 391.03 552.64)" id="F_x4">NHN <tspan font-style="italic">TaRLCK185</tspan></text>
<text x="479.35" y="317.36" font-size="11" text-anchor="start" fill="#000" id="G">G</text>
<rect x="532.4" y="368.8928" width="24.5" height="119.50719999999995" fill="#17788f"/>
<rect x="569.3" y="363.212" width="23.40000000000009" height="125.18799999999999" fill="#17788f"/>
<rect x="605.1" y="397.928" width="23.799999999999955" height="90.47199999999998" fill="#17788f"/>
<rect x="641.3" y="365.842" width="24.5" height="122.55799999999999" fill="#17788f"/>
<line x1="544.65" y1="365.6" x2="544.65" y2="372.6" stroke="#111" stroke-width="1.2"/>
<line x1="538.28" y1="365.6" x2="551.02" y2="365.6" stroke="#111" stroke-width="1.2"/>
<line x1="538.28" y1="372.6" x2="551.02" y2="372.6" stroke="#111" stroke-width="1.2"/>
<line x1="581.0" y1="359.5" x2="581.0" y2="366.5" stroke="#111" stroke-width="1.2"/>
<line x1="574.9159999999999" y1="359.5" x2="587.0840000000001" y2="359.5" stroke="#111" stroke-width="1.2"/>
<line x1="574.9159999999999" y1="366.5" x2="587.0840000000001" y2="366.5" stroke="#111" stroke-width="1.2"/>
<line x1="617.0" y1="396.2" x2="617.0" y2="399.4" stroke="#111" stroke-width="1.2"/>
<line x1="610.812" y1="396.2" x2="623.188" y2="396.2" stroke="#111" stroke-width="1.2"/>
<line x1="610.812" y1="399.4" x2="623.188" y2="399.4" stroke="#111" stroke-width="1.2"/>
<line x1="653.55" y1="360.2" x2="653.55" y2="371.4" stroke="#111" stroke-width="1.2"/>
<line x1="647.18" y1="360.2" x2="659.92" y2="360.2" stroke="#111" stroke-width="1.2"/>
<line x1="647.18" y1="371.4" x2="659.92" y2="371.4" stroke="#111" stroke-width="1.2"/>
<line x1="520.3" y1="330.6" x2="677.9" y2="330.6" stroke="#111" stroke-width="1.2"/>
<line x1="677.9" y1="330.6" x2="677.9" y2="488.4" stroke="#111" stroke-width="1.2"/>
<line x1="520.3" y1="330.0" x2="520.3" y2="488.4" stroke="#9a9a9a" stroke-width="1.4"/>
<line x1="514.8" y1="488.4" x2="677.9" y2="488.4" stroke="#111" stroke-width="1.3"/>
<line x1="514.8" y1="488.4" x2="520.3" y2="488.4" stroke="#111" stroke-width="1.1"/>
<text x="513.5" y="490.59999999999997" font-size="12" text-anchor="end" fill="#000">0.0</text>
<line x1="514.8" y1="435.8" x2="520.3" y2="435.8" stroke="#111" stroke-width="1.1"/>
<text x="513.5" y="438.0" font-size="12" text-anchor="end" fill="#000">0.5</text>
<line x1="514.8" y1="383.2" x2="520.3" y2="383.2" stroke="#111" stroke-width="1.1"/>
<text x="513.5" y="385.4" font-size="12" text-anchor="end" fill="#000">1.0</text>
<line x1="514.8" y1="330.6" x2="520.3" y2="330.6" stroke="#111" stroke-width="1.1"/>
<text x="513.5" y="332.8" font-size="12" text-anchor="end" fill="#000">1.5</text>
<line x1="544.65" y1="488.4" x2="544.65" y2="493.7" stroke="#111" stroke-width="1.1"/>
<line x1="581.0" y1="488.4" x2="581.0" y2="493.7" stroke="#111" stroke-width="1.1"/>
<line x1="617.0" y1="488.4" x2="617.0" y2="493.7" stroke="#111" stroke-width="1.1"/>
<line x1="653.55" y1="488.4" x2="653.55" y2="493.7" stroke="#111" stroke-width="1.1"/>
<text x="544.3" y="359" font-size="12" text-anchor="middle" fill="#000">a</text>
<text x="580.5" y="353.7" font-size="12" text-anchor="middle" fill="#000">a</text>
<text x="616.7" y="391.7" font-size="12" text-anchor="middle" fill="#000">b</text>
<text x="652.9" y="355.5" font-size="12" text-anchor="middle" fill="#000">a</text>
<text x="492.47" y="417.05" font-size="12.055" text-anchor="middle" fill="#000" transform="rotate(-90 492.47 417.05)" id="G_ylab">Biomass ratio (<tspan font-style="italic">Pst</tspan>/Wheat)</text>
<text x="539.68" y="519.91" font-size="11.489" text-anchor="start" fill="#000" transform="rotate(-30 539.68 519.91)" id="G_x1">N <tspan font-style="italic">00</tspan></text>
<text x="528.83" y="541.5" font-size="11.738" text-anchor="start" fill="#000" transform="rotate(-30 528.83 541.5)" id="G_x2">N <tspan font-style="italic">TaRLCK185</tspan></text>
<text x="593.08" y="523.72" font-size="11.492" text-anchor="start" fill="#000" transform="rotate(-30 593.08 523.72)" id="G_x3">NHN <tspan font-style="italic">00</tspan></text>
<text x="593.92" y="546.56" font-size="11.759" text-anchor="start" fill="#000" transform="rotate(-30 593.92 546.56)" id="G_x4">NHN <tspan font-style="italic">TaRLCK185</tspan></text>
<text x="680.18" y="309.31" font-size="11.5" text-anchor="start" fill="#000" font-weight="bold" id="H">H</text>
<text x="749.57" y="310.75" font-size="12.006" text-anchor="start" fill="#000" id="CYR32">CYR32</text>
<line x1="701" y1="318.5" x2="840.6" y2="318.5" stroke="#111" stroke-width="1"/>
<text x="707.77" y="354.8" font-size="11.873" text-anchor="start" fill="#000" transform="rotate(-30 707.77 354.8)" id="H_mock">mock</text>
<text x="758.24" y="349.52" font-size="12.201" text-anchor="start" fill="#000" transform="rotate(-30 758.24 349.52)" id="H_vox1">VOX:</text>
<text x="773.52" y="357.16" font-size="12.052" text-anchor="start" fill="#000" font-style="italic" transform="rotate(-30 773.52 357.16)" id="H_00">00</text>
<text x="809.65" y="344.92" font-size="11.746" text-anchor="start" fill="#000" transform="rotate(-30 809.65 344.92)" id="H_vox2">VOX:</text>
<text x="803.32" y="365.95" font-size="12.015" text-anchor="start" fill="#000" font-style="italic" transform="rotate(-30 803.32 365.95)" id="H_Ta">TaRLCK185</text>
<g clip-path="url(#lf21)">
<rect x="700.6" y="367.1" width="35.39999999999998" height="172.5" fill="#55983e"/>
<ellipse cx="706.4" cy="486.1" rx="3.9" ry="6.9" fill="#a07a38" opacity="0.55" filter="url(#b15)"/>
<ellipse cx="708.2" cy="503.8" rx="4.4" ry="7.1" fill="#a07a38" opacity="0.55" filter="url(#b15)"/>
<ellipse cx="718.5" cy="407.8" rx="2.0" ry="6.2" fill="#a07a38" opacity="0.55" filter="url(#b15)"/>
<ellipse cx="721.3" cy="379.0" rx="4.4" ry="5.4" fill="#a07a38" opacity="0.55" filter="url(#b15)"/>
<ellipse cx="708.8" cy="374.4" rx="5.0" ry="8.4" fill="#a07a38" opacity="0.55" filter="url(#b15)"/>
<ellipse cx="731.6" cy="473.3" rx="2.1" ry="6.0" fill="#a07a38" opacity="0.55" filter="url(#b15)"/>
<ellipse cx="718.2" cy="387.1" rx="4.9" ry="6.2" fill="#a07a38" opacity="0.55" filter="url(#b15)"/>
<ellipse cx="706.1" cy="508.1" rx="2.4" ry="9.6" fill="#a07a38" opacity="0.55" filter="url(#b15)"/>
<ellipse cx="716.6" cy="462.3" rx="3.0" ry="6.9" fill="#a07a38" opacity="0.55" filter="url(#b15)"/>
<ellipse cx="707.2" cy="373.5" rx="4.6" ry="5.4" fill="#a07a38" opacity="0.55" filter="url(#b15)"/>
<ellipse cx="728.2" cy="403.1" rx="4.9" ry="9.4" fill="#a07a38" opacity="0.55" filter="url(#b15)"/>
<ellipse cx="727.3" cy="498.7" rx="3.7" ry="8.4" fill="#a07a38" opacity="0.55" filter="url(#b15)"/>
<ellipse cx="704.9" cy="449.3" rx="4.5" ry="5.2" fill="#a07a38" opacity="0.55" filter="url(#b15)"/>
<ellipse cx="733.3" cy="520.2" rx="3.2" ry="6.2" fill="#a07a38" opacity="0.55" filter="url(#b15)"/>
<ellipse cx="716.6" cy="433.6" rx="5.0" ry="6.3" fill="#a07a38" opacity="0.55" filter="url(#b15)"/>
<ellipse cx="701.5" cy="383.2" rx="4.2" ry="10.0" fill="#a07a38" opacity="0.55" filter="url(#b15)"/>
<ellipse cx="718.2" cy="451.9" rx="3.7" ry="8.5" fill="#a07a38" opacity="0.55" filter="url(#b15)"/>
<ellipse cx="708.5" cy="472.1" rx="3.7" ry="7.7" fill="#a07a38" opacity="0.55" filter="url(#b15)"/>
<ellipse cx="707.0" cy="396.4" rx="3.0" ry="9.6" fill="#a07a38" opacity="0.55" filter="url(#b15)"/>
<ellipse cx="712.9" cy="470.1" rx="2.9" ry="4.6" fill="#a07a38" opacity="0.55" filter="url(#b15)"/>
<ellipse cx="702.9" cy="507.5" rx="4.3" ry="6.2" fill="#a07a38" opacity="0.55" filter="url(#b15)"/>
<ellipse cx="724.8" cy="483.7" rx="4.7" ry="9.7" fill="#a07a38" opacity="0.55" filter="url(#b15)"/>
<ellipse cx="715.0" cy="537.7" rx="4.9" ry="7.5" fill="#a07a38" opacity="0.55" filter="url(#b15)"/>
<ellipse cx="731.9" cy="451.8" rx="3.1" ry="5.5" fill="#a07a38" opacity="0.55" filter="url(#b15)"/>
<ellipse cx="731.6" cy="395.1" rx="2.2" ry="8.8" fill="#a07a38" opacity="0.55" filter="url(#b15)"/>
<ellipse cx="728.0" cy="450.4" rx="4.5" ry="4.3" fill="#a07a38" opacity="0.55" filter="url(#b15)"/>
<ellipse cx="709.7" cy="417.1" rx="3.3" ry="5.0" fill="#a07a38" opacity="0.55" filter="url(#b15)"/>
<ellipse cx="703.1" cy="425.4" rx="4.7" ry="9.9" fill="#a07a38" opacity="0.55" filter="url(#b15)"/>
<ellipse cx="727.0" cy="449.7" rx="2.8" ry="9.8" fill="#a07a38" opacity="0.55" filter="url(#b15)"/>
<ellipse cx="719.2" cy="492.8" rx="2.1" ry="5.3" fill="#a07a38" opacity="0.55" filter="url(#b15)"/>
<ellipse cx="730.3" cy="504.3" rx="4.6" ry="7.6" fill="#a07a38" opacity="0.55" filter="url(#b15)"/>
<ellipse cx="715.7" cy="467.3" rx="4.5" ry="5.8" fill="#a07a38" opacity="0.55" filter="url(#b15)"/>
<ellipse cx="719.5" cy="414.7" rx="4.3" ry="4.1" fill="#a07a38" opacity="0.55" filter="url(#b15)"/>
<ellipse cx="724.9" cy="531.7" rx="2.1" ry="7.6" fill="#a07a38" opacity="0.55" filter="url(#b15)"/>
<ellipse cx="723.4" cy="514.0" rx="3.8" ry="5.5" fill="#a07a38" opacity="0.55" filter="url(#b15)"/>
<ellipse cx="715.0" cy="532.5" rx="4.7" ry="4.8" fill="#a07a38" opacity="0.55" filter="url(#b15)"/>
<ellipse cx="704.0" cy="383.3" rx="2.1" ry="6.7" fill="#a07a38" opacity="0.55" filter="url(#b15)"/>
<ellipse cx="705.6" cy="516.7" rx="4.0" ry="4.8" fill="#a07a38" opacity="0.55" filter="url(#b15)"/>
<ellipse cx="719.7" cy="423.0" rx="3.5" ry="5.3" fill="#a07a38" opacity="0.55" filter="url(#b15)"/>
<ellipse cx="706.5" cy="398.8" rx="3.1" ry="8.3" fill="#a07a38" opacity="0.55" filter="url(#b15)"/>
<ellipse cx="720.1" cy="375.1" rx="4.1" ry="9.2" fill="#a07a38" opacity="0.55" filter="url(#b15)"/>
<ellipse cx="728.0" cy="503.5" rx="2.0" ry="6.8" fill="#a07a38" opacity="0.55" filter="url(#b15)"/>
<ellipse cx="702.8" cy="498.9" rx="2.5" ry="8.3" fill="#a07a38" opacity="0.55" filter="url(#b15)"/>
<ellipse cx="709.6" cy="487.3" rx="2.9" ry="4.3" fill="#a07a38" opacity="0.55" filter="url(#b15)"/>
<ellipse cx="714.4" cy="420.5" rx="4.7" ry="5.8" fill="#a07a38" opacity="0.55" filter="url(#b15)"/>
<ellipse cx="718.4" cy="461.9" rx="7.7" ry="9.2" fill="#4a8a34" opacity="0.5" filter="url(#b3)"/>
<ellipse cx="721.9" cy="454.8" rx="6.7" ry="19.6" fill="#4a8a34" opacity="0.5" filter="url(#b3)"/>
<ellipse cx="711.6" cy="487.8" rx="5.6" ry="14.7" fill="#4a8a34" opacity="0.5" filter="url(#b3)"/>
<ellipse cx="702.9" cy="507.6" rx="7.9" ry="12.3" fill="#4a8a34" opacity="0.5" filter="url(#b3)"/>
<ellipse cx="711.9" cy="538.4" rx="3.5" ry="8.9" fill="#4a8a34" opacity="0.5" filter="url(#b3)"/>
<ellipse cx="703.2" cy="507.6" rx="6.8" ry="13.4" fill="#4a8a34" opacity="0.5" filter="url(#b3)"/>
<ellipse cx="722.6" cy="370.5" rx="6.2" ry="13.3" fill="#4a8a34" opacity="0.5" filter="url(#b3)"/>
<ellipse cx="718.9" cy="434.3" rx="5.0" ry="10.7" fill="#4a8a34" opacity="0.5" filter="url(#b3)"/>
<g filter="url(#b05)"><rect x="700.7" y="367.1" width="0.9" height="172.5" fill="#6aa850" opacity="0.38"/><rect x="703.4" y="367.1" width="1.0" height="172.5" fill="#4a8c38" opacity="0.26"/><rect x="705.6" y="367.1" width="1.1" height="172.5" fill="#6aa850" opacity="0.44"/><rect x="707.3" y="367.1" width="1.0" height="172.5" fill="#6aa850" opacity="0.38"/><rect x="710.1" y="367.1" width="1.1" height="172.5" fill="#4a8c38" opacity="0.39"/><rect x="712.7" y="367.1" width="1.2" height="172.5" fill="#4a8c38" opacity="0.37"/><rect x="714.6" y="367.1" width="1.0" height="172.5" fill="#4a8c38" opacity="0.35"/><rect x="717.4" y="367.1" width="1.4" height="172.5" fill="#4a8c38" opacity="0.20"/><rect x="719.4" y="367.1" width="1.0" height="172.5" fill="#6aa850" opacity="0.24"/><rect x="721.8" y="367.1" width="0.9" height="172.5" fill="#6aa850" opacity="0.44"/><rect x="724.4" y="367.1" width="0.8" height="172.5" fill="#6aa850" opacity="0.44"/><rect x="727.0" y="367.1" width="0.9" height="172.5" fill="#6aa850" opacity="0.36"/><rect x="729.6" y="367.1" width="1.4" height="172.5" fill="#6aa850" opacity="0.28"/><rect x="731.5" y="367.1" width="0.8" height="172.5" fill="#4a8c38" opacity="0.37"/><rect x="733.4" y="367.1" width="0.9" height="172.5" fill="#4a8c38" opacity="0.29"/></g>
<g fill="#c08a30" opacity="0.75" filter="url(#b05)"><ellipse cx="717.1" cy="442.5" rx="0.9" ry="1.3"/><ellipse cx="706.8" cy="433.4" rx="0.7" ry="1.2"/><ellipse cx="734.6" cy="373.0" rx="1.0" ry="1.8"/><ellipse cx="725.5" cy="370.4" rx="0.8" ry="1.0"/><ellipse cx="722.1" cy="487.9" rx="0.7" ry="1.0"/><ellipse cx="719.9" cy="383.4" rx="0.7" ry="1.4"/><ellipse cx="732.3" cy="430.9" rx="0.7" ry="1.7"/><ellipse cx="729.7" cy="458.4" rx="0.6" ry="1.2"/><ellipse cx="714.9" cy="462.3" rx="0.7" ry="1.7"/><ellipse cx="730.5" cy="526.7" rx="1.0" ry="1.0"/><ellipse cx="721.2" cy="381.0" rx="1.0" ry="1.7"/><ellipse cx="727.5" cy="399.6" rx="0.6" ry="1.7"/><ellipse cx="722.1" cy="474.1" rx="0.8" ry="1.7"/><ellipse cx="712.6" cy="413.6" rx="0.8" ry="1.3"/><ellipse cx="722.8" cy="520.7" rx="0.6" ry="1.1"/><ellipse cx="718.7" cy="484.1" rx="0.7" ry="1.2"/><ellipse cx="702.7" cy="373.5" rx="0.8" ry="1.6"/><ellipse cx="723.7" cy="394.4" rx="0.6" ry="1.8"/><ellipse cx="719.7" cy="437.6" rx="0.9" ry="1.7"/><ellipse cx="719.2" cy="380.6" rx="1.0" ry="1.2"/><ellipse cx="702.0" cy="427.9" rx="0.8" ry="1.6"/><ellipse cx="706.8" cy="489.5" rx="0.8" ry="1.1"/><ellipse cx="730.7" cy="506.3" rx="1.0" ry="1.6"/><ellipse cx="708.3" cy="501.2" rx="1.0" ry="1.5"/><ellipse cx="732.8" cy="534.5" rx="0.8" ry="1.8"/><ellipse cx="733.8" cy="504.0" rx="0.6" ry="1.3"/><ellipse cx="722.3" cy="471.8" rx="0.9" ry="1.6"/><ellipse cx="706.3" cy="527.7" rx="0.8" ry="1.8"/><ellipse cx="707.9" cy="539.3" rx="0.8" ry="1.7"/><ellipse cx="726.8" cy="519.4" rx="0.8" ry="1.1"/><ellipse cx="715.0" cy="397.9" rx="0.8" ry="1.7"/><ellipse cx="713.4" cy="389.7" rx="0.6" ry="1.4"/><ellipse cx="721.1" cy="371.6" rx="0.9" ry="1.2"/><ellipse cx="704.4" cy="527.1" rx="0.8" ry="1.8"/><ellipse cx="718.8" cy="388.3" rx="0.7" ry="1.4"/><ellipse cx="723.3" cy="500.1" rx="0.9" ry="1.6"/><ellipse cx="709.6" cy="441.3" rx="0.8" ry="1.4"/><ellipse cx="710.0" cy="459.9" rx="0.8" ry="1.0"/><ellipse cx="729.7" cy="468.3" rx="1.0" ry="1.7"/><ellipse cx="726.5" cy="538.5" rx="0.8" ry="1.4"/><ellipse cx="700.7" cy="481.7" rx="0.9" ry="1.5"/><ellipse cx="735.9" cy="401.1" rx="0.7" ry="1.7"/><ellipse cx="729.4" cy="450.4" rx="0.6" ry="1.3"/><ellipse cx="729.9" cy="453.3" rx="0.8" ry="1.4"/><ellipse cx="722.8" cy="470.3" rx="0.9" ry="1.8"/><ellipse cx="727.2" cy="431.8" rx="0.7" ry="1.7"/><ellipse cx="728.7" cy="527.2" rx="0.7" ry="1.8"/><ellipse cx="732.1" cy="380.4" rx="0.7" ry="1.6"/><ellipse cx="705.8" cy="510.5" rx="0.7" ry="1.6"/><ellipse cx="711.1" cy="404.7" rx="0.7" ry="1.4"/><ellipse cx="725.8" cy="404.7" rx="0.9" ry="1.3"/><ellipse cx="723.6" cy="430.6" rx="0.7" ry="1.1"/><ellipse cx="702.6" cy="487.2" rx="0.8" ry="1.1"/><ellipse cx="731.8" cy="480.1" rx="0.6" ry="1.7"/><ellipse cx="721.7" cy="443.6" rx="0.8" ry="1.9"/><ellipse cx="713.8" cy="476.8" rx="0.9" ry="1.3"/><ellipse cx="712.9" cy="497.3" rx="0.9" ry="1.4"/><ellipse cx="718.8" cy="405.7" rx="1.0" ry="1.0"/><ellipse cx="723.4" cy="445.6" rx="0.7" ry="1.5"/><ellipse cx="721.2" cy="382.1" rx="0.8" ry="1.1"/><ellipse cx="728.9" cy="423.5" rx="0.7" ry="1.2"/><ellipse cx="702.3" cy="399.3" rx="0.7" ry="1.6"/><ellipse cx="730.6" cy="405.2" rx="0.7" ry="1.5"/><ellipse cx="704.7" cy="437.0" rx="0.9" ry="1.2"/><ellipse cx="725.4" cy="460.0" rx="0.6" ry="1.2"/><ellipse cx="721.8" cy="383.7" rx="0.7" ry="1.5"/><ellipse cx="729.6" cy="456.9" rx="0.9" ry="1.0"/><ellipse cx="711.3" cy="422.0" rx="1.0" ry="1.3"/><ellipse cx="728.4" cy="373.0" rx="0.8" ry="1.8"/><ellipse cx="727.9" cy="467.1" rx="0.7" ry="1.8"/><ellipse cx="703.4" cy="533.5" rx="0.9" ry="1.6"/><ellipse cx="719.4" cy="395.4" rx="0.8" ry="1.6"/><ellipse cx="723.8" cy="434.3" rx="1.0" ry="1.0"/><ellipse cx="710.8" cy="382.7" rx="0.7" ry="1.7"/><ellipse cx="727.3" cy="392.9" rx="0.7" ry="1.1"/><ellipse cx="724.0" cy="443.4" rx="0.7" ry="1.3"/><ellipse cx="731.2" cy="440.4" rx="0.9" ry="1.6"/><ellipse cx="717.4" cy="463.1" rx="0.8" ry="1.2"/><ellipse cx="718.1" cy="419.6" rx="0.7" ry="1.2"/><ellipse cx="732.9" cy="440.5" rx="0.7" ry="1.0"/><ellipse cx="708.2" cy="516.9" rx="0.8" ry="1.6"/><ellipse cx="708.8" cy="479.3" rx="0.8" ry="1.7"/><ellipse cx="719.3" cy="431.9" rx="0.7" ry="1.5"/><ellipse cx="730.0" cy="486.4" rx="0.8" ry="1.3"/><ellipse cx="732.2" cy="513.1" rx="0.7" ry="1.6"/><ellipse cx="727.9" cy="483.7" rx="1.0" ry="1.8"/><ellipse cx="709.3" cy="539.0" rx="0.7" ry="1.3"/><ellipse cx="735.2" cy="396.0" rx="0.8" ry="1.6"/><ellipse cx="710.3" cy="413.2" rx="1.0" ry="1.6"/><ellipse cx="726.9" cy="503.4" rx="1.0" ry="1.8"/><ellipse cx="729.7" cy="535.9" rx="0.8" ry="1.6"/><ellipse cx="718.8" cy="534.3" rx="0.9" ry="1.4"/><ellipse cx="724.1" cy="418.0" rx="0.7" ry="1.3"/><ellipse cx="705.4" cy="367.8" rx="0.6" ry="1.4"/><ellipse cx="727.6" cy="375.5" rx="0.9" ry="1.1"/><ellipse cx="718.7" cy="418.1" rx="0.8" ry="1.6"/><ellipse cx="715.2" cy="434.7" rx="0.9" ry="1.1"/><ellipse cx="713.0" cy="488.2" rx="1.0" ry="1.9"/><ellipse cx="709.7" cy="474.9" rx="0.7" ry="1.6"/><ellipse cx="730.6" cy="390.4" rx="0.8" ry="1.8"/><ellipse cx="713.1" cy="476.1" rx="1.0" ry="1.3"/><ellipse cx="728.3" cy="367.7" rx="0.8" ry="1.2"/><ellipse cx="712.8" cy="403.9" rx="0.6" ry="1.7"/><ellipse cx="706.7" cy="466.0" rx="0.8" ry="1.8"/><ellipse cx="730.6" cy="474.3" rx="0.7" ry="1.7"/><ellipse cx="704.1" cy="527.3" rx="0.7" ry="1.2"/><ellipse cx="708.3" cy="435.4" rx="1.0" ry="1.8"/><ellipse cx="727.0" cy="492.9" rx="0.7" ry="1.3"/><ellipse cx="711.4" cy="441.9" rx="1.0" ry="1.9"/><ellipse cx="703.6" cy="533.5" rx="1.0" ry="1.4"/><ellipse cx="725.1" cy="502.4" rx="0.7" ry="1.6"/><ellipse cx="735.4" cy="519.0" rx="1.0" ry="1.1"/><ellipse cx="725.9" cy="451.0" rx="1.0" ry="1.2"/><ellipse cx="720.0" cy="387.9" rx="1.0" ry="1.7"/><ellipse cx="701.7" cy="420.5" rx="0.7" ry="1.6"/><ellipse cx="722.9" cy="377.9" rx="1.0" ry="1.9"/><ellipse cx="716.2" cy="466.1" rx="0.8" ry="1.5"/><ellipse cx="714.7" cy="443.1" rx="0.9" ry="1.2"/><ellipse cx="711.2" cy="498.8" rx="0.7" ry="1.1"/><ellipse cx="732.9" cy="394.6" rx="0.8" ry="1.3"/><ellipse cx="709.9" cy="427.9" rx="0.8" ry="1.1"/><ellipse cx="719.5" cy="375.9" rx="0.6" ry="1.2"/><ellipse cx="709.1" cy="426.0" rx="0.7" ry="1.8"/><ellipse cx="723.9" cy="448.7" rx="0.9" ry="1.6"/><ellipse cx="711.8" cy="473.3" rx="0.9" ry="1.5"/><ellipse cx="727.2" cy="476.3" rx="1.0" ry="1.2"/><ellipse cx="724.4" cy="535.6" rx="0.8" ry="1.8"/><ellipse cx="704.0" cy="491.9" rx="0.7" ry="1.7"/><ellipse cx="715.6" cy="459.4" rx="0.7" ry="1.2"/><ellipse cx="731.2" cy="478.1" rx="0.9" ry="1.1"/><ellipse cx="711.0" cy="534.1" rx="0.7" ry="1.5"/><ellipse cx="725.3" cy="455.2" rx="0.8" ry="1.9"/><ellipse cx="728.3" cy="408.0" rx="0.8" ry="1.4"/><ellipse cx="724.8" cy="483.5" rx="0.7" ry="1.6"/><ellipse cx="715.9" cy="369.7" rx="0.7" ry="1.3"/><ellipse cx="707.6" cy="482.8" rx="1.0" ry="1.8"/><ellipse cx="722.9" cy="515.0" rx="0.8" ry="1.5"/><ellipse cx="732.2" cy="377.4" rx="0.8" ry="1.3"/><ellipse cx="712.7" cy="440.9" rx="0.6" ry="1.6"/><ellipse cx="734.5" cy="407.5" rx="0.7" ry="1.3"/><ellipse cx="728.8" cy="406.2" rx="0.9" ry="1.2"/><ellipse cx="721.7" cy="491.5" rx="0.9" ry="1.1"/><ellipse cx="734.5" cy="513.4" rx="0.8" ry="1.8"/><ellipse cx="721.9" cy="396.2" rx="0.8" ry="1.7"/><ellipse cx="717.0" cy="374.3" rx="0.7" ry="1.2"/><ellipse cx="721.3" cy="478.2" rx="0.8" ry="1.4"/><ellipse cx="734.7" cy="426.2" rx="0.9" ry="1.2"/><ellipse cx="718.8" cy="398.1" rx="0.7" ry="1.3"/><ellipse cx="704.7" cy="432.9" rx="0.9" ry="1.5"/><ellipse cx="728.8" cy="449.4" rx="0.6" ry="1.7"/><ellipse cx="714.8" cy="496.7" rx="1.0" ry="1.5"/><ellipse cx="709.5" cy="428.8" rx="0.8" ry="1.3"/><ellipse cx="704.2" cy="435.8" rx="0.9" ry="1.7"/><ellipse cx="727.6" cy="519.6" rx="1.0" ry="1.4"/><ellipse cx="723.4" cy="376.4" rx="1.0" ry="1.6"/><ellipse cx="710.0" cy="448.6" rx="0.7" ry="1.7"/><ellipse cx="715.7" cy="501.8" rx="1.0" ry="1.7"/><ellipse cx="714.1" cy="426.2" rx="1.0" ry="1.8"/><ellipse cx="707.3" cy="429.6" rx="1.0" ry="1.7"/><ellipse cx="710.6" cy="444.1" rx="1.0" ry="1.1"/><ellipse cx="710.3" cy="481.7" rx="1.0" ry="1.9"/><ellipse cx="717.2" cy="503.4" rx="1.0" ry="1.3"/><ellipse cx="708.7" cy="411.9" rx="1.0" ry="1.1"/><ellipse cx="720.0" cy="527.5" rx="0.7" ry="1.6"/><ellipse cx="719.4" cy="533.8" rx="0.8" ry="1.4"/><ellipse cx="732.6" cy="496.9" rx="0.7" ry="1.7"/><ellipse cx="714.7" cy="534.2" rx="1.0" ry="1.4"/><ellipse cx="715.3" cy="406.3" rx="0.7" ry="1.2"/><ellipse cx="706.6" cy="493.1" rx="0.6" ry="1.5"/><ellipse cx="721.8" cy="494.0" rx="0.9" ry="1.8"/><ellipse cx="710.6" cy="383.2" rx="0.9" ry="1.2"/><ellipse cx="735.6" cy="526.1" rx="0.9" ry="1.8"/><ellipse cx="709.3" cy="450.8" rx="0.8" ry="1.3"/><ellipse cx="713.8" cy="449.5" rx="0.9" ry="1.0"/><ellipse cx="719.7" cy="389.2" rx="1.0" ry="1.5"/><ellipse cx="721.5" cy="421.4" rx="0.9" ry="1.6"/><ellipse cx="732.8" cy="467.3" rx="0.7" ry="1.6"/><ellipse cx="702.4" cy="495.4" rx="0.7" ry="1.6"/><ellipse cx="705.3" cy="470.2" rx="0.7" ry="1.0"/><ellipse cx="709.9" cy="513.5" rx="0.8" ry="1.5"/><ellipse cx="728.6" cy="535.9" rx="0.7" ry="1.6"/><ellipse cx="728.3" cy="504.0" rx="0.8" ry="1.4"/><ellipse cx="728.4" cy="410.4" rx="0.8" ry="1.6"/><ellipse cx="730.7" cy="409.2" rx="0.9" ry="1.2"/><ellipse cx="706.2" cy="449.4" rx="0.9" ry="1.6"/><ellipse cx="734.2" cy="395.4" rx="0.8" ry="1.4"/><ellipse cx="709.8" cy="525.4" rx="0.7" ry="1.2"/><ellipse cx="702.0" cy="478.1" rx="0.9" ry="1.2"/><ellipse cx="733.2" cy="476.6" rx="0.7" ry="1.8"/><ellipse cx="730.8" cy="421.2" rx="1.0" ry="1.1"/><ellipse cx="712.9" cy="439.3" rx="1.0" ry="1.3"/><ellipse cx="714.3" cy="402.9" rx="1.0" ry="1.2"/><ellipse cx="730.6" cy="425.9" rx="0.8" ry="1.8"/><ellipse cx="710.0" cy="458.3" rx="0.9" ry="1.5"/><ellipse cx="715.0" cy="478.5" rx="0.7" ry="1.1"/><ellipse cx="700.9" cy="471.6" rx="0.9" ry="1.7"/><ellipse cx="706.2" cy="483.2" rx="0.8" ry="1.5"/><ellipse cx="730.0" cy="456.6" rx="0.8" ry="1.6"/><ellipse cx="705.8" cy="517.7" rx="0.8" ry="1.0"/><ellipse cx="717.6" cy="530.2" rx="1.0" ry="1.4"/><ellipse cx="710.0" cy="528.6" rx="0.7" ry="1.0"/><ellipse cx="709.3" cy="448.3" rx="0.9" ry="1.1"/><ellipse cx="712.4" cy="492.6" rx="0.8" ry="1.2"/><ellipse cx="725.8" cy="442.4" rx="0.9" ry="1.4"/><ellipse cx="729.4" cy="455.4" rx="1.0" ry="1.7"/><ellipse cx="726.1" cy="451.7" rx="0.9" ry="1.3"/><ellipse cx="703.3" cy="519.7" rx="1.0" ry="1.7"/><ellipse cx="731.0" cy="462.1" rx="1.0" ry="1.4"/><ellipse cx="735.3" cy="381.0" rx="0.8" ry="1.5"/><ellipse cx="729.6" cy="456.9" rx="1.0" ry="1.3"/><ellipse cx="724.6" cy="504.5" rx="0.9" ry="1.0"/><ellipse cx="723.9" cy="367.1" rx="0.7" ry="1.1"/><ellipse cx="727.6" cy="396.1" rx="0.9" ry="1.1"/><ellipse cx="707.9" cy="487.0" rx="1.0" ry="1.1"/><ellipse cx="722.3" cy="435.7" rx="0.9" ry="1.1"/><ellipse cx="701.2" cy="380.7" rx="1.0" ry="1.4"/><ellipse cx="722.3" cy="390.1" rx="0.9" ry="1.8"/><ellipse cx="707.6" cy="501.8" rx="1.0" ry="1.9"/><ellipse cx="720.6" cy="478.4" rx="0.8" ry="1.7"/><ellipse cx="711.6" cy="474.7" rx="0.9" ry="1.9"/><ellipse cx="728.5" cy="383.6" rx="0.7" ry="1.3"/><ellipse cx="714.6" cy="490.7" rx="0.7" ry="1.5"/><ellipse cx="716.6" cy="419.8" rx="0.9" ry="1.4"/><ellipse cx="735.3" cy="389.4" rx="1.0" ry="1.6"/><ellipse cx="716.8" cy="380.5" rx="0.9" ry="1.7"/><ellipse cx="713.0" cy="490.0" rx="0.8" ry="1.1"/><ellipse cx="731.0" cy="420.9" rx="0.8" ry="1.7"/><ellipse cx="731.6" cy="514.4" rx="0.8" ry="1.8"/><ellipse cx="706.0" cy="462.3" rx="0.8" ry="1.8"/><ellipse cx="726.2" cy="480.8" rx="1.0" ry="1.3"/><ellipse cx="716.3" cy="384.8" rx="0.8" ry="1.2"/><ellipse cx="726.5" cy="389.4" rx="1.0" ry="1.5"/><ellipse cx="716.4" cy="387.7" rx="0.8" ry="1.5"/><ellipse cx="705.7" cy="535.6" rx="0.8" ry="1.4"/><ellipse cx="710.7" cy="431.5" rx="0.7" ry="1.8"/><ellipse cx="703.1" cy="430.0" rx="0.9" ry="1.4"/><ellipse cx="712.1" cy="450.6" rx="0.6" ry="1.3"/><ellipse cx="716.0" cy="499.4" rx="0.8" ry="1.4"/><ellipse cx="723.8" cy="414.8" rx="0.8" ry="1.2"/><ellipse cx="722.4" cy="460.1" rx="0.9" ry="1.8"/><ellipse cx="728.7" cy="537.6" rx="0.7" ry="1.9"/><ellipse cx="716.3" cy="430.3" rx="0.8" ry="1.8"/><ellipse cx="734.4" cy="506.0" rx="0.7" ry="1.1"/><ellipse cx="707.8" cy="483.1" rx="0.9" ry="1.1"/><ellipse cx="700.7" cy="538.8" rx="0.8" ry="1.0"/><ellipse cx="717.1" cy="384.0" rx="1.0" ry="1.5"/><ellipse cx="722.3" cy="527.0" rx="0.7" ry="1.2"/><ellipse cx="728.5" cy="471.8" rx="0.8" ry="1.3"/><ellipse cx="722.5" cy="530.1" rx="1.0" ry="1.8"/><ellipse cx="735.2" cy="389.8" rx="0.6" ry="1.7"/><ellipse cx="709.3" cy="457.1" rx="0.8" ry="1.9"/><ellipse cx="716.3" cy="390.3" rx="0.7" ry="1.8"/><ellipse cx="729.5" cy="391.2" rx="1.0" ry="1.3"/><ellipse cx="726.3" cy="464.5" rx="1.0" ry="1.4"/><ellipse cx="701.6" cy="463.3" rx="1.0" ry="1.4"/><ellipse cx="729.9" cy="444.1" rx="0.8" ry="1.3"/><ellipse cx="708.7" cy="453.5" rx="1.0" ry="1.5"/><ellipse cx="727.8" cy="398.0" rx="0.8" ry="1.5"/><ellipse cx="714.2" cy="368.6" rx="1.0" ry="1.1"/><ellipse cx="723.9" cy="536.3" rx="0.7" ry="1.2"/><ellipse cx="712.3" cy="460.6" rx="1.0" ry="1.1"/><ellipse cx="709.3" cy="521.7" rx="0.7" ry="1.6"/><ellipse cx="726.1" cy="367.2" rx="0.6" ry="1.7"/><ellipse cx="733.1" cy="486.9" rx="0.8" ry="1.1"/><ellipse cx="719.3" cy="386.0" rx="0.7" ry="1.0"/><ellipse cx="718.8" cy="447.7" rx="0.7" ry="1.2"/><ellipse cx="702.9" cy="371.9" rx="0.7" ry="1.9"/><ellipse cx="701.8" cy="490.7" rx="0.8" ry="1.5"/><ellipse cx="711.4" cy="536.3" rx="1.0" ry="1.4"/><ellipse cx="715.9" cy="525.4" rx="0.7" ry="1.8"/><ellipse cx="722.5" cy="464.9" rx="0.8" ry="1.5"/><ellipse cx="703.8" cy="410.1" rx="0.8" ry="1.2"/><ellipse cx="703.6" cy="490.0" rx="0.8" ry="1.7"/><ellipse cx="714.5" cy="529.5" rx="0.7" ry="1.5"/><ellipse cx="715.6" cy="503.6" rx="0.7" ry="1.5"/><ellipse cx="716.7" cy="474.8" rx="0.7" ry="1.5"/><ellipse cx="735.5" cy="384.8" rx="1.0" ry="1.9"/><ellipse cx="716.5" cy="381.1" rx="0.8" ry="1.9"/><ellipse cx="700.6" cy="497.0" rx="1.0" ry="1.1"/><ellipse cx="721.9" cy="392.7" rx="0.6" ry="1.5"/><ellipse cx="711.1" cy="480.8" rx="0.8" ry="1.2"/><ellipse cx="733.2" cy="368.2" rx="1.0" ry="1.3"/><ellipse cx="732.4" cy="471.8" rx="0.8" ry="1.2"/><ellipse cx="730.9" cy="515.1" rx="1.0" ry="1.5"/><ellipse cx="733.3" cy="521.5" rx="0.9" ry="1.3"/><ellipse cx="722.0" cy="426.3" rx="1.0" ry="1.5"/><ellipse cx="731.3" cy="521.0" rx="0.9" ry="1.2"/><ellipse cx="712.5" cy="381.8" rx="0.8" ry="1.1"/><ellipse cx="711.2" cy="504.1" rx="0.7" ry="1.8"/><ellipse cx="733.2" cy="500.2" rx="0.7" ry="1.3"/><ellipse cx="716.8" cy="473.8" rx="1.0" ry="1.0"/><ellipse cx="703.6" cy="508.9" rx="0.6" ry="1.8"/><ellipse cx="707.2" cy="535.5" rx="0.8" ry="1.5"/><ellipse cx="729.8" cy="509.1" rx="0.8" ry="1.4"/><ellipse cx="728.5" cy="411.3" rx="0.7" ry="1.8"/><ellipse cx="731.8" cy="509.9" rx="0.8" ry="1.3"/><ellipse cx="704.3" cy="510.7" rx="0.6" ry="1.2"/><ellipse cx="701.5" cy="446.0" rx="1.0" ry="1.1"/><ellipse cx="709.5" cy="413.4" rx="0.9" ry="1.3"/><ellipse cx="706.8" cy="486.4" rx="1.0" ry="1.1"/><ellipse cx="702.8" cy="437.4" rx="1.0" ry="1.1"/><ellipse cx="705.5" cy="478.5" rx="0.9" ry="1.4"/><ellipse cx="702.2" cy="462.1" rx="0.6" ry="1.1"/><ellipse cx="702.6" cy="528.7" rx="0.6" ry="1.4"/><ellipse cx="729.7" cy="401.7" rx="0.8" ry="1.7"/><ellipse cx="720.6" cy="400.6" rx="0.8" ry="1.9"/><ellipse cx="729.6" cy="533.1" rx="0.6" ry="1.1"/><ellipse cx="718.4" cy="369.3" rx="1.0" ry="1.3"/><ellipse cx="720.1" cy="518.4" rx="0.8" ry="1.7"/><ellipse cx="706.1" cy="443.9" rx="0.9" ry="1.4"/><ellipse cx="707.2" cy="515.3" rx="0.8" ry="1.8"/><ellipse cx="711.7" cy="509.8" rx="0.7" ry="1.6"/><ellipse cx="734.3" cy="475.4" rx="0.8" ry="1.9"/><ellipse cx="734.8" cy="508.9" rx="0.7" ry="1.1"/><ellipse cx="722.3" cy="390.2" rx="0.6" ry="1.5"/><ellipse cx="734.0" cy="413.8" rx="1.0" ry="1.9"/><ellipse cx="733.9" cy="381.1" rx="0.7" ry="1.9"/><ellipse cx="734.8" cy="396.7" rx="0.7" ry="1.6"/><ellipse cx="704.0" cy="385.0" rx="0.7" ry="1.5"/><ellipse cx="713.7" cy="512.4" rx="0.7" ry="1.8"/></g>
<rect x="718.3" y="367.1" width="0.8" height="172.5" fill="#2a5a20" opacity="0.6"/>
<rect x="708.4" y="367.1" width="0.6" height="172.5" fill="#3a6a28" opacity="0.3"/>
<rect x="700.6" y="367.1" width="35.39999999999998" height="172.5" fill="none" stroke="#6e7a50" stroke-width="1.2" opacity="0.35"/>
</g>
<g clip-path="url(#lf22)">
<rect x="753.6" y="367.1" width="35.39999999999998" height="172.5" fill="#a8b846"/>
<rect x="753.6" y="367.1" width="35.39999999999998" height="172.5" fill="url(#lg22)"/>
<ellipse cx="787.5" cy="391.3" rx="2.1" ry="10.0" fill="#c8b040" opacity="0.5" filter="url(#b15)"/>
<ellipse cx="760.1" cy="387.9" rx="4.0" ry="6.1" fill="#c8b040" opacity="0.5" filter="url(#b15)"/>
<ellipse cx="785.1" cy="407.1" rx="4.9" ry="5.9" fill="#c8b040" opacity="0.5" filter="url(#b15)"/>
<ellipse cx="774.9" cy="527.9" rx="4.1" ry="9.5" fill="#c8b040" opacity="0.5" filter="url(#b15)"/>
<ellipse cx="778.7" cy="375.5" rx="4.6" ry="7.5" fill="#c8b040" opacity="0.5" filter="url(#b15)"/>
<ellipse cx="764.6" cy="399.9" rx="4.5" ry="7.5" fill="#c8b040" opacity="0.5" filter="url(#b15)"/>
<ellipse cx="786.8" cy="500.6" rx="4.9" ry="7.4" fill="#c8b040" opacity="0.5" filter="url(#b15)"/>
<ellipse cx="778.3" cy="472.7" rx="2.8" ry="9.7" fill="#c8b040" opacity="0.5" filter="url(#b15)"/>
<ellipse cx="764.7" cy="501.8" rx="4.9" ry="7.9" fill="#c8b040" opacity="0.5" filter="url(#b15)"/>
<ellipse cx="758.6" cy="509.5" rx="4.0" ry="5.1" fill="#c8b040" opacity="0.5" filter="url(#b15)"/>
<ellipse cx="755.3" cy="458.8" rx="2.1" ry="9.6" fill="#c8b040" opacity="0.5" filter="url(#b15)"/>
<ellipse cx="771.5" cy="456.3" rx="3.2" ry="8.0" fill="#c8b040" opacity="0.5" filter="url(#b15)"/>
<ellipse cx="786.0" cy="420.1" rx="3.1" ry="7.5" fill="#c8b040" opacity="0.5" filter="url(#b15)"/>
<ellipse cx="764.1" cy="469.8" rx="3.6" ry="6.6" fill="#c8b040" opacity="0.5" filter="url(#b15)"/>
<ellipse cx="777.4" cy="458.2" rx="2.3" ry="10.0" fill="#c8b040" opacity="0.5" filter="url(#b15)"/>
<ellipse cx="766.2" cy="441.6" rx="3.2" ry="9.6" fill="#c8b040" opacity="0.5" filter="url(#b15)"/>
<ellipse cx="787.3" cy="455.4" rx="3.2" ry="4.6" fill="#c8b040" opacity="0.5" filter="url(#b15)"/>
<ellipse cx="785.3" cy="396.7" rx="3.6" ry="6.1" fill="#c8b040" opacity="0.5" filter="url(#b15)"/>
<ellipse cx="765.2" cy="428.7" rx="2.6" ry="4.2" fill="#c8b040" opacity="0.5" filter="url(#b15)"/>
<ellipse cx="772.6" cy="504.4" rx="3.9" ry="5.2" fill="#c8b040" opacity="0.5" filter="url(#b15)"/>
<ellipse cx="778.2" cy="376.1" rx="3.2" ry="9.0" fill="#c8b040" opacity="0.5" filter="url(#b15)"/>
<ellipse cx="786.2" cy="446.5" rx="4.5" ry="7.0" fill="#c8b040" opacity="0.5" filter="url(#b15)"/>
<ellipse cx="772.1" cy="467.9" rx="5.0" ry="8.5" fill="#c8b040" opacity="0.5" filter="url(#b15)"/>
<ellipse cx="770.3" cy="492.6" rx="3.9" ry="6.1" fill="#c8b040" opacity="0.5" filter="url(#b15)"/>
<ellipse cx="781.4" cy="508.5" rx="3.8" ry="9.7" fill="#c8b040" opacity="0.5" filter="url(#b15)"/>
<ellipse cx="754.2" cy="453.4" rx="3.9" ry="6.0" fill="#c8b040" opacity="0.5" filter="url(#b15)"/>
<ellipse cx="759.7" cy="486.5" rx="3.3" ry="5.6" fill="#c8b040" opacity="0.5" filter="url(#b15)"/>
<ellipse cx="755.1" cy="533.9" rx="3.1" ry="4.7" fill="#c8b040" opacity="0.5" filter="url(#b15)"/>
<ellipse cx="761.3" cy="411.1" rx="4.6" ry="5.1" fill="#c8b040" opacity="0.5" filter="url(#b15)"/>
<ellipse cx="763.4" cy="383.9" rx="3.4" ry="5.2" fill="#c8b040" opacity="0.5" filter="url(#b15)"/>
<ellipse cx="765.8" cy="493.9" rx="4.8" ry="9.0" fill="#c8b040" opacity="0.5" filter="url(#b15)"/>
<ellipse cx="755.0" cy="432.3" rx="4.5" ry="4.2" fill="#c8b040" opacity="0.5" filter="url(#b15)"/>
<ellipse cx="760.8" cy="451.6" rx="3.1" ry="8.5" fill="#c8b040" opacity="0.5" filter="url(#b15)"/>
<ellipse cx="779.0" cy="447.2" rx="2.7" ry="5.4" fill="#c8b040" opacity="0.5" filter="url(#b15)"/>
<ellipse cx="763.0" cy="378.3" rx="4.0" ry="4.9" fill="#c8b040" opacity="0.5" filter="url(#b15)"/>
<ellipse cx="785.1" cy="478.5" rx="2.2" ry="7.0" fill="#c8b040" opacity="0.5" filter="url(#b15)"/>
<ellipse cx="775.0" cy="374.4" rx="3.5" ry="4.2" fill="#c8b040" opacity="0.5" filter="url(#b15)"/>
<ellipse cx="780.7" cy="367.8" rx="3.9" ry="9.9" fill="#c8b040" opacity="0.5" filter="url(#b15)"/>
<ellipse cx="783.6" cy="407.3" rx="3.6" ry="4.8" fill="#c8b040" opacity="0.5" filter="url(#b15)"/>
<ellipse cx="765.7" cy="516.1" rx="4.5" ry="4.1" fill="#c8b040" opacity="0.5" filter="url(#b15)"/>
<ellipse cx="767.0" cy="477.5" rx="3.9" ry="17.6" fill="#7aa43c" opacity="0.5" filter="url(#b3)"/>
<ellipse cx="785.2" cy="462.2" rx="4.8" ry="18.2" fill="#7aa43c" opacity="0.5" filter="url(#b3)"/>
<ellipse cx="771.8" cy="399.6" rx="4.4" ry="9.9" fill="#7aa43c" opacity="0.5" filter="url(#b3)"/>
<ellipse cx="783.3" cy="455.1" rx="6.5" ry="17.8" fill="#7aa43c" opacity="0.5" filter="url(#b3)"/>
<ellipse cx="788.1" cy="400.0" rx="5.0" ry="18.5" fill="#7aa43c" opacity="0.5" filter="url(#b3)"/>
<ellipse cx="780.6" cy="433.8" rx="6.3" ry="10.3" fill="#7aa43c" opacity="0.5" filter="url(#b3)"/>
<g filter="url(#b05)"><rect x="753.9" y="367.1" width="1.0" height="172.5" fill="#b8c860" opacity="0.26"/><rect x="756.2" y="367.1" width="0.8" height="172.5" fill="#8aac40" opacity="0.34"/><rect x="759.1" y="367.1" width="1.1" height="172.5" fill="#8aac40" opacity="0.39"/><rect x="760.7" y="367.1" width="1.2" height="172.5" fill="#8aac40" opacity="0.40"/><rect x="763.4" y="367.1" width="0.7" height="172.5" fill="#b8c860" opacity="0.24"/><rect x="765.8" y="367.1" width="1.3" height="172.5" fill="#8aac40" opacity="0.30"/><rect x="768.2" y="367.1" width="0.9" height="172.5" fill="#8aac40" opacity="0.44"/><rect x="771.1" y="367.1" width="1.3" height="172.5" fill="#8aac40" opacity="0.40"/><rect x="773.7" y="367.1" width="0.9" height="172.5" fill="#b8c860" opacity="0.26"/><rect x="775.3" y="367.1" width="0.9" height="172.5" fill="#8aac40" opacity="0.21"/><rect x="777.4" y="367.1" width="1.0" height="172.5" fill="#b8c860" opacity="0.28"/><rect x="779.2" y="367.1" width="1.0" height="172.5" fill="#b8c860" opacity="0.29"/><rect x="782.0" y="367.1" width="1.1" height="172.5" fill="#b8c860" opacity="0.42"/><rect x="784.9" y="367.1" width="0.7" height="172.5" fill="#b8c860" opacity="0.44"/><rect x="787.2" y="367.1" width="0.8" height="172.5" fill="#b8c860" opacity="0.26"/></g>
<g fill="#d4a030" opacity="0.7" filter="url(#b05)"><ellipse cx="758.5" cy="375.6" rx="1.0" ry="1.7"/><ellipse cx="757.6" cy="450.0" rx="1.0" ry="1.5"/><ellipse cx="756.1" cy="425.7" rx="0.8" ry="1.8"/><ellipse cx="774.2" cy="446.3" rx="0.9" ry="1.0"/><ellipse cx="777.9" cy="506.5" rx="0.9" ry="1.3"/><ellipse cx="763.7" cy="368.9" rx="0.6" ry="1.1"/><ellipse cx="769.6" cy="501.4" rx="0.7" ry="1.4"/><ellipse cx="776.1" cy="475.7" rx="0.6" ry="1.8"/><ellipse cx="774.3" cy="419.4" rx="0.7" ry="1.6"/><ellipse cx="786.6" cy="425.3" rx="0.8" ry="1.5"/><ellipse cx="759.8" cy="437.1" rx="1.0" ry="1.5"/><ellipse cx="782.7" cy="412.3" rx="1.0" ry="1.7"/><ellipse cx="761.6" cy="458.5" rx="0.9" ry="1.5"/><ellipse cx="774.9" cy="408.5" rx="0.8" ry="1.3"/><ellipse cx="781.8" cy="431.4" rx="1.0" ry="1.5"/><ellipse cx="761.7" cy="438.8" rx="0.7" ry="1.7"/><ellipse cx="755.2" cy="471.5" rx="0.7" ry="1.7"/><ellipse cx="758.1" cy="484.5" rx="0.9" ry="1.2"/><ellipse cx="758.2" cy="431.4" rx="0.9" ry="1.2"/><ellipse cx="753.9" cy="443.2" rx="1.0" ry="1.1"/><ellipse cx="786.9" cy="454.8" rx="0.7" ry="1.1"/><ellipse cx="766.7" cy="449.3" rx="0.7" ry="1.1"/><ellipse cx="771.3" cy="410.9" rx="0.8" ry="1.4"/><ellipse cx="778.3" cy="466.7" rx="0.7" ry="1.2"/><ellipse cx="784.0" cy="375.8" rx="0.7" ry="1.1"/><ellipse cx="782.9" cy="460.4" rx="1.0" ry="1.6"/><ellipse cx="765.5" cy="441.4" rx="0.9" ry="1.2"/><ellipse cx="782.0" cy="437.4" rx="0.6" ry="1.3"/><ellipse cx="773.4" cy="392.4" rx="1.0" ry="1.8"/><ellipse cx="771.7" cy="523.1" rx="0.9" ry="1.5"/><ellipse cx="759.2" cy="531.5" rx="1.0" ry="1.4"/><ellipse cx="767.2" cy="379.8" rx="0.9" ry="1.8"/><ellipse cx="767.4" cy="416.9" rx="0.9" ry="1.7"/><ellipse cx="759.6" cy="415.8" rx="0.9" ry="1.0"/><ellipse cx="782.5" cy="421.5" rx="1.0" ry="1.4"/><ellipse cx="759.5" cy="370.4" rx="0.7" ry="1.2"/><ellipse cx="780.4" cy="504.1" rx="0.9" ry="1.3"/><ellipse cx="777.1" cy="493.5" rx="0.8" ry="1.1"/><ellipse cx="770.2" cy="405.4" rx="0.7" ry="1.4"/><ellipse cx="756.2" cy="522.0" rx="0.7" ry="1.8"/><ellipse cx="779.7" cy="369.0" rx="1.0" ry="1.7"/><ellipse cx="772.2" cy="519.6" rx="0.8" ry="1.0"/><ellipse cx="758.9" cy="420.7" rx="1.0" ry="1.7"/><ellipse cx="757.8" cy="427.5" rx="0.7" ry="1.2"/><ellipse cx="766.1" cy="438.6" rx="0.7" ry="1.6"/><ellipse cx="762.2" cy="520.6" rx="0.8" ry="1.4"/><ellipse cx="780.7" cy="426.6" rx="0.7" ry="1.1"/><ellipse cx="764.0" cy="407.6" rx="0.9" ry="1.3"/><ellipse cx="778.6" cy="414.6" rx="0.6" ry="1.3"/><ellipse cx="767.5" cy="524.1" rx="0.7" ry="1.2"/><ellipse cx="759.1" cy="410.8" rx="1.0" ry="1.8"/><ellipse cx="761.7" cy="375.7" rx="0.8" ry="1.5"/><ellipse cx="757.6" cy="439.2" rx="0.9" ry="1.0"/><ellipse cx="779.0" cy="485.2" rx="1.0" ry="1.4"/><ellipse cx="770.0" cy="456.5" rx="0.7" ry="1.5"/><ellipse cx="762.1" cy="422.5" rx="0.6" ry="1.1"/><ellipse cx="755.6" cy="460.4" rx="0.7" ry="1.5"/><ellipse cx="771.4" cy="407.3" rx="0.7" ry="1.5"/><ellipse cx="777.6" cy="486.2" rx="0.8" ry="1.5"/><ellipse cx="754.5" cy="419.9" rx="1.0" ry="1.3"/><ellipse cx="757.3" cy="439.7" rx="1.0" ry="1.1"/><ellipse cx="757.6" cy="453.1" rx="1.0" ry="1.4"/><ellipse cx="762.4" cy="499.6" rx="0.6" ry="1.3"/><ellipse cx="774.8" cy="513.6" rx="1.0" ry="1.3"/><ellipse cx="763.0" cy="429.8" rx="0.7" ry="1.2"/><ellipse cx="780.7" cy="536.0" rx="0.7" ry="1.1"/><ellipse cx="779.8" cy="533.8" rx="1.0" ry="1.4"/><ellipse cx="779.9" cy="498.3" rx="0.9" ry="1.4"/><ellipse cx="789.0" cy="501.8" rx="0.7" ry="1.4"/><ellipse cx="756.8" cy="431.7" rx="1.0" ry="1.4"/><ellipse cx="772.2" cy="501.5" rx="0.6" ry="1.3"/><ellipse cx="770.7" cy="452.3" rx="0.9" ry="1.8"/><ellipse cx="782.0" cy="461.2" rx="0.9" ry="1.5"/><ellipse cx="788.5" cy="470.0" rx="0.9" ry="1.4"/><ellipse cx="768.4" cy="498.9" rx="0.8" ry="1.8"/><ellipse cx="779.4" cy="531.9" rx="0.9" ry="1.5"/><ellipse cx="766.6" cy="370.2" rx="0.9" ry="1.7"/><ellipse cx="779.2" cy="498.0" rx="0.6" ry="1.6"/><ellipse cx="763.5" cy="434.1" rx="1.0" ry="1.4"/><ellipse cx="770.1" cy="375.8" rx="0.7" ry="1.2"/><ellipse cx="761.2" cy="457.2" rx="0.6" ry="1.1"/><ellipse cx="756.7" cy="493.6" rx="1.0" ry="1.7"/><ellipse cx="771.8" cy="389.6" rx="1.0" ry="1.1"/><ellipse cx="756.3" cy="455.3" rx="1.0" ry="1.3"/><ellipse cx="784.2" cy="424.4" rx="1.0" ry="1.7"/><ellipse cx="784.2" cy="536.9" rx="1.0" ry="1.2"/><ellipse cx="771.9" cy="461.1" rx="0.9" ry="1.2"/><ellipse cx="774.0" cy="416.1" rx="0.7" ry="1.4"/><ellipse cx="782.0" cy="462.6" rx="0.8" ry="1.2"/><ellipse cx="766.3" cy="435.9" rx="0.7" ry="1.3"/><ellipse cx="761.6" cy="417.8" rx="0.9" ry="1.6"/><ellipse cx="775.8" cy="526.5" rx="0.9" ry="1.1"/><ellipse cx="767.9" cy="457.5" rx="0.9" ry="1.5"/><ellipse cx="756.9" cy="449.2" rx="0.9" ry="1.7"/><ellipse cx="769.4" cy="404.0" rx="0.6" ry="1.5"/><ellipse cx="780.1" cy="386.1" rx="0.8" ry="1.5"/><ellipse cx="773.4" cy="407.1" rx="0.6" ry="1.0"/><ellipse cx="764.4" cy="521.8" rx="0.8" ry="1.9"/><ellipse cx="782.8" cy="467.8" rx="0.8" ry="1.5"/><ellipse cx="783.3" cy="424.8" rx="0.7" ry="1.8"/><ellipse cx="775.9" cy="432.3" rx="0.8" ry="1.1"/><ellipse cx="773.7" cy="502.7" rx="0.8" ry="1.6"/><ellipse cx="779.7" cy="424.2" rx="0.9" ry="1.9"/><ellipse cx="778.9" cy="398.7" rx="0.9" ry="1.6"/><ellipse cx="781.1" cy="488.2" rx="1.0" ry="1.9"/><ellipse cx="761.0" cy="449.8" rx="0.6" ry="1.9"/><ellipse cx="757.4" cy="440.6" rx="0.9" ry="1.4"/><ellipse cx="759.7" cy="453.8" rx="0.7" ry="1.4"/><ellipse cx="778.9" cy="418.7" rx="0.8" ry="1.6"/><ellipse cx="772.4" cy="505.3" rx="1.0" ry="1.9"/><ellipse cx="759.4" cy="450.3" rx="0.7" ry="1.6"/><ellipse cx="767.6" cy="513.6" rx="0.8" ry="1.7"/><ellipse cx="754.7" cy="472.9" rx="0.8" ry="1.7"/><ellipse cx="757.3" cy="382.4" rx="0.9" ry="1.3"/><ellipse cx="769.0" cy="436.8" rx="1.0" ry="1.6"/><ellipse cx="783.1" cy="511.9" rx="1.0" ry="1.4"/><ellipse cx="763.9" cy="456.0" rx="1.0" ry="1.8"/><ellipse cx="770.5" cy="523.5" rx="0.9" ry="1.0"/><ellipse cx="776.0" cy="504.0" rx="0.6" ry="1.3"/><ellipse cx="776.4" cy="454.6" rx="0.8" ry="1.1"/><ellipse cx="762.9" cy="517.0" rx="0.8" ry="1.4"/><ellipse cx="774.5" cy="415.9" rx="0.8" ry="1.5"/><ellipse cx="784.4" cy="512.4" rx="0.7" ry="1.5"/><ellipse cx="780.2" cy="521.8" rx="0.8" ry="1.6"/><ellipse cx="776.5" cy="482.2" rx="1.0" ry="1.9"/><ellipse cx="788.7" cy="388.6" rx="0.9" ry="1.3"/><ellipse cx="763.5" cy="384.3" rx="1.0" ry="1.8"/><ellipse cx="772.3" cy="452.9" rx="0.7" ry="1.8"/><ellipse cx="780.4" cy="395.9" rx="0.9" ry="1.9"/><ellipse cx="762.9" cy="431.5" rx="0.8" ry="1.3"/><ellipse cx="757.8" cy="475.5" rx="0.7" ry="1.6"/><ellipse cx="770.2" cy="512.5" rx="0.9" ry="1.8"/><ellipse cx="759.1" cy="504.2" rx="0.9" ry="1.3"/><ellipse cx="753.6" cy="384.2" rx="0.9" ry="1.9"/><ellipse cx="756.0" cy="409.1" rx="0.8" ry="1.1"/><ellipse cx="776.3" cy="515.1" rx="1.0" ry="1.2"/><ellipse cx="785.8" cy="502.6" rx="0.7" ry="1.8"/><ellipse cx="786.5" cy="518.8" rx="0.9" ry="1.7"/><ellipse cx="772.5" cy="368.6" rx="0.9" ry="1.4"/><ellipse cx="758.9" cy="390.1" rx="1.0" ry="1.8"/><ellipse cx="755.4" cy="370.3" rx="0.9" ry="1.3"/><ellipse cx="784.4" cy="446.8" rx="0.9" ry="1.0"/><ellipse cx="781.1" cy="401.5" rx="0.8" ry="1.4"/><ellipse cx="765.1" cy="409.1" rx="0.8" ry="1.0"/><ellipse cx="759.2" cy="389.6" rx="1.0" ry="1.3"/><ellipse cx="788.4" cy="522.4" rx="0.7" ry="1.8"/><ellipse cx="788.5" cy="443.5" rx="0.8" ry="1.6"/><ellipse cx="771.0" cy="412.5" rx="0.9" ry="1.2"/><ellipse cx="767.2" cy="371.0" rx="0.7" ry="1.7"/><ellipse cx="758.5" cy="399.9" rx="0.8" ry="1.3"/><ellipse cx="753.8" cy="376.5" rx="0.7" ry="1.7"/><ellipse cx="781.1" cy="506.2" rx="0.9" ry="1.9"/><ellipse cx="762.7" cy="489.2" rx="0.8" ry="1.9"/><ellipse cx="769.3" cy="492.0" rx="0.9" ry="1.9"/><ellipse cx="780.7" cy="423.6" rx="0.9" ry="1.7"/><ellipse cx="786.9" cy="409.7" rx="0.9" ry="1.6"/><ellipse cx="759.2" cy="387.6" rx="0.9" ry="1.5"/><ellipse cx="765.2" cy="473.8" rx="0.7" ry="1.5"/><ellipse cx="772.5" cy="510.5" rx="0.9" ry="1.1"/><ellipse cx="773.3" cy="389.0" rx="0.8" ry="1.6"/><ellipse cx="778.5" cy="368.7" rx="0.8" ry="1.2"/><ellipse cx="771.5" cy="452.1" rx="0.8" ry="1.7"/><ellipse cx="764.1" cy="449.3" rx="0.7" ry="1.2"/><ellipse cx="776.0" cy="394.4" rx="1.0" ry="1.3"/><ellipse cx="757.6" cy="502.9" rx="0.6" ry="1.3"/><ellipse cx="776.8" cy="369.8" rx="0.9" ry="1.5"/><ellipse cx="788.2" cy="421.0" rx="1.0" ry="1.9"/><ellipse cx="771.3" cy="380.3" rx="0.8" ry="1.7"/><ellipse cx="753.6" cy="476.3" rx="0.8" ry="1.7"/><ellipse cx="766.7" cy="528.5" rx="0.7" ry="1.4"/><ellipse cx="764.4" cy="463.6" rx="0.7" ry="1.3"/><ellipse cx="769.5" cy="526.3" rx="0.6" ry="1.3"/><ellipse cx="758.8" cy="490.4" rx="0.9" ry="1.0"/><ellipse cx="781.3" cy="519.1" rx="0.8" ry="1.5"/><ellipse cx="781.7" cy="527.0" rx="0.7" ry="1.6"/><ellipse cx="756.4" cy="430.0" rx="1.0" ry="1.6"/><ellipse cx="772.5" cy="444.0" rx="0.8" ry="1.0"/><ellipse cx="773.5" cy="529.4" rx="0.7" ry="1.0"/><ellipse cx="775.7" cy="509.0" rx="0.8" ry="1.1"/><ellipse cx="776.4" cy="480.4" rx="0.7" ry="1.7"/><ellipse cx="772.8" cy="502.7" rx="0.7" ry="1.3"/><ellipse cx="777.1" cy="482.4" rx="1.0" ry="1.8"/><ellipse cx="779.1" cy="368.8" rx="0.8" ry="1.6"/><ellipse cx="781.2" cy="421.3" rx="0.6" ry="1.5"/><ellipse cx="760.4" cy="456.2" rx="0.7" ry="1.8"/><ellipse cx="754.7" cy="463.4" rx="1.0" ry="1.6"/><ellipse cx="758.8" cy="461.6" rx="1.0" ry="1.6"/><ellipse cx="785.7" cy="507.7" rx="0.8" ry="1.1"/><ellipse cx="778.1" cy="450.0" rx="1.0" ry="1.4"/><ellipse cx="779.0" cy="391.9" rx="0.9" ry="1.8"/><ellipse cx="782.3" cy="500.9" rx="0.9" ry="1.2"/><ellipse cx="765.3" cy="415.5" rx="0.7" ry="1.5"/><ellipse cx="766.4" cy="480.7" rx="1.0" ry="1.9"/><ellipse cx="753.7" cy="472.3" rx="0.9" ry="1.4"/><ellipse cx="779.6" cy="519.0" rx="0.7" ry="1.6"/><ellipse cx="759.2" cy="443.0" rx="0.8" ry="1.7"/><ellipse cx="785.8" cy="517.2" rx="0.8" ry="1.6"/><ellipse cx="776.6" cy="460.5" rx="0.7" ry="1.2"/><ellipse cx="787.5" cy="469.8" rx="0.7" ry="1.3"/><ellipse cx="758.3" cy="388.7" rx="0.8" ry="1.3"/><ellipse cx="754.3" cy="452.6" rx="1.0" ry="1.4"/><ellipse cx="767.8" cy="432.9" rx="0.7" ry="1.3"/><ellipse cx="760.5" cy="441.1" rx="1.0" ry="1.3"/><ellipse cx="784.8" cy="453.2" rx="0.9" ry="1.4"/><ellipse cx="767.5" cy="519.8" rx="0.9" ry="1.2"/><ellipse cx="764.5" cy="434.9" rx="0.9" ry="1.3"/><ellipse cx="763.0" cy="419.5" rx="1.0" ry="1.7"/><ellipse cx="784.2" cy="521.5" rx="0.7" ry="1.5"/><ellipse cx="779.2" cy="451.1" rx="0.8" ry="1.6"/><ellipse cx="776.0" cy="397.4" rx="0.6" ry="1.2"/><ellipse cx="754.8" cy="420.5" rx="0.6" ry="1.1"/><ellipse cx="776.9" cy="400.8" rx="0.9" ry="1.4"/><ellipse cx="783.2" cy="463.3" rx="1.0" ry="1.4"/><ellipse cx="768.4" cy="527.3" rx="0.9" ry="1.4"/><ellipse cx="784.5" cy="492.8" rx="0.9" ry="1.0"/><ellipse cx="785.1" cy="385.5" rx="0.6" ry="1.3"/><ellipse cx="760.5" cy="408.7" rx="0.8" ry="1.5"/><ellipse cx="777.7" cy="516.4" rx="0.9" ry="1.8"/><ellipse cx="768.8" cy="392.6" rx="0.9" ry="1.9"/><ellipse cx="759.6" cy="473.0" rx="0.8" ry="1.9"/><ellipse cx="754.8" cy="449.6" rx="0.8" ry="1.3"/><ellipse cx="779.9" cy="367.2" rx="0.7" ry="1.9"/><ellipse cx="769.9" cy="369.5" rx="0.9" ry="1.6"/><ellipse cx="786.5" cy="519.7" rx="1.0" ry="1.2"/><ellipse cx="764.9" cy="487.3" rx="0.8" ry="1.3"/><ellipse cx="755.0" cy="401.3" rx="0.7" ry="1.3"/><ellipse cx="778.4" cy="400.5" rx="0.7" ry="1.1"/><ellipse cx="768.0" cy="468.5" rx="0.9" ry="1.6"/><ellipse cx="772.6" cy="487.1" rx="1.0" ry="1.8"/><ellipse cx="753.6" cy="527.6" rx="0.8" ry="1.9"/><ellipse cx="780.6" cy="446.8" rx="0.6" ry="1.1"/><ellipse cx="781.1" cy="368.3" rx="0.6" ry="1.6"/><ellipse cx="775.1" cy="483.7" rx="0.6" ry="1.9"/><ellipse cx="780.1" cy="369.1" rx="0.9" ry="1.3"/><ellipse cx="761.8" cy="473.0" rx="1.0" ry="1.0"/><ellipse cx="782.1" cy="527.9" rx="0.6" ry="1.8"/><ellipse cx="754.1" cy="422.6" rx="0.6" ry="1.2"/><ellipse cx="759.7" cy="464.0" rx="0.8" ry="1.9"/><ellipse cx="780.3" cy="380.0" rx="0.6" ry="1.3"/><ellipse cx="782.5" cy="505.4" rx="1.0" ry="1.8"/><ellipse cx="779.5" cy="463.6" rx="1.0" ry="1.7"/><ellipse cx="782.5" cy="518.8" rx="0.8" ry="1.1"/><ellipse cx="775.7" cy="488.0" rx="1.0" ry="1.7"/><ellipse cx="785.3" cy="524.5" rx="0.7" ry="1.8"/><ellipse cx="773.8" cy="441.9" rx="0.8" ry="1.4"/><ellipse cx="768.3" cy="491.6" rx="0.7" ry="1.4"/><ellipse cx="776.6" cy="534.5" rx="0.9" ry="1.5"/><ellipse cx="766.9" cy="481.0" rx="1.0" ry="1.0"/><ellipse cx="767.3" cy="416.0" rx="0.9" ry="1.6"/><ellipse cx="753.7" cy="521.8" rx="0.8" ry="1.1"/><ellipse cx="757.1" cy="379.4" rx="0.7" ry="1.1"/><ellipse cx="778.6" cy="390.9" rx="0.8" ry="1.6"/><ellipse cx="769.2" cy="417.4" rx="0.8" ry="1.4"/><ellipse cx="774.1" cy="468.9" rx="0.7" ry="1.6"/><ellipse cx="783.8" cy="533.9" rx="0.9" ry="1.3"/><ellipse cx="753.6" cy="441.2" rx="1.0" ry="1.9"/><ellipse cx="778.7" cy="400.5" rx="0.7" ry="1.1"/><ellipse cx="768.9" cy="531.3" rx="0.7" ry="1.7"/><ellipse cx="773.0" cy="413.2" rx="0.8" ry="1.0"/><ellipse cx="776.1" cy="523.1" rx="0.7" ry="1.9"/><ellipse cx="763.8" cy="428.1" rx="0.9" ry="1.2"/><ellipse cx="754.9" cy="453.3" rx="0.8" ry="1.1"/><ellipse cx="759.8" cy="386.6" rx="0.7" ry="1.1"/><ellipse cx="776.6" cy="520.7" rx="0.9" ry="1.2"/><ellipse cx="773.1" cy="531.8" rx="0.8" ry="1.7"/><ellipse cx="753.8" cy="499.2" rx="1.0" ry="1.5"/><ellipse cx="785.3" cy="470.0" rx="1.0" ry="1.4"/><ellipse cx="767.2" cy="414.0" rx="0.9" ry="1.7"/><ellipse cx="754.8" cy="482.8" rx="0.6" ry="1.6"/><ellipse cx="778.9" cy="525.3" rx="0.9" ry="1.6"/><ellipse cx="777.8" cy="483.3" rx="0.9" ry="1.6"/><ellipse cx="783.6" cy="428.7" rx="1.0" ry="1.2"/><ellipse cx="755.2" cy="376.0" rx="0.8" ry="1.8"/><ellipse cx="758.0" cy="519.8" rx="0.8" ry="1.6"/><ellipse cx="759.4" cy="538.4" rx="0.8" ry="1.2"/><ellipse cx="775.7" cy="375.0" rx="0.9" ry="1.8"/><ellipse cx="758.0" cy="410.7" rx="0.7" ry="1.2"/><ellipse cx="775.6" cy="507.6" rx="0.8" ry="1.6"/><ellipse cx="785.7" cy="508.2" rx="0.8" ry="1.8"/><ellipse cx="760.2" cy="509.1" rx="0.6" ry="1.3"/><ellipse cx="757.3" cy="464.4" rx="0.7" ry="1.5"/><ellipse cx="759.5" cy="483.1" rx="0.8" ry="1.3"/><ellipse cx="758.6" cy="497.8" rx="0.7" ry="1.3"/><ellipse cx="786.1" cy="519.0" rx="0.9" ry="1.6"/><ellipse cx="783.4" cy="511.3" rx="1.0" ry="1.7"/><ellipse cx="768.3" cy="497.8" rx="0.8" ry="1.5"/><ellipse cx="754.5" cy="394.1" rx="0.9" ry="1.1"/><ellipse cx="757.1" cy="517.9" rx="1.0" ry="1.9"/><ellipse cx="781.5" cy="418.9" rx="0.9" ry="1.5"/><ellipse cx="756.5" cy="394.5" rx="0.9" ry="1.4"/><ellipse cx="774.0" cy="526.2" rx="0.6" ry="1.1"/><ellipse cx="788.2" cy="387.2" rx="0.8" ry="1.5"/><ellipse cx="763.0" cy="433.4" rx="0.7" ry="1.7"/><ellipse cx="761.6" cy="491.6" rx="0.8" ry="1.5"/><ellipse cx="756.4" cy="520.0" rx="0.6" ry="1.8"/><ellipse cx="754.3" cy="433.0" rx="0.8" ry="1.6"/><ellipse cx="763.0" cy="539.1" rx="0.8" ry="1.2"/><ellipse cx="779.6" cy="480.6" rx="0.9" ry="1.9"/><ellipse cx="784.8" cy="419.8" rx="1.0" ry="1.8"/><ellipse cx="755.6" cy="455.4" rx="1.0" ry="1.4"/><ellipse cx="765.5" cy="450.9" rx="1.0" ry="1.0"/><ellipse cx="776.9" cy="489.2" rx="1.0" ry="1.6"/><ellipse cx="763.1" cy="479.2" rx="0.9" ry="1.1"/><ellipse cx="781.2" cy="470.6" rx="0.9" ry="1.6"/><ellipse cx="775.5" cy="392.8" rx="0.7" ry="1.0"/><ellipse cx="764.8" cy="404.7" rx="0.9" ry="1.1"/><ellipse cx="758.2" cy="456.5" rx="1.0" ry="1.4"/><ellipse cx="755.6" cy="527.2" rx="0.9" ry="1.8"/><ellipse cx="780.2" cy="523.2" rx="1.0" ry="1.7"/><ellipse cx="784.2" cy="483.2" rx="1.0" ry="1.8"/><ellipse cx="759.5" cy="449.7" rx="1.0" ry="1.6"/><ellipse cx="775.5" cy="439.0" rx="0.6" ry="1.4"/><ellipse cx="753.9" cy="395.8" rx="0.8" ry="1.4"/><ellipse cx="776.0" cy="469.1" rx="0.9" ry="1.5"/><ellipse cx="781.7" cy="373.5" rx="0.8" ry="1.8"/><ellipse cx="780.0" cy="510.7" rx="1.0" ry="1.1"/><ellipse cx="771.0" cy="519.8" rx="0.7" ry="1.5"/><ellipse cx="760.2" cy="379.6" rx="1.0" ry="1.7"/><ellipse cx="781.2" cy="521.5" rx="0.9" ry="1.8"/><ellipse cx="781.2" cy="445.9" rx="0.8" ry="1.2"/></g>
<rect x="771.3" y="367.1" width="0.6" height="172.5" fill="#4a6a28" opacity="0.4"/>
<rect x="781.2" y="367.1" width="0.6" height="172.5" fill="#4a7028" opacity="0.3"/>
<rect x="753.6" y="367.1" width="35.39999999999998" height="172.5" fill="none" stroke="#6e7a50" stroke-width="1.2" opacity="0.35"/>
</g>
<g clip-path="url(#lf23)">
<rect x="806" y="367.1" width="35.299999999999955" height="172.5" fill="#a8c886"/>
<ellipse cx="838.6" cy="530.7" rx="7.5" ry="9.0" fill="#94b870" opacity="0.5" filter="url(#b3)"/>
<ellipse cx="826.9" cy="440.2" rx="5.7" ry="9.6" fill="#94b870" opacity="0.5" filter="url(#b3)"/>
<ellipse cx="812.8" cy="443.8" rx="4.1" ry="13.5" fill="#94b870" opacity="0.5" filter="url(#b3)"/>
<ellipse cx="806.9" cy="381.9" rx="6.6" ry="13.1" fill="#94b870" opacity="0.5" filter="url(#b3)"/>
<ellipse cx="824.1" cy="493.8" rx="4.8" ry="8.7" fill="#94b870" opacity="0.5" filter="url(#b3)"/>
<ellipse cx="833.6" cy="468.7" rx="6.3" ry="15.5" fill="#94b870" opacity="0.5" filter="url(#b3)"/>
<g filter="url(#b05)"><rect x="807.9" y="367.1" width="1.2" height="172.5" fill="#c4dca4" opacity="0.29"/><rect x="810.3" y="367.1" width="0.9" height="172.5" fill="#98b878" opacity="0.22"/><rect x="812.6" y="367.1" width="1.1" height="172.5" fill="#98b878" opacity="0.31"/><rect x="815.1" y="367.1" width="0.8" height="172.5" fill="#c4dca4" opacity="0.28"/><rect x="817.8" y="367.1" width="0.8" height="172.5" fill="#c4dca4" opacity="0.22"/><rect x="819.5" y="367.1" width="1.1" height="172.5" fill="#c4dca4" opacity="0.41"/><rect x="821.6" y="367.1" width="0.9" height="172.5" fill="#c4dca4" opacity="0.28"/><rect x="824.3" y="367.1" width="0.9" height="172.5" fill="#98b878" opacity="0.23"/><rect x="827.0" y="367.1" width="1.3" height="172.5" fill="#98b878" opacity="0.26"/><rect x="829.3" y="367.1" width="1.1" height="172.5" fill="#98b878" opacity="0.44"/><rect x="831.1" y="367.1" width="0.7" height="172.5" fill="#98b878" opacity="0.30"/><rect x="832.8" y="367.1" width="1.2" height="172.5" fill="#98b878" opacity="0.44"/><rect x="835.5" y="367.1" width="1.1" height="172.5" fill="#98b878" opacity="0.45"/><rect x="838.2" y="367.1" width="1.4" height="172.5" fill="#c4dca4" opacity="0.29"/><rect x="840.0" y="367.1" width="1.0" height="172.5" fill="#c4dca4" opacity="0.25"/></g>
<g fill="#d09040" opacity="0.8" filter="url(#b05)"><ellipse cx="839.6" cy="404.4" rx="0.6" ry="1.5"/><ellipse cx="812.0" cy="460.9" rx="1.0" ry="1.2"/><ellipse cx="820.9" cy="522.5" rx="0.8" ry="1.3"/><ellipse cx="837.5" cy="507.5" rx="1.0" ry="1.6"/><ellipse cx="820.6" cy="486.6" rx="1.0" ry="1.6"/><ellipse cx="814.4" cy="418.0" rx="0.8" ry="1.7"/><ellipse cx="825.7" cy="462.0" rx="1.0" ry="1.1"/><ellipse cx="828.3" cy="424.5" rx="0.9" ry="1.8"/><ellipse cx="814.8" cy="531.2" rx="0.6" ry="1.5"/><ellipse cx="825.1" cy="407.7" rx="0.9" ry="1.4"/><ellipse cx="821.9" cy="491.0" rx="0.6" ry="1.3"/><ellipse cx="833.7" cy="391.6" rx="1.0" ry="1.2"/><ellipse cx="830.0" cy="397.0" rx="0.8" ry="1.4"/><ellipse cx="808.9" cy="487.8" rx="0.8" ry="1.6"/><ellipse cx="825.0" cy="463.0" rx="0.8" ry="1.3"/><ellipse cx="837.7" cy="382.0" rx="1.0" ry="1.8"/><ellipse cx="823.6" cy="501.1" rx="0.9" ry="1.5"/><ellipse cx="816.3" cy="422.2" rx="0.8" ry="1.3"/><ellipse cx="839.9" cy="426.0" rx="0.8" ry="1.4"/><ellipse cx="834.8" cy="449.5" rx="0.8" ry="1.2"/><ellipse cx="815.8" cy="382.5" rx="0.7" ry="1.2"/><ellipse cx="836.1" cy="453.8" rx="0.6" ry="1.4"/><ellipse cx="810.3" cy="464.7" rx="0.8" ry="1.8"/><ellipse cx="815.2" cy="513.9" rx="0.7" ry="1.9"/><ellipse cx="828.4" cy="374.5" rx="1.0" ry="1.2"/><ellipse cx="818.8" cy="392.4" rx="1.0" ry="1.1"/><ellipse cx="832.1" cy="435.4" rx="0.9" ry="1.3"/><ellipse cx="808.8" cy="525.0" rx="0.9" ry="1.2"/></g>
<g fill="#f0f4e8" opacity="0.5" filter="url(#b05)"><ellipse cx="840.5" cy="524.4" rx="0.7" ry="1.0"/><ellipse cx="827.6" cy="391.1" rx="0.9" ry="1.4"/><ellipse cx="831.0" cy="465.4" rx="0.9" ry="1.7"/><ellipse cx="827.3" cy="469.1" rx="0.7" ry="1.1"/><ellipse cx="809.3" cy="514.9" rx="0.7" ry="1.4"/><ellipse cx="817.2" cy="474.0" rx="0.8" ry="1.8"/><ellipse cx="821.4" cy="429.5" rx="0.9" ry="1.7"/><ellipse cx="838.7" cy="420.9" rx="1.0" ry="1.9"/><ellipse cx="840.7" cy="389.4" rx="0.8" ry="1.7"/><ellipse cx="835.3" cy="373.9" rx="0.8" ry="1.7"/></g>
<rect x="823.6" y="367.1" width="0.6" height="172.5" fill="#6a8a50" opacity="0.4"/>
<rect x="834.2" y="367.1" width="0.6" height="172.5" fill="#6a8a50" opacity="0.3"/>
<rect x="806" y="367.1" width="35.299999999999955" height="172.5" fill="none" stroke="#6e7a50" stroke-width="1.2" opacity="0.35"/>
</g>
<text x="868.78" y="305.99" font-size="11" text-anchor="start" fill="#000" id="I">I</text>
<rect x="916.1" y="384.444" width="29.600000000000023" height="86.856" fill="#17788f"/>
<rect x="962.2" y="373.4792" width="30.799999999999955" height="97.82080000000002" fill="#17788f"/>
<rect x="1008.2" y="413.2112" width="31.0" height="58.08879999999999" fill="#17788f"/>
<line x1="930.9000000000001" y1="376.4" x2="930.9000000000001" y2="392.2" stroke="#111" stroke-width="1.2"/>
<line x1="923.2040000000001" y1="376.4" x2="938.5960000000001" y2="376.4" stroke="#111" stroke-width="1.2"/>
<line x1="923.2040000000001" y1="392.2" x2="938.5960000000001" y2="392.2" stroke="#111" stroke-width="1.2"/>
<line x1="977.6" y1="366.5" x2="977.6" y2="380.5" stroke="#111" stroke-width="1.2"/>
<line x1="969.592" y1="366.5" x2="985.6080000000001" y2="366.5" stroke="#111" stroke-width="1.2"/>
<line x1="969.592" y1="380.5" x2="985.6080000000001" y2="380.5" stroke="#111" stroke-width="1.2"/>
<line x1="1023.7" y1="406.2" x2="1023.7" y2="418.6" stroke="#111" stroke-width="1.2"/>
<line x1="1015.6400000000001" y1="406.2" x2="1031.76" y2="406.2" stroke="#111" stroke-width="1.2"/>
<line x1="1015.6400000000001" y1="418.6" x2="1031.76" y2="418.6" stroke="#111" stroke-width="1.2"/>
<line x1="900.3" y1="317.3" x2="1054.4" y2="317.3" stroke="#111" stroke-width="1.2"/>
<line x1="1054.4" y1="317.3" x2="1054.4" y2="471.3" stroke="#111" stroke-width="1.2"/>
<line x1="900.3" y1="316.7" x2="900.3" y2="471.3" stroke="#111" stroke-width="1.4"/>
<line x1="894.8" y1="471.3" x2="1054.4" y2="471.3" stroke="#111" stroke-width="1.3"/>
<line x1="894.8" y1="471.3" x2="900.3" y2="471.3" stroke="#111" stroke-width="1.1"/>
<text x="893.5" y="473.5" font-size="12" text-anchor="end" fill="#000">0</text>
<line x1="894.8" y1="440.5" x2="900.3" y2="440.5" stroke="#111" stroke-width="1.1"/>
<text x="893.5" y="442.7" font-size="12" text-anchor="end" fill="#000">50</text>
<line x1="894.8" y1="409.7" x2="900.3" y2="409.7" stroke="#111" stroke-width="1.1"/>
<text x="893.5" y="411.9" font-size="12" text-anchor="end" fill="#000">100</text>
<line x1="894.8" y1="378.9" x2="900.3" y2="378.9" stroke="#111" stroke-width="1.1"/>
<text x="893.5" y="381.09999999999997" font-size="12" text-anchor="end" fill="#000">150</text>
<line x1="894.8" y1="348.1" x2="900.3" y2="348.1" stroke="#111" stroke-width="1.1"/>
<text x="893.5" y="350.3" font-size="12" text-anchor="end" fill="#000">200</text>
<line x1="894.8" y1="317.3" x2="900.3" y2="317.3" stroke="#111" stroke-width="1.1"/>
<text x="893.5" y="319.5" font-size="12" text-anchor="end" fill="#000">250</text>
<line x1="930.9000000000001" y1="471.3" x2="930.9000000000001" y2="476.6" stroke="#111" stroke-width="1.1"/>
<line x1="977.6" y1="471.3" x2="977.6" y2="476.6" stroke="#111" stroke-width="1.1"/>
<line x1="1023.7" y1="471.3" x2="1023.7" y2="476.6" stroke="#111" stroke-width="1.1"/>
<text x="930.6" y="369.6" font-size="12" text-anchor="middle" fill="#000">a</text>
<text x="976.9" y="361.2" font-size="12" text-anchor="middle" fill="#000">a</text>
<text x="1022.9" y="399.9" font-size="12" text-anchor="middle" fill="#000">b</text>
<text x="870.64" y="393.85" font-size="11.72" text-anchor="middle" fill="#000" transform="rotate(-90 870.64 393.85)" id="I_ylab">Uredinia number/leaf area</text>
<text x="919.13" y="501.36" font-size="11.316" text-anchor="start" fill="#000" transform="rotate(-30 919.13 501.36)" id="I_mock">mock</text>
<text x="965.3" y="503.36" font-size="12.008" text-anchor="start" fill="#000" transform="rotate(-30 965.3 503.36)" id="I_vox1">VOX:</text>
<text x="981.49" y="510.56" font-size="11.654" text-anchor="start" fill="#000" font-style="italic" transform="rotate(-30 981.49 510.56)" id="I_00">00</text>
<text x="1011.14" y="503.36" font-size="12.135" text-anchor="start" fill="#000" transform="rotate(-30 1011.14 503.36)" id="I_vox2">VOX:</text>
<text x="1004.15" y="523.79" font-size="12.17" text-anchor="start" fill="#000" font-style="italic" transform="rotate(-30 1004.15 523.79)" id="I_Ta">TaRLCK185</text>
<text x="897.52" y="537.36" font-size="12.082" text-anchor="start" fill="#000" id="I_dpi">13 days post inoculation (dpi)</text>
<text x="1064.22" y="308.34" font-size="11" text-anchor="start" fill="#000" id="J">J</text>
<rect x="1123.1" y="345.09000000000003" width="30.90000000000009" height="126.90999999999997" fill="#17788f"/>
<rect x="1170.3" y="346.644" width="30.600000000000136" height="125.356" fill="#17788f"/>
<rect x="1216" y="365.70640000000003" width="31.299999999999955" height="106.29359999999997" fill="#17788f"/>
<line x1="1138.55" y1="343.3" x2="1138.55" y2="346.4" stroke="#111" stroke-width="1.2"/>
<line x1="1130.5159999999998" y1="343.3" x2="1146.584" y2="343.3" stroke="#111" stroke-width="1.2"/>
<line x1="1130.5159999999998" y1="346.4" x2="1146.584" y2="346.4" stroke="#111" stroke-width="1.2"/>
<line x1="1185.6" y1="345.3" x2="1185.6" y2="347" stroke="#111" stroke-width="1.2"/>
<line x1="1177.6439999999998" y1="345.3" x2="1193.556" y2="345.3" stroke="#111" stroke-width="1.2"/>
<line x1="1177.6439999999998" y1="347" x2="1193.556" y2="347" stroke="#111" stroke-width="1.2"/>
<line x1="1231.65" y1="364" x2="1231.65" y2="367" stroke="#111" stroke-width="1.2"/>
<line x1="1223.5120000000002" y1="364" x2="1239.788" y2="364" stroke="#111" stroke-width="1.2"/>
<line x1="1223.5120000000002" y1="367" x2="1239.788" y2="367" stroke="#111" stroke-width="1.2"/>
<line x1="1107.4" y1="316.6" x2="1263.6" y2="316.6" stroke="#111" stroke-width="1.2"/>
<line x1="1263.6" y1="316.6" x2="1263.6" y2="472" stroke="#999" stroke-width="1.2"/>
<line x1="1107.4" y1="316.0" x2="1107.4" y2="472" stroke="#111" stroke-width="1.4"/>
<line x1="1101.9" y1="472" x2="1263.6" y2="472" stroke="#111" stroke-width="1.3"/>
<line x1="1101.9" y1="472.0" x2="1107.4" y2="472.0" stroke="#111" stroke-width="1.1"/>
<text x="1100.6000000000001" y="474.2" font-size="12" text-anchor="end" fill="#000">0.0</text>
<line x1="1101.9" y1="420.2" x2="1107.4" y2="420.2" stroke="#111" stroke-width="1.1"/>
<text x="1100.6000000000001" y="422.4" font-size="12" text-anchor="end" fill="#000">0.5</text>
<line x1="1101.9" y1="368.40000000000003" x2="1107.4" y2="368.40000000000003" stroke="#111" stroke-width="1.1"/>
<text x="1100.6000000000001" y="370.6" font-size="12" text-anchor="end" fill="#000">1.0</text>
<line x1="1101.9" y1="316.6" x2="1107.4" y2="316.6" stroke="#111" stroke-width="1.1"/>
<text x="1100.6000000000001" y="318.8" font-size="12" text-anchor="end" fill="#000">1.5</text>
<line x1="1138.55" y1="472" x2="1138.55" y2="477.3" stroke="#111" stroke-width="1.1"/>
<line x1="1185.6" y1="472" x2="1185.6" y2="477.3" stroke="#111" stroke-width="1.1"/>
<line x1="1231.65" y1="472" x2="1231.65" y2="477.3" stroke="#111" stroke-width="1.1"/>
<text x="1138.9" y="337.7" font-size="12" text-anchor="middle" fill="#000">a</text>
<text x="1185" y="340" font-size="12" text-anchor="middle" fill="#000">a</text>
<text x="1231.7" y="358" font-size="12" text-anchor="middle" fill="#000">b</text>
<text x="1076.29" y="393.37" font-size="12.3" text-anchor="middle" fill="#000" transform="rotate(-90 1076.29 393.37)" id="J_ylab">Biomass ratio (<tspan font-style="italic">Pst</tspan>/Wheat)</text>
<text x="1124.48" y="501.91" font-size="11.501" text-anchor="start" fill="#000" transform="rotate(-30 1124.48 501.91)" id="J_mock">mock</text>
<text x="1171.66" y="502.73" font-size="12.013" text-anchor="start" fill="#000" transform="rotate(-30 1171.66 502.73)" id="J_vox1">VOX:</text>
<text x="1186.75" y="509.53" font-size="11.257" text-anchor="start" fill="#000" font-style="italic" transform="rotate(-30 1186.75 509.53)" id="J_00">00</text>
<text x="1217.51" y="502.73" font-size="11.774" text-anchor="start" fill="#000" transform="rotate(-30 1217.51 502.73)" id="J_vox2">VOX:</text>
<text x="1210.95" y="523.08" font-size="11.985" text-anchor="start" fill="#000" font-style="italic" transform="rotate(-30 1210.95 523.08)" id="J_Ta">TaRLCK185</text>
<text x="1102.92" y="539.74" font-size="12.092" text-anchor="start" fill="#000" id="J_dpi">13 days post inoculation (dpi)</text>
</svg></body></html>
